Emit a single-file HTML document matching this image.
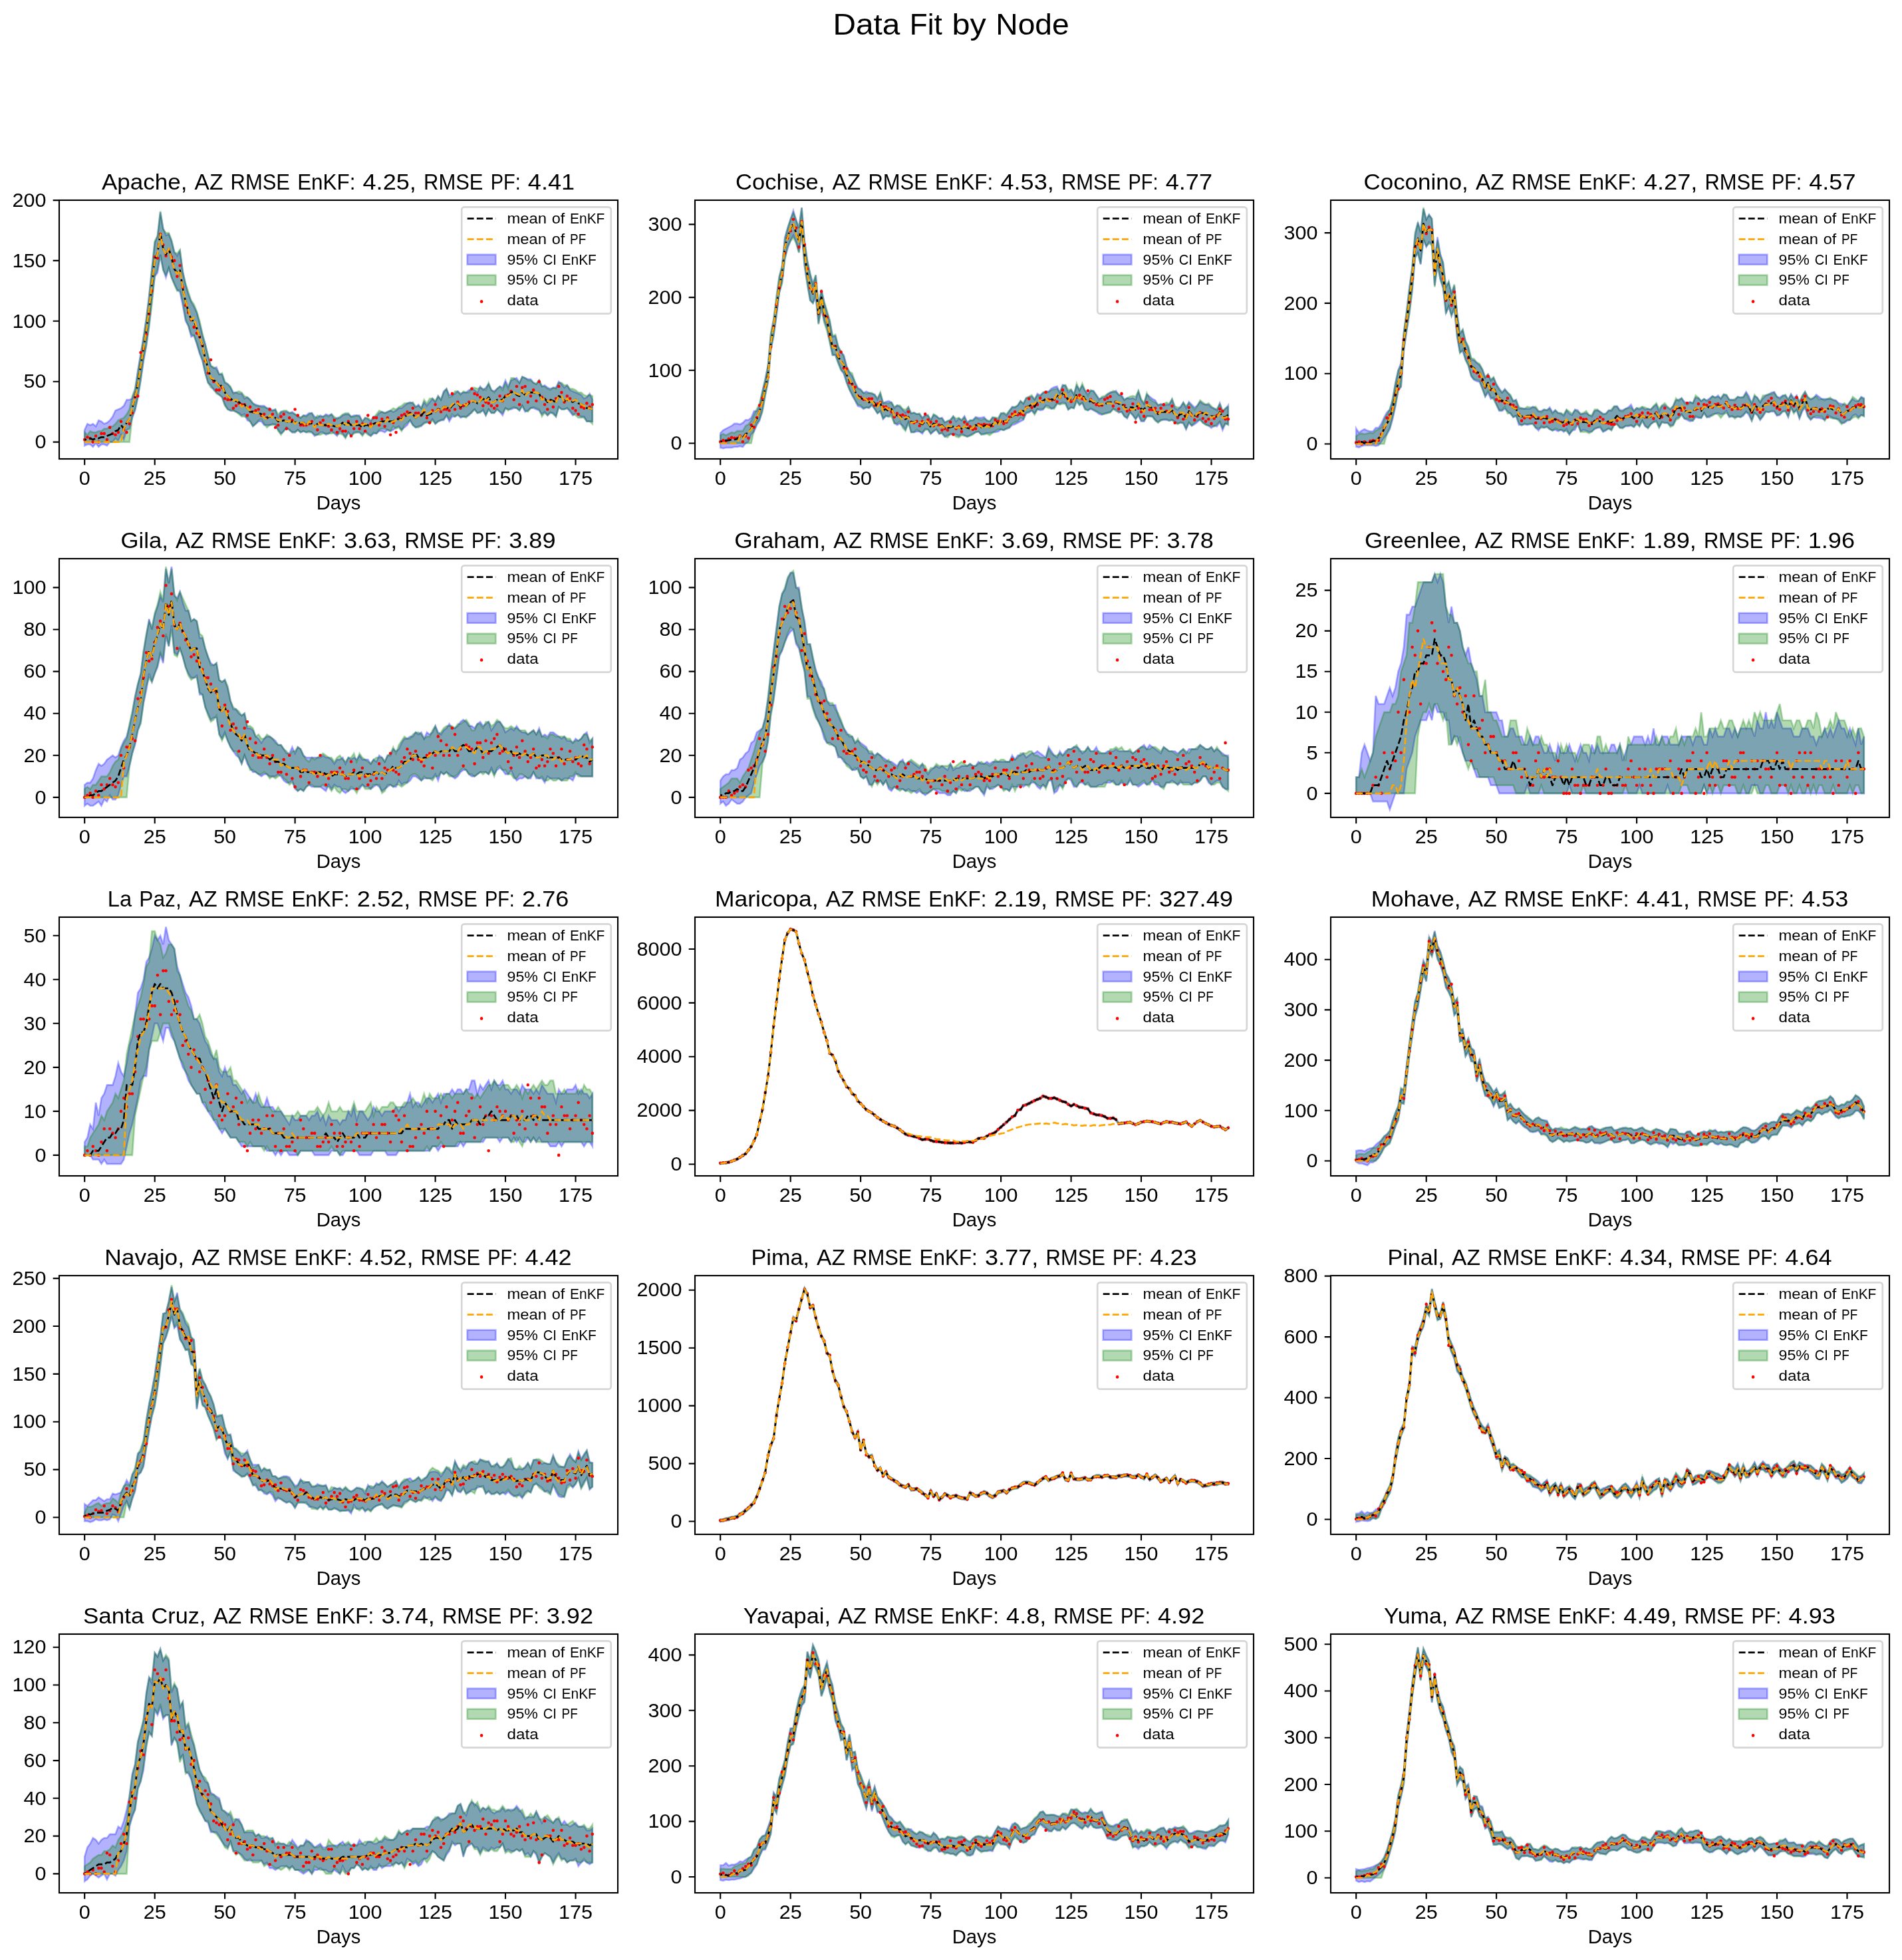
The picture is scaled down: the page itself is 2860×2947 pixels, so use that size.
<!DOCTYPE html>
<html lang="en"><head><meta charset="utf-8"><title>Data Fit by Node</title>
<style>
html,body{margin:0;padding:0;background:#fff}
body{width:2860px;height:2947px;overflow:hidden}
svg{display:block;will-change:transform;font-family:"Liberation Sans",sans-serif;fill:#000}
.b{fill-opacity:.3;stroke-opacity:.3;stroke-width:2.67;stroke-linejoin:miter}
.l{fill:none;stroke-width:2.67;stroke-dasharray:9.87 4.27;stroke-linejoin:round}
.k{stroke-dashoffset:7}
.d{fill:none;stroke:#f00;stroke-width:4.6;stroke-linecap:round}
.s{fill:none;stroke:#000;stroke-width:2.13;stroke-linecap:butt;stroke-linejoin:miter}
.lf{fill:#fff;fill-opacity:.8;stroke:#ccc;stroke-opacity:.8;stroke-width:2.67}
</style></head><body>
<svg width="2860" height="2947" viewBox="0 0 2860 2947">
<rect width="2860" height="2947" fill="#fff"/>
<text y="51.5" font-size="44.8"><tspan x="1252.4" textLength="100.9" lengthAdjust="spacingAndGlyphs">Data</tspan> <tspan x="1367.8" textLength="49" lengthAdjust="spacingAndGlyphs">Fit</tspan> <tspan x="1431.4" textLength="51.3" lengthAdjust="spacingAndGlyphs">by</tspan> <tspan x="1497.3" textLength="110.4" lengthAdjust="spacingAndGlyphs">Node</tspan></text>
<g>
<polygon class="b" fill="#00f" stroke="#00f" points="127.2,646.4 131.4,637.3 135.6,639.2 139.8,637.3 144.1,641 148.3,631.9 152.5,633.7 156.7,637.3 160.9,635.5 165.2,631.9 169.4,626.4 173.6,617.3 177.8,615.5 182,613.7 186.2,610.1 190.5,601 194.7,601 198.9,599.2 203.1,586.4 207.3,557.4 211.6,531.9 215.8,506.5 220,479.2 224.2,444.7 228.4,404.7 232.7,364.7 236.9,355.6 241.1,319.2 245.3,342.9 249.5,353.8 253.8,352 258,362.9 262.2,379.2 266.4,384.7 270.6,377.4 274.8,408.3 279.1,428.3 283.3,442.8 287.5,453.7 291.7,461 295.9,470.1 300.2,486.5 304.4,504.6 308.6,517.4 312.8,535.5 317,550.1 321.3,553.7 325.5,551.9 329.7,562.8 333.9,562.8 338.1,575.5 342.4,577.4 346.6,582.8 350.8,590.1 355,590.1 359.2,591.9 363.4,591.9 367.7,599.2 371.9,597.3 376.1,601 380.3,606.4 384.5,608.3 388.8,610.1 393,610.1 397.2,610.1 401.4,613.7 405.6,613.7 409.9,617.3 414.1,615.5 418.3,628.2 422.5,619.2 426.7,619.2 430.9,619.2 435.2,621 439.4,619.2 443.6,622.8 447.8,626.4 452,628.2 456.3,624.6 460.5,624.6 464.7,621 468.9,621 473.1,626.4 477.4,628.2 481.6,624.6 485.8,626.4 490,622.8 494.2,624.6 498.5,622.8 502.7,630.1 506.9,628.2 511.1,628.2 515.3,624.6 519.5,622.8 523.8,622.8 528,626.4 532.2,624.6 536.4,624.6 540.6,624.6 544.9,633.7 549.1,628.2 553.3,630.1 557.5,633.7 561.7,626.4 566,626.4 570.2,621 574.4,619.2 578.6,621 582.8,619.2 587.1,617.3 591.3,619.2 595.5,617.3 599.7,613.7 603.9,613.7 608.1,610.1 612.4,606.4 616.6,604.6 620.8,606.4 625,611.9 629.2,608.3 633.5,613.7 637.7,604.6 641.9,610.1 646.1,604.6 650.3,599.2 654.6,604.6 658.8,595.5 663,601 667.2,588.3 671.4,584.6 675.6,593.7 679.9,593.7 684.1,591.9 688.3,588.3 692.5,591.9 696.7,590.1 701,590.1 705.2,586.4 709.4,584.6 713.6,586.4 717.8,590.1 722.1,581 726.3,586.4 730.5,582.8 734.7,577.4 738.9,586.4 743.2,588.3 747.4,584.6 751.6,581 755.8,582.8 760,571.9 764.2,581 768.5,571.9 772.7,570.1 776.9,568.3 781.1,575.5 785.3,566.4 789.6,568.3 793.8,570.1 798,570.1 802.2,575.5 806.4,577.4 810.7,571.9 814.9,581 819.1,579.2 823.3,582.8 827.5,584.6 831.8,582.8 836,582.8 840.2,573.7 844.4,577.4 848.6,582.8 852.8,579.2 857.1,586.4 861.3,588.3 865.5,590.1 869.7,591.9 873.9,593.7 878.2,599.2 882.4,597.3 886.6,591.9 890.8,601 890.8,633.7 886.6,633.7 882.4,633.7 878.2,626.4 873.9,626.4 869.7,624.6 865.5,621 861.3,624.6 857.1,619.2 852.8,613.7 848.6,615.5 844.4,615.5 840.2,611.9 836,626.4 831.8,621 827.5,621 823.3,624.6 819.1,619.2 814.9,622.8 810.7,617.3 806.4,615.5 802.2,613.7 798,613.7 793.8,617.3 789.6,619.2 785.3,610.1 781.1,617.3 776.9,613.7 772.7,613.7 768.5,615.5 764.2,615.5 760,613.7 755.8,624.6 751.6,619.2 747.4,615.5 743.2,621 738.9,621 734.7,615.5 730.5,624.6 726.3,617.3 722.1,619.2 717.8,621 713.6,615.5 709.4,619.2 705.2,624.6 701,626.4 696.7,626.4 692.5,628.2 688.3,622.8 684.1,626.4 679.9,626.4 675.6,633.7 671.4,624.6 667.2,631.9 663,631.9 658.8,633.7 654.6,637.3 650.3,630.1 646.1,635.5 641.9,635.5 637.7,635.5 633.5,641 629.2,641 625,642.8 620.8,639.2 616.6,631.9 612.4,639.2 608.1,642.8 603.9,646.4 599.7,641 595.5,642.8 591.3,646.4 587.1,648.2 582.8,646.4 578.6,650.1 574.4,648.2 570.2,648.2 566,651.9 561.7,651.9 557.5,655.5 553.3,651.9 549.1,648.2 544.9,653.7 540.6,650.1 536.4,650.1 532.2,650.1 528,655.5 523.8,650.1 519.5,657.3 515.3,651.9 511.1,648.2 506.9,655.5 502.7,651.9 498.5,648.2 494.2,651.9 490,653.7 485.8,650.1 481.6,650.1 477.4,653.7 473.1,655.5 468.9,650.1 464.7,648.2 460.5,650.1 456.3,648.2 452,650.1 447.8,646.4 443.6,650.1 439.4,650.1 435.2,646.4 430.9,642.8 426.7,648.2 422.5,651.9 418.3,646.4 414.1,639.2 409.9,637.3 405.6,639.2 401.4,639.2 397.2,639.2 393,633.7 388.8,633.7 384.5,637.3 380.3,641 376.1,633.7 371.9,631.9 367.7,622.8 363.4,624.6 359.2,621 355,619.2 350.8,617.3 346.6,617.3 342.4,615.5 338.1,608.3 333.9,597.3 329.7,593.7 325.5,590.1 321.3,586.4 317,579.2 312.8,575.5 308.6,561 304.4,542.8 300.2,531.9 295.9,517.4 291.7,504.6 287.5,506.5 283.3,490.1 279.1,482.8 274.8,459.2 270.6,439.2 266.4,435.6 262.2,426.5 258,417.4 253.8,402.9 249.5,417.4 245.3,404.7 241.1,382.9 236.9,410.1 232.7,415.6 228.4,450.1 224.2,488.3 220,519.2 215.8,542.8 211.6,571.9 207.3,597.3 203.1,617.3 198.9,628.2 194.7,644.6 190.5,646.4 186.2,661 182,653.7 177.8,662.8 173.6,659.1 169.4,664.6 165.2,664.6 160.9,670.1 156.7,668.2 152.5,668.2 148.3,671.9 144.1,666.4 139.8,671.9 135.6,668.2 131.4,668.2 127.2,670.1"/>
<polygon class="b" fill="#008000" stroke="#008000" points="127.2,650.1 131.4,653.7 135.6,648.2 139.8,650.1 144.1,650.1 148.3,648.2 152.5,648.2 156.7,644.6 160.9,644.6 165.2,641 169.4,641 173.6,637.3 177.8,631.9 182,630.1 186.2,628.2 190.5,622.8 194.7,615.5 198.9,595.5 203.1,584.6 207.3,559.2 211.6,533.7 215.8,508.3 220,479.2 224.2,446.5 228.4,404.7 232.7,362.9 236.9,353.8 241.1,317.4 245.3,344.7 249.5,350.1 253.8,350.1 258,361 262.2,379.2 266.4,381 270.6,375.6 274.8,408.3 279.1,426.5 283.3,439.2 287.5,451.9 291.7,457.4 295.9,468.3 300.2,482.8 304.4,501 308.6,517.4 312.8,533.7 317,550.1 321.3,551.9 325.5,555.5 329.7,562.8 333.9,561 338.1,573.7 342.4,577.4 346.6,581 350.8,591.9 355,590.1 359.2,588.3 363.4,590.1 367.7,595.5 371.9,597.3 376.1,601 380.3,606.4 384.5,610.1 388.8,610.1 393,611.9 397.2,611.9 401.4,613.7 405.6,617.3 409.9,617.3 414.1,615.5 418.3,622.8 422.5,619.2 426.7,617.3 430.9,617.3 435.2,621 439.4,621 443.6,622.8 447.8,624.6 452,628.2 456.3,624.6 460.5,626.4 464.7,622.8 468.9,621 473.1,630.1 477.4,624.6 481.6,626.4 485.8,626.4 490,624.6 494.2,626.4 498.5,622.8 502.7,626.4 506.9,630.1 511.1,626.4 515.3,622.8 519.5,621 523.8,621 528,626.4 532.2,626.4 536.4,624.6 540.6,626.4 544.9,633.7 549.1,628.2 553.3,628.2 557.5,631.9 561.7,628.2 566,622.8 570.2,617.3 574.4,619.2 578.6,621 582.8,619.2 587.1,617.3 591.3,613.7 595.5,615.5 599.7,611.9 603.9,610.1 608.1,606.4 612.4,606.4 616.6,606.4 620.8,604.6 625,611.9 629.2,610.1 633.5,613.7 637.7,601 641.9,606.4 646.1,599.2 650.3,599.2 654.6,602.8 658.8,595.5 663,601 667.2,590.1 671.4,584.6 675.6,597.3 679.9,595.5 684.1,588.3 688.3,588.3 692.5,593.7 696.7,588.3 701,590.1 705.2,590.1 709.4,582.8 713.6,582.8 717.8,584.6 722.1,582.8 726.3,584.6 730.5,586.4 734.7,575.5 738.9,586.4 743.2,590.1 747.4,584.6 751.6,581 755.8,586.4 760,575.5 764.2,584.6 768.5,568.3 772.7,568.3 776.9,571.9 781.1,575.5 785.3,566.4 789.6,568.3 793.8,571.9 798,571.9 802.2,575.5 806.4,577.4 810.7,571.9 814.9,581 819.1,581 823.3,584.6 827.5,586.4 831.8,582.8 836,584.6 840.2,575.5 844.4,575.5 848.6,579.2 852.8,579.2 857.1,584.6 861.3,584.6 865.5,586.4 869.7,590.1 873.9,590.1 878.2,593.7 882.4,595.5 886.6,593.7 890.8,595.5 890.8,637.3 886.6,633.7 882.4,633.7 878.2,628.2 873.9,628.2 869.7,628.2 865.5,624.6 861.3,622.8 857.1,617.3 852.8,613.7 848.6,615.5 844.4,615.5 840.2,611.9 836,626.4 831.8,622.8 827.5,619.2 823.3,624.6 819.1,621 814.9,626.4 810.7,615.5 806.4,613.7 802.2,611.9 798,613.7 793.8,619.2 789.6,617.3 785.3,610.1 781.1,617.3 776.9,613.7 772.7,611.9 768.5,613.7 764.2,617.3 760,613.7 755.8,621 751.6,619.2 747.4,615.5 743.2,621 738.9,621 734.7,615.5 730.5,624.6 726.3,615.5 722.1,621 717.8,621 713.6,615.5 709.4,621 705.2,622.8 701,628.2 696.7,626.4 692.5,626.4 688.3,624.6 684.1,626.4 679.9,622.8 675.6,630.1 671.4,624.6 667.2,630.1 663,631.9 658.8,633.7 654.6,637.3 650.3,631.9 646.1,637.3 641.9,633.7 637.7,637.3 633.5,639.2 629.2,642.8 625,642.8 620.8,639.2 616.6,631.9 612.4,635.5 608.1,639.2 603.9,648.2 599.7,642.8 595.5,644.6 591.3,641 587.1,648.2 582.8,646.4 578.6,644.6 574.4,644.6 570.2,646.4 566,651.9 561.7,650.1 557.5,655.5 553.3,653.7 549.1,650.1 544.9,655.5 540.6,650.1 536.4,650.1 532.2,651.9 528,655.5 523.8,650.1 519.5,659.1 515.3,653.7 511.1,651.9 506.9,653.7 502.7,650.1 498.5,651.9 494.2,651.9 490,651.9 485.8,651.9 481.6,653.7 477.4,653.7 473.1,653.7 468.9,650.1 464.7,650.1 460.5,650.1 456.3,648.2 452,650.1 447.8,646.4 443.6,650.1 439.4,650.1 435.2,646.4 430.9,642.8 426.7,648.2 422.5,653.7 418.3,648.2 414.1,637.3 409.9,639.2 405.6,639.2 401.4,642.8 397.2,637.3 393,630.1 388.8,631.9 384.5,637.3 380.3,641 376.1,633.7 371.9,628.2 367.7,626.4 363.4,626.4 359.2,622.8 355,619.2 350.8,617.3 346.6,617.3 342.4,615.5 338.1,610.1 333.9,597.3 329.7,593.7 325.5,591.9 321.3,584.6 317,582.8 312.8,575.5 308.6,561 304.4,541 300.2,530.1 295.9,515.5 291.7,504.6 287.5,502.8 283.3,490.1 279.1,479.2 274.8,453.7 270.6,435.6 266.4,437.4 262.2,428.3 258,417.4 253.8,402.9 249.5,413.8 245.3,406.5 241.1,382.9 236.9,404.7 232.7,415.6 228.4,457.4 224.2,491.9 220,519.2 215.8,541 211.6,570.1 207.3,597.3 203.1,615.5 198.9,626.4 194.7,664.6 190.5,664.6 186.2,664.6 182,664.6 177.8,664.6 173.6,664.6 169.4,664.6 165.2,664.6 160.9,664.6 156.7,664.6 152.5,664.6 148.3,664.6 144.1,664.6 139.8,664.6 135.6,664.6 131.4,664.6 127.2,664.6"/>
<path class="d" d="M127.2 661h0M131.4 657.3h0M135.6 659.1h0M139.8 664.6h0M144.1 655.5h0M148.3 664.6h0M152.5 651.9h0M156.7 651.9h0M160.9 661h0M165.2 642.8h0M169.4 651.9h0M173.6 653.7h0M177.8 650.1h0M182 633.7h0M186.2 646.4h0M190.5 650.1h0M194.7 637.3h0M198.9 621h0M203.1 597.3h0M207.3 595.5h0M211.6 530.1h0M215.8 524.6h0M220 502.8h0M224.2 471.9h0M228.4 437.4h0M232.7 386.5h0M236.9 388.3h0M241.1 352h0M245.3 368.3h0M249.5 384.7h0M253.8 375.6h0M258 386.5h0M262.2 391.9h0M266.4 415.6h0M270.6 399.2h0M274.8 431.9h0M279.1 459.2h0M283.3 470.1h0M287.5 481h0M291.7 491.9h0M295.9 501h0M300.2 506.5h0M304.4 519.2h0M308.6 542.8h0M312.8 561h0M317 541h0M321.3 573.7h0M325.5 586.4h0M329.7 586.4h0M333.9 582.8h0M338.1 599.2h0M342.4 601h0M346.6 601h0M350.8 613.7h0M355 610.1h0M359.2 606.4h0M363.4 608.3h0M367.7 608.3h0M371.9 624.6h0M376.1 611.9h0M380.3 619.2h0M384.5 617.3h0M388.8 615.5h0M393 624.6h0M397.2 622.8h0M401.4 628.2h0M405.6 615.5h0M409.9 622.8h0M414.1 642.8h0M418.3 639.2h0M422.5 626.4h0M426.7 622.8h0M430.9 644.6h0M435.2 628.2h0M439.4 631.9h0M443.6 615.5h0M447.8 624.6h0M452 639.2h0M456.3 639.2h0M460.5 639.2h0M464.7 637.3h0M468.9 633.7h0M473.1 641h0M477.4 646.4h0M481.6 635.5h0M485.8 631.9h0M490 639.2h0M494.2 641h0M498.5 646.4h0M502.7 631.9h0M506.9 650.1h0M511.1 644.6h0M515.3 648.2h0M519.5 648.2h0M523.8 633.7h0M528 655.5h0M532.2 644.6h0M536.4 633.7h0M540.6 644.6h0M544.9 637.3h0M549.1 648.2h0M553.3 624.6h0M557.5 637.3h0M561.7 628.2h0M566 628.2h0M570.2 639.2h0M574.4 630.1h0M578.6 641h0M582.8 628.2h0M587.1 653.7h0M591.3 635.5h0M595.5 650.1h0M599.7 628.2h0M603.9 624.6h0M608.1 622.8h0M612.4 619.2h0M616.6 621h0M620.8 613.7h0M625 621h0M629.2 621h0M633.5 624.6h0M637.7 619.2h0M641.9 628.2h0M646.1 635.5h0M650.3 617.3h0M654.6 608.3h0M658.8 615.5h0M663 619.2h0M667.2 615.5h0M671.4 615.5h0M675.6 617.3h0M679.9 591.9h0M684.1 615.5h0M688.3 604.6h0M692.5 613.7h0M696.7 610.1h0M701 608.3h0M705.2 604.6h0M709.4 584.6h0M713.6 591.9h0M717.8 593.7h0M722.1 597.3h0M726.3 610.1h0M730.5 604.6h0M734.7 606.4h0M738.9 610.1h0M743.2 613.7h0M747.4 610.1h0M751.6 595.5h0M755.8 602.8h0M760 595.5h0M764.2 593.7h0M768.5 588.3h0M772.7 601h0M776.9 581h0M781.1 608.3h0M785.3 582.8h0M789.6 581h0M793.8 604.6h0M798 595.5h0M802.2 586.4h0M806.4 602.8h0M810.7 573.7h0M814.9 597.3h0M819.1 608.3h0M823.3 615.5h0M827.5 602.8h0M831.8 611.9h0M836 599.2h0M840.2 581h0M844.4 590.1h0M848.6 604.6h0M852.8 595.5h0M857.1 599.2h0M861.3 613.7h0M865.5 617.3h0M869.7 622.8h0M873.9 611.9h0M878.2 613.7h0M882.4 606.4h0M886.6 611.9h0M890.8 608.3h0"/>
<polyline class="l k" stroke="#000" points="127.2,661 131.4,661 135.6,659.1 139.8,661 144.1,659.1 148.3,659.1 152.5,657.3 156.7,657.3 160.9,655.5 165.2,653.7 169.4,651.9 173.6,648.2 177.8,646.4 182,639.2 186.2,644.6 190.5,635.5 194.7,630.1 198.9,613.7 203.1,597.3 207.3,577.4 211.6,550.1 215.8,524.6 220,497.4 224.2,466.5 228.4,428.3 232.7,390.1 236.9,381 241.1,350.1 245.3,373.8 249.5,382.9 253.8,373.8 258,388.3 262.2,404.7 266.4,410.1 270.6,406.5 274.8,433.8 279.1,453.7 283.3,468.3 287.5,481 291.7,482.8 295.9,493.7 300.2,506.5 304.4,519.2 308.6,539.2 312.8,553.7 317,568.3 321.3,571.9 325.5,573.7 329.7,581 333.9,579.2 338.1,590.1 342.4,595.5 346.6,599.2 350.8,602.8 355,602.8 359.2,604.6 363.4,608.3 367.7,608.3 371.9,613.7 376.1,619.2 380.3,619.2 384.5,621 388.8,621 393,622.8 397.2,628.2 401.4,628.2 405.6,626.4 409.9,626.4 414.1,628.2 418.3,633.7 422.5,633.7 426.7,631.9 430.9,633.7 435.2,635.5 439.4,633.7 443.6,635.5 447.8,633.7 452,637.3 456.3,635.5 460.5,639.2 464.7,635.5 468.9,637.3 473.1,641 477.4,637.3 481.6,637.3 485.8,639.2 490,639.2 494.2,639.2 498.5,639.2 502.7,641 506.9,641 511.1,639.2 515.3,635.5 519.5,639.2 523.8,635.5 528,639.2 532.2,639.2 536.4,639.2 540.6,639.2 544.9,642.8 549.1,639.2 553.3,639.2 557.5,642.8 561.7,637.3 566,635.5 570.2,635.5 574.4,633.7 578.6,633.7 582.8,633.7 587.1,633.7 591.3,633.7 595.5,630.1 599.7,630.1 603.9,630.1 608.1,626.4 612.4,624.6 616.6,621 620.8,622.8 625,628.2 629.2,624.6 633.5,624.6 637.7,619.2 641.9,624.6 646.1,622.8 650.3,621 654.6,619.2 658.8,615.5 663,615.5 667.2,611.9 671.4,611.9 675.6,615.5 679.9,610.1 684.1,606.4 688.3,606.4 692.5,611.9 696.7,608.3 701,610.1 705.2,606.4 709.4,604.6 713.6,602.8 717.8,606.4 722.1,602.8 726.3,599.2 730.5,602.8 734.7,597.3 738.9,604.6 743.2,604.6 747.4,601 751.6,601 755.8,601 760,595.5 764.2,595.5 768.5,590.1 772.7,588.3 776.9,593.7 781.1,595.5 785.3,590.1 789.6,593.7 793.8,590.1 798,590.1 802.2,590.1 806.4,591.9 810.7,591.9 814.9,601 819.1,599.2 823.3,604.6 827.5,601 831.8,602.8 836,604.6 840.2,595.5 844.4,597.3 848.6,602.8 852.8,601 857.1,602.8 861.3,604.6 865.5,601 869.7,606.4 873.9,608.3 878.2,610.1 882.4,613.7 886.6,613.7 890.8,615.5"/>
<polyline class="l" stroke="#ffa500" points="127.2,664.6 131.4,664.6 135.6,664.6 139.8,664.6 144.1,664.6 148.3,664.6 152.5,664.6 156.7,664.6 160.9,664.6 165.2,664.6 169.4,664.6 173.6,664.6 177.8,664.6 182,664.6 186.2,644.6 190.5,635.5 194.7,630.1 198.9,611.9 203.1,597.3 207.3,579.2 211.6,550.1 215.8,524.6 220,497.4 224.2,464.7 228.4,426.5 232.7,391.9 236.9,381 241.1,352 245.3,373.8 249.5,382.9 253.8,373.8 258,390.1 262.2,404.7 266.4,411.9 270.6,406.5 274.8,433.8 279.1,453.7 283.3,466.5 287.5,481 291.7,477.4 295.9,493.7 300.2,506.5 304.4,519.2 308.6,541 312.8,553.7 317,568.3 321.3,570.1 325.5,575.5 329.7,581 333.9,579.2 338.1,591.9 342.4,595.5 346.6,599.2 350.8,602.8 355,601 359.2,604.6 363.4,611.9 367.7,608.3 371.9,613.7 376.1,617.3 380.3,619.2 384.5,621 388.8,621 393,622.8 397.2,628.2 401.4,630.1 405.6,624.6 409.9,628.2 414.1,628.2 418.3,631.9 422.5,631.9 426.7,631.9 430.9,633.7 435.2,633.7 439.4,631.9 443.6,637.3 447.8,633.7 452,635.5 456.3,635.5 460.5,641 464.7,633.7 468.9,637.3 473.1,642.8 477.4,635.5 481.6,639.2 485.8,639.2 490,639.2 494.2,637.3 498.5,639.2 502.7,639.2 506.9,641 511.1,639.2 515.3,635.5 519.5,637.3 523.8,639.2 528,637.3 532.2,639.2 536.4,637.3 540.6,637.3 544.9,639.2 549.1,637.3 553.3,637.3 557.5,642.8 561.7,637.3 566,637.3 570.2,635.5 574.4,635.5 578.6,635.5 582.8,630.1 587.1,635.5 591.3,633.7 595.5,631.9 599.7,630.1 603.9,631.9 608.1,626.4 612.4,624.6 616.6,622.8 620.8,622.8 625,628.2 629.2,624.6 633.5,621 637.7,615.5 641.9,622.8 646.1,621 650.3,617.3 654.6,619.2 658.8,615.5 663,617.3 667.2,611.9 671.4,611.9 675.6,613.7 679.9,608.3 684.1,604.6 688.3,606.4 692.5,610.1 696.7,606.4 701,610.1 705.2,604.6 709.4,602.8 713.6,602.8 717.8,606.4 722.1,602.8 726.3,597.3 730.5,602.8 734.7,599.2 738.9,604.6 743.2,604.6 747.4,601 751.6,602.8 755.8,602.8 760,595.5 764.2,595.5 768.5,591.9 772.7,590.1 776.9,591.9 781.1,593.7 785.3,586.4 789.6,595.5 793.8,590.1 798,590.1 802.2,590.1 806.4,590.1 810.7,591.9 814.9,601 819.1,599.2 823.3,602.8 827.5,604.6 831.8,602.8 836,604.6 840.2,595.5 844.4,595.5 848.6,604.6 852.8,599.2 857.1,604.6 861.3,602.8 865.5,601 869.7,604.6 873.9,608.3 878.2,610.1 882.4,613.7 886.6,613.7 890.8,615.5"/>
<rect class="s" x="89" y="301" width="840" height="389"/>
<path class="s" d="M127.2 690v9.33M232.7 690v9.33M338.1 690v9.33M443.6 690v9.33M549.1 690v9.33M654.6 690v9.33M760 690v9.33M865.5 690v9.33M89 664.6h-9.33M89 573.7h-9.33M89 482.8h-9.33M89 391.9h-9.33M89 301.1h-9.33"/>
<g font-size="29.9">
<text x="127.2" y="728.9" text-anchor="middle" textLength="17" lengthAdjust="spacingAndGlyphs">0</text>
<text x="232.7" y="728.9" text-anchor="middle" textLength="33.9" lengthAdjust="spacingAndGlyphs">25</text>
<text x="338.1" y="728.9" text-anchor="middle" textLength="33.9" lengthAdjust="spacingAndGlyphs">50</text>
<text x="443.6" y="728.9" text-anchor="middle" textLength="33.9" lengthAdjust="spacingAndGlyphs">75</text>
<text x="549.1" y="728.9" text-anchor="middle" textLength="50.9" lengthAdjust="spacingAndGlyphs">100</text>
<text x="654.6" y="728.9" text-anchor="middle" textLength="50.9" lengthAdjust="spacingAndGlyphs">125</text>
<text x="760" y="728.9" text-anchor="middle" textLength="50.9" lengthAdjust="spacingAndGlyphs">150</text>
<text x="865.5" y="728.9" text-anchor="middle" textLength="50.9" lengthAdjust="spacingAndGlyphs">175</text>
<text x="69.5" y="674.3" text-anchor="end" textLength="17" lengthAdjust="spacingAndGlyphs">0</text>
<text x="69.5" y="583.4" text-anchor="end" textLength="33.9" lengthAdjust="spacingAndGlyphs">50</text>
<text x="69.5" y="492.5" text-anchor="end" textLength="50.9" lengthAdjust="spacingAndGlyphs">100</text>
<text x="69.5" y="401.6" text-anchor="end" textLength="50.9" lengthAdjust="spacingAndGlyphs">150</text>
<text x="69.5" y="310.8" text-anchor="end" textLength="50.9" lengthAdjust="spacingAndGlyphs">200</text>
<text x="509" y="765.6" text-anchor="middle" textLength="66.6" lengthAdjust="spacingAndGlyphs">Days</text>
</g>
<text y="285" font-size="33.6"><tspan x="152.9" textLength="128.5" lengthAdjust="spacingAndGlyphs">Apache,</tspan> <tspan x="292.6" textLength="42.8" lengthAdjust="spacingAndGlyphs">AZ</tspan> <tspan x="346.6" textLength="89.4" lengthAdjust="spacingAndGlyphs">RMSE</tspan> <tspan x="447.2" textLength="87.2" lengthAdjust="spacingAndGlyphs">EnKF:</tspan> <tspan x="545.5" textLength="80.4" lengthAdjust="spacingAndGlyphs">4.25,</tspan> <tspan x="637.1" textLength="89.4" lengthAdjust="spacingAndGlyphs">RMSE</tspan> <tspan x="737.7" textLength="45" lengthAdjust="spacingAndGlyphs">PF:</tspan> <tspan x="793.8" textLength="70.3" lengthAdjust="spacingAndGlyphs">4.41</tspan></text>
<g transform="translate(694.2,311.3)">
<rect class="lf" x="0" y="0" width="224.6" height="160.4" rx="4.3"/>
<path class="l" stroke="#000" d="M8.5 17.3H51.2"/>
<path class="l" stroke="#ffa500" d="M8.5 48.3H51.2"/>
<rect class="b" fill="#00f" stroke="#00f" x="8.5" y="71.5" width="42.67" height="14.93"/>
<rect class="b" fill="#008000" stroke="#008000" x="8.5" y="102.4" width="42.67" height="14.93"/>
<path class="d" d="M29.9 142.1h0"/>
<text y="24.6" font-size="22.4"><tspan x="68.3" textLength="59.5" lengthAdjust="spacingAndGlyphs">mean</tspan> <tspan x="135.6" textLength="19.6" lengthAdjust="spacingAndGlyphs">of</tspan> <tspan x="162.9" textLength="52.3" lengthAdjust="spacingAndGlyphs">EnKF</tspan></text>
<text y="55.6" font-size="22.4"><tspan x="68.3" textLength="59.5" lengthAdjust="spacingAndGlyphs">mean</tspan> <tspan x="135.6" textLength="19.6" lengthAdjust="spacingAndGlyphs">of</tspan> <tspan x="162.9" textLength="24.1" lengthAdjust="spacingAndGlyphs">PF</tspan></text>
<text y="86.3" font-size="22.4"><tspan x="68.3" textLength="46.4" lengthAdjust="spacingAndGlyphs">95%</tspan> <tspan x="122.5" textLength="20.2" lengthAdjust="spacingAndGlyphs">CI</tspan> <tspan x="150.4" textLength="52.3" lengthAdjust="spacingAndGlyphs">EnKF</tspan></text>
<text y="117.1" font-size="22.4"><tspan x="68.3" textLength="46.4" lengthAdjust="spacingAndGlyphs">95%</tspan> <tspan x="122.5" textLength="20.2" lengthAdjust="spacingAndGlyphs">CI</tspan> <tspan x="150.4" textLength="24.1" lengthAdjust="spacingAndGlyphs">PF</tspan></text>
<text y="147.8" font-size="22.4"><tspan x="68.3" textLength="47.1" lengthAdjust="spacingAndGlyphs">data</tspan></text>
</g>
</g>
<g>
<polygon class="b" fill="#00f" stroke="#00f" points="1083.2,651.1 1087.4,646.8 1091.6,644.6 1095.8,642.4 1100.1,640.2 1104.3,636.9 1108.5,636.9 1112.7,638 1116.9,635.8 1121.2,631.4 1125.4,631.4 1129.6,628.1 1133.8,618.2 1138,618.2 1142.2,610.6 1146.5,588.6 1150.7,570 1154.9,550.2 1159.1,503 1163.3,482.2 1167.6,449.3 1171.8,416.4 1176,401 1180.2,357.1 1184.4,342.9 1188.7,329.7 1192.9,316.6 1197.1,330.8 1201.3,342.9 1205.5,312.2 1209.8,362.6 1214,392.2 1218.2,412 1222.4,427.4 1226.6,414.2 1230.8,459.2 1235.1,436.1 1239.3,454.8 1243.5,470.1 1247.7,483.3 1251.9,506.3 1256.2,505.2 1260.4,521.7 1264.6,529.4 1268.8,533.8 1273,550.2 1277.3,560.1 1281.5,565.6 1285.7,574.4 1289.9,583.1 1294.1,585.3 1298.4,590.8 1302.6,588.6 1306.8,590.8 1311,591.9 1315.2,593 1319.4,600.7 1323.7,591.9 1327.9,606.2 1332.1,604 1336.3,602.9 1340.5,605.1 1344.8,613.8 1349,609.5 1353.2,611.6 1357.4,616 1361.6,620.4 1365.9,612.7 1370.1,621.5 1374.3,620.4 1378.5,622.6 1382.7,622.6 1386.9,628.1 1391.2,623.7 1395.4,624.8 1399.6,631.4 1403.8,623.7 1408,625.9 1412.3,629.2 1416.5,628.1 1420.7,634.7 1424.9,633.6 1429.1,631.4 1433.4,625.9 1437.6,633.6 1441.8,629.2 1446,631.4 1450.2,625.9 1454.5,634.7 1458.7,632.5 1462.9,631.4 1467.1,627 1471.3,628.1 1475.5,628.1 1479.8,627 1484,632.5 1488.2,633.6 1492.4,628.1 1496.6,628.1 1500.9,631.4 1505.1,621.5 1509.3,621.5 1513.5,624.8 1517.7,618.2 1522,611.6 1526.2,612.7 1530.4,609.5 1534.6,602.9 1538.8,607.3 1543.1,598.5 1547.3,597.4 1551.5,596.3 1555.7,600.7 1559.9,591.9 1564.1,594.1 1568.4,590.8 1572.6,588.6 1576.8,588.6 1581,584.2 1585.2,582 1589.5,580.9 1593.7,590.8 1597.9,578.7 1602.1,579.8 1606.3,589.7 1610.6,586.4 1614.8,593 1619,579.8 1623.2,586.4 1627.4,579.8 1631.6,587.5 1635.9,591.9 1640.1,587.5 1644.3,587.5 1648.5,594.1 1652.7,599.6 1657,598.5 1661.2,597.4 1665.4,593 1669.6,589.7 1673.8,589.7 1678.1,587.5 1682.3,594.1 1686.5,594.1 1690.7,600.7 1694.9,598.5 1699.2,599.6 1703.4,598.5 1707.6,600.7 1711.8,588.6 1716,601.8 1720.2,607.3 1724.5,593 1728.7,596.3 1732.9,599.6 1737.1,601.8 1741.3,609.5 1745.6,607.3 1749.8,609.5 1754,608.4 1758.2,608.4 1762.4,600.7 1766.7,613.8 1770.9,616 1775.1,611.6 1779.3,605.1 1783.5,613.8 1787.8,604 1792,608.4 1796.2,612.7 1800.4,609.5 1804.6,604 1808.8,607.3 1813.1,608.4 1817.3,608.4 1821.5,612.7 1825.7,613.8 1829.9,617.1 1834.2,606.2 1838.4,618.2 1842.6,614.9 1846.8,609.5 1846.8,638 1842.6,636.9 1838.4,646.8 1834.2,634.7 1829.9,641.3 1825.7,640.2 1821.5,643.5 1817.3,640.2 1813.1,638 1808.8,635.8 1804.6,630.3 1800.4,634.7 1796.2,638 1792,640.2 1787.8,635.8 1783.5,645.7 1779.3,635.8 1775.1,635.8 1770.9,636.9 1766.7,633.6 1762.4,631.4 1758.2,632.5 1754,631.4 1749.8,631.4 1745.6,631.4 1741.3,634.7 1737.1,631.4 1732.9,625.9 1728.7,625.9 1724.5,625.9 1720.2,633.6 1716,633.6 1711.8,624.8 1707.6,630.3 1703.4,624.8 1699.2,619.3 1694.9,629.2 1690.7,625.9 1686.5,619.3 1682.3,620.4 1678.1,616 1673.8,614.9 1669.6,619.3 1665.4,620.4 1661.2,621.5 1657,623.7 1652.7,622.6 1648.5,619.3 1644.3,617.1 1640.1,614.9 1635.9,617.1 1631.6,614.9 1627.4,606.2 1623.2,608.4 1619,601.8 1614.8,613.8 1610.6,612.7 1606.3,616 1602.1,606.2 1597.9,605.1 1593.7,607.3 1589.5,606.2 1585.2,612.7 1581,614.9 1576.8,610.6 1572.6,609.5 1568.4,616 1564.1,617.1 1559.9,614.9 1555.7,621.5 1551.5,617.1 1547.3,620.4 1543.1,621.5 1538.8,631.4 1534.6,633.6 1530.4,635.8 1526.2,638 1522,639.1 1517.7,643.5 1513.5,644.6 1509.3,646.8 1505.1,645.7 1500.9,648.9 1496.6,650 1492.4,650 1488.2,651.1 1484,651.1 1479.8,652.2 1475.5,653.3 1471.3,648.9 1467.1,650 1462.9,652.2 1458.7,654.4 1454.5,656.6 1450.2,654.4 1446,652.2 1441.8,655.5 1437.6,653.3 1433.4,652.2 1429.1,653.3 1424.9,654.4 1420.7,656.6 1416.5,651.1 1412.3,652.2 1408,645.7 1403.8,648.9 1399.6,652.2 1395.4,645.7 1391.2,644.6 1386.9,652.2 1382.7,648.9 1378.5,648.9 1374.3,650 1370.1,650 1365.9,634.7 1361.6,645.7 1357.4,640.2 1353.2,636.9 1349,639.1 1344.8,635.8 1340.5,622.6 1336.3,625.9 1332.1,625.9 1327.9,630.3 1323.7,618.2 1319.4,621.5 1315.2,614.9 1311,609.5 1306.8,613.8 1302.6,612.7 1298.4,614.9 1294.1,611.6 1289.9,610.6 1285.7,601.8 1281.5,595.2 1277.3,585.3 1273,575.4 1268.8,562.3 1264.6,555.7 1260.4,544.7 1256.2,533.8 1251.9,533.8 1247.7,512.9 1243.5,493.2 1239.3,482.2 1235.1,462.5 1230.8,486.6 1226.6,447.1 1222.4,455.9 1218.2,451.5 1214,426.3 1209.8,399.9 1205.5,349.5 1201.3,379.1 1197.1,363.7 1192.9,353.9 1188.7,361.5 1184.4,373.6 1180.2,387.9 1176,424.1 1171.8,439.4 1167.6,474.5 1163.3,504.1 1159.1,526.1 1154.9,573.3 1150.7,593 1146.5,616 1142.2,632.5 1138,639.1 1133.8,648.9 1129.6,653.3 1125.4,664.3 1121.2,666.5 1116.9,672 1112.7,670.9 1108.5,672 1104.3,672 1100.1,673.1 1095.8,673.1 1091.6,673.1 1087.4,674.2 1083.2,673.1"/>
<polygon class="b" fill="#008000" stroke="#008000" points="1083.2,654.4 1087.4,652.2 1091.6,654.4 1095.8,652.2 1100.1,650 1104.3,651.1 1108.5,647.9 1112.7,647.9 1116.9,647.9 1121.2,640.2 1125.4,638 1129.6,632.5 1133.8,623.7 1138,614.9 1142.2,606.2 1146.5,587.5 1150.7,571.1 1154.9,548 1159.1,500.9 1163.3,478.9 1167.6,444.9 1171.8,415.3 1176,399.9 1180.2,359.3 1184.4,342.9 1188.7,329.7 1192.9,319.8 1197.1,330.8 1201.3,342.9 1205.5,312.2 1209.8,362.6 1214,392.2 1218.2,410.9 1222.4,427.4 1226.6,413.1 1230.8,459.2 1235.1,435 1239.3,453.7 1243.5,466.8 1247.7,481.1 1251.9,505.2 1256.2,503 1260.4,520.6 1264.6,528.3 1268.8,536 1273,551.3 1277.3,559 1281.5,561.2 1285.7,575.4 1289.9,584.2 1294.1,586.4 1298.4,590.8 1302.6,591.9 1306.8,590.8 1311,590.8 1315.2,594.1 1319.4,598.5 1323.7,589.7 1327.9,605.1 1332.1,606.2 1336.3,606.2 1340.5,605.1 1344.8,611.6 1349,609.5 1353.2,609.5 1357.4,614.9 1361.6,616 1365.9,611.6 1370.1,621.5 1374.3,620.4 1378.5,622.6 1382.7,621.5 1386.9,629.2 1391.2,624.8 1395.4,623.7 1399.6,632.5 1403.8,622.6 1408,624.8 1412.3,629.2 1416.5,629.2 1420.7,635.8 1424.9,632.5 1429.1,631.4 1433.4,625.9 1437.6,629.2 1441.8,628.1 1446,632.5 1450.2,627 1454.5,636.9 1458.7,631.4 1462.9,632.5 1467.1,628.1 1471.3,630.3 1475.5,631.4 1479.8,629.2 1484,631.4 1488.2,633.6 1492.4,627 1496.6,628.1 1500.9,628.1 1505.1,621.5 1509.3,620.4 1513.5,622.6 1517.7,617.1 1522,612.7 1526.2,611.6 1530.4,609.5 1534.6,602.9 1538.8,606.2 1543.1,598.5 1547.3,596.3 1551.5,594.1 1555.7,600.7 1559.9,594.1 1564.1,596.3 1568.4,589.7 1572.6,588.6 1576.8,589.7 1581,586.4 1585.2,585.3 1589.5,584.2 1593.7,589.7 1597.9,579.8 1602.1,578.7 1606.3,586.4 1610.6,585.3 1614.8,593 1619,576.5 1623.2,587.5 1627.4,576.5 1631.6,587.5 1635.9,595.2 1640.1,586.4 1644.3,588.6 1648.5,594.1 1652.7,601.8 1657,596.3 1661.2,595.2 1665.4,591.9 1669.6,590.8 1673.8,587.5 1678.1,589.7 1682.3,593 1686.5,596.3 1690.7,601.8 1694.9,598.5 1699.2,596.3 1703.4,595.2 1707.6,596.3 1711.8,587.5 1716,599.6 1720.2,606.2 1724.5,590.8 1728.7,599.6 1732.9,602.9 1737.1,605.1 1741.3,608.4 1745.6,608.4 1749.8,607.3 1754,605.1 1758.2,607.3 1762.4,599.6 1766.7,610.6 1770.9,612.7 1775.1,612.7 1779.3,605.1 1783.5,610.6 1787.8,606.2 1792,610.6 1796.2,616 1800.4,610.6 1804.6,601.8 1808.8,605.1 1813.1,608.4 1817.3,606.2 1821.5,610.6 1825.7,614.9 1829.9,614.9 1834.2,607.3 1838.4,618.2 1842.6,613.8 1846.8,611.6 1846.8,639.1 1842.6,636.9 1838.4,643.5 1834.2,633.6 1829.9,638 1825.7,641.3 1821.5,640.2 1817.3,640.2 1813.1,639.1 1808.8,635.8 1804.6,631.4 1800.4,632.5 1796.2,635.8 1792,640.2 1787.8,634.7 1783.5,644.6 1779.3,636.9 1775.1,634.7 1770.9,638 1766.7,635.8 1762.4,631.4 1758.2,632.5 1754,630.3 1749.8,630.3 1745.6,632.5 1741.3,635.8 1737.1,632.5 1732.9,627 1728.7,625.9 1724.5,625.9 1720.2,632.5 1716,632.5 1711.8,622.6 1707.6,630.3 1703.4,623.7 1699.2,620.4 1694.9,628.1 1690.7,625.9 1686.5,619.3 1682.3,619.3 1678.1,618.2 1673.8,614.9 1669.6,620.4 1665.4,621.5 1661.2,622.6 1657,622.6 1652.7,620.4 1648.5,618.2 1644.3,616 1640.1,613.8 1635.9,617.1 1631.6,616 1627.4,605.1 1623.2,609.5 1619,604 1614.8,613.8 1610.6,612.7 1606.3,616 1602.1,607.3 1597.9,607.3 1593.7,608.4 1589.5,607.3 1585.2,614.9 1581,613.8 1576.8,613.8 1572.6,611.6 1568.4,614.9 1564.1,614.9 1559.9,616 1555.7,623.7 1551.5,617.1 1547.3,619.3 1543.1,620.4 1538.8,630.3 1534.6,628.1 1530.4,633.6 1526.2,634.7 1522,636.9 1517.7,642.4 1513.5,644.6 1509.3,646.8 1505.1,645.7 1500.9,645.7 1496.6,647.9 1492.4,651.1 1488.2,654.4 1484,652.2 1479.8,653.3 1475.5,653.3 1471.3,648.9 1467.1,650 1462.9,653.3 1458.7,655.5 1454.5,656.6 1450.2,655.5 1446,654.4 1441.8,657.7 1437.6,656.6 1433.4,653.3 1429.1,652.2 1424.9,657.7 1420.7,656.6 1416.5,651.1 1412.3,652.2 1408,645.7 1403.8,647.9 1399.6,652.2 1395.4,645.7 1391.2,646.8 1386.9,650 1382.7,648.9 1378.5,645.7 1374.3,650 1370.1,650 1365.9,635.8 1361.6,647.9 1357.4,643.5 1353.2,633.6 1349,636.9 1344.8,636.9 1340.5,625.9 1336.3,627 1332.1,624.8 1327.9,629.2 1323.7,618.2 1319.4,621.5 1315.2,614.9 1311,608.4 1306.8,612.7 1302.6,612.7 1298.4,613.8 1294.1,609.5 1289.9,608.4 1285.7,601.8 1281.5,593 1277.3,586.4 1273,574.4 1268.8,560.1 1264.6,556.8 1260.4,546.9 1256.2,533.8 1251.9,533.8 1247.7,515.1 1243.5,497.6 1239.3,485.5 1235.1,462.5 1230.8,487.7 1226.6,441.6 1222.4,455.9 1218.2,451.5 1214,428.5 1209.8,398.8 1205.5,349.5 1201.3,380.2 1197.1,365.9 1192.9,357.1 1188.7,362.6 1184.4,370.3 1180.2,390.1 1176,426.3 1171.8,440.5 1167.6,472.3 1163.3,506.3 1159.1,525 1154.9,574.4 1150.7,595.2 1146.5,619.3 1142.2,630.3 1138,636.9 1133.8,646.8 1129.6,666.5 1125.4,666.5 1121.2,666.5 1116.9,666.5 1112.7,666.5 1108.5,666.5 1104.3,666.5 1100.1,666.5 1095.8,666.5 1091.6,666.5 1087.4,666.5 1083.2,666.5"/>
<path class="d" d="M1083.2 664.3h0M1087.4 662.1h0M1091.6 663.2h0M1095.8 659.9h0M1100.1 657.7h0M1104.3 658.8h0M1108.5 658.8h0M1112.7 655.5h0M1116.9 664.3h0M1121.2 655.5h0M1125.4 658.8h0M1129.6 639.1h0M1133.8 642.4h0M1138 628.1h0M1142.2 609.5h0M1146.5 598.5h0M1150.7 582h0M1154.9 566.7h0M1159.1 521.7h0M1163.3 491h0M1167.6 458.1h0M1171.8 432.8h0M1176 414.2h0M1180.2 380.2h0M1184.4 358.2h0M1188.7 347.3h0M1192.9 329.7h0M1197.1 342.9h0M1201.3 371.4h0M1205.5 333h0M1209.8 368.1h0M1214 404.3h0M1218.2 432.8h0M1222.4 436.1h0M1226.6 426.3h0M1230.8 471.2h0M1235.1 438.3h0M1239.3 473.4h0M1243.5 476.7h0M1247.7 505.2h0M1251.9 520.6h0M1256.2 520.6h0M1260.4 534.9h0M1264.6 529.4h0M1268.8 553.5h0M1273 554.6h0M1277.3 575.4h0M1281.5 577.6h0M1285.7 582h0M1289.9 595.2h0M1294.1 597.4h0M1298.4 600.7h0M1302.6 600.7h0M1306.8 599.6h0M1311 599.6h0M1315.2 609.5h0M1319.4 607.3h0M1323.7 605.1h0M1327.9 611.6h0M1332.1 611.6h0M1336.3 614.9h0M1340.5 619.3h0M1344.8 627h0M1349 621.5h0M1353.2 624.8h0M1357.4 623.7h0M1361.6 625.9h0M1365.9 619.3h0M1370.1 634.7h0M1374.3 635.8h0M1378.5 633.6h0M1382.7 640.2h0M1386.9 633.6h0M1391.2 622.6h0M1395.4 631.4h0M1399.6 634.7h0M1403.8 640.2h0M1408 633.6h0M1412.3 639.1h0M1416.5 646.8h0M1420.7 644.6h0M1424.9 646.8h0M1429.1 634.7h0M1433.4 653.3h0M1437.6 644.6h0M1441.8 641.3h0M1446 648.9h0M1450.2 634.7h0M1454.5 638h0M1458.7 641.3h0M1462.9 645.7h0M1467.1 644.6h0M1471.3 638h0M1475.5 639.1h0M1479.8 638h0M1484 639.1h0M1488.2 639.1h0M1492.4 640.2h0M1496.6 631.4h0M1500.9 633.6h0M1505.1 633.6h0M1509.3 636.9h0M1513.5 634.7h0M1517.7 627h0M1522 622.6h0M1526.2 619.3h0M1530.4 623.7h0M1534.6 622.6h0M1538.8 623.7h0M1543.1 612.7h0M1547.3 599.6h0M1551.5 612.7h0M1555.7 609.5h0M1559.9 608.4h0M1564.1 598.5h0M1568.4 604h0M1572.6 589.7h0M1576.8 600.7h0M1581 601.8h0M1585.2 600.7h0M1589.5 604h0M1593.7 597.4h0M1597.9 586.4h0M1602.1 596.3h0M1606.3 600.7h0M1610.6 604h0M1614.8 601.8h0M1619 597.4h0M1623.2 594.1h0M1627.4 599.6h0M1631.6 601.8h0M1635.9 587.5h0M1640.1 600.7h0M1644.3 605.1h0M1648.5 608.4h0M1652.7 609.5h0M1657 609.5h0M1661.2 600.7h0M1665.4 598.5h0M1669.6 596.3h0M1673.8 610.6h0M1678.1 605.1h0M1682.3 614.9h0M1686.5 591.9h0M1690.7 609.5h0M1694.9 618.2h0M1699.2 616h0M1703.4 607.3h0M1707.6 634.7h0M1711.8 613.8h0M1716 619.3h0M1720.2 625.9h0M1724.5 605.1h0M1728.7 616h0M1732.9 616h0M1737.1 613.8h0M1741.3 620.4h0M1745.6 613.8h0M1749.8 608.4h0M1754 618.2h0M1758.2 619.3h0M1762.4 610.6h0M1766.7 635.8h0M1770.9 628.1h0M1775.1 621.5h0M1779.3 630.3h0M1783.5 624.8h0M1787.8 612.7h0M1792 624.8h0M1796.2 631.4h0M1800.4 625.9h0M1804.6 620.4h0M1808.8 629.2h0M1813.1 633.6h0M1817.3 630.3h0M1821.5 636.9h0M1825.7 629.2h0M1829.9 624.8h0M1834.2 614.9h0M1838.4 618.2h0M1842.6 630.3h0M1846.8 630.3h0"/>
<polyline class="l k" stroke="#000" points="1083.2,664.3 1087.4,663.2 1091.6,662.1 1095.8,662.1 1100.1,661 1104.3,661 1108.5,659.9 1112.7,656.6 1116.9,657.7 1121.2,652.2 1125.4,651.1 1129.6,644.6 1133.8,635.8 1138,629.2 1142.2,618.2 1146.5,602.9 1150.7,583.1 1154.9,563.4 1159.1,516.2 1163.3,492.1 1167.6,460.3 1171.8,431.7 1176,410.9 1180.2,371.4 1184.4,356 1188.7,342.9 1192.9,336.3 1197.1,350.6 1201.3,361.5 1205.5,334.1 1209.8,381.3 1214,412 1218.2,430.6 1222.4,441.6 1226.6,427.4 1230.8,472.3 1235.1,447.1 1239.3,469 1243.5,482.2 1247.7,502 1251.9,522.8 1256.2,520.6 1260.4,537.1 1264.6,542.5 1268.8,549.1 1273,563.4 1277.3,572.2 1281.5,577.6 1285.7,588.6 1289.9,595.2 1294.1,598.5 1298.4,600.7 1302.6,600.7 1306.8,605.1 1311,602.9 1315.2,606.2 1319.4,611.6 1323.7,606.2 1327.9,617.1 1332.1,614.9 1336.3,618.2 1340.5,614.9 1344.8,623.7 1349,624.8 1353.2,625.9 1357.4,629.2 1361.6,630.3 1365.9,627 1370.1,634.7 1374.3,634.7 1378.5,633.6 1382.7,635.8 1386.9,638 1391.2,633.6 1395.4,635.8 1399.6,642.4 1403.8,636.9 1408,638 1412.3,641.3 1416.5,639.1 1420.7,644.6 1424.9,643.5 1429.1,642.4 1433.4,641.3 1437.6,642.4 1441.8,642.4 1446,644.6 1450.2,640.2 1454.5,643.5 1458.7,644.6 1462.9,643.5 1467.1,639.1 1471.3,640.2 1475.5,642.4 1479.8,640.2 1484,639.1 1488.2,642.4 1492.4,638 1496.6,633.6 1500.9,636.9 1505.1,632.5 1509.3,633.6 1513.5,632.5 1517.7,630.3 1522,625.9 1526.2,623.7 1530.4,623.7 1534.6,618.2 1538.8,618.2 1543.1,612.7 1547.3,610.6 1551.5,608.4 1555.7,611.6 1559.9,604 1564.1,604 1568.4,602.9 1572.6,599.6 1576.8,602.9 1581,600.7 1585.2,600.7 1589.5,594.1 1593.7,598.5 1597.9,590.8 1602.1,594.1 1606.3,601.8 1610.6,599.6 1614.8,601.8 1619,593 1623.2,599.6 1627.4,593 1631.6,600.7 1635.9,605.1 1640.1,602.9 1644.3,605.1 1648.5,604 1652.7,608.4 1657,608.4 1661.2,608.4 1665.4,605.1 1669.6,605.1 1673.8,604 1678.1,604 1682.3,607.3 1686.5,606.2 1690.7,612.7 1694.9,613.8 1699.2,612.7 1703.4,612.7 1707.6,616 1711.8,606.2 1716,614.9 1720.2,616 1724.5,608.4 1728.7,611.6 1732.9,613.8 1737.1,618.2 1741.3,622.6 1745.6,619.3 1749.8,619.3 1754,619.3 1758.2,619.3 1762.4,617.1 1766.7,623.7 1770.9,625.9 1775.1,622.6 1779.3,621.5 1783.5,629.2 1787.8,618.2 1792,622.6 1796.2,624.8 1800.4,624.8 1804.6,619.3 1808.8,621.5 1813.1,622.6 1817.3,624.8 1821.5,625.9 1825.7,625.9 1829.9,627 1834.2,619.3 1838.4,627 1842.6,627 1846.8,623.7"/>
<polyline class="l" stroke="#ffa500" points="1083.2,666.5 1087.4,666.5 1091.6,666.5 1095.8,666.5 1100.1,666.5 1104.3,666.5 1108.5,666.5 1112.7,655.5 1116.9,659.9 1121.2,653.3 1125.4,650 1129.6,645.7 1133.8,635.8 1138,628.1 1142.2,618.2 1146.5,604 1150.7,583.1 1154.9,566.7 1159.1,516.2 1163.3,491 1167.6,458.1 1171.8,430.6 1176,410.9 1180.2,371.4 1184.4,357.1 1188.7,341.8 1192.9,335.2 1197.1,351.7 1201.3,363.7 1205.5,333 1209.8,379.1 1214,413.1 1218.2,430.6 1222.4,440.5 1226.6,426.3 1230.8,471.2 1235.1,448.2 1239.3,467.9 1243.5,482.2 1247.7,502 1251.9,521.7 1256.2,522.8 1260.4,536 1264.6,543.6 1268.8,549.1 1273,561.2 1277.3,570 1281.5,578.7 1285.7,589.7 1289.9,597.4 1294.1,599.6 1298.4,598.5 1302.6,600.7 1306.8,606.2 1311,602.9 1315.2,608.4 1319.4,611.6 1323.7,605.1 1327.9,618.2 1332.1,612.7 1336.3,616 1340.5,613.8 1344.8,624.8 1349,623.7 1353.2,627 1357.4,631.4 1361.6,627 1365.9,628.1 1370.1,635.8 1374.3,634.7 1378.5,633.6 1382.7,634.7 1386.9,636.9 1391.2,631.4 1395.4,634.7 1399.6,642.4 1403.8,639.1 1408,638 1412.3,642.4 1416.5,640.2 1420.7,644.6 1424.9,640.2 1429.1,641.3 1433.4,640.2 1437.6,643.5 1441.8,642.4 1446,645.7 1450.2,640.2 1454.5,642.4 1458.7,644.6 1462.9,643.5 1467.1,638 1471.3,639.1 1475.5,641.3 1479.8,644.6 1484,640.2 1488.2,642.4 1492.4,640.2 1496.6,634.7 1500.9,640.2 1505.1,631.4 1509.3,633.6 1513.5,633.6 1517.7,628.1 1522,625.9 1526.2,622.6 1530.4,622.6 1534.6,617.1 1538.8,621.5 1543.1,612.7 1547.3,611.6 1551.5,607.3 1555.7,607.3 1559.9,601.8 1564.1,602.9 1568.4,605.1 1572.6,599.6 1576.8,602.9 1581,602.9 1585.2,599.6 1589.5,591.9 1593.7,598.5 1597.9,589.7 1602.1,591.9 1606.3,602.9 1610.6,597.4 1614.8,602.9 1619,594.1 1623.2,599.6 1627.4,594.1 1631.6,602.9 1635.9,602.9 1640.1,600.7 1644.3,604 1648.5,604 1652.7,608.4 1657,607.3 1661.2,607.3 1665.4,606.2 1669.6,606.2 1673.8,607.3 1678.1,604 1682.3,605.1 1686.5,606.2 1690.7,614.9 1694.9,614.9 1699.2,614.9 1703.4,616 1707.6,613.8 1711.8,606.2 1716,614.9 1720.2,619.3 1724.5,608.4 1728.7,610.6 1732.9,611.6 1737.1,619.3 1741.3,623.7 1745.6,618.2 1749.8,618.2 1754,620.4 1758.2,618.2 1762.4,614.9 1766.7,622.6 1770.9,624.8 1775.1,620.4 1779.3,620.4 1783.5,629.2 1787.8,618.2 1792,624.8 1796.2,627 1800.4,621.5 1804.6,620.4 1808.8,623.7 1813.1,620.4 1817.3,622.6 1821.5,628.1 1825.7,625.9 1829.9,628.1 1834.2,620.4 1838.4,628.1 1842.6,628.1 1846.8,624.8"/>
<rect class="s" x="1045" y="301" width="840" height="389"/>
<path class="s" d="M1083.2 690v9.33M1188.7 690v9.33M1294.1 690v9.33M1399.6 690v9.33M1505.1 690v9.33M1610.6 690v9.33M1716 690v9.33M1821.5 690v9.33M1045 666.5h-9.33M1045 556.8h-9.33M1045 447.1h-9.33M1045 337.4h-9.33"/>
<g font-size="29.9">
<text x="1083.2" y="728.9" text-anchor="middle" textLength="17" lengthAdjust="spacingAndGlyphs">0</text>
<text x="1188.7" y="728.9" text-anchor="middle" textLength="33.9" lengthAdjust="spacingAndGlyphs">25</text>
<text x="1294.1" y="728.9" text-anchor="middle" textLength="33.9" lengthAdjust="spacingAndGlyphs">50</text>
<text x="1399.6" y="728.9" text-anchor="middle" textLength="33.9" lengthAdjust="spacingAndGlyphs">75</text>
<text x="1505.1" y="728.9" text-anchor="middle" textLength="50.9" lengthAdjust="spacingAndGlyphs">100</text>
<text x="1610.6" y="728.9" text-anchor="middle" textLength="50.9" lengthAdjust="spacingAndGlyphs">125</text>
<text x="1716" y="728.9" text-anchor="middle" textLength="50.9" lengthAdjust="spacingAndGlyphs">150</text>
<text x="1821.5" y="728.9" text-anchor="middle" textLength="50.9" lengthAdjust="spacingAndGlyphs">175</text>
<text x="1025.5" y="676.2" text-anchor="end" textLength="17" lengthAdjust="spacingAndGlyphs">0</text>
<text x="1025.5" y="566.5" text-anchor="end" textLength="50.9" lengthAdjust="spacingAndGlyphs">100</text>
<text x="1025.5" y="456.8" text-anchor="end" textLength="50.9" lengthAdjust="spacingAndGlyphs">200</text>
<text x="1025.5" y="347.1" text-anchor="end" textLength="50.9" lengthAdjust="spacingAndGlyphs">300</text>
<text x="1465" y="765.6" text-anchor="middle" textLength="66.6" lengthAdjust="spacingAndGlyphs">Days</text>
</g>
<text y="285" font-size="33.6"><tspan x="1106.1" textLength="134.2" lengthAdjust="spacingAndGlyphs">Cochise,</tspan> <tspan x="1251.5" textLength="42.8" lengthAdjust="spacingAndGlyphs">AZ</tspan> <tspan x="1305.5" textLength="89.4" lengthAdjust="spacingAndGlyphs">RMSE</tspan> <tspan x="1406" textLength="87.2" lengthAdjust="spacingAndGlyphs">EnKF:</tspan> <tspan x="1504.4" textLength="80.4" lengthAdjust="spacingAndGlyphs">4.53,</tspan> <tspan x="1596" textLength="89.4" lengthAdjust="spacingAndGlyphs">RMSE</tspan> <tspan x="1696.5" textLength="45" lengthAdjust="spacingAndGlyphs">PF:</tspan> <tspan x="1752.7" textLength="70.3" lengthAdjust="spacingAndGlyphs">4.77</tspan></text>
<g transform="translate(1650.2,311.3)">
<rect class="lf" x="0" y="0" width="224.6" height="160.4" rx="4.3"/>
<path class="l" stroke="#000" d="M8.5 17.3H51.2"/>
<path class="l" stroke="#ffa500" d="M8.5 48.3H51.2"/>
<rect class="b" fill="#00f" stroke="#00f" x="8.5" y="71.5" width="42.67" height="14.93"/>
<rect class="b" fill="#008000" stroke="#008000" x="8.5" y="102.4" width="42.67" height="14.93"/>
<path class="d" d="M29.9 142.1h0"/>
<text y="24.6" font-size="22.4"><tspan x="68.3" textLength="59.5" lengthAdjust="spacingAndGlyphs">mean</tspan> <tspan x="135.6" textLength="19.6" lengthAdjust="spacingAndGlyphs">of</tspan> <tspan x="162.9" textLength="52.3" lengthAdjust="spacingAndGlyphs">EnKF</tspan></text>
<text y="55.6" font-size="22.4"><tspan x="68.3" textLength="59.5" lengthAdjust="spacingAndGlyphs">mean</tspan> <tspan x="135.6" textLength="19.6" lengthAdjust="spacingAndGlyphs">of</tspan> <tspan x="162.9" textLength="24.1" lengthAdjust="spacingAndGlyphs">PF</tspan></text>
<text y="86.3" font-size="22.4"><tspan x="68.3" textLength="46.4" lengthAdjust="spacingAndGlyphs">95%</tspan> <tspan x="122.5" textLength="20.2" lengthAdjust="spacingAndGlyphs">CI</tspan> <tspan x="150.4" textLength="52.3" lengthAdjust="spacingAndGlyphs">EnKF</tspan></text>
<text y="117.1" font-size="22.4"><tspan x="68.3" textLength="46.4" lengthAdjust="spacingAndGlyphs">95%</tspan> <tspan x="122.5" textLength="20.2" lengthAdjust="spacingAndGlyphs">CI</tspan> <tspan x="150.4" textLength="24.1" lengthAdjust="spacingAndGlyphs">PF</tspan></text>
<text y="147.8" font-size="22.4"><tspan x="68.3" textLength="47.1" lengthAdjust="spacingAndGlyphs">data</tspan></text>
</g>
</g>
<g>
<polygon class="b" fill="#00f" stroke="#00f" points="2039.2,644.2 2043.4,650.6 2047.6,647.4 2051.8,645.3 2056.1,647.4 2060.3,648.5 2064.5,648.5 2068.7,643.2 2072.9,643.2 2077.2,636.8 2081.4,627.3 2085.6,619.9 2089.8,615.7 2094,601.9 2098.2,576.5 2102.5,556.4 2106.7,545.8 2110.9,500.3 2115.1,469.7 2119.3,432.6 2123.6,400.9 2127.8,354.3 2132,334.2 2136.2,348 2140.4,314.1 2144.7,330 2148.9,322.6 2153.1,328.9 2157.3,392.4 2161.5,356.4 2165.8,381.8 2170,394.5 2174.2,431.6 2178.4,424.2 2182.6,441.1 2186.8,429.4 2191.1,472.8 2195.3,501.4 2199.5,496.1 2203.7,513 2207.9,522.6 2212.2,540.5 2216.4,541.6 2220.6,545.8 2224.8,549 2229,555.4 2233.3,568 2237.5,562.8 2241.7,572.3 2245.9,568 2250.1,577.6 2254.4,583.9 2258.6,590.3 2262.8,585 2267,590.3 2271.2,595.6 2275.4,603 2279.7,600.8 2283.9,614.6 2288.1,613.5 2292.3,614.6 2296.5,614.6 2300.8,614.6 2305,611.4 2309.2,613.5 2313.4,618.8 2317.6,617.8 2321.9,615.7 2326.1,616.7 2330.3,612.5 2334.5,619.9 2338.7,616.7 2342.9,620.9 2347.2,622 2351.4,625.2 2355.6,616.7 2359.8,622 2364,624.1 2368.3,615.7 2372.5,616.7 2376.7,623.1 2380.9,622 2385.1,620.9 2389.4,624.1 2393.6,626.2 2397.8,617.8 2402,616.7 2406.2,618.8 2410.5,622 2414.7,622 2418.9,616.7 2423.1,617.8 2427.3,611.4 2431.5,610.4 2435.8,616.7 2440,616.7 2444.2,614.6 2448.4,612.5 2452.6,608.3 2456.9,617.8 2461.1,613.5 2465.3,615.7 2469.5,612.5 2473.7,615.7 2478,614.6 2482.2,615.7 2486.4,611.4 2490.6,608.3 2494.8,618.8 2499.1,610.4 2503.3,609.3 2507.5,612.5 2511.7,615.7 2515.9,610.4 2520.1,601.9 2524.4,600.8 2528.6,598.7 2532.8,604 2537,606.1 2541.2,604 2545.5,606.1 2549.7,597.7 2553.9,598.7 2558.1,603 2562.3,599.8 2566.6,601.9 2570.8,598.7 2575,595.6 2579.2,597.7 2583.4,594.5 2587.6,599.8 2591.9,593.4 2596.1,594.5 2600.3,600.8 2604.5,600.8 2608.7,601.9 2613,596.6 2617.2,597.7 2621.4,596.6 2625.6,589.2 2629.8,595.6 2634.1,607.2 2638.3,595.6 2642.5,597.7 2646.7,605.1 2650.9,598.7 2655.2,594.5 2659.4,593.4 2663.6,590.3 2667.8,589.2 2672,596.6 2676.2,597.7 2680.5,594.5 2684.7,594.5 2688.9,600.8 2693.1,592.4 2697.3,598.7 2701.6,594.5 2705.8,604 2710,596.6 2714.2,589.2 2718.4,597.7 2722.7,600.8 2726.9,598.7 2731.1,593.4 2735.3,596.6 2739.5,599.8 2743.8,599.8 2748,599.8 2752.2,599.8 2756.4,600.8 2760.6,601.9 2764.8,606.1 2769.1,607.2 2773.3,608.3 2777.5,611.4 2781.7,604 2785.9,599.8 2790.2,603 2794.4,603 2798.6,596.6 2802.8,598.7 2802.8,625.2 2798.6,624.1 2794.4,627.3 2790.2,623.1 2785.9,625.2 2781.7,631.5 2777.5,632.6 2773.3,635.8 2769.1,635.8 2764.8,630.5 2760.6,629.4 2756.4,628.4 2752.2,626.2 2748,624.1 2743.8,631.5 2739.5,629.4 2735.3,628.4 2731.1,628.4 2726.9,627.3 2722.7,631.5 2718.4,626.2 2714.2,612.5 2710,618.8 2705.8,629.4 2701.6,616.7 2697.3,619.9 2693.1,612.5 2688.9,627.3 2684.7,617.8 2680.5,618.8 2676.2,624.1 2672,625.2 2667.8,618.8 2663.6,618.8 2659.4,619.9 2655.2,618.8 2650.9,626.2 2646.7,631.5 2642.5,624.1 2638.3,620.9 2634.1,632.6 2629.8,624.1 2625.6,618.8 2621.4,625.2 2617.2,627.3 2613,626.2 2608.7,627.3 2604.5,626.2 2600.3,627.3 2596.1,617.8 2591.9,622 2587.6,623.1 2583.4,620.9 2579.2,622 2575,623.1 2570.8,627.3 2566.6,627.3 2562.3,620.9 2558.1,628.4 2553.9,628.4 2549.7,627.3 2545.5,632.6 2541.2,633.6 2537,631.5 2532.8,629.4 2528.6,623.1 2524.4,627.3 2520.1,629.4 2515.9,638.9 2511.7,640 2507.5,635.8 2503.3,635.8 2499.1,634.7 2494.8,642.1 2490.6,632.6 2486.4,634.7 2482.2,637.9 2478,643.2 2473.7,641 2469.5,632.6 2465.3,641 2461.1,635.8 2456.9,642.1 2452.6,640 2448.4,641 2444.2,641 2440,643.2 2435.8,643.2 2431.5,637.9 2427.3,637.9 2423.1,646.3 2418.9,644.2 2414.7,647.4 2410.5,649.5 2406.2,643.2 2402,643.2 2397.8,645.3 2393.6,648.5 2389.4,649.5 2385.1,647.4 2380.9,646.3 2376.7,648.5 2372.5,637.9 2368.3,646.3 2364,647.4 2359.8,653.7 2355.6,645.3 2351.4,649.5 2347.2,646.3 2342.9,648.5 2338.7,646.3 2334.5,647.4 2330.3,645.3 2326.1,642.1 2321.9,643.2 2317.6,641 2313.4,647.4 2309.2,643.2 2305,636.8 2300.8,637.9 2296.5,638.9 2292.3,637.9 2288.1,638.9 2283.9,638.9 2279.7,625.2 2275.4,627.3 2271.2,622 2267,618.8 2262.8,614.6 2258.6,617.8 2254.4,617.8 2250.1,608.3 2245.9,597.7 2241.7,599.8 2237.5,590.3 2233.3,596.6 2229,583.9 2224.8,574.4 2220.6,573.3 2216.4,571.2 2212.2,565.9 2207.9,549 2203.7,540.5 2199.5,527.8 2195.3,530 2191.1,506.7 2186.8,463.3 2182.6,474.9 2178.4,461.2 2174.2,470.7 2170,433.7 2165.8,419.9 2161.5,397.7 2157.3,429.4 2153.1,367 2148.9,363.9 2144.7,371.3 2140.4,360.7 2136.2,397.7 2132,379.7 2127.8,388.2 2123.6,435.8 2119.3,469.7 2115.1,497.2 2110.9,526.8 2106.7,581.8 2102.5,586 2098.2,611.4 2094,630.5 2089.8,645.3 2085.6,652.7 2081.4,658 2077.2,664.3 2072.9,669.6 2068.7,670.7 2064.5,669.6 2060.3,669.6 2056.1,669.6 2051.8,669.6 2047.6,670.7 2043.4,672.8 2039.2,671.7"/>
<polygon class="b" fill="#008000" stroke="#008000" points="2039.2,655.9 2043.4,652.7 2047.6,651.6 2051.8,652.7 2056.1,651.6 2060.3,650.6 2064.5,651.6 2068.7,647.4 2072.9,645.3 2077.2,642.1 2081.4,630.5 2085.6,623.1 2089.8,615.7 2094,599.8 2098.2,576.5 2102.5,557.5 2106.7,549 2110.9,499.3 2115.1,467.5 2119.3,432.6 2123.6,401.9 2127.8,349 2132,335.3 2136.2,350.1 2140.4,312 2144.7,330 2148.9,323.6 2153.1,328.9 2157.3,392.4 2161.5,360.7 2165.8,384 2170,395.6 2174.2,431.6 2178.4,423.1 2182.6,442.1 2186.8,427.3 2191.1,471.8 2195.3,501.4 2199.5,495 2203.7,513 2207.9,520.4 2212.2,538.4 2216.4,539.5 2220.6,544.8 2224.8,546.9 2229,555.4 2233.3,567 2237.5,562.8 2241.7,570.2 2245.9,567 2250.1,578.6 2254.4,586 2258.6,590.3 2262.8,586 2267,590.3 2271.2,593.4 2275.4,603 2279.7,601.9 2283.9,611.4 2288.1,614.6 2292.3,614.6 2296.5,611.4 2300.8,612.5 2305,612.5 2309.2,611.4 2313.4,617.8 2317.6,619.9 2321.9,615.7 2326.1,616.7 2330.3,614.6 2334.5,622 2338.7,616.7 2342.9,620.9 2347.2,620.9 2351.4,623.1 2355.6,615.7 2359.8,618.8 2364,622 2368.3,616.7 2372.5,618.8 2376.7,622 2380.9,620.9 2385.1,617.8 2389.4,624.1 2393.6,624.1 2397.8,615.7 2402,615.7 2406.2,619.9 2410.5,623.1 2414.7,622 2418.9,617.8 2423.1,615.7 2427.3,610.4 2431.5,611.4 2435.8,617.8 2440,618.8 2444.2,614.6 2448.4,613.5 2452.6,612.5 2456.9,617.8 2461.1,613.5 2465.3,613.5 2469.5,611.4 2473.7,612.5 2478,614.6 2482.2,615.7 2486.4,610.4 2490.6,606.1 2494.8,614.6 2499.1,609.3 2503.3,606.1 2507.5,611.4 2511.7,614.6 2515.9,610.4 2520.1,598.7 2524.4,603 2528.6,598.7 2532.8,606.1 2537,608.3 2541.2,605.1 2545.5,606.1 2549.7,594.5 2553.9,597.7 2558.1,603 2562.3,599.8 2566.6,603 2570.8,600.8 2575,595.6 2579.2,597.7 2583.4,596.6 2587.6,598.7 2591.9,592.4 2596.1,593.4 2600.3,600.8 2604.5,601.9 2608.7,599.8 2613,596.6 2617.2,597.7 2621.4,597.7 2625.6,591.3 2629.8,599.8 2634.1,606.1 2638.3,593.4 2642.5,598.7 2646.7,604 2650.9,594.5 2655.2,594.5 2659.4,592.4 2663.6,592.4 2667.8,590.3 2672,596.6 2676.2,599.8 2680.5,595.6 2684.7,593.4 2688.9,600.8 2693.1,593.4 2697.3,600.8 2701.6,595.6 2705.8,605.1 2710,594.5 2714.2,589.2 2718.4,596.6 2722.7,599.8 2726.9,597.7 2731.1,595.6 2735.3,600.8 2739.5,599.8 2743.8,601.9 2748,599.8 2752.2,597.7 2756.4,601.9 2760.6,603 2764.8,608.3 2769.1,610.4 2773.3,606.1 2777.5,609.3 2781.7,605.1 2785.9,596.6 2790.2,599.8 2794.4,603 2798.6,597.7 2802.8,599.8 2802.8,626.2 2798.6,624.1 2794.4,629.4 2790.2,626.2 2785.9,628.4 2781.7,631.5 2777.5,631.5 2773.3,634.7 2769.1,637.9 2764.8,632.6 2760.6,629.4 2756.4,629.4 2752.2,628.4 2748,626.2 2743.8,632.6 2739.5,626.2 2735.3,626.2 2731.1,625.2 2726.9,627.3 2722.7,630.5 2718.4,625.2 2714.2,611.4 2710,616.7 2705.8,628.4 2701.6,615.7 2697.3,622 2693.1,612.5 2688.9,626.2 2684.7,618.8 2680.5,618.8 2676.2,623.1 2672,624.1 2667.8,617.8 2663.6,617.8 2659.4,619.9 2655.2,618.8 2650.9,625.2 2646.7,630.5 2642.5,624.1 2638.3,620.9 2634.1,632.6 2629.8,620.9 2625.6,619.9 2621.4,623.1 2617.2,627.3 2613,626.2 2608.7,629.4 2604.5,625.2 2600.3,626.2 2596.1,620.9 2591.9,623.1 2587.6,628.4 2583.4,623.1 2579.2,622 2575,625.2 2570.8,625.2 2566.6,627.3 2562.3,620.9 2558.1,628.4 2553.9,627.3 2549.7,625.2 2545.5,632.6 2541.2,631.5 2537,629.4 2532.8,629.4 2528.6,623.1 2524.4,629.4 2520.1,631.5 2515.9,640 2511.7,642.1 2507.5,635.8 2503.3,635.8 2499.1,634.7 2494.8,643.2 2490.6,634.7 2486.4,634.7 2482.2,637.9 2478,644.2 2473.7,640 2469.5,632.6 2465.3,641 2461.1,637.9 2456.9,642.1 2452.6,638.9 2448.4,640 2444.2,640 2440,644.2 2435.8,643.2 2431.5,637.9 2427.3,638.9 2423.1,647.4 2418.9,644.2 2414.7,646.3 2410.5,648.5 2406.2,641 2402,643.2 2397.8,644.2 2393.6,649.5 2389.4,651.6 2385.1,649.5 2380.9,649.5 2376.7,649.5 2372.5,636.8 2368.3,642.1 2364,647.4 2359.8,652.7 2355.6,648.5 2351.4,647.4 2347.2,646.3 2342.9,646.3 2338.7,644.2 2334.5,647.4 2330.3,645.3 2326.1,641 2321.9,643.2 2317.6,643.2 2313.4,644.2 2309.2,643.2 2305,637.9 2300.8,636.8 2296.5,637.9 2292.3,636.8 2288.1,640 2283.9,635.8 2279.7,625.2 2275.4,627.3 2271.2,620.9 2267,622 2262.8,611.4 2258.6,616.7 2254.4,616.7 2250.1,608.3 2245.9,600.8 2241.7,596.6 2237.5,588.1 2233.3,595.6 2229,585 2224.8,572.3 2220.6,571.2 2216.4,570.2 2212.2,564.9 2207.9,550.1 2203.7,541.6 2199.5,525.7 2195.3,531 2191.1,505.6 2186.8,463.3 2182.6,474.9 2178.4,460.1 2174.2,471.8 2170,432.6 2165.8,419.9 2161.5,398.8 2157.3,431.6 2153.1,369.1 2148.9,366 2144.7,370.2 2140.4,358.6 2136.2,396.7 2132,380.8 2127.8,386.1 2123.6,435.8 2119.3,471.8 2115.1,497.2 2110.9,525.7 2106.7,580.7 2102.5,588.1 2098.2,609.3 2094,627.3 2089.8,643.2 2085.6,651.6 2081.4,667.5 2077.2,667.5 2072.9,667.5 2068.7,667.5 2064.5,667.5 2060.3,667.5 2056.1,667.5 2051.8,667.5 2047.6,667.5 2043.4,667.5 2039.2,667.5"/>
<path class="d" d="M2039.2 665.4h0M2043.4 664.3h0M2047.6 667.5h0M2051.8 664.3h0M2056.1 666.4h0M2060.3 663.3h0M2064.5 662.2h0M2068.7 663.3h0M2072.9 662.2h0M2077.2 652.7h0M2081.4 643.2h0M2085.6 628.4h0M2089.8 624.1h0M2094 614.6h0M2098.2 593.4h0M2102.5 585h0M2106.7 561.7h0M2110.9 510.9h0M2115.1 481.3h0M2119.3 453.8h0M2123.6 418.9h0M2127.8 372.3h0M2132 367h0M2136.2 369.1h0M2140.4 344.8h0M2144.7 351.2h0M2148.9 341.6h0M2153.1 345.9h0M2157.3 407.2h0M2161.5 382.9h0M2165.8 400.9h0M2170 418.9h0M2174.2 451.7h0M2178.4 444.3h0M2182.6 459.1h0M2186.8 439h0M2191.1 490.8h0M2195.3 514.1h0M2199.5 509.9h0M2203.7 526.8h0M2207.9 538.4h0M2212.2 551.1h0M2216.4 558.5h0M2220.6 560.6h0M2224.8 565.9h0M2229 572.3h0M2233.3 581.8h0M2237.5 565.9h0M2241.7 586h0M2245.9 577.6h0M2250.1 600.8h0M2254.4 603h0M2258.6 603h0M2262.8 606.1h0M2267 598.7h0M2271.2 608.3h0M2275.4 609.3h0M2279.7 612.5h0M2283.9 623.1h0M2288.1 632.6h0M2292.3 628.4h0M2296.5 626.2h0M2300.8 628.4h0M2305 626.2h0M2309.2 635.8h0M2313.4 628.4h0M2317.6 629.4h0M2321.9 635.8h0M2326.1 626.2h0M2330.3 634.7h0M2334.5 633.6h0M2338.7 630.5h0M2342.9 632.6h0M2347.2 634.7h0M2351.4 640h0M2355.6 637.9h0M2359.8 635.8h0M2364 637.9h0M2368.3 631.5h0M2372.5 636.8h0M2376.7 628.4h0M2380.9 630.5h0M2385.1 630.5h0M2389.4 640h0M2393.6 635.8h0M2397.8 633.6h0M2402 630.5h0M2406.2 627.3h0M2410.5 630.5h0M2414.7 635.8h0M2418.9 636.8h0M2423.1 637.9h0M2427.3 637.9h0M2431.5 632.6h0M2435.8 629.4h0M2440 630.5h0M2444.2 626.2h0M2448.4 625.2h0M2452.6 622h0M2456.9 628.4h0M2461.1 633.6h0M2465.3 624.1h0M2469.5 620.9h0M2473.7 627.3h0M2478 620.9h0M2482.2 623.1h0M2486.4 629.4h0M2490.6 620.9h0M2494.8 626.2h0M2499.1 627.3h0M2503.3 613.5h0M2507.5 624.1h0M2511.7 631.5h0M2515.9 617.8h0M2520.1 614.6h0M2524.4 623.1h0M2528.6 616.7h0M2532.8 613.5h0M2537 606.1h0M2541.2 626.2h0M2545.5 626.2h0M2549.7 615.7h0M2553.9 607.2h0M2558.1 614.6h0M2562.3 608.3h0M2566.6 609.3h0M2570.8 605.1h0M2575 612.5h0M2579.2 608.3h0M2583.4 607.2h0M2587.6 610.4h0M2591.9 613.5h0M2596.1 605.1h0M2600.3 611.4h0M2604.5 615.7h0M2608.7 609.3h0M2613 614.6h0M2617.2 614.6h0M2621.4 609.3h0M2625.6 609.3h0M2629.8 610.4h0M2634.1 619.9h0M2638.3 608.3h0M2642.5 615.7h0M2646.7 619.9h0M2650.9 615.7h0M2655.2 607.2h0M2659.4 603h0M2663.6 598.7h0M2667.8 609.3h0M2672 613.5h0M2676.2 615.7h0M2680.5 606.1h0M2684.7 603h0M2688.9 616.7h0M2693.1 607.2h0M2697.3 610.4h0M2701.6 597.7h0M2705.8 614.6h0M2710 601.9h0M2714.2 595.6h0M2718.4 616.7h0M2722.7 622h0M2726.9 618.8h0M2731.1 614.6h0M2735.3 618.8h0M2739.5 614.6h0M2743.8 618.8h0M2748 627.3h0M2752.2 610.4h0M2756.4 611.4h0M2760.6 620.9h0M2764.8 614.6h0M2769.1 624.1h0M2773.3 627.3h0M2777.5 611.4h0M2781.7 616.7h0M2785.9 613.5h0M2790.2 610.4h0M2794.4 608.3h0M2798.6 608.3h0M2802.8 611.4h0"/>
<polyline class="l k" stroke="#000" points="2039.2,666.4 2043.4,665.4 2047.6,664.3 2051.8,666.4 2056.1,663.3 2060.3,665.4 2064.5,663.3 2068.7,662.2 2072.9,659 2077.2,654.8 2081.4,644.2 2085.6,636.8 2089.8,628.4 2094,614.6 2098.2,593.4 2102.5,574.4 2106.7,562.8 2110.9,513 2115.1,482.4 2119.3,449.6 2123.6,416.8 2127.8,371.3 2132,358.6 2136.2,376.6 2140.4,336.3 2144.7,349 2148.9,343.8 2153.1,345.9 2157.3,409.3 2161.5,376.6 2165.8,401.9 2170,414.6 2174.2,451.7 2178.4,442.1 2182.6,457 2186.8,444.3 2191.1,487.6 2195.3,515.1 2199.5,513 2203.7,527.8 2207.9,535.2 2212.2,551.1 2216.4,553.2 2220.6,559.6 2224.8,560.6 2229,569.1 2233.3,582.9 2237.5,575.5 2241.7,586 2245.9,582.9 2250.1,593.4 2254.4,598.7 2258.6,603 2262.8,600.8 2267,605.1 2271.2,608.3 2275.4,613.5 2279.7,614.6 2283.9,625.2 2288.1,626.2 2292.3,626.2 2296.5,625.2 2300.8,625.2 2305,623.1 2309.2,629.4 2313.4,629.4 2317.6,628.4 2321.9,628.4 2326.1,629.4 2330.3,631.5 2334.5,630.5 2338.7,630.5 2342.9,633.6 2347.2,635.8 2351.4,634.7 2355.6,630.5 2359.8,636.8 2364,634.7 2368.3,631.5 2372.5,631.5 2376.7,634.7 2380.9,634.7 2385.1,634.7 2389.4,635.8 2393.6,637.9 2397.8,632.6 2402,632.6 2406.2,633.6 2410.5,636.8 2414.7,634.7 2418.9,633.6 2423.1,634.7 2427.3,630.5 2431.5,625.2 2435.8,631.5 2440,629.4 2444.2,627.3 2448.4,626.2 2452.6,626.2 2456.9,628.4 2461.1,626.2 2465.3,627.3 2469.5,625.2 2473.7,628.4 2478,627.3 2482.2,626.2 2486.4,623.1 2490.6,620.9 2494.8,630.5 2499.1,623.1 2503.3,620.9 2507.5,624.1 2511.7,628.4 2515.9,623.1 2520.1,613.5 2524.4,613.5 2528.6,613.5 2532.8,617.8 2537,618.8 2541.2,619.9 2545.5,618.8 2549.7,613.5 2553.9,614.6 2558.1,617.8 2562.3,611.4 2566.6,613.5 2570.8,611.4 2575,611.4 2579.2,610.4 2583.4,609.3 2587.6,611.4 2591.9,608.3 2596.1,606.1 2600.3,613.5 2604.5,613.5 2608.7,613.5 2613,611.4 2617.2,613.5 2621.4,611.4 2625.6,608.3 2629.8,611.4 2634.1,622 2638.3,609.3 2642.5,612.5 2646.7,615.7 2650.9,610.4 2655.2,607.2 2659.4,608.3 2663.6,606.1 2667.8,604 2672,611.4 2676.2,610.4 2680.5,606.1 2684.7,605.1 2688.9,612.5 2693.1,601.9 2697.3,609.3 2701.6,604 2705.8,614.6 2710,606.1 2714.2,598.7 2718.4,611.4 2722.7,615.7 2726.9,613.5 2731.1,613.5 2735.3,614.6 2739.5,617.8 2743.8,616.7 2748,614.6 2752.2,613.5 2756.4,615.7 2760.6,616.7 2764.8,615.7 2769.1,622 2773.3,622 2777.5,617.8 2781.7,617.8 2785.9,612.5 2790.2,612.5 2794.4,611.4 2798.6,611.4 2802.8,611.4"/>
<polyline class="l" stroke="#ffa500" points="2039.2,667.5 2043.4,667.5 2047.6,667.5 2051.8,667.5 2056.1,667.5 2060.3,667.5 2064.5,667.5 2068.7,667.5 2072.9,656.9 2077.2,655.9 2081.4,643.2 2085.6,635.8 2089.8,629.4 2094,616.7 2098.2,595.6 2102.5,575.5 2106.7,561.7 2110.9,513 2115.1,482.4 2119.3,450.6 2123.6,416.8 2127.8,371.3 2132,359.6 2136.2,376.6 2140.4,336.3 2144.7,350.1 2148.9,344.8 2153.1,345.9 2157.3,413.6 2161.5,374.4 2165.8,398.8 2170,414.6 2174.2,452.7 2178.4,442.1 2182.6,455.9 2186.8,443.2 2191.1,490.8 2195.3,515.1 2199.5,513 2203.7,525.7 2207.9,536.3 2212.2,551.1 2216.4,554.3 2220.6,560.6 2224.8,560.6 2229,568 2233.3,581.8 2237.5,577.6 2241.7,588.1 2245.9,585 2250.1,592.4 2254.4,599.8 2258.6,600.8 2262.8,604 2267,605.1 2271.2,608.3 2275.4,613.5 2279.7,614.6 2283.9,623.1 2288.1,627.3 2292.3,626.2 2296.5,626.2 2300.8,626.2 2305,622 2309.2,627.3 2313.4,629.4 2317.6,628.4 2321.9,626.2 2326.1,630.5 2330.3,631.5 2334.5,629.4 2338.7,631.5 2342.9,634.7 2347.2,636.8 2351.4,636.8 2355.6,630.5 2359.8,636.8 2364,636.8 2368.3,629.4 2372.5,630.5 2376.7,633.6 2380.9,633.6 2385.1,632.6 2389.4,635.8 2393.6,637.9 2397.8,634.7 2402,631.5 2406.2,633.6 2410.5,636.8 2414.7,634.7 2418.9,633.6 2423.1,632.6 2427.3,631.5 2431.5,627.3 2435.8,631.5 2440,630.5 2444.2,627.3 2448.4,626.2 2452.6,625.2 2456.9,626.2 2461.1,623.1 2465.3,629.4 2469.5,625.2 2473.7,627.3 2478,628.4 2482.2,625.2 2486.4,625.2 2490.6,620.9 2494.8,627.3 2499.1,623.1 2503.3,620.9 2507.5,623.1 2511.7,627.3 2515.9,620.9 2520.1,611.4 2524.4,612.5 2528.6,610.4 2532.8,620.9 2537,618.8 2541.2,617.8 2545.5,618.8 2549.7,613.5 2553.9,613.5 2558.1,616.7 2562.3,611.4 2566.6,612.5 2570.8,612.5 2575,611.4 2579.2,608.3 2583.4,611.4 2587.6,611.4 2591.9,608.3 2596.1,605.1 2600.3,613.5 2604.5,612.5 2608.7,614.6 2613,611.4 2617.2,614.6 2621.4,612.5 2625.6,607.2 2629.8,609.3 2634.1,617.8 2638.3,610.4 2642.5,611.4 2646.7,616.7 2650.9,611.4 2655.2,608.3 2659.4,608.3 2663.6,607.2 2667.8,604 2672,611.4 2676.2,610.4 2680.5,609.3 2684.7,606.1 2688.9,613.5 2693.1,603 2697.3,608.3 2701.6,604 2705.8,615.7 2710,609.3 2714.2,598.7 2718.4,612.5 2722.7,616.7 2726.9,613.5 2731.1,614.6 2735.3,616.7 2739.5,618.8 2743.8,615.7 2748,615.7 2752.2,612.5 2756.4,613.5 2760.6,617.8 2764.8,614.6 2769.1,623.1 2773.3,622 2777.5,617.8 2781.7,617.8 2785.9,613.5 2790.2,612.5 2794.4,612.5 2798.6,612.5 2802.8,609.3"/>
<rect class="s" x="2001" y="301" width="840" height="389"/>
<path class="s" d="M2039.2 690v9.33M2144.7 690v9.33M2250.1 690v9.33M2355.6 690v9.33M2461.1 690v9.33M2566.6 690v9.33M2672 690v9.33M2777.5 690v9.33M2001 667.5h-9.33M2001 561.7h-9.33M2001 455.9h-9.33M2001 350.1h-9.33"/>
<g font-size="29.9">
<text x="2039.2" y="728.9" text-anchor="middle" textLength="17" lengthAdjust="spacingAndGlyphs">0</text>
<text x="2144.7" y="728.9" text-anchor="middle" textLength="33.9" lengthAdjust="spacingAndGlyphs">25</text>
<text x="2250.1" y="728.9" text-anchor="middle" textLength="33.9" lengthAdjust="spacingAndGlyphs">50</text>
<text x="2355.6" y="728.9" text-anchor="middle" textLength="33.9" lengthAdjust="spacingAndGlyphs">75</text>
<text x="2461.1" y="728.9" text-anchor="middle" textLength="50.9" lengthAdjust="spacingAndGlyphs">100</text>
<text x="2566.6" y="728.9" text-anchor="middle" textLength="50.9" lengthAdjust="spacingAndGlyphs">125</text>
<text x="2672" y="728.9" text-anchor="middle" textLength="50.9" lengthAdjust="spacingAndGlyphs">150</text>
<text x="2777.5" y="728.9" text-anchor="middle" textLength="50.9" lengthAdjust="spacingAndGlyphs">175</text>
<text x="1981.5" y="677.2" text-anchor="end" textLength="17" lengthAdjust="spacingAndGlyphs">0</text>
<text x="1981.5" y="571.4" text-anchor="end" textLength="50.9" lengthAdjust="spacingAndGlyphs">100</text>
<text x="1981.5" y="465.6" text-anchor="end" textLength="50.9" lengthAdjust="spacingAndGlyphs">200</text>
<text x="1981.5" y="359.8" text-anchor="end" textLength="50.9" lengthAdjust="spacingAndGlyphs">300</text>
<text x="2421" y="765.6" text-anchor="middle" textLength="66.6" lengthAdjust="spacingAndGlyphs">Days</text>
</g>
<text y="285" font-size="33.6"><tspan x="2050.5" textLength="157.3" lengthAdjust="spacingAndGlyphs">Coconino,</tspan> <tspan x="2219" textLength="42.8" lengthAdjust="spacingAndGlyphs">AZ</tspan> <tspan x="2273" textLength="89.4" lengthAdjust="spacingAndGlyphs">RMSE</tspan> <tspan x="2373.5" textLength="87.2" lengthAdjust="spacingAndGlyphs">EnKF:</tspan> <tspan x="2471.9" textLength="80.4" lengthAdjust="spacingAndGlyphs">4.27,</tspan> <tspan x="2563.5" textLength="89.4" lengthAdjust="spacingAndGlyphs">RMSE</tspan> <tspan x="2664" textLength="45" lengthAdjust="spacingAndGlyphs">PF:</tspan> <tspan x="2720.2" textLength="70.3" lengthAdjust="spacingAndGlyphs">4.57</tspan></text>
<g transform="translate(2606.2,311.3)">
<rect class="lf" x="0" y="0" width="224.6" height="160.4" rx="4.3"/>
<path class="l" stroke="#000" d="M8.5 17.3H51.2"/>
<path class="l" stroke="#ffa500" d="M8.5 48.3H51.2"/>
<rect class="b" fill="#00f" stroke="#00f" x="8.5" y="71.5" width="42.67" height="14.93"/>
<rect class="b" fill="#008000" stroke="#008000" x="8.5" y="102.4" width="42.67" height="14.93"/>
<path class="d" d="M29.9 142.1h0"/>
<text y="24.6" font-size="22.4"><tspan x="68.3" textLength="59.5" lengthAdjust="spacingAndGlyphs">mean</tspan> <tspan x="135.6" textLength="19.6" lengthAdjust="spacingAndGlyphs">of</tspan> <tspan x="162.9" textLength="52.3" lengthAdjust="spacingAndGlyphs">EnKF</tspan></text>
<text y="55.6" font-size="22.4"><tspan x="68.3" textLength="59.5" lengthAdjust="spacingAndGlyphs">mean</tspan> <tspan x="135.6" textLength="19.6" lengthAdjust="spacingAndGlyphs">of</tspan> <tspan x="162.9" textLength="24.1" lengthAdjust="spacingAndGlyphs">PF</tspan></text>
<text y="86.3" font-size="22.4"><tspan x="68.3" textLength="46.4" lengthAdjust="spacingAndGlyphs">95%</tspan> <tspan x="122.5" textLength="20.2" lengthAdjust="spacingAndGlyphs">CI</tspan> <tspan x="150.4" textLength="52.3" lengthAdjust="spacingAndGlyphs">EnKF</tspan></text>
<text y="117.1" font-size="22.4"><tspan x="68.3" textLength="46.4" lengthAdjust="spacingAndGlyphs">95%</tspan> <tspan x="122.5" textLength="20.2" lengthAdjust="spacingAndGlyphs">CI</tspan> <tspan x="150.4" textLength="24.1" lengthAdjust="spacingAndGlyphs">PF</tspan></text>
<text y="147.8" font-size="22.4"><tspan x="68.3" textLength="47.1" lengthAdjust="spacingAndGlyphs">data</tspan></text>
</g>
</g>
<g>
<polygon class="b" fill="#00f" stroke="#00f" points="127.2,1180 131.4,1176.8 135.6,1176.8 139.8,1170.5 144.1,1157.9 148.3,1148.4 152.5,1151.6 156.7,1148.4 160.9,1142.1 165.2,1139 169.4,1135.8 173.6,1139 177.8,1135.8 182,1123.2 186.2,1113.7 190.5,1107.4 194.7,1091.6 198.9,1072.7 203.1,1047.5 207.3,1028.6 211.6,1012.8 215.8,981.2 220,956 224.2,930.8 228.4,946.5 232.7,924.4 236.9,911.8 241.1,896.1 245.3,905.5 249.5,855 253.8,877.1 258,851.9 262.2,896.1 266.4,899.2 270.6,889.7 274.8,905.5 279.1,918.1 283.3,918.1 287.5,933.9 291.7,930.8 295.9,933.9 300.2,959.2 304.4,959.2 308.6,974.9 312.8,987.5 317,997 321.3,1000.2 325.5,997 329.7,1022.2 333.9,1025.4 338.1,1022.2 342.4,1034.9 346.6,1053.8 350.8,1066.4 355,1066.4 359.2,1072.7 363.4,1075.9 367.7,1072.7 371.9,1094.8 376.1,1094.8 380.3,1098 384.5,1107.4 388.8,1110.6 393,1116.9 397.2,1110.6 401.4,1107.4 405.6,1107.4 409.9,1110.6 414.1,1113.7 418.3,1120 422.5,1120 426.7,1126.3 430.9,1132.7 435.2,1132.7 439.4,1123.2 443.6,1132.7 447.8,1123.2 452,1126.3 456.3,1135.8 460.5,1139 464.7,1139 468.9,1139 473.1,1139 477.4,1139 481.6,1139 485.8,1135.8 490,1139 494.2,1139 498.5,1142.1 502.7,1148.4 506.9,1142.1 511.1,1142.1 515.3,1139 519.5,1148.4 523.8,1139 528,1142.1 532.2,1139 536.4,1142.1 540.6,1135.8 544.9,1142.1 549.1,1142.1 553.3,1142.1 557.5,1148.4 561.7,1142.1 566,1145.3 570.2,1135.8 574.4,1139 578.6,1145.3 582.8,1135.8 587.1,1135.8 591.3,1126.3 595.5,1129.5 599.7,1126.3 603.9,1116.9 608.1,1110.6 612.4,1110.6 616.6,1107.4 620.8,1107.4 625,1101.1 629.2,1104.3 633.5,1101.1 637.7,1110.6 641.9,1101.1 646.1,1104.3 650.3,1101.1 654.6,1091.6 658.8,1101.1 663,1104.3 667.2,1098 671.4,1094.8 675.6,1088.5 679.9,1094.8 684.1,1094.8 688.3,1091.6 692.5,1085.3 696.7,1082.2 701,1085.3 705.2,1091.6 709.4,1091.6 713.6,1094.8 717.8,1088.5 722.1,1085.3 726.3,1091.6 730.5,1088.5 734.7,1085.3 738.9,1098 743.2,1091.6 747.4,1085.3 751.6,1085.3 755.8,1091.6 760,1101.1 764.2,1098 768.5,1094.8 772.7,1098 776.9,1091.6 781.1,1098 785.3,1101.1 789.6,1101.1 793.8,1104.3 798,1101.1 802.2,1098 806.4,1104.3 810.7,1094.8 814.9,1107.4 819.1,1104.3 823.3,1107.4 827.5,1101.1 831.8,1101.1 836,1104.3 840.2,1107.4 844.4,1110.6 848.6,1107.4 852.8,1113.7 857.1,1113.7 861.3,1116.9 865.5,1110.6 869.7,1113.7 873.9,1110.6 878.2,1104.3 882.4,1101.1 886.6,1116.9 890.8,1110.6 890.8,1167.4 886.6,1167.4 882.4,1167.4 878.2,1167.4 873.9,1167.4 869.7,1164.2 865.5,1164.2 861.3,1173.7 857.1,1170.5 852.8,1170.5 848.6,1170.5 844.4,1173.7 840.2,1170.5 836,1170.5 831.8,1170.5 827.5,1170.5 823.3,1167.4 819.1,1176.8 814.9,1170.5 810.7,1170.5 806.4,1170.5 802.2,1161 798,1170.5 793.8,1170.5 789.6,1167.4 785.3,1170.5 781.1,1170.5 776.9,1173.7 772.7,1167.4 768.5,1157.9 764.2,1164.2 760,1164.2 755.8,1157.9 751.6,1154.7 747.4,1157.9 743.2,1164.2 738.9,1154.7 734.7,1164.2 730.5,1161 726.3,1161 722.1,1161 717.8,1164.2 713.6,1167.4 709.4,1167.4 705.2,1164.2 701,1157.9 696.7,1157.9 692.5,1161 688.3,1167.4 684.1,1170.5 679.9,1167.4 675.6,1164.2 671.4,1161 667.2,1164.2 663,1161 658.8,1173.7 654.6,1164.2 650.3,1170.5 646.1,1170.5 641.9,1170.5 637.7,1170.5 633.5,1173.7 629.2,1170.5 625,1167.4 620.8,1167.4 616.6,1173.7 612.4,1176.8 608.1,1176.8 603.9,1180 599.7,1173.7 595.5,1183.1 591.3,1183.1 587.1,1180 582.8,1183.1 578.6,1186.3 574.4,1189.4 570.2,1183.1 566,1180 561.7,1183.1 557.5,1186.3 553.3,1183.1 549.1,1183.1 544.9,1180 540.6,1186.3 536.4,1186.3 532.2,1186.3 528,1186.3 523.8,1189.4 519.5,1192.6 515.3,1189.4 511.1,1183.1 506.9,1183.1 502.7,1180 498.5,1186.3 494.2,1180 490,1189.4 485.8,1186.3 481.6,1183.1 477.4,1183.1 473.1,1183.1 468.9,1183.1 464.7,1180 460.5,1183.1 456.3,1189.4 452,1186.3 447.8,1189.4 443.6,1186.3 439.4,1173.7 435.2,1176.8 430.9,1176.8 426.7,1173.7 422.5,1167.4 418.3,1164.2 414.1,1167.4 409.9,1167.4 405.6,1167.4 401.4,1164.2 397.2,1164.2 393,1167.4 388.8,1164.2 384.5,1161 380.3,1161 376.1,1154.7 371.9,1148.4 367.7,1135.8 363.4,1148.4 359.2,1139 355,1135.8 350.8,1129.5 346.6,1123.2 342.4,1113.7 338.1,1101.1 333.9,1110.6 329.7,1104.3 325.5,1079 321.3,1079 317,1082.2 312.8,1072.7 308.6,1063.3 304.4,1044.3 300.2,1044.3 295.9,1015.9 291.7,1019.1 287.5,1019.1 283.3,1012.8 279.1,1003.3 274.8,987.5 270.6,974.9 266.4,984.4 262.2,981.2 258,940.2 253.8,971.8 249.5,956 245.3,997 241.1,984.4 236.9,1003.3 232.7,1012.8 228.4,1025.4 224.2,1012.8 220,1038 215.8,1056.9 211.6,1085.3 207.3,1098 203.1,1120 198.9,1132.7 194.7,1151.6 190.5,1167.4 186.2,1167.4 182,1180 177.8,1195.7 173.6,1202.1 169.4,1202.1 165.2,1195.7 160.9,1205.2 156.7,1202.1 152.5,1211.5 148.3,1205.2 144.1,1208.4 139.8,1211.5 135.6,1211.5 131.4,1208.4 127.2,1211.5"/>
<polygon class="b" fill="#008000" stroke="#008000" points="127.2,1186.3 131.4,1183.1 135.6,1186.3 139.8,1180 144.1,1180 148.3,1173.7 152.5,1167.4 156.7,1167.4 160.9,1167.4 165.2,1161 169.4,1151.6 173.6,1145.3 177.8,1142.1 182,1126.3 186.2,1116.9 190.5,1110.6 194.7,1088.5 198.9,1069.6 203.1,1047.5 207.3,1028.6 211.6,1012.8 215.8,978.1 220,952.8 224.2,933.9 228.4,943.4 232.7,921.3 236.9,908.7 241.1,889.7 245.3,902.4 249.5,851.9 253.8,877.1 258,855 262.2,892.9 266.4,902.4 270.6,889.7 274.8,899.2 279.1,908.7 283.3,918.1 287.5,933.9 291.7,930.8 295.9,933.9 300.2,952.8 304.4,956 308.6,974.9 312.8,987.5 317,1000.2 321.3,1000.2 325.5,997 329.7,1022.2 333.9,1025.4 338.1,1022.2 342.4,1031.7 346.6,1053.8 350.8,1063.3 355,1066.4 359.2,1069.6 363.4,1075.9 367.7,1072.7 371.9,1091.6 376.1,1091.6 380.3,1094.8 384.5,1107.4 388.8,1104.3 393,1110.6 397.2,1110.6 401.4,1104.3 405.6,1107.4 409.9,1110.6 414.1,1116.9 418.3,1120 422.5,1120 426.7,1126.3 430.9,1129.5 435.2,1135.8 439.4,1129.5 443.6,1129.5 447.8,1123.2 452,1126.3 456.3,1135.8 460.5,1142.1 464.7,1145.3 468.9,1139 473.1,1142.1 477.4,1139 481.6,1135.8 485.8,1132.7 490,1135.8 494.2,1139 498.5,1139 502.7,1145.3 506.9,1139 511.1,1135.8 515.3,1142.1 519.5,1145.3 523.8,1139 528,1139 532.2,1132.7 536.4,1145.3 540.6,1132.7 544.9,1139 549.1,1142.1 553.3,1145.3 557.5,1148.4 561.7,1142.1 566,1139 570.2,1139 574.4,1139 578.6,1145.3 582.8,1135.8 587.1,1132.7 591.3,1123.2 595.5,1132.7 599.7,1120 603.9,1113.7 608.1,1107.4 612.4,1110.6 616.6,1110.6 620.8,1104.3 625,1101.1 629.2,1101.1 633.5,1104.3 637.7,1110.6 641.9,1107.4 646.1,1107.4 650.3,1098 654.6,1091.6 658.8,1104.3 663,1101.1 667.2,1094.8 671.4,1091.6 675.6,1091.6 679.9,1091.6 684.1,1094.8 688.3,1088.5 692.5,1088.5 696.7,1085.3 701,1082.2 705.2,1088.5 709.4,1098 713.6,1098 717.8,1088.5 722.1,1088.5 726.3,1094.8 730.5,1085.3 734.7,1085.3 738.9,1091.6 743.2,1088.5 747.4,1082.2 751.6,1085.3 755.8,1091.6 760,1094.8 764.2,1094.8 768.5,1091.6 772.7,1094.8 776.9,1094.8 781.1,1098 785.3,1098 789.6,1098 793.8,1104.3 798,1101.1 802.2,1098 806.4,1104.3 810.7,1098 814.9,1107.4 819.1,1107.4 823.3,1110.6 827.5,1104.3 831.8,1104.3 836,1107.4 840.2,1107.4 844.4,1107.4 848.6,1107.4 852.8,1110.6 857.1,1110.6 861.3,1116.9 865.5,1113.7 869.7,1113.7 873.9,1110.6 878.2,1104.3 882.4,1104.3 886.6,1113.7 890.8,1110.6 890.8,1167.4 886.6,1167.4 882.4,1167.4 878.2,1167.4 873.9,1167.4 869.7,1167.4 865.5,1161 861.3,1167.4 857.1,1167.4 852.8,1173.7 848.6,1173.7 844.4,1173.7 840.2,1170.5 836,1173.7 831.8,1173.7 827.5,1170.5 823.3,1173.7 819.1,1173.7 814.9,1167.4 810.7,1170.5 806.4,1167.4 802.2,1161 798,1167.4 793.8,1170.5 789.6,1167.4 785.3,1164.2 781.1,1164.2 776.9,1170.5 772.7,1170.5 768.5,1164.2 764.2,1164.2 760,1157.9 755.8,1157.9 751.6,1151.6 747.4,1154.7 743.2,1167.4 738.9,1157.9 734.7,1164.2 730.5,1161 726.3,1164.2 722.1,1161 717.8,1164.2 713.6,1167.4 709.4,1164.2 705.2,1164.2 701,1157.9 696.7,1154.7 692.5,1157.9 688.3,1164.2 684.1,1167.4 679.9,1167.4 675.6,1167.4 671.4,1161 667.2,1164.2 663,1161 658.8,1167.4 654.6,1167.4 650.3,1173.7 646.1,1170.5 641.9,1170.5 637.7,1167.4 633.5,1173.7 629.2,1167.4 625,1164.2 620.8,1164.2 616.6,1167.4 612.4,1176.8 608.1,1180 603.9,1183.1 599.7,1180 595.5,1180 591.3,1183.1 587.1,1180 582.8,1180 578.6,1189.4 574.4,1192.6 570.2,1180 566,1180 561.7,1180 557.5,1186.3 553.3,1186.3 549.1,1186.3 544.9,1180 540.6,1183.1 536.4,1192.6 532.2,1186.3 528,1183.1 523.8,1189.4 519.5,1186.3 515.3,1186.3 511.1,1192.6 506.9,1189.4 502.7,1183.1 498.5,1189.4 494.2,1183.1 490,1183.1 485.8,1180 481.6,1183.1 477.4,1183.1 473.1,1183.1 468.9,1180 464.7,1180 460.5,1183.1 456.3,1189.4 452,1186.3 447.8,1189.4 443.6,1183.1 439.4,1176.8 435.2,1180 430.9,1173.7 426.7,1170.5 422.5,1164.2 418.3,1167.4 414.1,1170.5 409.9,1167.4 405.6,1170.5 401.4,1164.2 397.2,1161 393,1164.2 388.8,1164.2 384.5,1161 380.3,1157.9 376.1,1157.9 371.9,1145.3 367.7,1135.8 363.4,1148.4 359.2,1139 355,1129.5 350.8,1129.5 346.6,1123.2 342.4,1113.7 338.1,1104.3 333.9,1113.7 329.7,1104.3 325.5,1075.9 321.3,1082.2 317,1085.3 312.8,1075.9 308.6,1063.3 304.4,1044.3 300.2,1041.2 295.9,1019.1 291.7,1019.1 287.5,1022.2 283.3,1015.9 279.1,1003.3 274.8,987.5 270.6,974.9 266.4,987.5 262.2,984.4 258,946.5 253.8,971.8 249.5,952.8 245.3,990.7 241.1,981.2 236.9,1000.2 232.7,1012.8 228.4,1025.4 224.2,1019.1 220,1031.7 215.8,1056.9 211.6,1088.5 207.3,1098 203.1,1116.9 198.9,1132.7 194.7,1151.6 190.5,1198.9 186.2,1198.9 182,1198.9 177.8,1198.9 173.6,1198.9 169.4,1198.9 165.2,1198.9 160.9,1198.9 156.7,1198.9 152.5,1198.9 148.3,1198.9 144.1,1198.9 139.8,1198.9 135.6,1198.9 131.4,1198.9 127.2,1198.9"/>
<path class="d" d="M127.2 1198.9h0M131.4 1195.7h0M135.6 1192.6h0M139.8 1198.9h0M144.1 1189.4h0M148.3 1195.7h0M152.5 1180h0M156.7 1186.3h0M160.9 1180h0M165.2 1170.5h0M169.4 1180h0M173.6 1183.1h0M177.8 1176.8h0M182 1135.8h0M186.2 1154.7h0M190.5 1123.2h0M194.7 1123.2h0M198.9 1110.6h0M203.1 1113.7h0M207.3 1050.6h0M211.6 1041.2h0M215.8 1019.1h0M220 981.2h0M224.2 993.9h0M228.4 990.7h0M232.7 965.5h0M236.9 943.4h0M241.1 933.9h0M245.3 956h0M249.5 880.3h0M253.8 911.8h0M258 892.9h0M262.2 940.2h0M266.4 974.9h0M270.6 937.1h0M274.8 949.7h0M279.1 962.3h0M283.3 968.6h0M287.5 987.5h0M291.7 984.4h0M295.9 993.9h0M300.2 997h0M304.4 1006.5h0M308.6 1019.1h0M312.8 1019.1h0M317 1028.6h0M321.3 1038h0M325.5 1041.2h0M329.7 1063.3h0M333.9 1091.6h0M338.1 1060.1h0M342.4 1069.6h0M346.6 1098h0M350.8 1088.5h0M355 1094.8h0M359.2 1129.5h0M363.4 1110.6h0M367.7 1094.8h0M371.9 1085.3h0M376.1 1110.6h0M380.3 1135.8h0M384.5 1116.9h0M388.8 1139h0M393 1139h0M397.2 1126.3h0M401.4 1139h0M405.6 1148.4h0M409.9 1135.8h0M414.1 1145.3h0M418.3 1161h0M422.5 1161h0M426.7 1142.1h0M430.9 1164.2h0M435.2 1135.8h0M439.4 1170.5h0M443.6 1183.1h0M447.8 1154.7h0M452 1167.4h0M456.3 1157.9h0M460.5 1157.9h0M464.7 1176.8h0M468.9 1161h0M473.1 1161h0M477.4 1167.4h0M481.6 1135.8h0M485.8 1164.2h0M490 1180h0M494.2 1170.5h0M498.5 1161h0M502.7 1161h0M506.9 1161h0M511.1 1154.7h0M515.3 1161h0M519.5 1170.5h0M523.8 1170.5h0M528 1145.3h0M532.2 1157.9h0M536.4 1186.3h0M540.6 1170.5h0M544.9 1154.7h0M549.1 1167.4h0M553.3 1180h0M557.5 1173.7h0M561.7 1164.2h0M566 1170.5h0M570.2 1148.4h0M574.4 1170.5h0M578.6 1154.7h0M582.8 1157.9h0M587.1 1132.7h0M591.3 1157.9h0M595.5 1161h0M599.7 1164.2h0M603.9 1145.3h0M608.1 1139h0M612.4 1126.3h0M616.6 1132.7h0M620.8 1142.1h0M625 1129.5h0M629.2 1142.1h0M633.5 1145.3h0M637.7 1151.6h0M641.9 1135.8h0M646.1 1132.7h0M650.3 1154.7h0M654.6 1135.8h0M658.8 1107.4h0M663 1113.7h0M667.2 1135.8h0M671.4 1120h0M675.6 1135.8h0M679.9 1094.8h0M684.1 1104.3h0M688.3 1135.8h0M692.5 1126.3h0M696.7 1151.6h0M701 1120h0M705.2 1123.2h0M709.4 1126.3h0M713.6 1148.4h0M717.8 1116.9h0M722.1 1116.9h0M726.3 1139h0M730.5 1113.7h0M734.7 1132.7h0M738.9 1116.9h0M743.2 1110.6h0M747.4 1104.3h0M751.6 1132.7h0M755.8 1129.5h0M760 1126.3h0M764.2 1145.3h0M768.5 1154.7h0M772.7 1135.8h0M776.9 1123.2h0M781.1 1139h0M785.3 1113.7h0M789.6 1129.5h0M793.8 1145.3h0M798 1139h0M802.2 1126.3h0M806.4 1154.7h0M810.7 1151.6h0M814.9 1142.1h0M819.1 1151.6h0M823.3 1145.3h0M827.5 1126.3h0M831.8 1132.7h0M836 1151.6h0M840.2 1139h0M844.4 1126.3h0M848.6 1148.4h0M852.8 1142.1h0M857.1 1129.5h0M861.3 1145.3h0M865.5 1139h0M869.7 1148.4h0M873.9 1151.6h0M878.2 1120h0M882.4 1126.3h0M886.6 1148.4h0M890.8 1123.2h0"/>
<polyline class="l k" stroke="#000" points="127.2,1198.9 131.4,1198.9 135.6,1195.7 139.8,1195.7 144.1,1192.6 148.3,1189.4 152.5,1189.4 156.7,1186.3 160.9,1183.1 165.2,1180 169.4,1176.8 173.6,1173.7 177.8,1167.4 182,1154.7 186.2,1142.1 190.5,1135.8 194.7,1123.2 198.9,1104.3 203.1,1082.2 207.3,1063.3 211.6,1053.8 215.8,1015.9 220,993.9 224.2,978.1 228.4,987.5 232.7,965.5 236.9,956 241.1,937.1 245.3,946.5 249.5,905.5 253.8,924.4 258,902.4 262.2,940.2 266.4,946.5 270.6,937.1 274.8,949.7 279.1,956 283.3,968.6 287.5,978.1 291.7,974.9 295.9,974.9 300.2,1003.3 304.4,1009.6 308.6,1022.2 312.8,1034.9 317,1041.2 321.3,1038 325.5,1038 329.7,1066.4 333.9,1069.6 338.1,1063.3 342.4,1075.9 346.6,1088.5 350.8,1098 355,1104.3 359.2,1107.4 363.4,1113.7 367.7,1104.3 371.9,1120 376.1,1129.5 380.3,1129.5 384.5,1132.7 388.8,1132.7 393,1135.8 397.2,1135.8 401.4,1135.8 405.6,1142.1 409.9,1139 414.1,1145.3 418.3,1145.3 422.5,1148.4 426.7,1148.4 430.9,1151.6 435.2,1154.7 439.4,1154.7 443.6,1154.7 447.8,1154.7 452,1161 456.3,1161 460.5,1161 464.7,1161 468.9,1161 473.1,1164.2 477.4,1161 481.6,1161 485.8,1161 490,1164.2 494.2,1164.2 498.5,1167.4 502.7,1164.2 506.9,1164.2 511.1,1164.2 515.3,1164.2 519.5,1167.4 523.8,1164.2 528,1164.2 532.2,1161 536.4,1164.2 540.6,1161 544.9,1161 549.1,1164.2 553.3,1164.2 557.5,1164.2 561.7,1161 566,1161 570.2,1164.2 574.4,1161 578.6,1164.2 582.8,1161 587.1,1157.9 591.3,1151.6 595.5,1154.7 599.7,1154.7 603.9,1151.6 608.1,1145.3 612.4,1145.3 616.6,1142.1 620.8,1135.8 625,1132.7 629.2,1139 633.5,1142.1 637.7,1139 641.9,1139 646.1,1135.8 650.3,1132.7 654.6,1129.5 658.8,1132.7 663,1129.5 667.2,1129.5 671.4,1129.5 675.6,1129.5 679.9,1123.2 684.1,1129.5 688.3,1129.5 692.5,1123.2 696.7,1120 701,1123.2 705.2,1129.5 709.4,1129.5 713.6,1129.5 717.8,1123.2 722.1,1126.3 726.3,1132.7 730.5,1129.5 734.7,1129.5 738.9,1129.5 743.2,1126.3 747.4,1123.2 751.6,1120 755.8,1123.2 760,1129.5 764.2,1132.7 768.5,1129.5 772.7,1135.8 776.9,1135.8 781.1,1132.7 785.3,1135.8 789.6,1132.7 793.8,1135.8 798,1135.8 802.2,1132.7 806.4,1139 810.7,1139 814.9,1135.8 819.1,1135.8 823.3,1139 827.5,1139 831.8,1139 836,1139 840.2,1139 844.4,1142.1 848.6,1142.1 852.8,1142.1 857.1,1142.1 861.3,1142.1 865.5,1142.1 869.7,1139 873.9,1135.8 878.2,1139 882.4,1139 886.6,1145.3 890.8,1142.1"/>
<polyline class="l" stroke="#ffa500" points="127.2,1198.9 131.4,1198.9 135.6,1198.9 139.8,1198.9 144.1,1198.9 148.3,1198.9 152.5,1198.9 156.7,1198.9 160.9,1198.9 165.2,1198.9 169.4,1198.9 173.6,1198.9 177.8,1198.9 182,1198.9 186.2,1145.3 190.5,1135.8 194.7,1123.2 198.9,1104.3 203.1,1082.2 207.3,1063.3 211.6,1053.8 215.8,1015.9 220,993.9 224.2,978.1 228.4,987.5 232.7,968.6 236.9,952.8 241.1,937.1 245.3,946.5 249.5,908.7 253.8,924.4 258,905.5 262.2,943.4 266.4,946.5 270.6,937.1 274.8,949.7 279.1,956 283.3,968.6 287.5,978.1 291.7,974.9 295.9,974.9 300.2,1000.2 304.4,1009.6 308.6,1022.2 312.8,1031.7 317,1041.2 321.3,1038 325.5,1034.9 329.7,1066.4 333.9,1069.6 338.1,1063.3 342.4,1079 346.6,1091.6 350.8,1098 355,1104.3 359.2,1104.3 363.4,1113.7 367.7,1104.3 371.9,1120 376.1,1126.3 380.3,1129.5 384.5,1132.7 388.8,1135.8 393,1135.8 397.2,1135.8 401.4,1135.8 405.6,1139 409.9,1142.1 414.1,1142.1 418.3,1142.1 422.5,1151.6 426.7,1148.4 430.9,1151.6 435.2,1154.7 439.4,1154.7 443.6,1154.7 447.8,1154.7 452,1161 456.3,1157.9 460.5,1157.9 464.7,1161 468.9,1161 473.1,1164.2 477.4,1161 481.6,1164.2 485.8,1164.2 490,1167.4 494.2,1164.2 498.5,1167.4 502.7,1161 506.9,1164.2 511.1,1164.2 515.3,1164.2 519.5,1167.4 523.8,1164.2 528,1164.2 532.2,1164.2 536.4,1164.2 540.6,1167.4 544.9,1164.2 549.1,1164.2 553.3,1167.4 557.5,1164.2 561.7,1164.2 566,1161 570.2,1164.2 574.4,1161 578.6,1164.2 582.8,1161 587.1,1157.9 591.3,1154.7 595.5,1154.7 599.7,1154.7 603.9,1151.6 608.1,1148.4 612.4,1145.3 616.6,1142.1 620.8,1135.8 625,1135.8 629.2,1139 633.5,1142.1 637.7,1142.1 641.9,1139 646.1,1135.8 650.3,1132.7 654.6,1129.5 658.8,1132.7 663,1129.5 667.2,1129.5 671.4,1129.5 675.6,1129.5 679.9,1123.2 684.1,1126.3 688.3,1129.5 692.5,1123.2 696.7,1123.2 701,1123.2 705.2,1126.3 709.4,1129.5 713.6,1132.7 717.8,1123.2 722.1,1123.2 726.3,1132.7 730.5,1129.5 734.7,1129.5 738.9,1126.3 743.2,1126.3 747.4,1123.2 751.6,1120 755.8,1126.3 760,1129.5 764.2,1132.7 768.5,1129.5 772.7,1132.7 776.9,1132.7 781.1,1132.7 785.3,1135.8 789.6,1132.7 793.8,1135.8 798,1135.8 802.2,1132.7 806.4,1139 810.7,1139 814.9,1135.8 819.1,1135.8 823.3,1135.8 827.5,1142.1 831.8,1142.1 836,1139 840.2,1139 844.4,1145.3 848.6,1142.1 852.8,1142.1 857.1,1142.1 861.3,1139 865.5,1139 869.7,1139 873.9,1135.8 878.2,1139 882.4,1135.8 886.6,1142.1 890.8,1142.1"/>
<rect class="s" x="89" y="840" width="840" height="389"/>
<path class="s" d="M127.2 1229v9.33M232.7 1229v9.33M338.1 1229v9.33M443.6 1229v9.33M549.1 1229v9.33M654.6 1229v9.33M760 1229v9.33M865.5 1229v9.33M89 1198.9h-9.33M89 1135.8h-9.33M89 1072.7h-9.33M89 1009.6h-9.33M89 946.5h-9.33M89 883.4h-9.33"/>
<g font-size="29.9">
<text x="127.2" y="1267.9" text-anchor="middle" textLength="17" lengthAdjust="spacingAndGlyphs">0</text>
<text x="232.7" y="1267.9" text-anchor="middle" textLength="33.9" lengthAdjust="spacingAndGlyphs">25</text>
<text x="338.1" y="1267.9" text-anchor="middle" textLength="33.9" lengthAdjust="spacingAndGlyphs">50</text>
<text x="443.6" y="1267.9" text-anchor="middle" textLength="33.9" lengthAdjust="spacingAndGlyphs">75</text>
<text x="549.1" y="1267.9" text-anchor="middle" textLength="50.9" lengthAdjust="spacingAndGlyphs">100</text>
<text x="654.6" y="1267.9" text-anchor="middle" textLength="50.9" lengthAdjust="spacingAndGlyphs">125</text>
<text x="760" y="1267.9" text-anchor="middle" textLength="50.9" lengthAdjust="spacingAndGlyphs">150</text>
<text x="865.5" y="1267.9" text-anchor="middle" textLength="50.9" lengthAdjust="spacingAndGlyphs">175</text>
<text x="69.5" y="1208.6" text-anchor="end" textLength="17" lengthAdjust="spacingAndGlyphs">0</text>
<text x="69.5" y="1145.5" text-anchor="end" textLength="33.9" lengthAdjust="spacingAndGlyphs">20</text>
<text x="69.5" y="1082.4" text-anchor="end" textLength="33.9" lengthAdjust="spacingAndGlyphs">40</text>
<text x="69.5" y="1019.3" text-anchor="end" textLength="33.9" lengthAdjust="spacingAndGlyphs">60</text>
<text x="69.5" y="956.2" text-anchor="end" textLength="33.9" lengthAdjust="spacingAndGlyphs">80</text>
<text x="69.5" y="893.1" text-anchor="end" textLength="50.9" lengthAdjust="spacingAndGlyphs">100</text>
<text x="509" y="1304.6" text-anchor="middle" textLength="66.6" lengthAdjust="spacingAndGlyphs">Days</text>
</g>
<text y="824" font-size="33.6"><tspan x="181.5" textLength="71.4" lengthAdjust="spacingAndGlyphs">Gila,</tspan> <tspan x="264" textLength="42.8" lengthAdjust="spacingAndGlyphs">AZ</tspan> <tspan x="318" textLength="89.4" lengthAdjust="spacingAndGlyphs">RMSE</tspan> <tspan x="418.6" textLength="87.2" lengthAdjust="spacingAndGlyphs">EnKF:</tspan> <tspan x="516.9" textLength="80.4" lengthAdjust="spacingAndGlyphs">3.63,</tspan> <tspan x="608.5" textLength="89.4" lengthAdjust="spacingAndGlyphs">RMSE</tspan> <tspan x="709.1" textLength="45" lengthAdjust="spacingAndGlyphs">PF:</tspan> <tspan x="765.2" textLength="70.3" lengthAdjust="spacingAndGlyphs">3.89</tspan></text>
<g transform="translate(694.2,850.3)">
<rect class="lf" x="0" y="0" width="224.6" height="160.4" rx="4.3"/>
<path class="l" stroke="#000" d="M8.5 17.3H51.2"/>
<path class="l" stroke="#ffa500" d="M8.5 48.3H51.2"/>
<rect class="b" fill="#00f" stroke="#00f" x="8.5" y="71.5" width="42.67" height="14.93"/>
<rect class="b" fill="#008000" stroke="#008000" x="8.5" y="102.4" width="42.67" height="14.93"/>
<path class="d" d="M29.9 142.1h0"/>
<text y="24.6" font-size="22.4"><tspan x="68.3" textLength="59.5" lengthAdjust="spacingAndGlyphs">mean</tspan> <tspan x="135.6" textLength="19.6" lengthAdjust="spacingAndGlyphs">of</tspan> <tspan x="162.9" textLength="52.3" lengthAdjust="spacingAndGlyphs">EnKF</tspan></text>
<text y="55.6" font-size="22.4"><tspan x="68.3" textLength="59.5" lengthAdjust="spacingAndGlyphs">mean</tspan> <tspan x="135.6" textLength="19.6" lengthAdjust="spacingAndGlyphs">of</tspan> <tspan x="162.9" textLength="24.1" lengthAdjust="spacingAndGlyphs">PF</tspan></text>
<text y="86.3" font-size="22.4"><tspan x="68.3" textLength="46.4" lengthAdjust="spacingAndGlyphs">95%</tspan> <tspan x="122.5" textLength="20.2" lengthAdjust="spacingAndGlyphs">CI</tspan> <tspan x="150.4" textLength="52.3" lengthAdjust="spacingAndGlyphs">EnKF</tspan></text>
<text y="117.1" font-size="22.4"><tspan x="68.3" textLength="46.4" lengthAdjust="spacingAndGlyphs">95%</tspan> <tspan x="122.5" textLength="20.2" lengthAdjust="spacingAndGlyphs">CI</tspan> <tspan x="150.4" textLength="24.1" lengthAdjust="spacingAndGlyphs">PF</tspan></text>
<text y="147.8" font-size="22.4"><tspan x="68.3" textLength="47.1" lengthAdjust="spacingAndGlyphs">data</tspan></text>
</g>
</g>
<g>
<polygon class="b" fill="#00f" stroke="#00f" points="1083.2,1173.7 1087.4,1167.4 1091.6,1164.2 1095.8,1164.2 1100.1,1157.9 1104.3,1157.9 1108.5,1154.7 1112.7,1142.1 1116.9,1139 1121.2,1132.7 1125.4,1129.5 1129.6,1116.9 1133.8,1113.7 1138,1101.1 1142.2,1098 1146.5,1094.8 1150.7,1079 1154.9,1050.6 1159.1,1012.8 1163.3,978.1 1167.6,943.4 1171.8,911.8 1176,892.9 1180.2,886.6 1184.4,870.8 1188.7,861.4 1192.9,861.4 1197.1,883.4 1201.3,883.4 1205.5,915 1209.8,933.9 1214,968.6 1218.2,968.6 1222.4,990.7 1226.6,1006.5 1230.8,1019.1 1235.1,1025.4 1239.3,1038 1243.5,1053.8 1247.7,1060.1 1251.9,1060.1 1256.2,1060.1 1260.4,1075.9 1264.6,1085.3 1268.8,1094.8 1273,1101.1 1277.3,1107.4 1281.5,1107.4 1285.7,1116.9 1289.9,1113.7 1294.1,1116.9 1298.4,1120 1302.6,1123.2 1306.8,1132.7 1311,1132.7 1315.2,1135.8 1319.4,1132.7 1323.7,1135.8 1327.9,1139 1332.1,1142.1 1336.3,1145.3 1340.5,1145.3 1344.8,1148.4 1349,1151.6 1353.2,1145.3 1357.4,1142.1 1361.6,1151.6 1365.9,1145.3 1370.1,1145.3 1374.3,1148.4 1378.5,1151.6 1382.7,1154.7 1386.9,1148.4 1391.2,1157.9 1395.4,1164.2 1399.6,1157.9 1403.8,1154.7 1408,1151.6 1412.3,1154.7 1416.5,1151.6 1420.7,1154.7 1424.9,1157.9 1429.1,1148.4 1433.4,1157.9 1437.6,1154.7 1441.8,1154.7 1446,1151.6 1450.2,1151.6 1454.5,1151.6 1458.7,1148.4 1462.9,1151.6 1467.1,1151.6 1471.3,1145.3 1475.5,1148.4 1479.8,1148.4 1484,1145.3 1488.2,1148.4 1492.4,1145.3 1496.6,1145.3 1500.9,1145.3 1505.1,1145.3 1509.3,1145.3 1513.5,1145.3 1517.7,1145.3 1522,1135.8 1526.2,1142.1 1530.4,1135.8 1534.6,1135.8 1538.8,1132.7 1543.1,1139 1547.3,1135.8 1551.5,1132.7 1555.7,1132.7 1559.9,1129.5 1564.1,1132.7 1568.4,1135.8 1572.6,1139 1576.8,1123.2 1581,1129.5 1585.2,1135.8 1589.5,1139 1593.7,1129.5 1597.9,1135.8 1602.1,1129.5 1606.3,1126.3 1610.6,1126.3 1614.8,1123.2 1619,1123.2 1623.2,1126.3 1627.4,1132.7 1631.6,1129.5 1635.9,1123.2 1640.1,1129.5 1644.3,1129.5 1648.5,1123.2 1652.7,1132.7 1657,1132.7 1661.2,1132.7 1665.4,1129.5 1669.6,1129.5 1673.8,1129.5 1678.1,1126.3 1682.3,1129.5 1686.5,1129.5 1690.7,1129.5 1694.9,1129.5 1699.2,1129.5 1703.4,1132.7 1707.6,1129.5 1711.8,1126.3 1716,1123.2 1720.2,1120 1724.5,1126.3 1728.7,1120 1732.9,1123.2 1737.1,1126.3 1741.3,1129.5 1745.6,1132.7 1749.8,1123.2 1754,1126.3 1758.2,1129.5 1762.4,1129.5 1766.7,1129.5 1770.9,1132.7 1775.1,1129.5 1779.3,1126.3 1783.5,1132.7 1787.8,1126.3 1792,1126.3 1796.2,1126.3 1800.4,1126.3 1804.6,1120 1808.8,1123.2 1813.1,1126.3 1817.3,1126.3 1821.5,1123.2 1825.7,1129.5 1829.9,1126.3 1834.2,1129.5 1838.4,1132.7 1842.6,1135.8 1846.8,1135.8 1846.8,1186.3 1842.6,1186.3 1838.4,1183.1 1834.2,1173.7 1829.9,1173.7 1825.7,1176.8 1821.5,1180 1817.3,1176.8 1813.1,1167.4 1808.8,1167.4 1804.6,1173.7 1800.4,1176.8 1796.2,1176.8 1792,1180 1787.8,1176.8 1783.5,1176.8 1779.3,1176.8 1775.1,1176.8 1770.9,1180 1766.7,1176.8 1762.4,1173.7 1758.2,1176.8 1754,1176.8 1749.8,1183.1 1745.6,1183.1 1741.3,1180 1737.1,1180 1732.9,1173.7 1728.7,1176.8 1724.5,1180 1720.2,1176.8 1716,1180 1711.8,1183.1 1707.6,1180 1703.4,1180 1699.2,1173.7 1694.9,1180 1690.7,1180 1686.5,1176.8 1682.3,1180 1678.1,1180 1673.8,1173.7 1669.6,1176.8 1665.4,1176.8 1661.2,1176.8 1657,1180 1652.7,1180 1648.5,1183.1 1644.3,1183.1 1640.1,1183.1 1635.9,1176.8 1631.6,1180 1627.4,1176.8 1623.2,1176.8 1619,1183.1 1614.8,1183.1 1610.6,1173.7 1606.3,1170.5 1602.1,1173.7 1597.9,1183.1 1593.7,1180 1589.5,1189.4 1585.2,1192.6 1581,1173.7 1576.8,1173.7 1572.6,1183.1 1568.4,1180 1564.1,1186.3 1559.9,1183.1 1555.7,1176.8 1551.5,1176.8 1547.3,1180 1543.1,1180 1538.8,1183.1 1534.6,1180 1530.4,1183.1 1526.2,1183.1 1522,1183.1 1517.7,1189.4 1513.5,1186.3 1509.3,1186.3 1505.1,1183.1 1500.9,1180 1496.6,1183.1 1492.4,1186.3 1488.2,1186.3 1484,1183.1 1479.8,1195.7 1475.5,1189.4 1471.3,1183.1 1467.1,1183.1 1462.9,1186.3 1458.7,1189.4 1454.5,1189.4 1450.2,1189.4 1446,1186.3 1441.8,1183.1 1437.6,1192.6 1433.4,1189.4 1429.1,1195.7 1424.9,1195.7 1420.7,1192.6 1416.5,1192.6 1412.3,1192.6 1408,1189.4 1403.8,1186.3 1399.6,1189.4 1395.4,1192.6 1391.2,1195.7 1386.9,1192.6 1382.7,1189.4 1378.5,1192.6 1374.3,1189.4 1370.1,1189.4 1365.9,1186.3 1361.6,1189.4 1357.4,1186.3 1353.2,1186.3 1349,1186.3 1344.8,1183.1 1340.5,1189.4 1336.3,1186.3 1332.1,1173.7 1327.9,1180 1323.7,1173.7 1319.4,1176.8 1315.2,1173.7 1311,1180 1306.8,1180 1302.6,1167.4 1298.4,1170.5 1294.1,1167.4 1289.9,1154.7 1285.7,1157.9 1281.5,1157.9 1277.3,1151.6 1273,1148.4 1268.8,1145.3 1264.6,1139 1260.4,1139 1256.2,1123.2 1251.9,1120 1247.7,1116.9 1243.5,1116.9 1239.3,1110.6 1235.1,1094.8 1230.8,1085.3 1226.6,1075.9 1222.4,1063.3 1218.2,1047.5 1214,1047.5 1209.8,1009.6 1205.5,990.7 1201.3,974.9 1197.1,968.6 1192.9,946.5 1188.7,949.7 1184.4,956 1180.2,965.5 1176,978.1 1171.8,987.5 1167.6,1019.1 1163.3,1050.6 1159.1,1072.7 1154.9,1113.7 1150.7,1135.8 1146.5,1145.3 1142.2,1151.6 1138,1164.2 1133.8,1176.8 1129.6,1192.6 1125.4,1195.7 1121.2,1198.9 1116.9,1205.2 1112.7,1208.4 1108.5,1208.4 1104.3,1205.2 1100.1,1202.1 1095.8,1208.4 1091.6,1211.5 1087.4,1205.2 1083.2,1208.4"/>
<polygon class="b" fill="#008000" stroke="#008000" points="1083.2,1186.3 1087.4,1183.1 1091.6,1180 1095.8,1176.8 1100.1,1170.5 1104.3,1170.5 1108.5,1170.5 1112.7,1176.8 1116.9,1167.4 1121.2,1161 1125.4,1154.7 1129.6,1142.1 1133.8,1129.5 1138,1113.7 1142.2,1101.1 1146.5,1094.8 1150.7,1079 1154.9,1047.5 1159.1,1009.6 1163.3,978.1 1167.6,946.5 1171.8,911.8 1176,892.9 1180.2,883.4 1184.4,867.7 1188.7,861.4 1192.9,858.2 1197.1,883.4 1201.3,886.6 1205.5,911.8 1209.8,937.1 1214,968.6 1218.2,968.6 1222.4,987.5 1226.6,1009.6 1230.8,1019.1 1235.1,1031.7 1239.3,1034.9 1243.5,1053.8 1247.7,1056.9 1251.9,1056.9 1256.2,1066.4 1260.4,1072.7 1264.6,1082.2 1268.8,1094.8 1273,1104.3 1277.3,1104.3 1281.5,1107.4 1285.7,1116.9 1289.9,1110.6 1294.1,1120 1298.4,1123.2 1302.6,1126.3 1306.8,1129.5 1311,1129.5 1315.2,1139 1319.4,1132.7 1323.7,1135.8 1327.9,1142.1 1332.1,1145.3 1336.3,1142.1 1340.5,1148.4 1344.8,1151.6 1349,1154.7 1353.2,1145.3 1357.4,1145.3 1361.6,1148.4 1365.9,1145.3 1370.1,1142.1 1374.3,1145.3 1378.5,1148.4 1382.7,1151.6 1386.9,1148.4 1391.2,1151.6 1395.4,1161 1399.6,1154.7 1403.8,1154.7 1408,1148.4 1412.3,1151.6 1416.5,1151.6 1420.7,1151.6 1424.9,1151.6 1429.1,1148.4 1433.4,1154.7 1437.6,1151.6 1441.8,1148.4 1446,1145.3 1450.2,1148.4 1454.5,1151.6 1458.7,1148.4 1462.9,1151.6 1467.1,1151.6 1471.3,1148.4 1475.5,1145.3 1479.8,1148.4 1484,1148.4 1488.2,1151.6 1492.4,1148.4 1496.6,1142.1 1500.9,1145.3 1505.1,1142.1 1509.3,1142.1 1513.5,1145.3 1517.7,1145.3 1522,1139 1526.2,1142.1 1530.4,1139 1534.6,1132.7 1538.8,1132.7 1543.1,1132.7 1547.3,1129.5 1551.5,1129.5 1555.7,1135.8 1559.9,1135.8 1564.1,1139 1568.4,1139 1572.6,1139 1576.8,1126.3 1581,1132.7 1585.2,1135.8 1589.5,1135.8 1593.7,1132.7 1597.9,1135.8 1602.1,1132.7 1606.3,1126.3 1610.6,1126.3 1614.8,1123.2 1619,1120 1623.2,1129.5 1627.4,1129.5 1631.6,1129.5 1635.9,1123.2 1640.1,1129.5 1644.3,1129.5 1648.5,1129.5 1652.7,1129.5 1657,1132.7 1661.2,1132.7 1665.4,1132.7 1669.6,1126.3 1673.8,1126.3 1678.1,1123.2 1682.3,1126.3 1686.5,1123.2 1690.7,1129.5 1694.9,1129.5 1699.2,1126.3 1703.4,1132.7 1707.6,1129.5 1711.8,1126.3 1716,1123.2 1720.2,1123.2 1724.5,1126.3 1728.7,1126.3 1732.9,1123.2 1737.1,1123.2 1741.3,1126.3 1745.6,1129.5 1749.8,1123.2 1754,1126.3 1758.2,1129.5 1762.4,1129.5 1766.7,1132.7 1770.9,1135.8 1775.1,1129.5 1779.3,1126.3 1783.5,1129.5 1787.8,1132.7 1792,1126.3 1796.2,1126.3 1800.4,1123.2 1804.6,1120 1808.8,1123.2 1813.1,1126.3 1817.3,1126.3 1821.5,1123.2 1825.7,1129.5 1829.9,1123.2 1834.2,1129.5 1838.4,1135.8 1842.6,1135.8 1846.8,1139 1846.8,1189.4 1842.6,1186.3 1838.4,1183.1 1834.2,1176.8 1829.9,1176.8 1825.7,1180 1821.5,1180 1817.3,1173.7 1813.1,1167.4 1808.8,1167.4 1804.6,1173.7 1800.4,1176.8 1796.2,1176.8 1792,1180 1787.8,1180 1783.5,1180 1779.3,1180 1775.1,1173.7 1770.9,1180 1766.7,1176.8 1762.4,1176.8 1758.2,1176.8 1754,1176.8 1749.8,1186.3 1745.6,1183.1 1741.3,1176.8 1737.1,1176.8 1732.9,1170.5 1728.7,1180 1724.5,1180 1720.2,1173.7 1716,1176.8 1711.8,1180 1707.6,1180 1703.4,1180 1699.2,1170.5 1694.9,1180 1690.7,1180 1686.5,1173.7 1682.3,1180 1678.1,1180 1673.8,1176.8 1669.6,1173.7 1665.4,1173.7 1661.2,1183.1 1657,1183.1 1652.7,1183.1 1648.5,1183.1 1644.3,1183.1 1640.1,1183.1 1635.9,1180 1631.6,1180 1627.4,1173.7 1623.2,1176.8 1619,1183.1 1614.8,1180 1610.6,1170.5 1606.3,1170.5 1602.1,1176.8 1597.9,1186.3 1593.7,1180 1589.5,1183.1 1585.2,1189.4 1581,1170.5 1576.8,1173.7 1572.6,1186.3 1568.4,1180 1564.1,1183.1 1559.9,1180 1555.7,1176.8 1551.5,1173.7 1547.3,1183.1 1543.1,1180 1538.8,1180 1534.6,1180 1530.4,1180 1526.2,1189.4 1522,1180 1517.7,1189.4 1513.5,1186.3 1509.3,1189.4 1505.1,1183.1 1500.9,1180 1496.6,1183.1 1492.4,1183.1 1488.2,1186.3 1484,1180 1479.8,1192.6 1475.5,1189.4 1471.3,1183.1 1467.1,1183.1 1462.9,1186.3 1458.7,1186.3 1454.5,1189.4 1450.2,1186.3 1446,1189.4 1441.8,1186.3 1437.6,1192.6 1433.4,1189.4 1429.1,1192.6 1424.9,1192.6 1420.7,1189.4 1416.5,1189.4 1412.3,1186.3 1408,1186.3 1403.8,1186.3 1399.6,1189.4 1395.4,1192.6 1391.2,1192.6 1386.9,1192.6 1382.7,1186.3 1378.5,1189.4 1374.3,1189.4 1370.1,1192.6 1365.9,1189.4 1361.6,1189.4 1357.4,1186.3 1353.2,1189.4 1349,1186.3 1344.8,1183.1 1340.5,1186.3 1336.3,1183.1 1332.1,1173.7 1327.9,1180 1323.7,1173.7 1319.4,1180 1315.2,1173.7 1311,1183.1 1306.8,1176.8 1302.6,1167.4 1298.4,1170.5 1294.1,1167.4 1289.9,1157.9 1285.7,1154.7 1281.5,1157.9 1277.3,1154.7 1273,1151.6 1268.8,1142.1 1264.6,1139 1260.4,1135.8 1256.2,1123.2 1251.9,1120 1247.7,1120 1243.5,1116.9 1239.3,1104.3 1235.1,1094.8 1230.8,1085.3 1226.6,1079 1222.4,1066.4 1218.2,1050.6 1214,1050.6 1209.8,1009.6 1205.5,993.9 1201.3,971.8 1197.1,965.5 1192.9,946.5 1188.7,943.4 1184.4,952.8 1180.2,965.5 1176,978.1 1171.8,984.4 1167.6,1019.1 1163.3,1053.8 1159.1,1075.9 1154.9,1113.7 1150.7,1135.8 1146.5,1148.4 1142.2,1198.9 1138,1198.9 1133.8,1198.9 1129.6,1198.9 1125.4,1198.9 1121.2,1198.9 1116.9,1198.9 1112.7,1198.9 1108.5,1198.9 1104.3,1198.9 1100.1,1198.9 1095.8,1198.9 1091.6,1198.9 1087.4,1198.9 1083.2,1198.9"/>
<path class="d" d="M1083.2 1198.9h0M1087.4 1198.9h0M1091.6 1198.9h0M1095.8 1189.4h0M1100.1 1195.7h0M1104.3 1192.6h0M1108.5 1189.4h0M1112.7 1183.1h0M1116.9 1180h0M1121.2 1183.1h0M1125.4 1157.9h0M1129.6 1154.7h0M1133.8 1151.6h0M1138 1142.1h0M1142.2 1110.6h0M1146.5 1120h0M1150.7 1129.5h0M1154.9 1104.3h0M1159.1 1060.1h0M1163.3 1003.3h0M1167.6 987.5h0M1171.8 952.8h0M1176 930.8h0M1180.2 911.8h0M1184.4 921.3h0M1188.7 915h0M1192.9 905.5h0M1197.1 921.3h0M1201.3 930.8h0M1205.5 978.1h0M1209.8 952.8h0M1214 993.9h0M1218.2 1015.9h0M1222.4 1022.2h0M1226.6 1044.3h0M1230.8 1053.8h0M1235.1 1056.9h0M1239.3 1053.8h0M1243.5 1072.7h0M1247.7 1082.2h0M1251.9 1110.6h0M1256.2 1098h0M1260.4 1110.6h0M1264.6 1098h0M1268.8 1129.5h0M1273 1132.7h0M1277.3 1132.7h0M1281.5 1129.5h0M1285.7 1126.3h0M1289.9 1142.1h0M1294.1 1151.6h0M1298.4 1157.9h0M1302.6 1161h0M1306.8 1145.3h0M1311 1139h0M1315.2 1167.4h0M1319.4 1173.7h0M1323.7 1154.7h0M1327.9 1157.9h0M1332.1 1151.6h0M1336.3 1167.4h0M1340.5 1157.9h0M1344.8 1154.7h0M1349 1183.1h0M1353.2 1173.7h0M1357.4 1167.4h0M1361.6 1154.7h0M1365.9 1148.4h0M1370.1 1167.4h0M1374.3 1164.2h0M1378.5 1161h0M1382.7 1161h0M1386.9 1167.4h0M1391.2 1157.9h0M1395.4 1176.8h0M1399.6 1183.1h0M1403.8 1173.7h0M1408 1192.6h0M1412.3 1173.7h0M1416.5 1180h0M1420.7 1167.4h0M1424.9 1189.4h0M1429.1 1176.8h0M1433.4 1145.3h0M1437.6 1186.3h0M1441.8 1167.4h0M1446 1180h0M1450.2 1145.3h0M1454.5 1167.4h0M1458.7 1180h0M1462.9 1154.7h0M1467.1 1164.2h0M1471.3 1161h0M1475.5 1164.2h0M1479.8 1173.7h0M1484 1170.5h0M1488.2 1173.7h0M1492.4 1164.2h0M1496.6 1154.7h0M1500.9 1167.4h0M1505.1 1183.1h0M1509.3 1157.9h0M1513.5 1157.9h0M1517.7 1170.5h0M1522 1142.1h0M1526.2 1161h0M1530.4 1154.7h0M1534.6 1183.1h0M1538.8 1170.5h0M1543.1 1151.6h0M1547.3 1157.9h0M1551.5 1148.4h0M1555.7 1170.5h0M1559.9 1157.9h0M1564.1 1170.5h0M1568.4 1167.4h0M1572.6 1154.7h0M1576.8 1142.1h0M1581 1170.5h0M1585.2 1157.9h0M1589.5 1170.5h0M1593.7 1148.4h0M1597.9 1167.4h0M1602.1 1176.8h0M1606.3 1135.8h0M1610.6 1145.3h0M1614.8 1129.5h0M1619 1161h0M1623.2 1142.1h0M1627.4 1173.7h0M1631.6 1161h0M1635.9 1161h0M1640.1 1142.1h0M1644.3 1145.3h0M1648.5 1132.7h0M1652.7 1161h0M1657 1151.6h0M1661.2 1151.6h0M1665.4 1154.7h0M1669.6 1132.7h0M1673.8 1148.4h0M1678.1 1139h0M1682.3 1157.9h0M1686.5 1151.6h0M1690.7 1180h0M1694.9 1145.3h0M1699.2 1154.7h0M1703.4 1139h0M1707.6 1142.1h0M1711.8 1129.5h0M1716 1145.3h0M1720.2 1142.1h0M1724.5 1148.4h0M1728.7 1154.7h0M1732.9 1170.5h0M1737.1 1167.4h0M1741.3 1151.6h0M1745.6 1164.2h0M1749.8 1151.6h0M1754 1145.3h0M1758.2 1161h0M1762.4 1157.9h0M1766.7 1164.2h0M1770.9 1142.1h0M1775.1 1154.7h0M1779.3 1135.8h0M1783.5 1148.4h0M1787.8 1145.3h0M1792 1151.6h0M1796.2 1161h0M1800.4 1173.7h0M1804.6 1139h0M1808.8 1148.4h0M1813.1 1151.6h0M1817.3 1154.7h0M1821.5 1170.5h0M1825.7 1161h0M1829.9 1151.6h0M1834.2 1170.5h0M1838.4 1154.7h0M1842.6 1116.9h0M1846.8 1157.9h0"/>
<polyline class="l k" stroke="#000" points="1083.2,1195.7 1087.4,1195.7 1091.6,1192.6 1095.8,1192.6 1100.1,1189.4 1104.3,1189.4 1108.5,1186.3 1112.7,1189.4 1116.9,1189.4 1121.2,1183.1 1125.4,1173.7 1129.6,1164.2 1133.8,1154.7 1138,1142.1 1142.2,1129.5 1146.5,1116.9 1150.7,1107.4 1154.9,1082.2 1159.1,1041.2 1163.3,1012.8 1167.6,981.2 1171.8,946.5 1176,937.1 1180.2,927.6 1184.4,915 1188.7,905.5 1192.9,902.4 1197.1,927.6 1201.3,930.8 1205.5,952.8 1209.8,978.1 1214,1006.5 1218.2,1003.3 1222.4,1022.2 1226.6,1038 1230.8,1053.8 1235.1,1060.1 1239.3,1072.7 1243.5,1082.2 1247.7,1088.5 1251.9,1091.6 1256.2,1098 1260.4,1107.4 1264.6,1110.6 1268.8,1120 1273,1126.3 1277.3,1129.5 1281.5,1132.7 1285.7,1135.8 1289.9,1139 1294.1,1145.3 1298.4,1145.3 1302.6,1148.4 1306.8,1151.6 1311,1154.7 1315.2,1157.9 1319.4,1157.9 1323.7,1154.7 1327.9,1157.9 1332.1,1161 1336.3,1164.2 1340.5,1164.2 1344.8,1167.4 1349,1167.4 1353.2,1167.4 1357.4,1164.2 1361.6,1167.4 1365.9,1167.4 1370.1,1167.4 1374.3,1167.4 1378.5,1170.5 1382.7,1170.5 1386.9,1170.5 1391.2,1170.5 1395.4,1173.7 1399.6,1173.7 1403.8,1173.7 1408,1173.7 1412.3,1173.7 1416.5,1173.7 1420.7,1173.7 1424.9,1173.7 1429.1,1173.7 1433.4,1173.7 1437.6,1170.5 1441.8,1170.5 1446,1170.5 1450.2,1170.5 1454.5,1170.5 1458.7,1170.5 1462.9,1170.5 1467.1,1167.4 1471.3,1167.4 1475.5,1167.4 1479.8,1170.5 1484,1167.4 1488.2,1167.4 1492.4,1167.4 1496.6,1164.2 1500.9,1164.2 1505.1,1164.2 1509.3,1161 1513.5,1164.2 1517.7,1167.4 1522,1161 1526.2,1161 1530.4,1161 1534.6,1161 1538.8,1161 1543.1,1157.9 1547.3,1161 1551.5,1157.9 1555.7,1157.9 1559.9,1157.9 1564.1,1157.9 1568.4,1157.9 1572.6,1157.9 1576.8,1151.6 1581,1157.9 1585.2,1161 1589.5,1157.9 1593.7,1154.7 1597.9,1154.7 1602.1,1151.6 1606.3,1145.3 1610.6,1151.6 1614.8,1154.7 1619,1151.6 1623.2,1151.6 1627.4,1154.7 1631.6,1151.6 1635.9,1151.6 1640.1,1157.9 1644.3,1157.9 1648.5,1157.9 1652.7,1154.7 1657,1151.6 1661.2,1154.7 1665.4,1154.7 1669.6,1151.6 1673.8,1151.6 1678.1,1154.7 1682.3,1154.7 1686.5,1151.6 1690.7,1154.7 1694.9,1154.7 1699.2,1151.6 1703.4,1151.6 1707.6,1151.6 1711.8,1154.7 1716,1151.6 1720.2,1151.6 1724.5,1154.7 1728.7,1154.7 1732.9,1148.4 1737.1,1154.7 1741.3,1154.7 1745.6,1157.9 1749.8,1154.7 1754,1151.6 1758.2,1154.7 1762.4,1154.7 1766.7,1154.7 1770.9,1157.9 1775.1,1151.6 1779.3,1154.7 1783.5,1154.7 1787.8,1154.7 1792,1154.7 1796.2,1154.7 1800.4,1154.7 1804.6,1148.4 1808.8,1145.3 1813.1,1148.4 1817.3,1154.7 1821.5,1154.7 1825.7,1154.7 1829.9,1154.7 1834.2,1154.7 1838.4,1154.7 1842.6,1157.9 1846.8,1157.9"/>
<polyline class="l" stroke="#ffa500" points="1083.2,1198.9 1087.4,1198.9 1091.6,1198.9 1095.8,1198.9 1100.1,1198.9 1104.3,1198.9 1108.5,1198.9 1112.7,1198.9 1116.9,1198.9 1121.2,1198.9 1125.4,1198.9 1129.6,1198.9 1133.8,1198.9 1138,1142.1 1142.2,1126.3 1146.5,1120 1150.7,1107.4 1154.9,1082.2 1159.1,1044.3 1163.3,1012.8 1167.6,981.2 1171.8,946.5 1176,937.1 1180.2,927.6 1184.4,915 1188.7,905.5 1192.9,905.5 1197.1,924.4 1201.3,930.8 1205.5,952.8 1209.8,974.9 1214,1006.5 1218.2,1003.3 1222.4,1022.2 1226.6,1041.2 1230.8,1053.8 1235.1,1060.1 1239.3,1072.7 1243.5,1082.2 1247.7,1088.5 1251.9,1091.6 1256.2,1098 1260.4,1107.4 1264.6,1110.6 1268.8,1116.9 1273,1126.3 1277.3,1132.7 1281.5,1132.7 1285.7,1135.8 1289.9,1139 1294.1,1148.4 1298.4,1145.3 1302.6,1148.4 1306.8,1151.6 1311,1154.7 1315.2,1157.9 1319.4,1157.9 1323.7,1154.7 1327.9,1157.9 1332.1,1161 1336.3,1164.2 1340.5,1164.2 1344.8,1167.4 1349,1170.5 1353.2,1164.2 1357.4,1167.4 1361.6,1170.5 1365.9,1167.4 1370.1,1167.4 1374.3,1164.2 1378.5,1170.5 1382.7,1167.4 1386.9,1173.7 1391.2,1170.5 1395.4,1173.7 1399.6,1173.7 1403.8,1173.7 1408,1173.7 1412.3,1170.5 1416.5,1170.5 1420.7,1170.5 1424.9,1173.7 1429.1,1173.7 1433.4,1170.5 1437.6,1173.7 1441.8,1170.5 1446,1173.7 1450.2,1170.5 1454.5,1170.5 1458.7,1170.5 1462.9,1170.5 1467.1,1167.4 1471.3,1170.5 1475.5,1170.5 1479.8,1170.5 1484,1167.4 1488.2,1170.5 1492.4,1167.4 1496.6,1164.2 1500.9,1164.2 1505.1,1164.2 1509.3,1161 1513.5,1164.2 1517.7,1167.4 1522,1157.9 1526.2,1164.2 1530.4,1164.2 1534.6,1161 1538.8,1161 1543.1,1161 1547.3,1157.9 1551.5,1157.9 1555.7,1157.9 1559.9,1154.7 1564.1,1157.9 1568.4,1157.9 1572.6,1157.9 1576.8,1151.6 1581,1161 1585.2,1161 1589.5,1157.9 1593.7,1154.7 1597.9,1154.7 1602.1,1151.6 1606.3,1145.3 1610.6,1151.6 1614.8,1154.7 1619,1151.6 1623.2,1151.6 1627.4,1157.9 1631.6,1154.7 1635.9,1151.6 1640.1,1157.9 1644.3,1157.9 1648.5,1154.7 1652.7,1157.9 1657,1154.7 1661.2,1151.6 1665.4,1154.7 1669.6,1151.6 1673.8,1151.6 1678.1,1151.6 1682.3,1154.7 1686.5,1151.6 1690.7,1154.7 1694.9,1154.7 1699.2,1151.6 1703.4,1151.6 1707.6,1151.6 1711.8,1151.6 1716,1151.6 1720.2,1148.4 1724.5,1154.7 1728.7,1151.6 1732.9,1148.4 1737.1,1151.6 1741.3,1154.7 1745.6,1157.9 1749.8,1157.9 1754,1151.6 1758.2,1151.6 1762.4,1157.9 1766.7,1151.6 1770.9,1154.7 1775.1,1154.7 1779.3,1154.7 1783.5,1157.9 1787.8,1154.7 1792,1151.6 1796.2,1154.7 1800.4,1154.7 1804.6,1148.4 1808.8,1145.3 1813.1,1148.4 1817.3,1154.7 1821.5,1151.6 1825.7,1154.7 1829.9,1154.7 1834.2,1154.7 1838.4,1154.7 1842.6,1157.9 1846.8,1157.9"/>
<rect class="s" x="1045" y="840" width="840" height="389"/>
<path class="s" d="M1083.2 1229v9.33M1188.7 1229v9.33M1294.1 1229v9.33M1399.6 1229v9.33M1505.1 1229v9.33M1610.6 1229v9.33M1716 1229v9.33M1821.5 1229v9.33M1045 1198.9h-9.33M1045 1135.8h-9.33M1045 1072.7h-9.33M1045 1009.6h-9.33M1045 946.5h-9.33M1045 883.4h-9.33"/>
<g font-size="29.9">
<text x="1083.2" y="1267.9" text-anchor="middle" textLength="17" lengthAdjust="spacingAndGlyphs">0</text>
<text x="1188.7" y="1267.9" text-anchor="middle" textLength="33.9" lengthAdjust="spacingAndGlyphs">25</text>
<text x="1294.1" y="1267.9" text-anchor="middle" textLength="33.9" lengthAdjust="spacingAndGlyphs">50</text>
<text x="1399.6" y="1267.9" text-anchor="middle" textLength="33.9" lengthAdjust="spacingAndGlyphs">75</text>
<text x="1505.1" y="1267.9" text-anchor="middle" textLength="50.9" lengthAdjust="spacingAndGlyphs">100</text>
<text x="1610.6" y="1267.9" text-anchor="middle" textLength="50.9" lengthAdjust="spacingAndGlyphs">125</text>
<text x="1716" y="1267.9" text-anchor="middle" textLength="50.9" lengthAdjust="spacingAndGlyphs">150</text>
<text x="1821.5" y="1267.9" text-anchor="middle" textLength="50.9" lengthAdjust="spacingAndGlyphs">175</text>
<text x="1025.5" y="1208.6" text-anchor="end" textLength="17" lengthAdjust="spacingAndGlyphs">0</text>
<text x="1025.5" y="1145.5" text-anchor="end" textLength="33.9" lengthAdjust="spacingAndGlyphs">20</text>
<text x="1025.5" y="1082.4" text-anchor="end" textLength="33.9" lengthAdjust="spacingAndGlyphs">40</text>
<text x="1025.5" y="1019.3" text-anchor="end" textLength="33.9" lengthAdjust="spacingAndGlyphs">60</text>
<text x="1025.5" y="956.2" text-anchor="end" textLength="33.9" lengthAdjust="spacingAndGlyphs">80</text>
<text x="1025.5" y="893.1" text-anchor="end" textLength="50.9" lengthAdjust="spacingAndGlyphs">100</text>
<text x="1465" y="1304.6" text-anchor="middle" textLength="66.6" lengthAdjust="spacingAndGlyphs">Days</text>
</g>
<text y="824" font-size="33.6"><tspan x="1104.3" textLength="137.8" lengthAdjust="spacingAndGlyphs">Graham,</tspan> <tspan x="1253.3" textLength="42.8" lengthAdjust="spacingAndGlyphs">AZ</tspan> <tspan x="1307.2" textLength="89.4" lengthAdjust="spacingAndGlyphs">RMSE</tspan> <tspan x="1407.8" textLength="87.2" lengthAdjust="spacingAndGlyphs">EnKF:</tspan> <tspan x="1506.1" textLength="80.4" lengthAdjust="spacingAndGlyphs">3.69,</tspan> <tspan x="1597.7" textLength="89.4" lengthAdjust="spacingAndGlyphs">RMSE</tspan> <tspan x="1698.3" textLength="45" lengthAdjust="spacingAndGlyphs">PF:</tspan> <tspan x="1754.5" textLength="70.3" lengthAdjust="spacingAndGlyphs">3.78</tspan></text>
<g transform="translate(1650.2,850.3)">
<rect class="lf" x="0" y="0" width="224.6" height="160.4" rx="4.3"/>
<path class="l" stroke="#000" d="M8.5 17.3H51.2"/>
<path class="l" stroke="#ffa500" d="M8.5 48.3H51.2"/>
<rect class="b" fill="#00f" stroke="#00f" x="8.5" y="71.5" width="42.67" height="14.93"/>
<rect class="b" fill="#008000" stroke="#008000" x="8.5" y="102.4" width="42.67" height="14.93"/>
<path class="d" d="M29.9 142.1h0"/>
<text y="24.6" font-size="22.4"><tspan x="68.3" textLength="59.5" lengthAdjust="spacingAndGlyphs">mean</tspan> <tspan x="135.6" textLength="19.6" lengthAdjust="spacingAndGlyphs">of</tspan> <tspan x="162.9" textLength="52.3" lengthAdjust="spacingAndGlyphs">EnKF</tspan></text>
<text y="55.6" font-size="22.4"><tspan x="68.3" textLength="59.5" lengthAdjust="spacingAndGlyphs">mean</tspan> <tspan x="135.6" textLength="19.6" lengthAdjust="spacingAndGlyphs">of</tspan> <tspan x="162.9" textLength="24.1" lengthAdjust="spacingAndGlyphs">PF</tspan></text>
<text y="86.3" font-size="22.4"><tspan x="68.3" textLength="46.4" lengthAdjust="spacingAndGlyphs">95%</tspan> <tspan x="122.5" textLength="20.2" lengthAdjust="spacingAndGlyphs">CI</tspan> <tspan x="150.4" textLength="52.3" lengthAdjust="spacingAndGlyphs">EnKF</tspan></text>
<text y="117.1" font-size="22.4"><tspan x="68.3" textLength="46.4" lengthAdjust="spacingAndGlyphs">95%</tspan> <tspan x="122.5" textLength="20.2" lengthAdjust="spacingAndGlyphs">CI</tspan> <tspan x="150.4" textLength="24.1" lengthAdjust="spacingAndGlyphs">PF</tspan></text>
<text y="147.8" font-size="22.4"><tspan x="68.3" textLength="47.1" lengthAdjust="spacingAndGlyphs">data</tspan></text>
</g>
</g>
<g>
<polygon class="b" fill="#00f" stroke="#00f" points="2039.2,1168.5 2043.4,1168.5 2047.6,1131.8 2051.8,1119.6 2056.1,1131.8 2060.3,1144 2064.5,1131.8 2068.7,1046.3 2072.9,1058.5 2077.2,1058.5 2081.4,1058.5 2085.6,1046.3 2089.8,1034.1 2094,1046.3 2098.2,1034.1 2102.5,1009.7 2106.7,997.5 2110.9,973 2115.1,924.2 2119.3,924.2 2123.6,912 2127.8,912 2132,899.8 2136.2,887.6 2140.4,875.3 2144.7,875.3 2148.9,875.3 2153.1,875.3 2157.3,863.1 2161.5,875.3 2165.8,863.1 2170,875.3 2174.2,912 2178.4,936.4 2182.6,912 2186.8,936.4 2191.1,936.4 2195.3,948.6 2199.5,973 2203.7,985.3 2207.9,973 2212.2,997.5 2216.4,1009.7 2220.6,1021.9 2224.8,1046.3 2229,1046.3 2233.3,1070.8 2237.5,1070.8 2241.7,1070.8 2245.9,1070.8 2250.1,1070.8 2254.4,1083 2258.6,1083 2262.8,1107.4 2267,1107.4 2271.2,1095.2 2275.4,1095.2 2279.7,1107.4 2283.9,1107.4 2288.1,1107.4 2292.3,1119.6 2296.5,1119.6 2300.8,1107.4 2305,1119.6 2309.2,1107.4 2313.4,1107.4 2317.6,1119.6 2321.9,1131.8 2326.1,1131.8 2330.3,1119.6 2334.5,1131.8 2338.7,1144 2342.9,1119.6 2347.2,1131.8 2351.4,1131.8 2355.6,1131.8 2359.8,1119.6 2364,1131.8 2368.3,1144 2372.5,1131.8 2376.7,1119.6 2380.9,1131.8 2385.1,1131.8 2389.4,1144 2393.6,1119.6 2397.8,1131.8 2402,1119.6 2406.2,1131.8 2410.5,1131.8 2414.7,1131.8 2418.9,1131.8 2423.1,1119.6 2427.3,1119.6 2431.5,1131.8 2435.8,1119.6 2440,1144 2444.2,1131.8 2448.4,1119.6 2452.6,1119.6 2456.9,1107.4 2461.1,1107.4 2465.3,1107.4 2469.5,1107.4 2473.7,1119.6 2478,1107.4 2482.2,1119.6 2486.4,1095.2 2490.6,1119.6 2494.8,1119.6 2499.1,1107.4 2503.3,1107.4 2507.5,1107.4 2511.7,1119.6 2515.9,1119.6 2520.1,1119.6 2524.4,1119.6 2528.6,1107.4 2532.8,1107.4 2537,1107.4 2541.2,1107.4 2545.5,1119.6 2549.7,1107.4 2553.9,1107.4 2558.1,1107.4 2562.3,1119.6 2566.6,1119.6 2570.8,1095.2 2575,1107.4 2579.2,1095.2 2583.4,1107.4 2587.6,1107.4 2591.9,1107.4 2596.1,1095.2 2600.3,1095.2 2604.5,1107.4 2608.7,1095.2 2613,1107.4 2617.2,1095.2 2621.4,1095.2 2625.6,1095.2 2629.8,1095.2 2634.1,1095.2 2638.3,1107.4 2642.5,1083 2646.7,1095.2 2650.9,1095.2 2655.2,1070.8 2659.4,1095.2 2663.6,1083 2667.8,1095.2 2672,1070.8 2676.2,1083 2680.5,1095.2 2684.7,1095.2 2688.9,1095.2 2693.1,1095.2 2697.3,1107.4 2701.6,1107.4 2705.8,1107.4 2710,1095.2 2714.2,1095.2 2718.4,1095.2 2722.7,1107.4 2726.9,1107.4 2731.1,1119.6 2735.3,1107.4 2739.5,1107.4 2743.8,1095.2 2748,1107.4 2752.2,1095.2 2756.4,1107.4 2760.6,1095.2 2764.8,1083 2769.1,1095.2 2773.3,1095.2 2777.5,1107.4 2781.7,1095.2 2785.9,1107.4 2790.2,1119.6 2794.4,1095.2 2798.6,1119.6 2802.8,1107.4 2802.8,1192.9 2798.6,1192.9 2794.4,1192.9 2790.2,1192.9 2785.9,1192.9 2781.7,1192.9 2777.5,1192.9 2773.3,1192.9 2769.1,1192.9 2764.8,1192.9 2760.6,1192.9 2756.4,1192.9 2752.2,1192.9 2748,1192.9 2743.8,1192.9 2739.5,1192.9 2735.3,1192.9 2731.1,1192.9 2726.9,1192.9 2722.7,1192.9 2718.4,1192.9 2714.2,1192.9 2710,1192.9 2705.8,1192.9 2701.6,1192.9 2697.3,1192.9 2693.1,1192.9 2688.9,1192.9 2684.7,1192.9 2680.5,1192.9 2676.2,1192.9 2672,1192.9 2667.8,1192.9 2663.6,1192.9 2659.4,1192.9 2655.2,1192.9 2650.9,1192.9 2646.7,1192.9 2642.5,1180.7 2638.3,1180.7 2634.1,1180.7 2629.8,1192.9 2625.6,1192.9 2621.4,1192.9 2617.2,1192.9 2613,1192.9 2608.7,1192.9 2604.5,1192.9 2600.3,1192.9 2596.1,1192.9 2591.9,1192.9 2587.6,1192.9 2583.4,1192.9 2579.2,1192.9 2575,1192.9 2570.8,1192.9 2566.6,1192.9 2562.3,1180.7 2558.1,1192.9 2553.9,1192.9 2549.7,1192.9 2545.5,1192.9 2541.2,1192.9 2537,1192.9 2532.8,1192.9 2528.6,1192.9 2524.4,1192.9 2520.1,1192.9 2515.9,1192.9 2511.7,1192.9 2507.5,1180.7 2503.3,1192.9 2499.1,1192.9 2494.8,1192.9 2490.6,1192.9 2486.4,1192.9 2482.2,1192.9 2478,1192.9 2473.7,1192.9 2469.5,1192.9 2465.3,1180.7 2461.1,1192.9 2456.9,1192.9 2452.6,1192.9 2448.4,1192.9 2444.2,1192.9 2440,1192.9 2435.8,1192.9 2431.5,1192.9 2427.3,1192.9 2423.1,1192.9 2418.9,1192.9 2414.7,1192.9 2410.5,1192.9 2406.2,1192.9 2402,1192.9 2397.8,1192.9 2393.6,1192.9 2389.4,1192.9 2385.1,1192.9 2380.9,1192.9 2376.7,1192.9 2372.5,1192.9 2368.3,1192.9 2364,1192.9 2359.8,1180.7 2355.6,1192.9 2351.4,1192.9 2347.2,1192.9 2342.9,1192.9 2338.7,1192.9 2334.5,1192.9 2330.3,1192.9 2326.1,1192.9 2321.9,1192.9 2317.6,1192.9 2313.4,1192.9 2309.2,1192.9 2305,1192.9 2300.8,1192.9 2296.5,1180.7 2292.3,1192.9 2288.1,1192.9 2283.9,1192.9 2279.7,1192.9 2275.4,1192.9 2271.2,1192.9 2267,1192.9 2262.8,1192.9 2258.6,1192.9 2254.4,1192.9 2250.1,1180.7 2245.9,1180.7 2241.7,1180.7 2237.5,1168.5 2233.3,1168.5 2229,1168.5 2224.8,1168.5 2220.6,1168.5 2216.4,1156.3 2212.2,1144 2207.9,1144 2203.7,1144 2199.5,1131.8 2195.3,1119.6 2191.1,1107.4 2186.8,1107.4 2182.6,1119.6 2178.4,1083 2174.2,1083 2170,1070.8 2165.8,1070.8 2161.5,1070.8 2157.3,1058.5 2153.1,1083 2148.9,1070.8 2144.7,1083 2140.4,1083 2136.2,1083 2132,1095.2 2127.8,1107.4 2123.6,1131.8 2119.3,1144 2115.1,1156.3 2110.9,1192.9 2106.7,1192.9 2102.5,1192.9 2098.2,1192.9 2094,1205.1 2089.8,1217.3 2085.6,1205.1 2081.4,1205.1 2077.2,1205.1 2072.9,1205.1 2068.7,1205.1 2064.5,1205.1 2060.3,1192.9 2056.1,1192.9 2051.8,1192.9 2047.6,1192.9 2043.4,1192.9 2039.2,1192.9"/>
<polygon class="b" fill="#008000" stroke="#008000" points="2039.2,1168.5 2043.4,1168.5 2047.6,1156.3 2051.8,1168.5 2056.1,1156.3 2060.3,1144 2064.5,1131.8 2068.7,1107.4 2072.9,1095.2 2077.2,1083 2081.4,1070.8 2085.6,1070.8 2089.8,1070.8 2094,1058.5 2098.2,1058.5 2102.5,1046.3 2106.7,1009.7 2110.9,997.5 2115.1,985.3 2119.3,936.4 2123.6,936.4 2127.8,912 2132,875.3 2136.2,875.3 2140.4,875.3 2144.7,875.3 2148.9,875.3 2153.1,875.3 2157.3,863.1 2161.5,863.1 2165.8,863.1 2170,863.1 2174.2,912 2178.4,924.2 2182.6,924.2 2186.8,936.4 2191.1,936.4 2195.3,948.6 2199.5,973 2203.7,985.3 2207.9,997.5 2212.2,997.5 2216.4,1009.7 2220.6,1009.7 2224.8,1046.3 2229,1046.3 2233.3,1021.9 2237.5,1070.8 2241.7,1070.8 2245.9,1083 2250.1,1083 2254.4,1095.2 2258.6,1107.4 2262.8,1107.4 2267,1107.4 2271.2,1083 2275.4,1083 2279.7,1083 2283.9,1107.4 2288.1,1119.6 2292.3,1119.6 2296.5,1095.2 2300.8,1107.4 2305,1119.6 2309.2,1119.6 2313.4,1119.6 2317.6,1107.4 2321.9,1119.6 2326.1,1119.6 2330.3,1131.8 2334.5,1131.8 2338.7,1131.8 2342.9,1144 2347.2,1119.6 2351.4,1131.8 2355.6,1119.6 2359.8,1131.8 2364,1131.8 2368.3,1131.8 2372.5,1144 2376.7,1131.8 2380.9,1119.6 2385.1,1119.6 2389.4,1119.6 2393.6,1131.8 2397.8,1131.8 2402,1107.4 2406.2,1107.4 2410.5,1131.8 2414.7,1119.6 2418.9,1131.8 2423.1,1131.8 2427.3,1131.8 2431.5,1131.8 2435.8,1119.6 2440,1131.8 2444.2,1144 2448.4,1107.4 2452.6,1119.6 2456.9,1119.6 2461.1,1119.6 2465.3,1119.6 2469.5,1119.6 2473.7,1119.6 2478,1119.6 2482.2,1119.6 2486.4,1119.6 2490.6,1107.4 2494.8,1119.6 2499.1,1107.4 2503.3,1119.6 2507.5,1119.6 2511.7,1107.4 2515.9,1107.4 2520.1,1095.2 2524.4,1119.6 2528.6,1107.4 2532.8,1119.6 2537,1107.4 2541.2,1107.4 2545.5,1107.4 2549.7,1095.2 2553.9,1107.4 2558.1,1070.8 2562.3,1107.4 2566.6,1107.4 2570.8,1095.2 2575,1095.2 2579.2,1095.2 2583.4,1095.2 2587.6,1083 2591.9,1095.2 2596.1,1095.2 2600.3,1083 2604.5,1083 2608.7,1095.2 2613,1107.4 2617.2,1095.2 2621.4,1083 2625.6,1095.2 2629.8,1083 2634.1,1095.2 2638.3,1070.8 2642.5,1083 2646.7,1070.8 2650.9,1083 2655.2,1083 2659.4,1083 2663.6,1083 2667.8,1083 2672,1070.8 2676.2,1058.5 2680.5,1083 2684.7,1083 2688.9,1083 2693.1,1083 2697.3,1095.2 2701.6,1083 2705.8,1083 2710,1095.2 2714.2,1095.2 2718.4,1083 2722.7,1083 2726.9,1095.2 2731.1,1070.8 2735.3,1083 2739.5,1107.4 2743.8,1095.2 2748,1095.2 2752.2,1083 2756.4,1095.2 2760.6,1070.8 2764.8,1083 2769.1,1083 2773.3,1083 2777.5,1095.2 2781.7,1107.4 2785.9,1095.2 2790.2,1107.4 2794.4,1095.2 2798.6,1095.2 2802.8,1107.4 2802.8,1192.9 2798.6,1192.9 2794.4,1180.7 2790.2,1180.7 2785.9,1192.9 2781.7,1180.7 2777.5,1192.9 2773.3,1192.9 2769.1,1192.9 2764.8,1192.9 2760.6,1192.9 2756.4,1180.7 2752.2,1192.9 2748,1192.9 2743.8,1192.9 2739.5,1180.7 2735.3,1180.7 2731.1,1192.9 2726.9,1180.7 2722.7,1192.9 2718.4,1180.7 2714.2,1192.9 2710,1192.9 2705.8,1180.7 2701.6,1192.9 2697.3,1192.9 2693.1,1180.7 2688.9,1192.9 2684.7,1180.7 2680.5,1180.7 2676.2,1180.7 2672,1192.9 2667.8,1192.9 2663.6,1192.9 2659.4,1180.7 2655.2,1180.7 2650.9,1192.9 2646.7,1192.9 2642.5,1192.9 2638.3,1180.7 2634.1,1192.9 2629.8,1192.9 2625.6,1192.9 2621.4,1180.7 2617.2,1192.9 2613,1192.9 2608.7,1180.7 2604.5,1180.7 2600.3,1180.7 2596.1,1180.7 2591.9,1180.7 2587.6,1192.9 2583.4,1180.7 2579.2,1180.7 2575,1192.9 2570.8,1180.7 2566.6,1192.9 2562.3,1180.7 2558.1,1192.9 2553.9,1192.9 2549.7,1192.9 2545.5,1192.9 2541.2,1192.9 2537,1180.7 2532.8,1180.7 2528.6,1180.7 2524.4,1192.9 2520.1,1192.9 2515.9,1192.9 2511.7,1192.9 2507.5,1192.9 2503.3,1192.9 2499.1,1192.9 2494.8,1192.9 2490.6,1192.9 2486.4,1192.9 2482.2,1192.9 2478,1192.9 2473.7,1192.9 2469.5,1192.9 2465.3,1192.9 2461.1,1192.9 2456.9,1192.9 2452.6,1192.9 2448.4,1192.9 2444.2,1180.7 2440,1192.9 2435.8,1192.9 2431.5,1192.9 2427.3,1192.9 2423.1,1192.9 2418.9,1192.9 2414.7,1192.9 2410.5,1192.9 2406.2,1192.9 2402,1192.9 2397.8,1192.9 2393.6,1192.9 2389.4,1192.9 2385.1,1192.9 2380.9,1180.7 2376.7,1192.9 2372.5,1192.9 2368.3,1192.9 2364,1192.9 2359.8,1192.9 2355.6,1192.9 2351.4,1192.9 2347.2,1192.9 2342.9,1192.9 2338.7,1192.9 2334.5,1192.9 2330.3,1192.9 2326.1,1192.9 2321.9,1192.9 2317.6,1180.7 2313.4,1192.9 2309.2,1192.9 2305,1192.9 2300.8,1192.9 2296.5,1192.9 2292.3,1192.9 2288.1,1192.9 2283.9,1192.9 2279.7,1192.9 2275.4,1180.7 2271.2,1180.7 2267,1180.7 2262.8,1180.7 2258.6,1180.7 2254.4,1180.7 2250.1,1180.7 2245.9,1168.5 2241.7,1168.5 2237.5,1168.5 2233.3,1168.5 2229,1168.5 2224.8,1168.5 2220.6,1156.3 2216.4,1156.3 2212.2,1144 2207.9,1156.3 2203.7,1144 2199.5,1131.8 2195.3,1107.4 2191.1,1119.6 2186.8,1107.4 2182.6,1119.6 2178.4,1119.6 2174.2,1070.8 2170,1083 2165.8,1070.8 2161.5,1058.5 2157.3,1058.5 2153.1,1070.8 2148.9,1058.5 2144.7,1070.8 2140.4,1070.8 2136.2,1083 2132,1107.4 2127.8,1192.9 2123.6,1192.9 2119.3,1192.9 2115.1,1192.9 2110.9,1192.9 2106.7,1192.9 2102.5,1192.9 2098.2,1192.9 2094,1192.9 2089.8,1192.9 2085.6,1192.9 2081.4,1192.9 2077.2,1192.9 2072.9,1192.9 2068.7,1192.9 2064.5,1192.9 2060.3,1192.9 2056.1,1192.9 2051.8,1192.9 2047.6,1192.9 2043.4,1192.9 2039.2,1192.9"/>
<path class="d" d="M2039.2 1192.9h0M2043.4 1192.9h0M2047.6 1192.9h0M2051.8 1192.9h0M2056.1 1192.9h0M2060.3 1192.9h0M2064.5 1180.7h0M2068.7 1168.5h0M2072.9 1180.7h0M2077.2 1192.9h0M2081.4 1131.8h0M2085.6 1168.5h0M2089.8 1156.3h0M2094 1131.8h0M2098.2 1144h0M2102.5 1070.8h0M2106.7 1131.8h0M2110.9 1021.9h0M2115.1 1070.8h0M2119.3 1070.8h0M2123.6 973h0M2127.8 985.3h0M2132 948.6h0M2136.2 1058.5h0M2140.4 997.5h0M2144.7 997.5h0M2148.9 973h0M2153.1 936.4h0M2157.3 948.6h0M2161.5 997.5h0M2165.8 985.3h0M2170 1009.7h0M2174.2 1021.9h0M2178.4 973h0M2182.6 985.3h0M2186.8 1046.3h0M2191.1 1058.5h0M2195.3 1034.1h0M2199.5 1070.8h0M2203.7 1046.3h0M2207.9 1119.6h0M2212.2 1144h0M2216.4 1046.3h0M2220.6 1095.2h0M2224.8 1095.2h0M2229 1083h0M2233.3 1131.8h0M2237.5 1119.6h0M2241.7 1107.4h0M2245.9 1107.4h0M2250.1 1131.8h0M2254.4 1156.3h0M2258.6 1144h0M2262.8 1144h0M2267 1156.3h0M2271.2 1156.3h0M2275.4 1131.8h0M2279.7 1131.8h0M2283.9 1144h0M2288.1 1168.5h0M2292.3 1156.3h0M2296.5 1168.5h0M2300.8 1180.7h0M2305 1180.7h0M2309.2 1144h0M2313.4 1131.8h0M2317.6 1168.5h0M2321.9 1168.5h0M2326.1 1156.3h0M2330.3 1156.3h0M2334.5 1168.5h0M2338.7 1168.5h0M2342.9 1144h0M2347.2 1168.5h0M2351.4 1192.9h0M2355.6 1192.9h0M2359.8 1192.9h0M2364 1156.3h0M2368.3 1180.7h0M2372.5 1180.7h0M2376.7 1192.9h0M2380.9 1180.7h0M2385.1 1180.7h0M2389.4 1180.7h0M2393.6 1168.5h0M2397.8 1168.5h0M2402 1180.7h0M2406.2 1192.9h0M2410.5 1180.7h0M2414.7 1156.3h0M2418.9 1192.9h0M2423.1 1192.9h0M2427.3 1180.7h0M2431.5 1180.7h0M2435.8 1168.5h0M2440 1180.7h0M2444.2 1180.7h0M2448.4 1156.3h0M2452.6 1144h0M2456.9 1168.5h0M2461.1 1180.7h0M2465.3 1156.3h0M2469.5 1180.7h0M2473.7 1156.3h0M2478 1192.9h0M2482.2 1180.7h0M2486.4 1192.9h0M2490.6 1156.3h0M2494.8 1156.3h0M2499.1 1156.3h0M2503.3 1156.3h0M2507.5 1168.5h0M2511.7 1144h0M2515.9 1192.9h0M2520.1 1168.5h0M2524.4 1156.3h0M2528.6 1192.9h0M2532.8 1168.5h0M2537 1144h0M2541.2 1144h0M2545.5 1131.8h0M2549.7 1192.9h0M2553.9 1168.5h0M2558.1 1144h0M2562.3 1192.9h0M2566.6 1131.8h0M2570.8 1180.7h0M2575 1168.5h0M2579.2 1180.7h0M2583.4 1156.3h0M2587.6 1168.5h0M2591.9 1144h0M2596.1 1144h0M2600.3 1180.7h0M2604.5 1168.5h0M2608.7 1168.5h0M2613 1144h0M2617.2 1131.8h0M2621.4 1131.8h0M2625.6 1156.3h0M2629.8 1168.5h0M2634.1 1144h0M2638.3 1156.3h0M2642.5 1144h0M2646.7 1168.5h0M2650.9 1144h0M2655.2 1156.3h0M2659.4 1156.3h0M2663.6 1168.5h0M2667.8 1144h0M2672 1131.8h0M2676.2 1180.7h0M2680.5 1144h0M2684.7 1180.7h0M2688.9 1156.3h0M2693.1 1192.9h0M2697.3 1168.5h0M2701.6 1144h0M2705.8 1131.8h0M2710 1168.5h0M2714.2 1131.8h0M2718.4 1180.7h0M2722.7 1131.8h0M2726.9 1168.5h0M2731.1 1156.3h0M2735.3 1156.3h0M2739.5 1156.3h0M2743.8 1168.5h0M2748 1156.3h0M2752.2 1168.5h0M2756.4 1192.9h0M2760.6 1144h0M2764.8 1180.7h0M2769.1 1144h0M2773.3 1156.3h0M2777.5 1168.5h0M2781.7 1144h0M2785.9 1156.3h0M2790.2 1192.9h0M2794.4 1131.8h0M2798.6 1156.3h0M2802.8 1156.3h0"/>
<polyline class="l k" stroke="#000" points="2039.2,1192.9 2043.4,1192.9 2047.6,1192.9 2051.8,1192.9 2056.1,1192.9 2060.3,1192.9 2064.5,1180.7 2068.7,1180.7 2072.9,1180.7 2077.2,1168.5 2081.4,1156.3 2085.6,1144 2089.8,1156.3 2094,1144 2098.2,1131.8 2102.5,1119.6 2106.7,1107.4 2110.9,1083 2115.1,1070.8 2119.3,1046.3 2123.6,1034.1 2127.8,1009.7 2132,1009.7 2136.2,997.5 2140.4,997.5 2144.7,985.3 2148.9,985.3 2153.1,985.3 2157.3,960.8 2161.5,973 2165.8,985.3 2170,985.3 2174.2,997.5 2178.4,1021.9 2182.6,1021.9 2186.8,1046.3 2191.1,1034.1 2195.3,1046.3 2199.5,1058.5 2203.7,1083 2207.9,1058.5 2212.2,1095.2 2216.4,1083 2220.6,1095.2 2224.8,1107.4 2229,1107.4 2233.3,1119.6 2237.5,1119.6 2241.7,1131.8 2245.9,1131.8 2250.1,1131.8 2254.4,1144 2258.6,1144 2262.8,1156.3 2267,1156.3 2271.2,1156.3 2275.4,1144 2279.7,1156.3 2283.9,1156.3 2288.1,1156.3 2292.3,1156.3 2296.5,1168.5 2300.8,1180.7 2305,1168.5 2309.2,1168.5 2313.4,1156.3 2317.6,1168.5 2321.9,1156.3 2326.1,1168.5 2330.3,1168.5 2334.5,1180.7 2338.7,1168.5 2342.9,1168.5 2347.2,1168.5 2351.4,1180.7 2355.6,1168.5 2359.8,1180.7 2364,1168.5 2368.3,1168.5 2372.5,1168.5 2376.7,1168.5 2380.9,1168.5 2385.1,1180.7 2389.4,1180.7 2393.6,1168.5 2397.8,1168.5 2402,1168.5 2406.2,1180.7 2410.5,1180.7 2414.7,1168.5 2418.9,1168.5 2423.1,1180.7 2427.3,1180.7 2431.5,1180.7 2435.8,1168.5 2440,1168.5 2444.2,1168.5 2448.4,1168.5 2452.6,1168.5 2456.9,1168.5 2461.1,1168.5 2465.3,1168.5 2469.5,1168.5 2473.7,1168.5 2478,1168.5 2482.2,1168.5 2486.4,1168.5 2490.6,1168.5 2494.8,1168.5 2499.1,1168.5 2503.3,1168.5 2507.5,1168.5 2511.7,1168.5 2515.9,1168.5 2520.1,1168.5 2524.4,1168.5 2528.6,1156.3 2532.8,1168.5 2537,1156.3 2541.2,1156.3 2545.5,1156.3 2549.7,1156.3 2553.9,1156.3 2558.1,1168.5 2562.3,1168.5 2566.6,1156.3 2570.8,1168.5 2575,1156.3 2579.2,1156.3 2583.4,1156.3 2587.6,1168.5 2591.9,1168.5 2596.1,1156.3 2600.3,1156.3 2604.5,1156.3 2608.7,1156.3 2613,1156.3 2617.2,1156.3 2621.4,1156.3 2625.6,1156.3 2629.8,1156.3 2634.1,1156.3 2638.3,1156.3 2642.5,1156.3 2646.7,1156.3 2650.9,1144 2655.2,1144 2659.4,1144 2663.6,1156.3 2667.8,1156.3 2672,1144 2676.2,1156.3 2680.5,1144 2684.7,1156.3 2688.9,1156.3 2693.1,1156.3 2697.3,1156.3 2701.6,1156.3 2705.8,1156.3 2710,1156.3 2714.2,1156.3 2718.4,1156.3 2722.7,1156.3 2726.9,1156.3 2731.1,1156.3 2735.3,1156.3 2739.5,1156.3 2743.8,1156.3 2748,1156.3 2752.2,1156.3 2756.4,1156.3 2760.6,1156.3 2764.8,1156.3 2769.1,1156.3 2773.3,1156.3 2777.5,1156.3 2781.7,1156.3 2785.9,1156.3 2790.2,1156.3 2794.4,1144 2798.6,1156.3 2802.8,1156.3"/>
<polyline class="l" stroke="#ffa500" points="2039.2,1192.9 2043.4,1192.9 2047.6,1192.9 2051.8,1192.9 2056.1,1192.9 2060.3,1192.9 2064.5,1192.9 2068.7,1192.9 2072.9,1192.9 2077.2,1192.9 2081.4,1192.9 2085.6,1192.9 2089.8,1192.9 2094,1180.7 2098.2,1180.7 2102.5,1192.9 2106.7,1180.7 2110.9,1144 2115.1,1083 2119.3,1046.3 2123.6,1021.9 2127.8,1034.1 2132,1009.7 2136.2,985.3 2140.4,960.8 2144.7,973 2148.9,973 2153.1,973 2157.3,973 2161.5,973 2165.8,997.5 2170,997.5 2174.2,997.5 2178.4,1021.9 2182.6,1021.9 2186.8,1046.3 2191.1,1034.1 2195.3,1046.3 2199.5,1058.5 2203.7,1083 2207.9,1083 2212.2,1095.2 2216.4,1095.2 2220.6,1095.2 2224.8,1107.4 2229,1107.4 2233.3,1119.6 2237.5,1119.6 2241.7,1131.8 2245.9,1131.8 2250.1,1131.8 2254.4,1144 2258.6,1144 2262.8,1144 2267,1156.3 2271.2,1156.3 2275.4,1156.3 2279.7,1156.3 2283.9,1156.3 2288.1,1156.3 2292.3,1156.3 2296.5,1168.5 2300.8,1168.5 2305,1168.5 2309.2,1168.5 2313.4,1156.3 2317.6,1168.5 2321.9,1156.3 2326.1,1168.5 2330.3,1156.3 2334.5,1168.5 2338.7,1168.5 2342.9,1168.5 2347.2,1168.5 2351.4,1168.5 2355.6,1168.5 2359.8,1168.5 2364,1168.5 2368.3,1168.5 2372.5,1168.5 2376.7,1168.5 2380.9,1168.5 2385.1,1168.5 2389.4,1168.5 2393.6,1168.5 2397.8,1168.5 2402,1156.3 2406.2,1168.5 2410.5,1168.5 2414.7,1168.5 2418.9,1168.5 2423.1,1168.5 2427.3,1168.5 2431.5,1168.5 2435.8,1168.5 2440,1168.5 2444.2,1168.5 2448.4,1168.5 2452.6,1168.5 2456.9,1168.5 2461.1,1168.5 2465.3,1168.5 2469.5,1168.5 2473.7,1168.5 2478,1168.5 2482.2,1156.3 2486.4,1168.5 2490.6,1168.5 2494.8,1156.3 2499.1,1156.3 2503.3,1156.3 2507.5,1156.3 2511.7,1156.3 2515.9,1168.5 2520.1,1168.5 2524.4,1168.5 2528.6,1180.7 2532.8,1168.5 2537,1156.3 2541.2,1156.3 2545.5,1156.3 2549.7,1156.3 2553.9,1156.3 2558.1,1156.3 2562.3,1156.3 2566.6,1156.3 2570.8,1144 2575,1156.3 2579.2,1144 2583.4,1156.3 2587.6,1156.3 2591.9,1156.3 2596.1,1156.3 2600.3,1144 2604.5,1156.3 2608.7,1144 2613,1144 2617.2,1144 2621.4,1144 2625.6,1144 2629.8,1144 2634.1,1144 2638.3,1144 2642.5,1144 2646.7,1144 2650.9,1144 2655.2,1144 2659.4,1144 2663.6,1144 2667.8,1144 2672,1144 2676.2,1144 2680.5,1144 2684.7,1144 2688.9,1144 2693.1,1156.3 2697.3,1144 2701.6,1144 2705.8,1144 2710,1144 2714.2,1144 2718.4,1144 2722.7,1144 2726.9,1144 2731.1,1144 2735.3,1144 2739.5,1156.3 2743.8,1144 2748,1144 2752.2,1156.3 2756.4,1156.3 2760.6,1156.3 2764.8,1156.3 2769.1,1156.3 2773.3,1156.3 2777.5,1144 2781.7,1156.3 2785.9,1156.3 2790.2,1156.3 2794.4,1156.3 2798.6,1156.3 2802.8,1156.3"/>
<rect class="s" x="2001" y="840" width="840" height="389"/>
<path class="s" d="M2039.2 1229v9.33M2144.7 1229v9.33M2250.1 1229v9.33M2355.6 1229v9.33M2461.1 1229v9.33M2566.6 1229v9.33M2672 1229v9.33M2777.5 1229v9.33M2001 1192.9h-9.33M2001 1131.8h-9.33M2001 1070.8h-9.33M2001 1009.7h-9.33M2001 948.6h-9.33M2001 887.6h-9.33"/>
<g font-size="29.9">
<text x="2039.2" y="1267.9" text-anchor="middle" textLength="17" lengthAdjust="spacingAndGlyphs">0</text>
<text x="2144.7" y="1267.9" text-anchor="middle" textLength="33.9" lengthAdjust="spacingAndGlyphs">25</text>
<text x="2250.1" y="1267.9" text-anchor="middle" textLength="33.9" lengthAdjust="spacingAndGlyphs">50</text>
<text x="2355.6" y="1267.9" text-anchor="middle" textLength="33.9" lengthAdjust="spacingAndGlyphs">75</text>
<text x="2461.1" y="1267.9" text-anchor="middle" textLength="50.9" lengthAdjust="spacingAndGlyphs">100</text>
<text x="2566.6" y="1267.9" text-anchor="middle" textLength="50.9" lengthAdjust="spacingAndGlyphs">125</text>
<text x="2672" y="1267.9" text-anchor="middle" textLength="50.9" lengthAdjust="spacingAndGlyphs">150</text>
<text x="2777.5" y="1267.9" text-anchor="middle" textLength="50.9" lengthAdjust="spacingAndGlyphs">175</text>
<text x="1981.5" y="1202.6" text-anchor="end" textLength="17" lengthAdjust="spacingAndGlyphs">0</text>
<text x="1981.5" y="1141.5" text-anchor="end" textLength="17" lengthAdjust="spacingAndGlyphs">5</text>
<text x="1981.5" y="1080.5" text-anchor="end" textLength="33.9" lengthAdjust="spacingAndGlyphs">10</text>
<text x="1981.5" y="1019.4" text-anchor="end" textLength="33.9" lengthAdjust="spacingAndGlyphs">15</text>
<text x="1981.5" y="958.3" text-anchor="end" textLength="33.9" lengthAdjust="spacingAndGlyphs">20</text>
<text x="1981.5" y="897.3" text-anchor="end" textLength="33.9" lengthAdjust="spacingAndGlyphs">25</text>
<text x="2421" y="1304.6" text-anchor="middle" textLength="66.6" lengthAdjust="spacingAndGlyphs">Days</text>
</g>
<text y="824" font-size="33.6"><tspan x="2052" textLength="154.3" lengthAdjust="spacingAndGlyphs">Greenlee,</tspan> <tspan x="2217.5" textLength="42.8" lengthAdjust="spacingAndGlyphs">AZ</tspan> <tspan x="2271.5" textLength="89.4" lengthAdjust="spacingAndGlyphs">RMSE</tspan> <tspan x="2372.1" textLength="87.2" lengthAdjust="spacingAndGlyphs">EnKF:</tspan> <tspan x="2470.4" textLength="80.4" lengthAdjust="spacingAndGlyphs">1.89,</tspan> <tspan x="2562" textLength="89.4" lengthAdjust="spacingAndGlyphs">RMSE</tspan> <tspan x="2662.6" textLength="45" lengthAdjust="spacingAndGlyphs">PF:</tspan> <tspan x="2718.7" textLength="70.3" lengthAdjust="spacingAndGlyphs">1.96</tspan></text>
<g transform="translate(2606.2,850.3)">
<rect class="lf" x="0" y="0" width="224.6" height="160.4" rx="4.3"/>
<path class="l" stroke="#000" d="M8.5 17.3H51.2"/>
<path class="l" stroke="#ffa500" d="M8.5 48.3H51.2"/>
<rect class="b" fill="#00f" stroke="#00f" x="8.5" y="71.5" width="42.67" height="14.93"/>
<rect class="b" fill="#008000" stroke="#008000" x="8.5" y="102.4" width="42.67" height="14.93"/>
<path class="d" d="M29.9 142.1h0"/>
<text y="24.6" font-size="22.4"><tspan x="68.3" textLength="59.5" lengthAdjust="spacingAndGlyphs">mean</tspan> <tspan x="135.6" textLength="19.6" lengthAdjust="spacingAndGlyphs">of</tspan> <tspan x="162.9" textLength="52.3" lengthAdjust="spacingAndGlyphs">EnKF</tspan></text>
<text y="55.6" font-size="22.4"><tspan x="68.3" textLength="59.5" lengthAdjust="spacingAndGlyphs">mean</tspan> <tspan x="135.6" textLength="19.6" lengthAdjust="spacingAndGlyphs">of</tspan> <tspan x="162.9" textLength="24.1" lengthAdjust="spacingAndGlyphs">PF</tspan></text>
<text y="86.3" font-size="22.4"><tspan x="68.3" textLength="46.4" lengthAdjust="spacingAndGlyphs">95%</tspan> <tspan x="122.5" textLength="20.2" lengthAdjust="spacingAndGlyphs">CI</tspan> <tspan x="150.4" textLength="52.3" lengthAdjust="spacingAndGlyphs">EnKF</tspan></text>
<text y="117.1" font-size="22.4"><tspan x="68.3" textLength="46.4" lengthAdjust="spacingAndGlyphs">95%</tspan> <tspan x="122.5" textLength="20.2" lengthAdjust="spacingAndGlyphs">CI</tspan> <tspan x="150.4" textLength="24.1" lengthAdjust="spacingAndGlyphs">PF</tspan></text>
<text y="147.8" font-size="22.4"><tspan x="68.3" textLength="47.1" lengthAdjust="spacingAndGlyphs">data</tspan></text>
</g>
</g>
<g>
<polygon class="b" fill="#00f" stroke="#00f" points="127.2,1717.1 131.4,1710.5 135.6,1690.7 139.8,1697.3 144.1,1657.7 148.3,1677.5 152.5,1651.1 156.7,1644.5 160.9,1631.3 165.2,1631.3 169.4,1631.3 173.6,1618.1 177.8,1598.3 182,1611.5 186.2,1618.1 190.5,1598.3 194.7,1571.9 198.9,1558.6 203.1,1525.6 207.3,1492.6 211.6,1486 215.8,1472.8 220,1446.4 224.2,1439.8 228.4,1426.6 232.7,1406.8 236.9,1413.4 241.1,1406.8 245.3,1420 249.5,1393.6 253.8,1413.4 258,1420 262.2,1426.6 266.4,1453 270.6,1466.2 274.8,1479.4 279.1,1492.6 283.3,1499.2 287.5,1512.4 291.7,1532.2 295.9,1532.2 300.2,1538.8 304.4,1552 308.6,1565.2 312.8,1571.9 317,1585.1 321.3,1591.7 325.5,1591.7 329.7,1611.5 333.9,1618.1 338.1,1604.9 342.4,1618.1 346.6,1618.1 350.8,1631.3 355,1631.3 359.2,1637.9 363.4,1644.5 367.7,1637.9 371.9,1644.5 376.1,1651.1 380.3,1657.7 384.5,1644.5 388.8,1657.7 393,1664.3 397.2,1664.3 401.4,1651.1 405.6,1664.3 409.9,1664.3 414.1,1670.9 418.3,1670.9 422.5,1670.9 426.7,1677.5 430.9,1684.1 435.2,1690.7 439.4,1677.5 443.6,1684.1 447.8,1684.1 452,1677.5 456.3,1677.5 460.5,1677.5 464.7,1684.1 468.9,1677.5 473.1,1677.5 477.4,1670.9 481.6,1684.1 485.8,1677.5 490,1690.7 494.2,1677.5 498.5,1684.1 502.7,1684.1 506.9,1684.1 511.1,1690.7 515.3,1684.1 519.5,1684.1 523.8,1670.9 528,1677.5 532.2,1664.3 536.4,1684.1 540.6,1670.9 544.9,1670.9 549.1,1677.5 553.3,1684.1 557.5,1677.5 561.7,1664.3 566,1670.9 570.2,1670.9 574.4,1677.5 578.6,1670.9 582.8,1670.9 587.1,1670.9 591.3,1670.9 595.5,1664.3 599.7,1670.9 603.9,1664.3 608.1,1664.3 612.4,1657.7 616.6,1644.5 620.8,1664.3 625,1657.7 629.2,1657.7 633.5,1664.3 637.7,1657.7 641.9,1651.1 646.1,1651.1 650.3,1657.7 654.6,1651.1 658.8,1644.5 663,1657.7 667.2,1644.5 671.4,1644.5 675.6,1644.5 679.9,1637.9 684.1,1644.5 688.3,1637.9 692.5,1637.9 696.7,1644.5 701,1637.9 705.2,1637.9 709.4,1624.7 713.6,1624.7 717.8,1644.5 722.1,1631.3 726.3,1637.9 730.5,1631.3 734.7,1624.7 738.9,1637.9 743.2,1624.7 747.4,1631.3 751.6,1631.3 755.8,1624.7 760,1637.9 764.2,1637.9 768.5,1644.5 772.7,1637.9 776.9,1637.9 781.1,1644.5 785.3,1631.3 789.6,1637.9 793.8,1637.9 798,1637.9 802.2,1644.5 806.4,1637.9 810.7,1644.5 814.9,1631.3 819.1,1637.9 823.3,1644.5 827.5,1644.5 831.8,1644.5 836,1657.7 840.2,1637.9 844.4,1644.5 848.6,1644.5 852.8,1637.9 857.1,1637.9 861.3,1637.9 865.5,1631.3 869.7,1644.5 873.9,1637.9 878.2,1644.5 882.4,1644.5 886.6,1651.1 890.8,1644.5 890.8,1723.7 886.6,1717.1 882.4,1717.1 878.2,1723.7 873.9,1717.1 869.7,1717.1 865.5,1717.1 861.3,1717.1 857.1,1717.1 852.8,1717.1 848.6,1717.1 844.4,1723.7 840.2,1717.1 836,1723.7 831.8,1723.7 827.5,1723.7 823.3,1717.1 819.1,1717.1 814.9,1717.1 810.7,1710.5 806.4,1717.1 802.2,1710.5 798,1717.1 793.8,1710.5 789.6,1717.1 785.3,1717.1 781.1,1710.5 776.9,1717.1 772.7,1710.5 768.5,1717.1 764.2,1710.5 760,1710.5 755.8,1710.5 751.6,1717.1 747.4,1710.5 743.2,1710.5 738.9,1710.5 734.7,1710.5 730.5,1710.5 726.3,1717.1 722.1,1717.1 717.8,1717.1 713.6,1717.1 709.4,1717.1 705.2,1717.1 701,1717.1 696.7,1723.7 692.5,1717.1 688.3,1723.7 684.1,1723.7 679.9,1723.7 675.6,1723.7 671.4,1723.7 667.2,1723.7 663,1723.7 658.8,1730.3 654.6,1723.7 650.3,1723.7 646.1,1730.3 641.9,1730.3 637.7,1730.3 633.5,1730.3 629.2,1730.3 625,1730.3 620.8,1730.3 616.6,1730.3 612.4,1730.3 608.1,1730.3 603.9,1730.3 599.7,1730.3 595.5,1736.9 591.3,1736.9 587.1,1736.9 582.8,1736.9 578.6,1730.3 574.4,1730.3 570.2,1730.3 566,1730.3 561.7,1730.3 557.5,1736.9 553.3,1736.9 549.1,1736.9 544.9,1736.9 540.6,1736.9 536.4,1730.3 532.2,1730.3 528,1730.3 523.8,1730.3 519.5,1730.3 515.3,1736.9 511.1,1736.9 506.9,1730.3 502.7,1730.3 498.5,1730.3 494.2,1736.9 490,1736.9 485.8,1736.9 481.6,1736.9 477.4,1736.9 473.1,1736.9 468.9,1730.3 464.7,1730.3 460.5,1730.3 456.3,1730.3 452,1730.3 447.8,1736.9 443.6,1736.9 439.4,1736.9 435.2,1736.9 430.9,1730.3 426.7,1730.3 422.5,1736.9 418.3,1730.3 414.1,1736.9 409.9,1730.3 405.6,1730.3 401.4,1730.3 397.2,1723.7 393,1723.7 388.8,1723.7 384.5,1723.7 380.3,1723.7 376.1,1723.7 371.9,1723.7 367.7,1723.7 363.4,1723.7 359.2,1717.1 355,1710.5 350.8,1710.5 346.6,1710.5 342.4,1703.9 338.1,1697.3 333.9,1703.9 329.7,1697.3 325.5,1690.7 321.3,1684.1 317,1677.5 312.8,1670.9 308.6,1664.3 304.4,1657.7 300.2,1644.5 295.9,1644.5 291.7,1637.9 287.5,1631.3 283.3,1624.7 279.1,1611.5 274.8,1604.9 270.6,1591.7 266.4,1578.5 262.2,1565.2 258,1558.6 253.8,1545.4 249.5,1545.4 245.3,1565.2 241.1,1552 236.9,1538.8 232.7,1538.8 228.4,1558.6 224.2,1578.5 220,1618.1 215.8,1618.1 211.6,1624.7 207.3,1651.1 203.1,1670.9 198.9,1690.7 194.7,1703.9 190.5,1723.7 186.2,1743.5 182,1750.1 177.8,1750.1 173.6,1750.1 169.4,1750.1 165.2,1750.1 160.9,1750.1 156.7,1743.5 152.5,1750.1 148.3,1743.5 144.1,1743.5 139.8,1743.5 135.6,1736.9 131.4,1736.9 127.2,1736.9"/>
<polygon class="b" fill="#008000" stroke="#008000" points="127.2,1723.7 131.4,1723.7 135.6,1710.5 139.8,1703.9 144.1,1697.3 148.3,1690.7 152.5,1677.5 156.7,1684.1 160.9,1670.9 165.2,1664.3 169.4,1657.7 173.6,1644.5 177.8,1651.1 182,1637.9 186.2,1624.7 190.5,1585.1 194.7,1565.2 198.9,1545.4 203.1,1525.6 207.3,1512.4 211.6,1499.2 215.8,1479.4 220,1453 224.2,1446.4 228.4,1400.2 232.7,1400.2 236.9,1413.4 241.1,1420 245.3,1439.8 249.5,1433.2 253.8,1420 258,1420 262.2,1426.6 266.4,1459.6 270.6,1466.2 274.8,1486 279.1,1499.2 283.3,1512.4 287.5,1519 291.7,1532.2 295.9,1532.2 300.2,1525.6 304.4,1538.8 308.6,1558.6 312.8,1565.2 317,1578.5 321.3,1591.7 325.5,1578.5 329.7,1604.9 333.9,1611.5 338.1,1611.5 342.4,1611.5 346.6,1604.9 350.8,1624.7 355,1624.7 359.2,1631.3 363.4,1637.9 367.7,1644.5 371.9,1657.7 376.1,1651.1 380.3,1657.7 384.5,1657.7 388.8,1644.5 393,1657.7 397.2,1664.3 401.4,1664.3 405.6,1664.3 409.9,1670.9 414.1,1670.9 418.3,1664.3 422.5,1670.9 426.7,1677.5 430.9,1677.5 435.2,1677.5 439.4,1677.5 443.6,1677.5 447.8,1670.9 452,1677.5 456.3,1677.5 460.5,1677.5 464.7,1670.9 468.9,1670.9 473.1,1670.9 477.4,1664.3 481.6,1670.9 485.8,1677.5 490,1670.9 494.2,1657.7 498.5,1670.9 502.7,1670.9 506.9,1670.9 511.1,1664.3 515.3,1670.9 519.5,1670.9 523.8,1670.9 528,1670.9 532.2,1657.7 536.4,1670.9 540.6,1670.9 544.9,1670.9 549.1,1670.9 553.3,1664.3 557.5,1657.7 561.7,1677.5 566,1664.3 570.2,1670.9 574.4,1664.3 578.6,1664.3 582.8,1664.3 587.1,1657.7 591.3,1657.7 595.5,1664.3 599.7,1664.3 603.9,1664.3 608.1,1657.7 612.4,1657.7 616.6,1657.7 620.8,1651.1 625,1657.7 629.2,1664.3 633.5,1657.7 637.7,1644.5 641.9,1657.7 646.1,1644.5 650.3,1651.1 654.6,1651.1 658.8,1651.1 663,1644.5 667.2,1651.1 671.4,1644.5 675.6,1644.5 679.9,1651.1 684.1,1644.5 688.3,1644.5 692.5,1644.5 696.7,1644.5 701,1637.9 705.2,1644.5 709.4,1644.5 713.6,1651.1 717.8,1644.5 722.1,1651.1 726.3,1644.5 730.5,1637.9 734.7,1631.3 738.9,1631.3 743.2,1624.7 747.4,1631.3 751.6,1637.9 755.8,1631.3 760,1631.3 764.2,1631.3 768.5,1637.9 772.7,1637.9 776.9,1631.3 781.1,1637.9 785.3,1651.1 789.6,1637.9 793.8,1644.5 798,1637.9 802.2,1631.3 806.4,1637.9 810.7,1631.3 814.9,1624.7 819.1,1631.3 823.3,1631.3 827.5,1624.7 831.8,1624.7 836,1644.5 840.2,1644.5 844.4,1644.5 848.6,1637.9 852.8,1644.5 857.1,1644.5 861.3,1644.5 865.5,1644.5 869.7,1637.9 873.9,1644.5 878.2,1631.3 882.4,1637.9 886.6,1637.9 890.8,1644.5 890.8,1717.1 886.6,1717.1 882.4,1717.1 878.2,1717.1 873.9,1717.1 869.7,1717.1 865.5,1717.1 861.3,1717.1 857.1,1717.1 852.8,1717.1 848.6,1717.1 844.4,1717.1 840.2,1717.1 836,1717.1 831.8,1717.1 827.5,1717.1 823.3,1717.1 819.1,1717.1 814.9,1717.1 810.7,1717.1 806.4,1717.1 802.2,1710.5 798,1717.1 793.8,1710.5 789.6,1710.5 785.3,1723.7 781.1,1717.1 776.9,1710.5 772.7,1717.1 768.5,1717.1 764.2,1710.5 760,1710.5 755.8,1710.5 751.6,1710.5 747.4,1710.5 743.2,1710.5 738.9,1710.5 734.7,1710.5 730.5,1710.5 726.3,1710.5 722.1,1717.1 717.8,1717.1 713.6,1717.1 709.4,1717.1 705.2,1717.1 701,1717.1 696.7,1717.1 692.5,1717.1 688.3,1717.1 684.1,1723.7 679.9,1723.7 675.6,1723.7 671.4,1723.7 667.2,1723.7 663,1717.1 658.8,1723.7 654.6,1723.7 650.3,1723.7 646.1,1730.3 641.9,1723.7 637.7,1730.3 633.5,1730.3 629.2,1730.3 625,1730.3 620.8,1730.3 616.6,1730.3 612.4,1730.3 608.1,1730.3 603.9,1730.3 599.7,1730.3 595.5,1730.3 591.3,1730.3 587.1,1730.3 582.8,1730.3 578.6,1730.3 574.4,1730.3 570.2,1730.3 566,1730.3 561.7,1730.3 557.5,1730.3 553.3,1730.3 549.1,1730.3 544.9,1730.3 540.6,1730.3 536.4,1730.3 532.2,1730.3 528,1730.3 523.8,1730.3 519.5,1730.3 515.3,1730.3 511.1,1736.9 506.9,1730.3 502.7,1730.3 498.5,1723.7 494.2,1730.3 490,1730.3 485.8,1730.3 481.6,1730.3 477.4,1730.3 473.1,1730.3 468.9,1730.3 464.7,1730.3 460.5,1730.3 456.3,1730.3 452,1730.3 447.8,1736.9 443.6,1730.3 439.4,1730.3 435.2,1730.3 430.9,1730.3 426.7,1730.3 422.5,1730.3 418.3,1730.3 414.1,1730.3 409.9,1730.3 405.6,1730.3 401.4,1723.7 397.2,1730.3 393,1723.7 388.8,1723.7 384.5,1723.7 380.3,1723.7 376.1,1717.1 371.9,1723.7 367.7,1717.1 363.4,1717.1 359.2,1717.1 355,1710.5 350.8,1710.5 346.6,1710.5 342.4,1703.9 338.1,1697.3 333.9,1697.3 329.7,1697.3 325.5,1684.1 321.3,1684.1 317,1670.9 312.8,1670.9 308.6,1657.7 304.4,1657.7 300.2,1644.5 295.9,1644.5 291.7,1637.9 287.5,1631.3 283.3,1618.1 279.1,1611.5 274.8,1598.3 270.6,1591.7 266.4,1578.5 262.2,1565.2 258,1552 253.8,1538.8 249.5,1538.8 245.3,1538.8 241.1,1552 236.9,1565.2 232.7,1565.2 228.4,1565.2 224.2,1578.5 220,1604.9 215.8,1618.1 211.6,1637.9 207.3,1657.7 203.1,1677.5 198.9,1736.9 194.7,1736.9 190.5,1736.9 186.2,1736.9 182,1736.9 177.8,1736.9 173.6,1736.9 169.4,1736.9 165.2,1736.9 160.9,1736.9 156.7,1736.9 152.5,1736.9 148.3,1736.9 144.1,1736.9 139.8,1736.9 135.6,1736.9 131.4,1736.9 127.2,1736.9"/>
<path class="d" d="M127.2 1736.9h0M131.4 1730.3h0M135.6 1736.9h0M139.8 1723.7h0M144.1 1730.3h0M148.3 1736.9h0M152.5 1717.1h0M156.7 1697.3h0M160.9 1730.3h0M165.2 1697.3h0M169.4 1703.9h0M173.6 1710.5h0M177.8 1697.3h0M182 1670.9h0M186.2 1651.1h0M190.5 1664.3h0M194.7 1644.5h0M198.9 1644.5h0M203.1 1611.5h0M207.3 1558.6h0M211.6 1532.2h0M215.8 1532.2h0M220 1538.8h0M224.2 1532.2h0M228.4 1512.4h0M232.7 1512.4h0M236.9 1466.2h0M241.1 1525.6h0M245.3 1459.6h0M249.5 1459.6h0M253.8 1505.8h0M258 1525.6h0M262.2 1519h0M266.4 1505.8h0M270.6 1525.6h0M274.8 1571.9h0M279.1 1565.2h0M283.3 1585.1h0M287.5 1604.9h0M291.7 1578.5h0M295.9 1591.7h0M300.2 1611.5h0M304.4 1604.9h0M308.6 1637.9h0M312.8 1624.7h0M317 1657.7h0M321.3 1651.1h0M325.5 1631.3h0M329.7 1677.5h0M333.9 1684.1h0M338.1 1677.5h0M342.4 1644.5h0M346.6 1670.9h0M350.8 1664.3h0M355 1651.1h0M359.2 1690.7h0M363.4 1657.7h0M367.7 1723.7h0M371.9 1730.3h0M376.1 1703.9h0M380.3 1684.1h0M384.5 1697.3h0M388.8 1684.1h0M393 1703.9h0M397.2 1697.3h0M401.4 1677.5h0M405.6 1697.3h0M409.9 1677.5h0M414.1 1723.7h0M418.3 1703.9h0M422.5 1730.3h0M426.7 1697.3h0M430.9 1723.7h0M435.2 1723.7h0M439.4 1717.1h0M443.6 1730.3h0M447.8 1710.5h0M452 1684.1h0M456.3 1697.3h0M460.5 1710.5h0M464.7 1710.5h0M468.9 1703.9h0M473.1 1703.9h0M477.4 1723.7h0M481.6 1723.7h0M485.8 1717.1h0M490 1710.5h0M494.2 1717.1h0M498.5 1690.7h0M502.7 1703.9h0M506.9 1723.7h0M511.1 1703.9h0M515.3 1723.7h0M519.5 1717.1h0M523.8 1710.5h0M528 1717.1h0M532.2 1730.3h0M536.4 1690.7h0M540.6 1723.7h0M544.9 1703.9h0M549.1 1703.9h0M553.3 1703.9h0M557.5 1703.9h0M561.7 1690.7h0M566 1710.5h0M570.2 1703.9h0M574.4 1690.7h0M578.6 1690.7h0M582.8 1703.9h0M587.1 1717.1h0M591.3 1670.9h0M595.5 1677.5h0M599.7 1684.1h0M603.9 1717.1h0M608.1 1677.5h0M612.4 1730.3h0M616.6 1723.7h0M620.8 1723.7h0M625 1710.5h0M629.2 1697.3h0M633.5 1690.7h0M637.7 1703.9h0M641.9 1670.9h0M646.1 1697.3h0M650.3 1697.3h0M654.6 1670.9h0M658.8 1710.5h0M663 1677.5h0M667.2 1723.7h0M671.4 1664.3h0M675.6 1690.7h0M679.9 1684.1h0M684.1 1670.9h0M688.3 1657.7h0M692.5 1703.9h0M696.7 1703.9h0M701 1677.5h0M705.2 1670.9h0M709.4 1651.1h0M713.6 1710.5h0M717.8 1690.7h0M722.1 1664.3h0M726.3 1690.7h0M730.5 1677.5h0M734.7 1730.3h0M738.9 1677.5h0M743.2 1684.1h0M747.4 1664.3h0M751.6 1670.9h0M755.8 1677.5h0M760 1670.9h0M764.2 1684.1h0M768.5 1677.5h0M772.7 1703.9h0M776.9 1684.1h0M781.1 1690.7h0M785.3 1670.9h0M789.6 1697.3h0M793.8 1631.3h0M798 1651.1h0M802.2 1677.5h0M806.4 1690.7h0M810.7 1651.1h0M814.9 1664.3h0M819.1 1664.3h0M823.3 1703.9h0M827.5 1690.7h0M831.8 1677.5h0M836 1690.7h0M840.2 1736.9h0M844.4 1664.3h0M848.6 1677.5h0M852.8 1677.5h0M857.1 1697.3h0M861.3 1684.1h0M865.5 1677.5h0M869.7 1657.7h0M873.9 1684.1h0M878.2 1690.7h0M882.4 1697.3h0M886.6 1677.5h0M890.8 1703.9h0"/>
<polyline class="l k" stroke="#000" points="127.2,1736.9 131.4,1736.9 135.6,1736.9 139.8,1730.3 144.1,1730.3 148.3,1730.3 152.5,1723.7 156.7,1717.1 160.9,1710.5 165.2,1710.5 169.4,1703.9 173.6,1703.9 177.8,1697.3 182,1697.3 186.2,1684.1 190.5,1631.3 194.7,1631.3 198.9,1631.3 203.1,1604.9 207.3,1565.2 211.6,1552 215.8,1552 220,1538.8 224.2,1512.4 228.4,1492.6 232.7,1479.4 236.9,1486 241.1,1479.4 245.3,1486 249.5,1486 253.8,1486 258,1492.6 262.2,1505.8 266.4,1525.6 270.6,1538.8 274.8,1552 279.1,1558.6 283.3,1571.9 287.5,1578.5 291.7,1585.1 295.9,1591.7 300.2,1591.7 304.4,1604.9 308.6,1611.5 312.8,1624.7 317,1637.9 321.3,1651.1 325.5,1637.9 329.7,1657.7 333.9,1670.9 338.1,1657.7 342.4,1664.3 346.6,1670.9 350.8,1670.9 355,1670.9 359.2,1684.1 363.4,1684.1 367.7,1690.7 371.9,1690.7 376.1,1690.7 380.3,1690.7 384.5,1690.7 388.8,1697.3 393,1697.3 397.2,1697.3 401.4,1697.3 405.6,1697.3 409.9,1703.9 414.1,1703.9 418.3,1703.9 422.5,1703.9 426.7,1710.5 430.9,1710.5 435.2,1710.5 439.4,1710.5 443.6,1710.5 447.8,1710.5 452,1710.5 456.3,1710.5 460.5,1710.5 464.7,1710.5 468.9,1710.5 473.1,1710.5 477.4,1710.5 481.6,1710.5 485.8,1710.5 490,1703.9 494.2,1710.5 498.5,1710.5 502.7,1710.5 506.9,1717.1 511.1,1710.5 515.3,1703.9 519.5,1710.5 523.8,1710.5 528,1710.5 532.2,1710.5 536.4,1703.9 540.6,1710.5 544.9,1710.5 549.1,1710.5 553.3,1703.9 557.5,1703.9 561.7,1703.9 566,1703.9 570.2,1703.9 574.4,1703.9 578.6,1703.9 582.8,1703.9 587.1,1703.9 591.3,1703.9 595.5,1703.9 599.7,1703.9 603.9,1703.9 608.1,1697.3 612.4,1697.3 616.6,1697.3 620.8,1697.3 625,1697.3 629.2,1697.3 633.5,1697.3 637.7,1697.3 641.9,1697.3 646.1,1697.3 650.3,1697.3 654.6,1697.3 658.8,1697.3 663,1690.7 667.2,1690.7 671.4,1684.1 675.6,1684.1 679.9,1697.3 684.1,1684.1 688.3,1690.7 692.5,1690.7 696.7,1690.7 701,1690.7 705.2,1690.7 709.4,1684.1 713.6,1684.1 717.8,1684.1 722.1,1690.7 726.3,1684.1 730.5,1677.5 734.7,1677.5 738.9,1670.9 743.2,1677.5 747.4,1684.1 751.6,1684.1 755.8,1684.1 760,1684.1 764.2,1684.1 768.5,1677.5 772.7,1677.5 776.9,1677.5 781.1,1684.1 785.3,1684.1 789.6,1684.1 793.8,1677.5 798,1677.5 802.2,1684.1 806.4,1677.5 810.7,1684.1 814.9,1684.1 819.1,1684.1 823.3,1684.1 827.5,1684.1 831.8,1684.1 836,1684.1 840.2,1684.1 844.4,1684.1 848.6,1684.1 852.8,1684.1 857.1,1684.1 861.3,1684.1 865.5,1684.1 869.7,1684.1 873.9,1684.1 878.2,1684.1 882.4,1684.1 886.6,1684.1 890.8,1684.1"/>
<polyline class="l" stroke="#ffa500" points="127.2,1736.9 131.4,1736.9 135.6,1736.9 139.8,1736.9 144.1,1736.9 148.3,1736.9 152.5,1736.9 156.7,1736.9 160.9,1736.9 165.2,1736.9 169.4,1736.9 173.6,1736.9 177.8,1736.9 182,1736.9 186.2,1736.9 190.5,1651.1 194.7,1637.9 198.9,1624.7 203.1,1598.3 207.3,1578.5 211.6,1558.6 215.8,1552 220,1545.4 224.2,1519 228.4,1486 232.7,1486 236.9,1486 241.1,1486 245.3,1486 249.5,1486 253.8,1492.6 258,1499.2 262.2,1512.4 266.4,1525.6 270.6,1538.8 274.8,1552 279.1,1558.6 283.3,1571.9 287.5,1578.5 291.7,1585.1 295.9,1591.7 300.2,1598.3 304.4,1604.9 308.6,1611.5 312.8,1618.1 317,1631.3 321.3,1637.9 325.5,1631.3 329.7,1651.1 333.9,1657.7 338.1,1657.7 342.4,1664.3 346.6,1670.9 350.8,1670.9 355,1670.9 359.2,1677.5 363.4,1684.1 367.7,1684.1 371.9,1684.1 376.1,1690.7 380.3,1690.7 384.5,1690.7 388.8,1690.7 393,1697.3 397.2,1697.3 401.4,1697.3 405.6,1697.3 409.9,1703.9 414.1,1703.9 418.3,1703.9 422.5,1703.9 426.7,1703.9 430.9,1710.5 435.2,1710.5 439.4,1703.9 443.6,1710.5 447.8,1710.5 452,1710.5 456.3,1710.5 460.5,1710.5 464.7,1710.5 468.9,1710.5 473.1,1710.5 477.4,1710.5 481.6,1710.5 485.8,1710.5 490,1710.5 494.2,1710.5 498.5,1710.5 502.7,1710.5 506.9,1710.5 511.1,1710.5 515.3,1710.5 519.5,1710.5 523.8,1710.5 528,1710.5 532.2,1710.5 536.4,1703.9 540.6,1703.9 544.9,1703.9 549.1,1703.9 553.3,1703.9 557.5,1703.9 561.7,1703.9 566,1703.9 570.2,1703.9 574.4,1703.9 578.6,1703.9 582.8,1703.9 587.1,1703.9 591.3,1703.9 595.5,1703.9 599.7,1703.9 603.9,1697.3 608.1,1697.3 612.4,1690.7 616.6,1697.3 620.8,1697.3 625,1697.3 629.2,1697.3 633.5,1697.3 637.7,1697.3 641.9,1697.3 646.1,1697.3 650.3,1697.3 654.6,1697.3 658.8,1690.7 663,1690.7 667.2,1690.7 671.4,1690.7 675.6,1690.7 679.9,1697.3 684.1,1690.7 688.3,1690.7 692.5,1690.7 696.7,1697.3 701,1690.7 705.2,1690.7 709.4,1684.1 713.6,1684.1 717.8,1684.1 722.1,1684.1 726.3,1684.1 730.5,1684.1 734.7,1684.1 738.9,1684.1 743.2,1684.1 747.4,1684.1 751.6,1684.1 755.8,1677.5 760,1677.5 764.2,1684.1 768.5,1677.5 772.7,1677.5 776.9,1684.1 781.1,1684.1 785.3,1677.5 789.6,1684.1 793.8,1684.1 798,1684.1 802.2,1677.5 806.4,1677.5 810.7,1684.1 814.9,1670.9 819.1,1677.5 823.3,1677.5 827.5,1684.1 831.8,1684.1 836,1684.1 840.2,1684.1 844.4,1684.1 848.6,1684.1 852.8,1684.1 857.1,1684.1 861.3,1684.1 865.5,1684.1 869.7,1684.1 873.9,1684.1 878.2,1684.1 882.4,1684.1 886.6,1684.1 890.8,1684.1"/>
<rect class="s" x="89" y="1379" width="840" height="389"/>
<path class="s" d="M127.2 1768v9.33M232.7 1768v9.33M338.1 1768v9.33M443.6 1768v9.33M549.1 1768v9.33M654.6 1768v9.33M760 1768v9.33M865.5 1768v9.33M89 1736.9h-9.33M89 1670.9h-9.33M89 1604.9h-9.33M89 1538.8h-9.33M89 1472.8h-9.33M89 1406.8h-9.33"/>
<g font-size="29.9">
<text x="127.2" y="1806.9" text-anchor="middle" textLength="17" lengthAdjust="spacingAndGlyphs">0</text>
<text x="232.7" y="1806.9" text-anchor="middle" textLength="33.9" lengthAdjust="spacingAndGlyphs">25</text>
<text x="338.1" y="1806.9" text-anchor="middle" textLength="33.9" lengthAdjust="spacingAndGlyphs">50</text>
<text x="443.6" y="1806.9" text-anchor="middle" textLength="33.9" lengthAdjust="spacingAndGlyphs">75</text>
<text x="549.1" y="1806.9" text-anchor="middle" textLength="50.9" lengthAdjust="spacingAndGlyphs">100</text>
<text x="654.6" y="1806.9" text-anchor="middle" textLength="50.9" lengthAdjust="spacingAndGlyphs">125</text>
<text x="760" y="1806.9" text-anchor="middle" textLength="50.9" lengthAdjust="spacingAndGlyphs">150</text>
<text x="865.5" y="1806.9" text-anchor="middle" textLength="50.9" lengthAdjust="spacingAndGlyphs">175</text>
<text x="69.5" y="1746.6" text-anchor="end" textLength="17" lengthAdjust="spacingAndGlyphs">0</text>
<text x="69.5" y="1680.6" text-anchor="end" textLength="33.9" lengthAdjust="spacingAndGlyphs">10</text>
<text x="69.5" y="1614.6" text-anchor="end" textLength="33.9" lengthAdjust="spacingAndGlyphs">20</text>
<text x="69.5" y="1548.5" text-anchor="end" textLength="33.9" lengthAdjust="spacingAndGlyphs">30</text>
<text x="69.5" y="1482.5" text-anchor="end" textLength="33.9" lengthAdjust="spacingAndGlyphs">40</text>
<text x="69.5" y="1416.5" text-anchor="end" textLength="33.9" lengthAdjust="spacingAndGlyphs">50</text>
<text x="509" y="1843.6" text-anchor="middle" textLength="66.6" lengthAdjust="spacingAndGlyphs">Days</text>
</g>
<text y="1363" font-size="33.6"><tspan x="161.7" textLength="36.4" lengthAdjust="spacingAndGlyphs">La</tspan> <tspan x="209.3" textLength="63.4" lengthAdjust="spacingAndGlyphs">Paz,</tspan> <tspan x="283.9" textLength="42.8" lengthAdjust="spacingAndGlyphs">AZ</tspan> <tspan x="337.9" textLength="89.4" lengthAdjust="spacingAndGlyphs">RMSE</tspan> <tspan x="438.4" textLength="87.2" lengthAdjust="spacingAndGlyphs">EnKF:</tspan> <tspan x="536.8" textLength="80.4" lengthAdjust="spacingAndGlyphs">2.52,</tspan> <tspan x="628.4" textLength="89.4" lengthAdjust="spacingAndGlyphs">RMSE</tspan> <tspan x="728.9" textLength="45" lengthAdjust="spacingAndGlyphs">PF:</tspan> <tspan x="785.1" textLength="70.3" lengthAdjust="spacingAndGlyphs">2.76</tspan></text>
<g transform="translate(694.2,1389.3)">
<rect class="lf" x="0" y="0" width="224.6" height="160.4" rx="4.3"/>
<path class="l" stroke="#000" d="M8.5 17.3H51.2"/>
<path class="l" stroke="#ffa500" d="M8.5 48.3H51.2"/>
<rect class="b" fill="#00f" stroke="#00f" x="8.5" y="71.5" width="42.67" height="14.93"/>
<rect class="b" fill="#008000" stroke="#008000" x="8.5" y="102.4" width="42.67" height="14.93"/>
<path class="d" d="M29.9 142.1h0"/>
<text y="24.6" font-size="22.4"><tspan x="68.3" textLength="59.5" lengthAdjust="spacingAndGlyphs">mean</tspan> <tspan x="135.6" textLength="19.6" lengthAdjust="spacingAndGlyphs">of</tspan> <tspan x="162.9" textLength="52.3" lengthAdjust="spacingAndGlyphs">EnKF</tspan></text>
<text y="55.6" font-size="22.4"><tspan x="68.3" textLength="59.5" lengthAdjust="spacingAndGlyphs">mean</tspan> <tspan x="135.6" textLength="19.6" lengthAdjust="spacingAndGlyphs">of</tspan> <tspan x="162.9" textLength="24.1" lengthAdjust="spacingAndGlyphs">PF</tspan></text>
<text y="86.3" font-size="22.4"><tspan x="68.3" textLength="46.4" lengthAdjust="spacingAndGlyphs">95%</tspan> <tspan x="122.5" textLength="20.2" lengthAdjust="spacingAndGlyphs">CI</tspan> <tspan x="150.4" textLength="52.3" lengthAdjust="spacingAndGlyphs">EnKF</tspan></text>
<text y="117.1" font-size="22.4"><tspan x="68.3" textLength="46.4" lengthAdjust="spacingAndGlyphs">95%</tspan> <tspan x="122.5" textLength="20.2" lengthAdjust="spacingAndGlyphs">CI</tspan> <tspan x="150.4" textLength="24.1" lengthAdjust="spacingAndGlyphs">PF</tspan></text>
<text y="147.8" font-size="22.4"><tspan x="68.3" textLength="47.1" lengthAdjust="spacingAndGlyphs">data</tspan></text>
</g>
</g>
<g>
<polygon class="b" fill="#00f" stroke="#00f" points="1083.2,1748.2 1087.4,1747.6 1091.6,1747.3 1095.8,1746.5 1100.1,1744.8 1104.3,1743.5 1108.5,1741.9 1112.7,1739 1116.9,1736 1121.2,1733.7 1125.4,1728.3 1129.6,1722.7 1133.8,1714.3 1138,1705.1 1142.2,1686.3 1146.5,1667.6 1150.7,1642.2 1154.9,1616.9 1159.1,1581.4 1163.3,1541.5 1167.6,1505.8 1171.8,1470.5 1176,1440.3 1180.2,1412.2 1184.4,1402 1188.7,1396 1192.9,1397.2 1197.1,1399.7 1201.3,1417.4 1205.5,1432.7 1209.8,1442.7 1214,1460.5 1218.2,1475.2 1222.4,1495.7 1226.6,1509.7 1230.8,1523.6 1235.1,1536.2 1239.3,1551.5 1243.5,1563.8 1247.7,1583.1 1251.9,1585.4 1256.2,1594.4 1260.4,1609 1264.6,1617 1268.8,1624.3 1273,1632.9 1277.3,1635.9 1281.5,1643.6 1285.7,1645.9 1289.9,1654.7 1294.1,1657.9 1298.4,1662.9 1302.6,1667.3 1306.8,1670.1 1311,1672.3 1315.2,1675.7 1319.4,1679.3 1323.7,1682.3 1327.9,1684.7 1332.1,1686.9 1336.3,1689.4 1340.5,1691 1344.8,1692.5 1349,1694.8 1353.2,1697.5 1357.4,1700.8 1361.6,1703.8 1365.9,1706 1370.1,1706.6 1374.3,1707.8 1378.5,1708.5 1382.7,1710.9 1386.9,1713 1391.2,1712.1 1395.4,1711.6 1399.6,1713.5 1403.8,1714.8 1408,1715.4 1412.3,1715.8 1416.5,1716.8 1420.7,1717.4 1424.9,1717.3 1429.1,1717.4 1433.4,1717.4 1437.6,1717.2 1441.8,1716.6 1446,1717.7 1450.2,1716.8 1454.5,1715.9 1458.7,1716.3 1462.9,1716.8 1467.1,1713.9 1471.3,1710.9 1475.5,1710.2 1479.8,1710 1484,1707.3 1488.2,1705 1492.4,1703.7 1496.6,1701.4 1500.9,1697.3 1505.1,1693.4 1509.3,1689.7 1513.5,1686.4 1517.7,1682.2 1522,1678.3 1526.2,1676.5 1530.4,1668.4 1534.6,1667.5 1538.8,1661.5 1543.1,1660 1547.3,1658.1 1551.5,1656 1555.7,1653.9 1559.9,1652 1564.1,1650.4 1568.4,1646.9 1572.6,1648.2 1576.8,1650.4 1581,1650.5 1585.2,1649.7 1589.5,1651.4 1593.7,1653.1 1597.9,1655.5 1602.1,1656 1606.3,1659.5 1610.6,1662.2 1614.8,1659.8 1619,1661.5 1623.2,1663.4 1627.4,1664 1631.6,1665.1 1635.9,1666 1640.1,1672.6 1644.3,1673.8 1648.5,1675.1 1652.7,1675.4 1657,1676 1661.2,1678.2 1665.4,1680.8 1669.6,1680.9 1673.8,1680 1678.1,1682.4 1682.3,1688.6 1686.5,1687.9 1690.7,1687.5 1694.9,1687 1699.2,1686.6 1703.4,1688.6 1707.6,1690.1 1711.8,1688.3 1716,1686.5 1720.2,1685.5 1724.5,1684.8 1728.7,1685.2 1732.9,1685.7 1737.1,1686.8 1741.3,1687.8 1745.6,1688.7 1749.8,1686.8 1754,1685.4 1758.2,1686.4 1762.4,1686.2 1766.7,1687.5 1770.9,1687.9 1775.1,1688.6 1779.3,1687.4 1783.5,1686.1 1787.8,1689.7 1792,1692.7 1796.2,1688.9 1800.4,1686 1804.6,1683.7 1808.8,1686 1813.1,1688.6 1817.3,1689.9 1821.5,1692.8 1825.7,1693.3 1829.9,1692.8 1834.2,1692.6 1838.4,1695 1842.6,1697.6 1846.8,1694.9 1846.8,1697 1842.6,1699.6 1838.4,1696.9 1834.2,1694.4 1829.9,1695 1825.7,1695.2 1821.5,1694.6 1817.3,1691.9 1813.1,1690.4 1808.8,1687.5 1804.6,1685.4 1800.4,1687.6 1796.2,1690.9 1792,1694.3 1787.8,1691.6 1783.5,1687.8 1779.3,1689.4 1775.1,1690.8 1770.9,1690.4 1766.7,1689.6 1762.4,1688.4 1758.2,1688.3 1754,1687.5 1749.8,1688.8 1745.6,1690.9 1741.3,1689.6 1737.1,1688.6 1732.9,1687.6 1728.7,1687.2 1724.5,1686.8 1720.2,1687.5 1716,1688.5 1711.8,1690.2 1707.6,1691.7 1703.4,1690.3 1699.2,1688.5 1694.9,1688.8 1690.7,1689.4 1686.5,1690.2 1682.3,1690.7 1678.1,1684.3 1673.8,1681.8 1669.6,1682.6 1665.4,1682.2 1661.2,1680 1657,1678.3 1652.7,1677.5 1648.5,1677.1 1644.3,1675.7 1640.1,1674.3 1635.9,1668.3 1631.6,1667.3 1627.4,1666 1623.2,1665.6 1619,1663.3 1614.8,1661.4 1610.6,1664 1606.3,1661.4 1602.1,1657.9 1597.9,1657 1593.7,1655.5 1589.5,1653.6 1585.2,1651.6 1581,1652.6 1576.8,1652.5 1572.6,1650.3 1568.4,1649.1 1564.1,1652.4 1559.9,1654.1 1555.7,1655.8 1551.5,1658.1 1547.3,1660.5 1543.1,1662.3 1538.8,1663.3 1534.6,1669.4 1530.4,1670.3 1526.2,1678.5 1522,1680.4 1517.7,1684.3 1513.5,1688.6 1509.3,1692 1505.1,1695.5 1500.9,1699.3 1496.6,1703.5 1492.4,1705.7 1488.2,1707 1484,1708.9 1479.8,1712.2 1475.5,1712.3 1471.3,1712.7 1467.1,1715.9 1462.9,1718.4 1458.7,1717.9 1454.5,1717.6 1450.2,1718.8 1446,1719.8 1441.8,1719.2 1437.6,1719.4 1433.4,1719.9 1429.1,1719.7 1424.9,1719.5 1420.7,1718.9 1416.5,1718.6 1412.3,1717.8 1408,1717.3 1403.8,1717 1399.6,1715.5 1395.4,1713.5 1391.2,1714 1386.9,1714.5 1382.7,1712.8 1378.5,1710.6 1374.3,1709.9 1370.1,1708.7 1365.9,1708 1361.6,1706.3 1357.4,1703.2 1353.2,1699.7 1349,1696.9 1344.8,1694.5 1340.5,1693.3 1336.3,1691.5 1332.1,1689.3 1327.9,1686.8 1323.7,1684 1319.4,1681.4 1315.2,1677.7 1311,1674.2 1306.8,1671.9 1302.6,1669.4 1298.4,1664.9 1294.1,1659.9 1289.9,1656.5 1285.7,1647.9 1281.5,1645.9 1277.3,1637.6 1273,1634.9 1268.8,1626.2 1264.6,1619 1260.4,1611.4 1256.2,1596.3 1251.9,1587.3 1247.7,1584.8 1243.5,1565.9 1239.3,1553.6 1235.1,1537.9 1230.8,1525.3 1226.6,1511.4 1222.4,1497.6 1218.2,1477.3 1214,1462.6 1209.8,1444.8 1205.5,1434.3 1201.3,1419.5 1197.1,1401.8 1192.9,1399.1 1188.7,1398 1184.4,1404.1 1180.2,1414.5 1176,1442 1171.8,1472.6 1167.6,1507.6 1163.3,1543.3 1159.1,1583.4 1154.9,1618.8 1150.7,1644.2 1146.5,1669.6 1142.2,1688.1 1138,1707.1 1133.8,1716.3 1129.6,1725 1125.4,1730.6 1121.2,1735.6 1116.9,1738.5 1112.7,1741.4 1108.5,1743.9 1104.3,1745.3 1100.1,1747 1095.8,1748.5 1091.6,1749.3 1087.4,1749.4 1083.2,1750.2"/>
<polygon class="b" fill="#008000" stroke="#008000" points="1083.2,1748 1087.4,1747.7 1091.6,1747.1 1095.8,1746.4 1100.1,1744.9 1104.3,1743.4 1108.5,1741.9 1112.7,1739.4 1116.9,1736.3 1121.2,1733.6 1125.4,1728.3 1129.6,1722.7 1133.8,1714.2 1138,1705.1 1142.2,1686.3 1146.5,1667.7 1150.7,1642.2 1154.9,1616.7 1159.1,1581.4 1163.3,1541.4 1167.6,1505.7 1171.8,1470.2 1176,1440 1180.2,1412.2 1184.4,1402.1 1188.7,1396 1192.9,1397.3 1197.1,1399.9 1201.3,1417.4 1205.5,1432.7 1209.8,1442.6 1214,1460.6 1218.2,1475.2 1222.4,1495.6 1226.6,1509.6 1230.8,1523.5 1235.1,1536.1 1239.3,1551.5 1243.5,1564 1247.7,1583.1 1251.9,1585.3 1256.2,1594.3 1260.4,1609.2 1264.6,1616.9 1268.8,1624.3 1273,1633 1277.3,1636.1 1281.5,1643.6 1285.7,1646 1289.9,1654.6 1294.1,1657.9 1298.4,1662.8 1302.6,1667.3 1306.8,1670.1 1311,1672.2 1315.2,1675.8 1319.4,1679.2 1323.7,1682.2 1327.9,1684.7 1332.1,1687 1336.3,1689.6 1340.5,1690.9 1344.8,1692.3 1349,1694.8 1353.2,1697.5 1357.4,1700.9 1361.6,1703.9 1365.9,1705.9 1370.1,1706.5 1374.3,1707.6 1378.5,1708.4 1382.7,1710.9 1386.9,1712.8 1391.2,1712.1 1395.4,1711.6 1399.6,1713.6 1403.8,1715 1408,1715.4 1412.3,1715.6 1416.5,1716.6 1420.7,1717.3 1424.9,1717.3 1429.1,1717.4 1433.4,1717.6 1437.6,1717.1 1441.8,1716.5 1446,1717.8 1450.2,1716.8 1454.5,1715.8 1458.7,1716.2 1462.9,1716.6 1467.1,1713.9 1471.3,1710.8 1475.5,1710.2 1479.8,1710 1484,1707.3 1488.2,1705 1492.4,1703.6 1496.6,1701.3 1500.9,1697.3 1505.1,1693.4 1509.3,1689.7 1513.5,1686.4 1517.7,1682.3 1522,1678.4 1526.2,1676.4 1530.4,1668.4 1534.6,1667.3 1538.8,1661.3 1543.1,1659.8 1547.3,1657.9 1551.5,1656 1555.7,1653.6 1559.9,1651.7 1564.1,1650.2 1568.4,1647 1572.6,1648.3 1576.8,1650.4 1581,1650.5 1585.2,1649.7 1589.5,1651.4 1593.7,1653 1597.9,1655.3 1602.1,1655.9 1606.3,1659.4 1610.6,1661.9 1614.8,1659.8 1619,1661.6 1623.2,1663.4 1627.4,1664.1 1631.6,1665.3 1635.9,1666.2 1640.1,1672.4 1644.3,1673.8 1648.5,1675.2 1652.7,1675.5 1657,1676 1661.2,1678.2 1665.4,1680.5 1669.6,1680.9 1673.8,1680.2 1678.1,1682.5 1682.3,1688.6 1686.5,1687.8 1690.7,1687.6 1694.9,1686.7 1699.2,1686.4 1703.4,1688.4 1707.6,1690.2 1711.8,1688.4 1716,1686.6 1720.2,1685.6 1724.5,1685 1728.7,1685.2 1732.9,1685.6 1737.1,1686.7 1741.3,1687.7 1745.6,1688.7 1749.8,1686.8 1754,1685.5 1758.2,1686.2 1762.4,1686.1 1766.7,1687.2 1770.9,1688 1775.1,1688.6 1779.3,1687.3 1783.5,1686.2 1787.8,1689.7 1792,1692.8 1796.2,1688.9 1800.4,1686 1804.6,1683.6 1808.8,1685.7 1813.1,1688.4 1817.3,1690 1821.5,1692.6 1825.7,1693.3 1829.9,1692.8 1834.2,1692.7 1838.4,1695.1 1842.6,1697.5 1846.8,1695 1846.8,1696.9 1842.6,1699.7 1838.4,1697 1834.2,1694.6 1829.9,1695.1 1825.7,1695.1 1821.5,1694.4 1817.3,1692 1813.1,1690.2 1808.8,1687.4 1804.6,1685.3 1800.4,1687.6 1796.2,1690.8 1792,1694.3 1787.8,1691.7 1783.5,1688 1779.3,1689.4 1775.1,1690.8 1770.9,1690.2 1766.7,1689.5 1762.4,1688.6 1758.2,1688.5 1754,1687.5 1749.8,1689.1 1745.6,1691 1741.3,1689.7 1737.1,1688.7 1732.9,1687.8 1728.7,1687.1 1724.5,1686.5 1720.2,1687.4 1716,1688.3 1711.8,1690.2 1707.6,1691.8 1703.4,1690.4 1699.2,1688.4 1694.9,1688.8 1690.7,1689.3 1686.5,1690.1 1682.3,1690.7 1678.1,1684.3 1673.8,1681.9 1669.6,1682.7 1665.4,1682.1 1661.2,1680 1657,1678.4 1652.7,1677.4 1648.5,1677 1644.3,1675.6 1640.1,1674.4 1635.9,1668.5 1631.6,1667.4 1627.4,1666 1623.2,1665.7 1619,1663.3 1614.8,1661.5 1610.6,1663.9 1606.3,1661.5 1602.1,1657.9 1597.9,1657.3 1593.7,1655.4 1589.5,1653.5 1585.2,1651.3 1581,1652.6 1576.8,1652.5 1572.6,1650.3 1568.4,1649.2 1564.1,1652.3 1559.9,1654 1555.7,1655.7 1551.5,1658.2 1547.3,1660.6 1543.1,1662.2 1538.8,1663.3 1534.6,1669.4 1530.4,1670.2 1526.2,1678.4 1522,1680.4 1517.7,1684.3 1513.5,1688.5 1509.3,1691.8 1505.1,1695.5 1500.9,1699.3 1496.6,1703.4 1492.4,1705.6 1488.2,1707 1484,1709 1479.8,1712.2 1475.5,1712.4 1471.3,1712.7 1467.1,1715.7 1462.9,1718.5 1458.7,1718.1 1454.5,1717.8 1450.2,1718.8 1446,1719.8 1441.8,1719 1437.6,1719.3 1433.4,1719.6 1429.1,1719.6 1424.9,1719.5 1420.7,1719 1416.5,1718.4 1412.3,1717.8 1408,1717.3 1403.8,1717 1399.6,1715.6 1395.4,1713.6 1391.2,1714.2 1386.9,1714.6 1382.7,1712.8 1378.5,1710.6 1374.3,1710 1370.1,1708.7 1365.9,1708 1361.6,1706.5 1357.4,1703.1 1353.2,1699.6 1349,1696.8 1344.8,1694.5 1340.5,1692.9 1336.3,1691.5 1332.1,1689.2 1327.9,1686.5 1323.7,1684 1319.4,1681.4 1315.2,1677.8 1311,1674.1 1306.8,1671.9 1302.6,1669.4 1298.4,1664.9 1294.1,1660.2 1289.9,1656.5 1285.7,1648.2 1281.5,1645.8 1277.3,1637.9 1273,1634.9 1268.8,1626.3 1264.6,1618.9 1260.4,1611.2 1256.2,1596.2 1251.9,1587.2 1247.7,1584.6 1243.5,1565.8 1239.3,1553.6 1235.1,1537.8 1230.8,1525.1 1226.6,1511.6 1222.4,1497.5 1218.2,1477.2 1214,1462.6 1209.8,1444.8 1205.5,1434.4 1201.3,1419.5 1197.1,1401.9 1192.9,1399.3 1188.7,1398 1184.4,1404.2 1180.2,1414.3 1176,1442 1171.8,1472.3 1167.6,1507.5 1163.3,1543.2 1159.1,1583.4 1154.9,1618.9 1150.7,1644.3 1146.5,1669.4 1142.2,1688.2 1138,1707.2 1133.8,1716.3 1129.6,1725 1125.4,1730.4 1121.2,1735.8 1116.9,1738.8 1112.7,1741.4 1108.5,1743.9 1104.3,1745.4 1100.1,1747.2 1095.8,1748.4 1091.6,1749.3 1087.4,1749.4 1083.2,1750"/>
<path class="d" d="M1083.2 1748.8h0M1087.4 1748.3h0M1091.6 1748.1h0M1095.8 1747.6h0M1100.1 1746h0M1104.3 1744.4h0M1108.5 1742.7h0M1112.7 1740.1h0M1116.9 1737.4h0M1121.2 1734.8h0M1125.4 1729.3h0M1129.6 1723.9h0M1133.8 1715.2h0M1138 1705.9h0M1142.2 1687.3h0M1146.5 1668.2h0M1150.7 1643.1h0M1154.9 1617.8h0M1159.1 1582.4h0M1163.3 1542.5h0M1167.6 1506.7h0M1171.8 1471.5h0M1176 1441.2h0M1180.2 1413.2h0M1184.4 1403h0M1188.7 1397.1h0M1192.9 1398.4h0M1197.1 1400.7h0M1201.3 1418.6h0M1205.5 1433.5h0M1209.8 1443.4h0M1214 1461.2h0M1218.2 1476.4h0M1222.4 1496.6h0M1226.6 1510.7h0M1230.8 1524.4h0M1235.1 1536.9h0M1239.3 1552.4h0M1243.5 1564.8h0M1247.7 1583.8h0M1251.9 1586.5h0M1256.2 1595.3h0M1260.4 1610.3h0M1264.6 1618h0M1268.8 1625.3h0M1273 1634.1h0M1277.3 1637h0M1281.5 1644.5h0M1285.7 1647h0M1289.9 1655.5h0M1294.1 1659.1h0M1298.4 1663.9h0M1302.6 1668.5h0M1306.8 1671h0M1311 1673.3h0M1315.2 1676.5h0M1319.4 1680.4h0M1323.7 1683.1h0M1327.9 1685.7h0M1332.1 1688.1h0M1336.3 1690.4h0M1340.5 1692.2h0M1344.8 1693.4h0M1349 1695.9h0M1353.2 1698.6h0M1357.4 1701.9h0M1361.6 1705.1h0M1365.9 1706.7h0M1370.1 1707.3h0M1374.3 1708.8h0M1378.5 1709.6h0M1382.7 1711.8h0M1386.9 1713.5h0M1391.2 1712.9h0M1395.4 1712.8h0M1399.6 1714.7h0M1403.8 1716.2h0M1408 1716.4h0M1412.3 1716.7h0M1416.5 1717.6h0M1420.7 1718.3h0M1424.9 1718.2h0M1429.1 1718.6h0M1433.4 1718.4h0M1437.6 1718.1h0M1441.8 1718.3h0M1446 1718.7h0M1450.2 1717.9h0M1454.5 1716.5h0M1458.7 1717.1h0M1462.9 1717.7h0M1467.1 1714.8h0M1471.3 1711.8h0M1475.5 1711.3h0M1479.8 1711.4h0M1484 1708.3h0M1488.2 1705.9h0M1492.4 1704.6h0M1496.6 1702.3h0M1500.9 1698.1h0M1505.1 1694.7h0M1509.3 1690.8h0M1513.5 1687.3h0M1517.7 1683.2h0M1522 1679.2h0M1526.2 1677.3h0M1530.4 1669.2h0M1534.6 1668.3h0M1538.8 1662.3h0M1543.1 1661.2h0M1547.3 1659h0M1551.5 1656.9h0M1555.7 1654.9h0M1559.9 1653h0M1564.1 1651.4h0M1568.4 1648.1h0M1572.6 1649.5h0M1576.8 1651.4h0M1581 1651.5h0M1585.2 1650.6h0M1589.5 1652.4h0M1593.7 1654.4h0M1597.9 1656.2h0M1602.1 1657.2h0M1606.3 1660.5h0M1610.6 1662.9h0M1614.8 1660.5h0M1619 1662.5h0M1623.2 1664.9h0M1627.4 1665.3h0M1631.6 1666.4h0M1635.9 1667.3h0M1640.1 1673.2h0M1644.3 1674.6h0M1648.5 1676.3h0M1652.7 1676.4h0M1657 1677.5h0M1661.2 1678.8h0M1665.4 1681.6h0M1669.6 1681.5h0M1673.8 1680.9h0M1678.1 1683.3h0M1682.3 1689.6h0M1686.5 1688.8h0M1690.7 1688.6h0M1694.9 1687.9h0M1699.2 1687.4h0M1703.4 1689.2h0M1707.6 1691.1h0M1711.8 1689.4h0M1716 1687.3h0M1720.2 1686.6h0M1724.5 1685.8h0M1728.7 1686.3h0M1732.9 1686.6h0M1737.1 1687.5h0M1741.3 1688.8h0M1745.6 1689.8h0M1749.8 1687.7h0M1754 1686.4h0M1758.2 1687.4h0M1762.4 1687.3h0M1766.7 1688.5h0M1770.9 1689.2h0M1775.1 1690h0M1779.3 1688.4h0M1783.5 1686.8h0M1787.8 1690.5h0M1792 1693.4h0M1796.2 1689.7h0M1800.4 1686.6h0M1804.6 1684.7h0M1808.8 1687.2h0M1813.1 1689.5h0M1817.3 1691.3h0M1821.5 1693.4h0M1825.7 1694.5h0M1829.9 1693.8h0M1834.2 1693.4h0M1838.4 1696.2h0M1842.6 1698.6h0M1846.8 1695.8h0"/>
<polyline class="l k" stroke="#000" points="1083.2,1749 1087.4,1748.6 1091.6,1748.1 1095.8,1747.5 1100.1,1746 1104.3,1744.4 1108.5,1742.8 1112.7,1740.1 1116.9,1737.4 1121.2,1734.7 1125.4,1729.4 1129.6,1723.8 1133.8,1715.2 1138,1706 1142.2,1687.1 1146.5,1668.4 1150.7,1643.1 1154.9,1617.9 1159.1,1582.3 1163.3,1542.2 1167.6,1506.6 1171.8,1471.5 1176,1441.1 1180.2,1413.2 1184.4,1403.1 1188.7,1397.1 1192.9,1398.3 1197.1,1400.7 1201.3,1418.5 1205.5,1433.5 1209.8,1443.6 1214,1461.4 1218.2,1476.3 1222.4,1496.5 1226.6,1510.7 1230.8,1524.4 1235.1,1537 1239.3,1552.3 1243.5,1564.9 1247.7,1583.9 1251.9,1586.3 1256.2,1595.2 1260.4,1610.2 1264.6,1617.9 1268.8,1625.3 1273,1634 1277.3,1636.9 1281.5,1644.5 1285.7,1647 1289.9,1655.5 1294.1,1659.1 1298.4,1664 1302.6,1668.4 1306.8,1671 1311,1673.3 1315.2,1676.7 1319.4,1680.3 1323.7,1683.1 1327.9,1685.8 1332.1,1688.1 1336.3,1690.4 1340.5,1692.1 1344.8,1693.5 1349,1696 1353.2,1698.5 1357.4,1702 1361.6,1705.2 1365.9,1706.9 1370.1,1707.6 1374.3,1708.9 1378.5,1709.7 1382.7,1711.9 1386.9,1713.7 1391.2,1712.9 1395.4,1712.7 1399.6,1714.6 1403.8,1716.1 1408,1716.5 1412.3,1716.7 1416.5,1717.5 1420.7,1718.1 1424.9,1718.4 1429.1,1718.7 1433.4,1718.5 1437.6,1718.1 1441.8,1718 1446,1718.7 1450.2,1717.9 1454.5,1716.7 1458.7,1717.1 1462.9,1717.7 1467.1,1714.7 1471.3,1711.7 1475.5,1711.2 1479.8,1711.1 1484,1708.2 1488.2,1706 1492.4,1704.5 1496.6,1702.6 1500.9,1698.2 1505.1,1694.5 1509.3,1690.9 1513.5,1687.4 1517.7,1683.3 1522,1679.3 1526.2,1677.3 1530.4,1669.2 1534.6,1668.4 1538.8,1662.3 1543.1,1661 1547.3,1659.1 1551.5,1656.9 1555.7,1654.7 1559.9,1653.1 1564.1,1651.4 1568.4,1648.2 1572.6,1649.3 1576.8,1651.4 1581,1651.6 1585.2,1650.6 1589.5,1652.4 1593.7,1654.3 1597.9,1656.4 1602.1,1657.1 1606.3,1660.5 1610.6,1663.1 1614.8,1660.7 1619,1662.5 1623.2,1664.8 1627.4,1665.1 1631.6,1666.4 1635.9,1667.2 1640.1,1673.3 1644.3,1674.8 1648.5,1676.3 1652.7,1676.5 1657,1677.3 1661.2,1679 1665.4,1681.3 1669.6,1681.6 1673.8,1680.9 1678.1,1683.4 1682.3,1689.4 1686.5,1688.9 1690.7,1688.4 1694.9,1688 1699.2,1687.4 1703.4,1689.3 1707.6,1691.1 1711.8,1689.2 1716,1687.4 1720.2,1686.7 1724.5,1685.8 1728.7,1686.2 1732.9,1686.7 1737.1,1687.4 1741.3,1688.8 1745.6,1689.8 1749.8,1688 1754,1686.4 1758.2,1687.3 1762.4,1687.3 1766.7,1688.4 1770.9,1689.2 1775.1,1689.8 1779.3,1688.4 1783.5,1687 1787.8,1690.7 1792,1693.5 1796.2,1689.8 1800.4,1686.7 1804.6,1684.4 1808.8,1686.8 1813.1,1689.4 1817.3,1691 1821.5,1693.5 1825.7,1694.3 1829.9,1693.9 1834.2,1693.5 1838.4,1696 1842.6,1698.5 1846.8,1695.9"/>
<polyline class="l" stroke="#ffa500" points="1083.2,1749 1087.4,1748.6 1091.6,1748.1 1095.8,1747.4 1100.1,1745.9 1104.3,1744.6 1108.5,1742.8 1112.7,1740 1116.9,1737.3 1121.2,1734.6 1125.4,1729.3 1129.6,1723.8 1133.8,1714.9 1138,1706 1142.2,1687.2 1146.5,1668.3 1150.7,1643 1154.9,1617.8 1159.1,1582.4 1163.3,1542.4 1167.6,1506.6 1171.8,1471.5 1176,1441.3 1180.2,1413.3 1184.4,1403.1 1188.7,1397.1 1192.9,1398.2 1197.1,1400.7 1201.3,1418.5 1205.5,1433.4 1209.8,1443.6 1214,1461.5 1218.2,1476.6 1222.4,1496.4 1226.6,1510.8 1230.8,1524.6 1235.1,1536.9 1239.3,1552.3 1243.5,1565 1247.7,1583.9 1251.9,1586.5 1256.2,1594.9 1260.4,1610 1264.6,1617.7 1268.8,1625.2 1273,1634.1 1277.3,1636.7 1281.5,1644.6 1285.7,1646.9 1289.9,1655.6 1294.1,1659.2 1298.4,1664 1302.6,1668.4 1306.8,1671.3 1311,1673.2 1315.2,1676.8 1319.4,1680.3 1323.7,1683.1 1327.9,1685.8 1332.1,1687.9 1336.3,1690.4 1340.5,1692.1 1344.8,1693.4 1349,1695.9 1353.2,1698.4 1357.4,1702.1 1361.6,1704.2 1365.9,1704.4 1370.1,1706.1 1374.3,1706.4 1378.5,1708.1 1382.7,1708.4 1386.9,1708.9 1391.2,1709.5 1395.4,1709.8 1399.6,1709.9 1403.8,1711.6 1408,1712.8 1412.3,1712.9 1416.5,1713.6 1420.7,1714.4 1424.9,1714.7 1429.1,1714.8 1433.4,1714.6 1437.6,1716.5 1441.8,1716.8 1446,1715.9 1450.2,1716.2 1454.5,1715.7 1458.7,1715.3 1462.9,1715.3 1467.1,1714.6 1471.3,1712.9 1475.5,1712.5 1479.8,1711 1484,1709.6 1488.2,1708 1492.4,1706.9 1496.6,1706 1500.9,1705.5 1505.1,1704.4 1509.3,1703.8 1513.5,1700.9 1517.7,1699.9 1522,1698 1526.2,1696.6 1530.4,1695 1534.6,1694 1538.8,1692.7 1543.1,1691.6 1547.3,1690.8 1551.5,1690.5 1555.7,1690.1 1559.9,1689.6 1564.1,1689.1 1568.4,1690 1572.6,1689.1 1576.8,1689.9 1581,1689.7 1585.2,1687.9 1589.5,1689.1 1593.7,1689.1 1597.9,1690.7 1602.1,1689.9 1606.3,1690.7 1610.6,1691 1614.8,1692.1 1619,1691.6 1623.2,1692.2 1627.4,1692.6 1631.6,1691.9 1635.9,1692.5 1640.1,1692.8 1644.3,1691.7 1648.5,1691.9 1652.7,1692.6 1657,1691.8 1661.2,1691.3 1665.4,1691 1669.6,1691.1 1673.8,1689.8 1678.1,1690.2 1682.3,1689.2 1686.5,1688.8 1690.7,1688.4 1694.9,1688.1 1699.2,1687.4 1703.4,1689.3 1707.6,1691.2 1711.8,1689.1 1716,1687.4 1720.2,1686.7 1724.5,1685.7 1728.7,1686.1 1732.9,1686.8 1737.1,1687.4 1741.3,1689 1745.6,1689.8 1749.8,1688.1 1754,1686.4 1758.2,1687.3 1762.4,1687.5 1766.7,1688.5 1770.9,1689.1 1775.1,1689.6 1779.3,1688.5 1783.5,1686.9 1787.8,1690.5 1792,1693.5 1796.2,1689.8 1800.4,1687 1804.6,1684.3 1808.8,1686.9 1813.1,1689.4 1817.3,1691 1821.5,1693.5 1825.7,1694.1 1829.9,1693.8 1834.2,1693.6 1838.4,1696 1842.6,1698.7 1846.8,1695.6"/>
<rect class="s" x="1045" y="1379" width="840" height="389"/>
<path class="s" d="M1083.2 1768v9.33M1188.7 1768v9.33M1294.1 1768v9.33M1399.6 1768v9.33M1505.1 1768v9.33M1610.6 1768v9.33M1716 1768v9.33M1821.5 1768v9.33M1045 1750.5h-9.33M1045 1669.6h-9.33M1045 1588.7h-9.33M1045 1507.9h-9.33M1045 1427h-9.33"/>
<g font-size="29.9">
<text x="1083.2" y="1806.9" text-anchor="middle" textLength="17" lengthAdjust="spacingAndGlyphs">0</text>
<text x="1188.7" y="1806.9" text-anchor="middle" textLength="33.9" lengthAdjust="spacingAndGlyphs">25</text>
<text x="1294.1" y="1806.9" text-anchor="middle" textLength="33.9" lengthAdjust="spacingAndGlyphs">50</text>
<text x="1399.6" y="1806.9" text-anchor="middle" textLength="33.9" lengthAdjust="spacingAndGlyphs">75</text>
<text x="1505.1" y="1806.9" text-anchor="middle" textLength="50.9" lengthAdjust="spacingAndGlyphs">100</text>
<text x="1610.6" y="1806.9" text-anchor="middle" textLength="50.9" lengthAdjust="spacingAndGlyphs">125</text>
<text x="1716" y="1806.9" text-anchor="middle" textLength="50.9" lengthAdjust="spacingAndGlyphs">150</text>
<text x="1821.5" y="1806.9" text-anchor="middle" textLength="50.9" lengthAdjust="spacingAndGlyphs">175</text>
<text x="1025.5" y="1760.2" text-anchor="end" textLength="17" lengthAdjust="spacingAndGlyphs">0</text>
<text x="1025.5" y="1679.3" text-anchor="end" textLength="67.9" lengthAdjust="spacingAndGlyphs">2000</text>
<text x="1025.5" y="1598.4" text-anchor="end" textLength="67.9" lengthAdjust="spacingAndGlyphs">4000</text>
<text x="1025.5" y="1517.6" text-anchor="end" textLength="67.9" lengthAdjust="spacingAndGlyphs">6000</text>
<text x="1025.5" y="1436.7" text-anchor="end" textLength="67.9" lengthAdjust="spacingAndGlyphs">8000</text>
<text x="1465" y="1843.6" text-anchor="middle" textLength="66.6" lengthAdjust="spacingAndGlyphs">Days</text>
</g>
<text y="1363" font-size="33.6"><tspan x="1075.1" textLength="155.5" lengthAdjust="spacingAndGlyphs">Maricopa,</tspan> <tspan x="1241.8" textLength="42.8" lengthAdjust="spacingAndGlyphs">AZ</tspan> <tspan x="1295.7" textLength="89.4" lengthAdjust="spacingAndGlyphs">RMSE</tspan> <tspan x="1396.3" textLength="87.2" lengthAdjust="spacingAndGlyphs">EnKF:</tspan> <tspan x="1494.7" textLength="80.4" lengthAdjust="spacingAndGlyphs">2.19,</tspan> <tspan x="1586.3" textLength="89.4" lengthAdjust="spacingAndGlyphs">RMSE</tspan> <tspan x="1686.8" textLength="45" lengthAdjust="spacingAndGlyphs">PF:</tspan> <tspan x="1743" textLength="111" lengthAdjust="spacingAndGlyphs">327.49</tspan></text>
<g transform="translate(1650.2,1389.3)">
<rect class="lf" x="0" y="0" width="224.6" height="160.4" rx="4.3"/>
<path class="l" stroke="#000" d="M8.5 17.3H51.2"/>
<path class="l" stroke="#ffa500" d="M8.5 48.3H51.2"/>
<rect class="b" fill="#00f" stroke="#00f" x="8.5" y="71.5" width="42.67" height="14.93"/>
<rect class="b" fill="#008000" stroke="#008000" x="8.5" y="102.4" width="42.67" height="14.93"/>
<path class="d" d="M29.9 142.1h0"/>
<text y="24.6" font-size="22.4"><tspan x="68.3" textLength="59.5" lengthAdjust="spacingAndGlyphs">mean</tspan> <tspan x="135.6" textLength="19.6" lengthAdjust="spacingAndGlyphs">of</tspan> <tspan x="162.9" textLength="52.3" lengthAdjust="spacingAndGlyphs">EnKF</tspan></text>
<text y="55.6" font-size="22.4"><tspan x="68.3" textLength="59.5" lengthAdjust="spacingAndGlyphs">mean</tspan> <tspan x="135.6" textLength="19.6" lengthAdjust="spacingAndGlyphs">of</tspan> <tspan x="162.9" textLength="24.1" lengthAdjust="spacingAndGlyphs">PF</tspan></text>
<text y="86.3" font-size="22.4"><tspan x="68.3" textLength="46.4" lengthAdjust="spacingAndGlyphs">95%</tspan> <tspan x="122.5" textLength="20.2" lengthAdjust="spacingAndGlyphs">CI</tspan> <tspan x="150.4" textLength="52.3" lengthAdjust="spacingAndGlyphs">EnKF</tspan></text>
<text y="117.1" font-size="22.4"><tspan x="68.3" textLength="46.4" lengthAdjust="spacingAndGlyphs">95%</tspan> <tspan x="122.5" textLength="20.2" lengthAdjust="spacingAndGlyphs">CI</tspan> <tspan x="150.4" textLength="24.1" lengthAdjust="spacingAndGlyphs">PF</tspan></text>
<text y="147.8" font-size="22.4"><tspan x="68.3" textLength="47.1" lengthAdjust="spacingAndGlyphs">data</tspan></text>
</g>
</g>
<g>
<polygon class="b" fill="#00f" stroke="#00f" points="2039.2,1730.4 2043.4,1729.6 2047.6,1729.6 2051.8,1731.1 2056.1,1728.1 2060.3,1726.6 2064.5,1725.8 2068.7,1721.3 2072.9,1717.5 2077.2,1714.5 2081.4,1708.4 2085.6,1705.4 2089.8,1700.1 2094,1684.9 2098.2,1673.6 2102.5,1663 2106.7,1637.2 2110.9,1638.7 2115.1,1602.4 2119.3,1569.1 2123.6,1536.5 2127.8,1505.5 2132,1493.4 2136.2,1465.4 2140.4,1444.2 2144.7,1454 2148.9,1408.6 2153.1,1417.7 2157.3,1399.5 2161.5,1421.5 2165.8,1430.5 2170,1445.7 2174.2,1463.1 2178.4,1471.4 2182.6,1481.3 2186.8,1507 2191.1,1501.7 2195.3,1549.4 2199.5,1547.1 2203.7,1569.9 2207.9,1561.5 2212.2,1575.2 2216.4,1578.9 2220.6,1607 2224.8,1591.8 2229,1613 2233.3,1627.4 2237.5,1629.7 2241.7,1635 2245.9,1642.5 2250.1,1636.5 2254.4,1646.3 2258.6,1646.3 2262.8,1641.8 2267,1663 2271.2,1659.9 2275.4,1666 2279.7,1669 2283.9,1666.8 2288.1,1671.3 2292.3,1675.8 2296.5,1680.4 2300.8,1682.7 2305,1686.4 2309.2,1681.9 2313.4,1680.4 2317.6,1683.4 2321.9,1684.2 2326.1,1684.9 2330.3,1694.8 2334.5,1699.3 2338.7,1696.3 2342.9,1697 2347.2,1697.8 2351.4,1698.6 2355.6,1698.6 2359.8,1698.6 2364,1697 2368.3,1694.8 2372.5,1697 2376.7,1698.6 2380.9,1697 2385.1,1697.8 2389.4,1694 2393.6,1693.3 2397.8,1696.3 2402,1697.8 2406.2,1699.3 2410.5,1697.8 2414.7,1695.5 2418.9,1694.8 2423.1,1694.8 2427.3,1699.3 2431.5,1698.6 2435.8,1697.8 2440,1695.5 2444.2,1696.3 2448.4,1697 2452.6,1696.3 2456.9,1699.3 2461.1,1698.6 2465.3,1696.3 2469.5,1695.5 2473.7,1699.3 2478,1700.8 2482.2,1702.3 2486.4,1700.1 2490.6,1697.8 2494.8,1698.6 2499.1,1700.1 2503.3,1703.1 2507.5,1705.4 2511.7,1697.8 2515.9,1697.8 2520.1,1698.6 2524.4,1704.6 2528.6,1704.6 2532.8,1704.6 2537,1701.6 2541.2,1700.8 2545.5,1706.1 2549.7,1707.6 2553.9,1704.6 2558.1,1703.1 2562.3,1700.8 2566.6,1702.3 2570.8,1700.1 2575,1700.8 2579.2,1698.6 2583.4,1703.1 2587.6,1701.6 2591.9,1703.1 2596.1,1701.6 2600.3,1701.6 2604.5,1701.6 2608.7,1704.6 2613,1700.8 2617.2,1697.8 2621.4,1694.8 2625.6,1695.5 2629.8,1696.3 2634.1,1699.3 2638.3,1700.1 2642.5,1697 2646.7,1692.5 2650.9,1690.2 2655.2,1688.7 2659.4,1690.2 2663.6,1687.2 2667.8,1686.4 2672,1688 2676.2,1679.6 2680.5,1675.1 2684.7,1675.1 2688.9,1674.3 2693.1,1676.6 2697.3,1673.6 2701.6,1669.8 2705.8,1671.3 2710,1672.8 2714.2,1666 2718.4,1665.2 2722.7,1667.5 2726.9,1663.7 2731.1,1658.4 2735.3,1655.4 2739.5,1655.4 2743.8,1655.4 2748,1653.1 2752.2,1648.6 2756.4,1651.6 2760.6,1661.5 2764.8,1663.7 2769.1,1660.7 2773.3,1661.5 2777.5,1656.9 2781.7,1656.9 2785.9,1653.1 2790.2,1647.1 2794.4,1649.3 2798.6,1653.9 2802.8,1663.7 2802.8,1681.9 2798.6,1674.3 2794.4,1669.8 2790.2,1670.5 2785.9,1675.1 2781.7,1676.6 2777.5,1678.1 2773.3,1678.9 2769.1,1679.6 2764.8,1681.1 2760.6,1679.6 2756.4,1673.6 2752.2,1668.3 2748,1671.3 2743.8,1672.8 2739.5,1675.8 2735.3,1672.8 2731.1,1674.3 2726.9,1681.9 2722.7,1685.7 2718.4,1683.4 2714.2,1686.4 2710,1692.5 2705.8,1688 2701.6,1689.5 2697.3,1691 2693.1,1695.5 2688.9,1693.3 2684.7,1692.5 2680.5,1692.5 2676.2,1698.6 2672,1706.1 2667.8,1706.1 2663.6,1706.9 2659.4,1712.9 2655.2,1708.4 2650.9,1706.9 2646.7,1711.4 2642.5,1716 2638.3,1718.2 2634.1,1718.2 2629.8,1714.5 2625.6,1713.7 2621.4,1716.7 2617.2,1718.2 2613,1724.3 2608.7,1724.3 2604.5,1721.3 2600.3,1720.5 2596.1,1722 2591.9,1721.3 2587.6,1719 2583.4,1721.3 2579.2,1719.8 2575,1716 2570.8,1717.5 2566.6,1720.5 2562.3,1719.8 2558.1,1722 2553.9,1722 2549.7,1722.8 2545.5,1722 2541.2,1720.5 2537,1719.8 2532.8,1722 2528.6,1721.3 2524.4,1722 2520.1,1717.5 2515.9,1720.5 2511.7,1717.5 2507.5,1725.1 2503.3,1721.3 2499.1,1719 2494.8,1720.5 2490.6,1717.5 2486.4,1718.2 2482.2,1721.3 2478,1719 2473.7,1715.2 2469.5,1713.7 2465.3,1714.5 2461.1,1716.7 2456.9,1719 2452.6,1719 2448.4,1712.2 2444.2,1714.5 2440,1714.5 2435.8,1716.7 2431.5,1717.5 2427.3,1718.2 2423.1,1712.9 2418.9,1713.7 2414.7,1716 2410.5,1717.5 2406.2,1719.8 2402,1719 2397.8,1719 2393.6,1713.7 2389.4,1717.5 2385.1,1718.2 2380.9,1716 2376.7,1715.2 2372.5,1715.2 2368.3,1714.5 2364,1716 2359.8,1716 2355.6,1715.2 2351.4,1716.7 2347.2,1713.7 2342.9,1710.7 2338.7,1715.2 2334.5,1716.7 2330.3,1714.5 2326.1,1706.9 2321.9,1704.6 2317.6,1705.4 2313.4,1700.1 2309.2,1701.6 2305,1702.3 2300.8,1701.6 2296.5,1697 2292.3,1694.8 2288.1,1691 2283.9,1685.7 2279.7,1689.5 2275.4,1685.7 2271.2,1681.1 2267,1684.2 2262.8,1662.2 2258.6,1663.7 2254.4,1666 2250.1,1653.9 2245.9,1663.7 2241.7,1653.1 2237.5,1648.6 2233.3,1647.8 2229,1631.9 2224.8,1610.7 2220.6,1626.6 2216.4,1595.6 2212.2,1595.6 2207.9,1580.5 2203.7,1588 2199.5,1563.8 2195.3,1566.1 2191.1,1520.6 2186.8,1525.9 2182.6,1501 2178.4,1491.1 2174.2,1485.1 2170,1464.6 2165.8,1450.2 2161.5,1441.1 2157.3,1423 2153.1,1437.4 2148.9,1429.8 2144.7,1476 2140.4,1463.9 2136.2,1488.8 2132,1514.6 2127.8,1529 2123.6,1558.5 2119.3,1587.3 2115.1,1622.8 2110.9,1659.9 2106.7,1658.4 2102.5,1683.4 2098.2,1694 2094,1706.9 2089.8,1717.5 2085.6,1722 2081.4,1725.1 2077.2,1733.4 2072.9,1741 2068.7,1744.7 2064.5,1747.8 2060.3,1747.8 2056.1,1752.3 2051.8,1750.8 2047.6,1749.3 2043.4,1749.3 2039.2,1747"/>
<polygon class="b" fill="#008000" stroke="#008000" points="2039.2,1737.2 2043.4,1734.9 2047.6,1734.9 2051.8,1735.7 2056.1,1732.6 2060.3,1730.4 2064.5,1725.8 2068.7,1725.8 2072.9,1722 2077.2,1713.7 2081.4,1708.4 2085.6,1705.4 2089.8,1700.1 2094,1684.9 2098.2,1672.8 2102.5,1663 2106.7,1635.7 2110.9,1638.7 2115.1,1601.7 2119.3,1567.6 2123.6,1536.5 2127.8,1505.5 2132,1491.1 2136.2,1465.4 2140.4,1445.7 2144.7,1454 2148.9,1408.6 2153.1,1418.4 2157.3,1401 2161.5,1422.2 2165.8,1431.3 2170,1444.9 2174.2,1463.1 2178.4,1469.9 2182.6,1481.3 2186.8,1506.3 2191.1,1501 2195.3,1547.1 2199.5,1547.9 2203.7,1569.9 2207.9,1560.8 2212.2,1576.7 2216.4,1579.7 2220.6,1605.4 2224.8,1593.3 2229,1613.8 2233.3,1627.4 2237.5,1628.1 2241.7,1635 2245.9,1642.5 2250.1,1637.2 2254.4,1646.3 2258.6,1644.8 2262.8,1641 2267,1663 2271.2,1659.2 2275.4,1666 2279.7,1669 2283.9,1666 2288.1,1671.3 2292.3,1675.8 2296.5,1678.1 2300.8,1682.7 2305,1685.7 2309.2,1681.9 2313.4,1679.6 2317.6,1683.4 2321.9,1684.9 2326.1,1686.4 2330.3,1694 2334.5,1698.6 2338.7,1697 2342.9,1697 2347.2,1694.8 2351.4,1697 2355.6,1697 2359.8,1699.3 2364,1696.3 2368.3,1694 2372.5,1695.5 2376.7,1697 2380.9,1697.8 2385.1,1697.8 2389.4,1694.8 2393.6,1693.3 2397.8,1697.8 2402,1697.8 2406.2,1698.6 2410.5,1696.3 2414.7,1695.5 2418.9,1695.5 2423.1,1694 2427.3,1700.1 2431.5,1699.3 2435.8,1696.3 2440,1697 2444.2,1694.8 2448.4,1696.3 2452.6,1696.3 2456.9,1698.6 2461.1,1698.6 2465.3,1697 2469.5,1694.8 2473.7,1698.6 2478,1700.1 2482.2,1701.6 2486.4,1698.6 2490.6,1697 2494.8,1699.3 2499.1,1700.8 2503.3,1703.1 2507.5,1704.6 2511.7,1697 2515.9,1697.8 2520.1,1698.6 2524.4,1703.9 2528.6,1704.6 2532.8,1706.1 2537,1701.6 2541.2,1701.6 2545.5,1706.1 2549.7,1708.4 2553.9,1704.6 2558.1,1702.3 2562.3,1701.6 2566.6,1703.1 2570.8,1698.6 2575,1700.1 2579.2,1700.1 2583.4,1703.1 2587.6,1701.6 2591.9,1702.3 2596.1,1701.6 2600.3,1700.8 2604.5,1700.8 2608.7,1703.1 2613,1701.6 2617.2,1697 2621.4,1694.8 2625.6,1694.8 2629.8,1697.8 2634.1,1700.1 2638.3,1700.1 2642.5,1697.8 2646.7,1694 2650.9,1689.5 2655.2,1688 2659.4,1690.2 2663.6,1687.2 2667.8,1687.2 2672,1687.2 2676.2,1679.6 2680.5,1674.3 2684.7,1675.8 2688.9,1675.1 2693.1,1675.8 2697.3,1672.8 2701.6,1668.3 2705.8,1670.5 2710,1672.8 2714.2,1667.5 2718.4,1663.7 2722.7,1666 2726.9,1663 2731.1,1656.9 2735.3,1655.4 2739.5,1654.6 2743.8,1653.1 2748,1652.4 2752.2,1647.8 2756.4,1652.4 2760.6,1662.2 2764.8,1663 2769.1,1660.7 2773.3,1659.9 2777.5,1656.2 2781.7,1656.2 2785.9,1653.1 2790.2,1646.3 2794.4,1649.3 2798.6,1653.9 2802.8,1663.7 2802.8,1683.4 2798.6,1674.3 2794.4,1670.5 2790.2,1669.8 2785.9,1675.1 2781.7,1678.1 2777.5,1677.4 2773.3,1679.6 2769.1,1678.1 2764.8,1681.9 2760.6,1678.1 2756.4,1672.8 2752.2,1668.3 2748,1672.8 2743.8,1672.8 2739.5,1675.8 2735.3,1672.8 2731.1,1674.3 2726.9,1681.9 2722.7,1686.4 2718.4,1684.2 2714.2,1686.4 2710,1691.7 2705.8,1688.7 2701.6,1691 2697.3,1691 2693.1,1694.8 2688.9,1691.7 2684.7,1692.5 2680.5,1692.5 2676.2,1700.1 2672,1706.1 2667.8,1706.1 2663.6,1707.6 2659.4,1712.9 2655.2,1708.4 2650.9,1709.2 2646.7,1709.9 2642.5,1714.5 2638.3,1716.7 2634.1,1718.2 2629.8,1715.2 2625.6,1713.7 2621.4,1717.5 2617.2,1719 2613,1725.1 2608.7,1723.5 2604.5,1722 2600.3,1721.3 2596.1,1722 2591.9,1721.3 2587.6,1718.2 2583.4,1719.8 2579.2,1719 2575,1716 2570.8,1717.5 2566.6,1722 2562.3,1721.3 2558.1,1721.3 2553.9,1723.5 2549.7,1722.8 2545.5,1722.8 2541.2,1718.2 2537,1719 2532.8,1721.3 2528.6,1722 2524.4,1722 2520.1,1718.2 2515.9,1718.2 2511.7,1716.7 2507.5,1724.3 2503.3,1721.3 2499.1,1719.8 2494.8,1718.2 2490.6,1718.2 2486.4,1719.8 2482.2,1720.5 2478,1719 2473.7,1715.2 2469.5,1713.7 2465.3,1715.2 2461.1,1716 2456.9,1719 2452.6,1719 2448.4,1712.9 2444.2,1713.7 2440,1714.5 2435.8,1716.7 2431.5,1717.5 2427.3,1717.5 2423.1,1714.5 2418.9,1714.5 2414.7,1716 2410.5,1718.2 2406.2,1718.2 2402,1718.2 2397.8,1718.2 2393.6,1714.5 2389.4,1716.7 2385.1,1718.2 2380.9,1716 2376.7,1716 2372.5,1712.9 2368.3,1714.5 2364,1715.2 2359.8,1717.5 2355.6,1714.5 2351.4,1717.5 2347.2,1713.7 2342.9,1712.2 2338.7,1714.5 2334.5,1717.5 2330.3,1714.5 2326.1,1708.4 2321.9,1706.1 2317.6,1706.1 2313.4,1698.6 2309.2,1700.8 2305,1701.6 2300.8,1700.8 2296.5,1696.3 2292.3,1694 2288.1,1689.5 2283.9,1684.9 2279.7,1689.5 2275.4,1686.4 2271.2,1679.6 2267,1684.2 2262.8,1663 2258.6,1664.5 2254.4,1666 2250.1,1653.1 2245.9,1662.2 2241.7,1653.9 2237.5,1649.3 2233.3,1647.1 2229,1631.9 2224.8,1611.5 2220.6,1625.9 2216.4,1597.9 2212.2,1595.6 2207.9,1580.5 2203.7,1588 2199.5,1564.6 2195.3,1566.1 2191.1,1520.6 2186.8,1526.7 2182.6,1501.7 2178.4,1492.6 2174.2,1484.3 2170,1463.1 2165.8,1451 2161.5,1442.7 2157.3,1422.2 2153.1,1438.1 2148.9,1429.8 2144.7,1475.2 2140.4,1463.9 2136.2,1488.8 2132,1513.1 2127.8,1527.5 2123.6,1557.7 2119.3,1586.5 2115.1,1622.8 2110.9,1659.2 2106.7,1658.4 2102.5,1684.2 2098.2,1693.3 2094,1706.9 2089.8,1719.8 2085.6,1722 2081.4,1725.8 2077.2,1734.1 2072.9,1740.2 2068.7,1745.5 2064.5,1745.5 2060.3,1745.5 2056.1,1745.5 2051.8,1745.5 2047.6,1745.5 2043.4,1745.5 2039.2,1745.5"/>
<path class="d" d="M2039.2 1744h0M2043.4 1743.2h0M2047.6 1741.7h0M2051.8 1743.2h0M2056.1 1745.5h0M2060.3 1739.4h0M2064.5 1738.7h0M2068.7 1737.2h0M2072.9 1728.1h0M2077.2 1721.3h0M2081.4 1720.5h0M2085.6 1710.7h0M2089.8 1709.9h0M2094 1695.5h0M2098.2 1685.7h0M2102.5 1674.3h0M2106.7 1649.3h0M2110.9 1651.6h0M2115.1 1611.5h0M2119.3 1580.5h0M2123.6 1547.9h0M2127.8 1517.6h0M2132 1499.4h0M2136.2 1476h0M2140.4 1451.7h0M2144.7 1463.1h0M2148.9 1415.4h0M2153.1 1430.5h0M2157.3 1413.1h0M2161.5 1429h0M2165.8 1448.7h0M2170 1455.5h0M2174.2 1471.4h0M2178.4 1485.1h0M2182.6 1479.8h0M2186.8 1513.1h0M2191.1 1507.8h0M2195.3 1556.2h0M2199.5 1560h0M2203.7 1575.2h0M2207.9 1566.8h0M2212.2 1585.8h0M2216.4 1588.8h0M2220.6 1617.6h0M2224.8 1601.7h0M2229 1623.6h0M2233.3 1633.4h0M2237.5 1647.1h0M2241.7 1645.6h0M2245.9 1650.1h0M2250.1 1649.3h0M2254.4 1652.4h0M2258.6 1653.1h0M2262.8 1647.8h0M2267 1670.5h0M2271.2 1668.3h0M2275.4 1677.4h0M2279.7 1675.8h0M2283.9 1674.3h0M2288.1 1681.1h0M2292.3 1685.7h0M2296.5 1690.2h0M2300.8 1693.3h0M2305 1690.2h0M2309.2 1691.7h0M2313.4 1692.5h0M2317.6 1696.3h0M2321.9 1700.1h0M2326.1 1691.7h0M2330.3 1700.1h0M2334.5 1706.1h0M2338.7 1700.8h0M2342.9 1705.4h0M2347.2 1703.1h0M2351.4 1707.6h0M2355.6 1707.6h0M2359.8 1705.4h0M2364 1704.6h0M2368.3 1707.6h0M2372.5 1713.7h0M2376.7 1709.9h0M2380.9 1706.1h0M2385.1 1708.4h0M2389.4 1697.8h0M2393.6 1705.4h0M2397.8 1699.3h0M2402 1706.9h0M2406.2 1703.1h0M2410.5 1704.6h0M2414.7 1703.1h0M2418.9 1706.9h0M2423.1 1712.2h0M2427.3 1709.9h0M2431.5 1703.1h0M2435.8 1712.2h0M2440 1703.9h0M2444.2 1704.6h0M2448.4 1705.4h0M2452.6 1706.9h0M2456.9 1711.4h0M2461.1 1704.6h0M2465.3 1711.4h0M2469.5 1704.6h0M2473.7 1706.1h0M2478 1713.7h0M2482.2 1710.7h0M2486.4 1703.1h0M2490.6 1712.9h0M2494.8 1705.4h0M2499.1 1709.2h0M2503.3 1707.6h0M2507.5 1714.5h0M2511.7 1708.4h0M2515.9 1712.2h0M2520.1 1714.5h0M2524.4 1711.4h0M2528.6 1712.2h0M2532.8 1715.2h0M2537 1707.6h0M2541.2 1714.5h0M2545.5 1711.4h0M2549.7 1713.7h0M2553.9 1705.4h0M2558.1 1720.5h0M2562.3 1705.4h0M2566.6 1708.4h0M2570.8 1704.6h0M2575 1709.9h0M2579.2 1709.9h0M2583.4 1709.2h0M2587.6 1711.4h0M2591.9 1710.7h0M2596.1 1712.2h0M2600.3 1704.6h0M2604.5 1709.9h0M2608.7 1710.7h0M2613 1710.7h0M2617.2 1707.6h0M2621.4 1704.6h0M2625.6 1707.6h0M2629.8 1710.7h0M2634.1 1705.4h0M2638.3 1709.2h0M2642.5 1708.4h0M2646.7 1701.6h0M2650.9 1697h0M2655.2 1693.3h0M2659.4 1701.6h0M2663.6 1697.8h0M2667.8 1696.3h0M2672 1691.7h0M2676.2 1689.5h0M2680.5 1678.9h0M2684.7 1681.1h0M2688.9 1685.7h0M2693.1 1690.2h0M2697.3 1687.2h0M2701.6 1681.1h0M2705.8 1679.6h0M2710 1681.9h0M2714.2 1673.6h0M2718.4 1677.4h0M2722.7 1678.9h0M2726.9 1668.3h0M2731.1 1661.5h0M2735.3 1664.5h0M2739.5 1665.2h0M2743.8 1659.2h0M2748 1662.2h0M2752.2 1657.7h0M2756.4 1661.5h0M2760.6 1672.8h0M2764.8 1674.3h0M2769.1 1672.1h0M2773.3 1670.5h0M2777.5 1667.5h0M2781.7 1664.5h0M2785.9 1662.2h0M2790.2 1658.4h0M2794.4 1656.2h0M2798.6 1668.3h0M2802.8 1671.3h0"/>
<polyline class="l k" stroke="#000" points="2039.2,1744 2043.4,1744 2047.6,1743.2 2051.8,1743.2 2056.1,1741 2060.3,1738.7 2064.5,1736.4 2068.7,1734.9 2072.9,1731.1 2077.2,1724.3 2081.4,1719 2085.6,1712.9 2089.8,1708.4 2094,1696.3 2098.2,1683.4 2102.5,1673.6 2106.7,1647.8 2110.9,1647.8 2115.1,1613 2119.3,1577.4 2123.6,1547.1 2127.8,1516.9 2132,1501.7 2136.2,1476.7 2140.4,1454 2144.7,1463.9 2148.9,1418.4 2153.1,1428.3 2157.3,1410.9 2161.5,1431.3 2165.8,1441.1 2170,1454 2174.2,1473.7 2178.4,1481.3 2182.6,1488.8 2186.8,1514.6 2191.1,1509.3 2195.3,1557 2199.5,1554.7 2203.7,1577.4 2207.9,1569.9 2212.2,1585 2216.4,1587.3 2220.6,1615.3 2224.8,1602.4 2229,1622.8 2233.3,1638 2237.5,1640.3 2241.7,1645.6 2245.9,1653.1 2250.1,1643.3 2254.4,1655.4 2258.6,1655.4 2262.8,1651.6 2267,1672.1 2271.2,1669.8 2275.4,1676.6 2279.7,1678.9 2283.9,1675.1 2288.1,1679.6 2292.3,1684.9 2296.5,1688 2300.8,1691.7 2305,1693.3 2309.2,1691.7 2313.4,1691.7 2317.6,1694.8 2321.9,1695.5 2326.1,1697 2330.3,1704.6 2334.5,1707.6 2338.7,1704.6 2342.9,1704.6 2347.2,1705.4 2351.4,1706.9 2355.6,1706.1 2359.8,1705.4 2364,1706.1 2368.3,1704.6 2372.5,1704.6 2376.7,1707.6 2380.9,1706.9 2385.1,1706.1 2389.4,1705.4 2393.6,1703.1 2397.8,1707.6 2402,1709.2 2406.2,1707.6 2410.5,1706.9 2414.7,1704.6 2418.9,1705.4 2423.1,1705.4 2427.3,1709.9 2431.5,1706.9 2435.8,1706.1 2440,1704.6 2444.2,1704.6 2448.4,1704.6 2452.6,1708.4 2456.9,1708.4 2461.1,1707.6 2465.3,1705.4 2469.5,1705.4 2473.7,1706.9 2478,1707.6 2482.2,1710.7 2486.4,1709.2 2490.6,1707.6 2494.8,1708.4 2499.1,1710.7 2503.3,1711.4 2507.5,1713.7 2511.7,1708.4 2515.9,1707.6 2520.1,1708.4 2524.4,1712.2 2528.6,1712.9 2532.8,1713.7 2537,1711.4 2541.2,1709.9 2545.5,1713.7 2549.7,1713.7 2553.9,1712.9 2558.1,1712.2 2562.3,1709.9 2566.6,1710.7 2570.8,1709.2 2575,1708.4 2579.2,1709.9 2583.4,1712.2 2587.6,1712.2 2591.9,1712.2 2596.1,1711.4 2600.3,1709.9 2604.5,1710.7 2608.7,1713.7 2613,1712.2 2617.2,1709.2 2621.4,1706.1 2625.6,1705.4 2629.8,1706.1 2634.1,1709.2 2638.3,1709.2 2642.5,1706.9 2646.7,1703.1 2650.9,1698.6 2655.2,1697.8 2659.4,1701.6 2663.6,1697 2667.8,1696.3 2672,1696.3 2676.2,1688.7 2680.5,1684.2 2684.7,1684.9 2688.9,1684.9 2693.1,1685.7 2697.3,1682.7 2701.6,1678.9 2705.8,1678.9 2710,1681.1 2714.2,1675.8 2718.4,1674.3 2722.7,1674.3 2726.9,1670.5 2731.1,1665.2 2735.3,1664.5 2739.5,1665.2 2743.8,1663 2748,1663 2752.2,1659.2 2756.4,1663 2760.6,1669.8 2764.8,1672.1 2769.1,1669 2773.3,1669 2777.5,1666.8 2781.7,1666 2785.9,1662.2 2790.2,1657.7 2794.4,1659.9 2798.6,1664.5 2802.8,1673.6"/>
<polyline class="l" stroke="#ffa500" points="2039.2,1745.5 2043.4,1745.5 2047.6,1745.5 2051.8,1745.5 2056.1,1745.5 2060.3,1738.7 2064.5,1736.4 2068.7,1737.2 2072.9,1731.9 2077.2,1724.3 2081.4,1719 2085.6,1712.9 2089.8,1709.2 2094,1695.5 2098.2,1684.2 2102.5,1675.1 2106.7,1647.1 2110.9,1647.8 2115.1,1613 2119.3,1577.4 2123.6,1547.1 2127.8,1516.9 2132,1500.2 2136.2,1476 2140.4,1454.8 2144.7,1464.6 2148.9,1418.4 2153.1,1426.8 2157.3,1410.1 2161.5,1431.3 2165.8,1439.6 2170,1453.3 2174.2,1474.5 2178.4,1480.5 2182.6,1488.8 2186.8,1514.6 2191.1,1509.3 2195.3,1557 2199.5,1555.5 2203.7,1577.4 2207.9,1569.9 2212.2,1584.2 2216.4,1586.5 2220.6,1615.3 2224.8,1602.4 2229,1623.6 2233.3,1638 2237.5,1640.3 2241.7,1646.3 2245.9,1653.9 2250.1,1642.5 2254.4,1654.6 2258.6,1654.6 2262.8,1650.9 2267,1672.1 2271.2,1668.3 2275.4,1676.6 2279.7,1678.1 2283.9,1676.6 2288.1,1680.4 2292.3,1684.9 2296.5,1688.7 2300.8,1691.7 2305,1693.3 2309.2,1691.7 2313.4,1691 2317.6,1694 2321.9,1695.5 2326.1,1697 2330.3,1706.1 2334.5,1706.9 2338.7,1704.6 2342.9,1705.4 2347.2,1705.4 2351.4,1704.6 2355.6,1705.4 2359.8,1704.6 2364,1705.4 2368.3,1704.6 2372.5,1703.9 2376.7,1707.6 2380.9,1707.6 2385.1,1706.9 2389.4,1704.6 2393.6,1702.3 2397.8,1709.2 2402,1709.2 2406.2,1707.6 2410.5,1705.4 2414.7,1703.9 2418.9,1704.6 2423.1,1706.1 2427.3,1709.2 2431.5,1707.6 2435.8,1706.1 2440,1704.6 2444.2,1704.6 2448.4,1706.1 2452.6,1709.9 2456.9,1709.9 2461.1,1709.2 2465.3,1704.6 2469.5,1706.1 2473.7,1706.1 2478,1707.6 2482.2,1709.9 2486.4,1709.2 2490.6,1708.4 2494.8,1708.4 2499.1,1711.4 2503.3,1711.4 2507.5,1714.5 2511.7,1708.4 2515.9,1709.2 2520.1,1708.4 2524.4,1709.9 2528.6,1712.2 2532.8,1712.9 2537,1712.2 2541.2,1710.7 2545.5,1714.5 2549.7,1712.9 2553.9,1712.2 2558.1,1712.2 2562.3,1709.2 2566.6,1709.9 2570.8,1709.9 2575,1708.4 2579.2,1709.9 2583.4,1710.7 2587.6,1711.4 2591.9,1712.2 2596.1,1711.4 2600.3,1709.9 2604.5,1710.7 2608.7,1715.2 2613,1711.4 2617.2,1709.2 2621.4,1705.4 2625.6,1704.6 2629.8,1706.1 2634.1,1708.4 2638.3,1709.2 2642.5,1708.4 2646.7,1703.1 2650.9,1698.6 2655.2,1698.6 2659.4,1702.3 2663.6,1697.8 2667.8,1697 2672,1695.5 2676.2,1688 2680.5,1683.4 2684.7,1682.7 2688.9,1683.4 2693.1,1686.4 2697.3,1681.9 2701.6,1677.4 2705.8,1678.1 2710,1680.4 2714.2,1678.1 2718.4,1674.3 2722.7,1674.3 2726.9,1670.5 2731.1,1664.5 2735.3,1663.7 2739.5,1664.5 2743.8,1663 2748,1663 2752.2,1659.9 2756.4,1662.2 2760.6,1670.5 2764.8,1672.1 2769.1,1668.3 2773.3,1669 2777.5,1666.8 2781.7,1666.8 2785.9,1663 2790.2,1657.7 2794.4,1661.5 2798.6,1664.5 2802.8,1673.6"/>
<rect class="s" x="2001" y="1379" width="840" height="389"/>
<path class="s" d="M2039.2 1768v9.33M2144.7 1768v9.33M2250.1 1768v9.33M2355.6 1768v9.33M2461.1 1768v9.33M2566.6 1768v9.33M2672 1768v9.33M2777.5 1768v9.33M2001 1745.5h-9.33M2001 1669.8h-9.33M2001 1594.1h-9.33M2001 1518.4h-9.33M2001 1442.7h-9.33"/>
<g font-size="29.9">
<text x="2039.2" y="1806.9" text-anchor="middle" textLength="17" lengthAdjust="spacingAndGlyphs">0</text>
<text x="2144.7" y="1806.9" text-anchor="middle" textLength="33.9" lengthAdjust="spacingAndGlyphs">25</text>
<text x="2250.1" y="1806.9" text-anchor="middle" textLength="33.9" lengthAdjust="spacingAndGlyphs">50</text>
<text x="2355.6" y="1806.9" text-anchor="middle" textLength="33.9" lengthAdjust="spacingAndGlyphs">75</text>
<text x="2461.1" y="1806.9" text-anchor="middle" textLength="50.9" lengthAdjust="spacingAndGlyphs">100</text>
<text x="2566.6" y="1806.9" text-anchor="middle" textLength="50.9" lengthAdjust="spacingAndGlyphs">125</text>
<text x="2672" y="1806.9" text-anchor="middle" textLength="50.9" lengthAdjust="spacingAndGlyphs">150</text>
<text x="2777.5" y="1806.9" text-anchor="middle" textLength="50.9" lengthAdjust="spacingAndGlyphs">175</text>
<text x="1981.5" y="1755.2" text-anchor="end" textLength="17" lengthAdjust="spacingAndGlyphs">0</text>
<text x="1981.5" y="1679.5" text-anchor="end" textLength="50.9" lengthAdjust="spacingAndGlyphs">100</text>
<text x="1981.5" y="1603.8" text-anchor="end" textLength="50.9" lengthAdjust="spacingAndGlyphs">200</text>
<text x="1981.5" y="1528.1" text-anchor="end" textLength="50.9" lengthAdjust="spacingAndGlyphs">300</text>
<text x="1981.5" y="1452.4" text-anchor="end" textLength="50.9" lengthAdjust="spacingAndGlyphs">400</text>
<text x="2421" y="1843.6" text-anchor="middle" textLength="66.6" lengthAdjust="spacingAndGlyphs">Days</text>
</g>
<text y="1363" font-size="33.6"><tspan x="2061.7" textLength="134.9" lengthAdjust="spacingAndGlyphs">Mohave,</tspan> <tspan x="2207.8" textLength="42.8" lengthAdjust="spacingAndGlyphs">AZ</tspan> <tspan x="2261.8" textLength="89.4" lengthAdjust="spacingAndGlyphs">RMSE</tspan> <tspan x="2362.3" textLength="87.2" lengthAdjust="spacingAndGlyphs">EnKF:</tspan> <tspan x="2460.7" textLength="80.4" lengthAdjust="spacingAndGlyphs">4.41,</tspan> <tspan x="2552.3" textLength="89.4" lengthAdjust="spacingAndGlyphs">RMSE</tspan> <tspan x="2652.8" textLength="45" lengthAdjust="spacingAndGlyphs">PF:</tspan> <tspan x="2709" textLength="70.3" lengthAdjust="spacingAndGlyphs">4.53</tspan></text>
<g transform="translate(2606.2,1389.3)">
<rect class="lf" x="0" y="0" width="224.6" height="160.4" rx="4.3"/>
<path class="l" stroke="#000" d="M8.5 17.3H51.2"/>
<path class="l" stroke="#ffa500" d="M8.5 48.3H51.2"/>
<rect class="b" fill="#00f" stroke="#00f" x="8.5" y="71.5" width="42.67" height="14.93"/>
<rect class="b" fill="#008000" stroke="#008000" x="8.5" y="102.4" width="42.67" height="14.93"/>
<path class="d" d="M29.9 142.1h0"/>
<text y="24.6" font-size="22.4"><tspan x="68.3" textLength="59.5" lengthAdjust="spacingAndGlyphs">mean</tspan> <tspan x="135.6" textLength="19.6" lengthAdjust="spacingAndGlyphs">of</tspan> <tspan x="162.9" textLength="52.3" lengthAdjust="spacingAndGlyphs">EnKF</tspan></text>
<text y="55.6" font-size="22.4"><tspan x="68.3" textLength="59.5" lengthAdjust="spacingAndGlyphs">mean</tspan> <tspan x="135.6" textLength="19.6" lengthAdjust="spacingAndGlyphs">of</tspan> <tspan x="162.9" textLength="24.1" lengthAdjust="spacingAndGlyphs">PF</tspan></text>
<text y="86.3" font-size="22.4"><tspan x="68.3" textLength="46.4" lengthAdjust="spacingAndGlyphs">95%</tspan> <tspan x="122.5" textLength="20.2" lengthAdjust="spacingAndGlyphs">CI</tspan> <tspan x="150.4" textLength="52.3" lengthAdjust="spacingAndGlyphs">EnKF</tspan></text>
<text y="117.1" font-size="22.4"><tspan x="68.3" textLength="46.4" lengthAdjust="spacingAndGlyphs">95%</tspan> <tspan x="122.5" textLength="20.2" lengthAdjust="spacingAndGlyphs">CI</tspan> <tspan x="150.4" textLength="24.1" lengthAdjust="spacingAndGlyphs">PF</tspan></text>
<text y="147.8" font-size="22.4"><tspan x="68.3" textLength="47.1" lengthAdjust="spacingAndGlyphs">data</tspan></text>
</g>
</g>
<g>
<polygon class="b" fill="#00f" stroke="#00f" points="127.2,2261.4 131.4,2264.2 135.6,2259.9 139.8,2255.6 144.1,2255.6 148.3,2251.3 152.5,2254.2 156.7,2257.1 160.9,2254.2 165.2,2254.2 169.4,2245.6 173.6,2247 177.8,2245.6 182,2244.1 186.2,2235.5 190.5,2225.4 194.7,2232.6 198.9,2216.8 203.1,2211.1 207.3,2185.2 211.6,2182.3 215.8,2167.9 220,2136.3 224.2,2110.4 228.4,2091.8 232.7,2067.3 236.9,2038.6 241.1,2009.8 245.3,1975.3 249.5,1973.9 253.8,1956.6 258,1935.1 262.2,1956.6 266.4,1943.7 270.6,1969.6 274.8,1976.8 279.1,1989.7 283.3,1995.4 287.5,2011.2 291.7,2014.1 295.9,2077.4 300.2,2058.7 304.4,2075.9 308.6,2081.7 312.8,2091.8 317,2100.4 321.3,2111.9 325.5,2130.6 329.7,2129.1 333.9,2127.7 338.1,2146.4 342.4,2157.9 346.6,2156.4 350.8,2176.6 355,2179.4 359.2,2183.8 363.4,2189.5 367.7,2186.6 371.9,2180.9 376.1,2195.2 380.3,2202.4 384.5,2202.4 388.8,2202.4 393,2211.1 397.2,2208.2 401.4,2211.1 405.6,2209.6 409.9,2219.7 414.1,2219.7 418.3,2224 422.5,2221.1 426.7,2219.7 430.9,2219.7 435.2,2221.1 439.4,2228.3 443.6,2234.1 447.8,2232.6 452,2224 456.3,2229.8 460.5,2228.3 464.7,2228.3 468.9,2235.5 473.1,2235.5 477.4,2231.2 481.6,2234.1 485.8,2234.1 490,2232.6 494.2,2242.7 498.5,2241.2 502.7,2236.9 506.9,2238.4 511.1,2236.9 515.3,2241.2 519.5,2236.9 523.8,2241.2 528,2242.7 532.2,2239.8 536.4,2236.9 540.6,2236.9 544.9,2239.8 549.1,2245.6 553.3,2232.6 557.5,2236.9 561.7,2236.9 566,2229.8 570.2,2232.6 574.4,2226.9 578.6,2231.2 582.8,2235.5 587.1,2232.6 591.3,2231.2 595.5,2226.9 599.7,2235.5 603.9,2229.8 608.1,2226.9 612.4,2224 616.6,2222.6 620.8,2226.9 625,2225.4 629.2,2221.1 633.5,2226.9 637.7,2224 641.9,2219.7 646.1,2213.9 650.3,2212.5 654.6,2212.5 658.8,2213.9 663,2219.7 667.2,2213.9 671.4,2206.8 675.6,2209.6 679.9,2215.4 684.1,2196.7 688.3,2205.3 692.5,2212.5 696.7,2205.3 701,2208.2 705.2,2199.6 709.4,2198.1 713.6,2201 717.8,2201 722.1,2193.8 726.3,2196.7 730.5,2198.1 734.7,2196.7 738.9,2203.9 743.2,2205.3 747.4,2199.6 751.6,2206.8 755.8,2205.3 760,2202.4 764.2,2193.8 768.5,2198.1 772.7,2208.2 776.9,2209.6 781.1,2208.2 785.3,2209.6 789.6,2205.3 793.8,2199.6 798,2206.8 802.2,2195.2 806.4,2195.2 810.7,2196.7 814.9,2201 819.1,2199.6 823.3,2201 827.5,2201 831.8,2188.1 836,2199.6 840.2,2205.3 844.4,2205.3 848.6,2205.3 852.8,2195.2 857.1,2186.6 861.3,2193.8 865.5,2198.1 869.7,2182.3 873.9,2193.8 878.2,2186.6 882.4,2180.9 886.6,2198.1 890.8,2199.6 890.8,2235.5 886.6,2239.8 882.4,2222.6 878.2,2228.3 873.9,2236.9 869.7,2222.6 865.5,2231.2 861.3,2236.9 857.1,2231.2 852.8,2234.1 848.6,2249.9 844.4,2251.3 840.2,2249.9 836,2242.7 831.8,2232.6 827.5,2245.6 823.3,2241.2 819.1,2242.7 814.9,2236.9 810.7,2234.1 806.4,2231.2 802.2,2232.6 798,2244.1 793.8,2241.2 789.6,2244.1 785.3,2252.8 781.1,2248.4 776.9,2248.4 772.7,2249.9 768.5,2247 764.2,2242.7 760,2247 755.8,2244.1 751.6,2247 747.4,2244.1 743.2,2245.6 738.9,2247 734.7,2242.7 730.5,2245.6 726.3,2234.1 722.1,2235.5 717.8,2236.9 713.6,2239.8 709.4,2239.8 705.2,2244.1 701,2245.6 696.7,2236.9 692.5,2244.1 688.3,2242.7 684.1,2234.1 679.9,2248.4 675.6,2241.2 671.4,2241.2 667.2,2249.9 663,2257.1 658.8,2255.6 654.6,2251.3 650.3,2257.1 646.1,2251.3 641.9,2252.8 637.7,2249.9 633.5,2255.6 629.2,2255.6 625,2258.5 620.8,2255.6 616.6,2254.2 612.4,2257.1 608.1,2258.5 603.9,2265.7 599.7,2264.2 595.5,2264.2 591.3,2262.8 587.1,2265.7 582.8,2268.6 578.6,2265.7 574.4,2261.4 570.2,2262.8 566,2264.2 561.7,2267.1 557.5,2271.4 553.3,2268.6 549.1,2272.9 544.9,2267.1 540.6,2268.6 536.4,2268.6 532.2,2262.8 528,2275.8 523.8,2271.4 519.5,2271.4 515.3,2271.4 511.1,2271.4 506.9,2270 502.7,2267.1 498.5,2270 494.2,2270 490,2264.2 485.8,2268.6 481.6,2265.7 477.4,2268.6 473.1,2267.1 468.9,2265.7 464.7,2265.7 460.5,2258.5 456.3,2259.9 452,2258.5 447.8,2259.9 443.6,2267.1 439.4,2261.4 435.2,2257.1 430.9,2259.9 426.7,2257.1 422.5,2254.2 418.3,2252.8 414.1,2257.1 409.9,2248.4 405.6,2244.1 401.4,2247 397.2,2245.6 393,2239.8 388.8,2241.2 384.5,2234.1 380.3,2232.6 376.1,2224 371.9,2215.4 367.7,2219.7 363.4,2219.7 359.2,2216.8 355,2213.9 350.8,2211.1 346.6,2182.3 342.4,2193.8 338.1,2185.2 333.9,2163.6 329.7,2160.8 325.5,2163.6 321.3,2147.8 317,2137.8 312.8,2127.7 308.6,2116.2 304.4,2111.9 300.2,2091.8 295.9,2119.1 291.7,2054.4 287.5,2050.1 283.3,2028.5 279.1,2029.9 274.8,2019.9 270.6,2014.1 266.4,1992.6 262.2,1996.9 258,1979.6 253.8,1995.4 249.5,2011.2 245.3,2019.9 241.1,2052.9 236.9,2087.4 232.7,2111.9 228.4,2129.1 224.2,2152.1 220,2176.6 215.8,2205.3 211.6,2213.9 207.3,2218.2 203.1,2242.7 198.9,2254.2 194.7,2268.6 190.5,2257.1 186.2,2264.2 182,2275.8 177.8,2287.2 173.6,2278.6 169.4,2277.2 165.2,2284.4 160.9,2285.8 156.7,2284.4 152.5,2285.8 148.3,2285.8 144.1,2284.4 139.8,2287.2 135.6,2288.7 131.4,2287.2 127.2,2287.2"/>
<polygon class="b" fill="#008000" stroke="#008000" points="127.2,2274.3 131.4,2265.7 135.6,2265.7 139.8,2264.2 144.1,2261.4 148.3,2259.9 152.5,2264.2 156.7,2261.4 160.9,2259.9 165.2,2259.9 169.4,2252.8 173.6,2255.6 177.8,2259.9 182,2244.1 186.2,2234.1 190.5,2231.2 194.7,2234.1 198.9,2216.8 203.1,2206.8 207.3,2186.6 211.6,2178 215.8,2165.1 220,2134.9 224.2,2111.9 228.4,2090.3 232.7,2068.8 236.9,2038.6 241.1,2009.8 245.3,1975.3 249.5,1973.9 253.8,1956.6 258,1932.2 262.2,1956.6 266.4,1948 270.6,1968.1 274.8,1973.9 279.1,1985.4 283.3,1991.1 287.5,2009.8 291.7,2015.6 295.9,2077.4 300.2,2057.2 304.4,2073.1 308.6,2081.7 312.8,2091.8 317,2098.9 321.3,2111.9 325.5,2129.1 329.7,2127.7 333.9,2127.7 338.1,2144.9 342.4,2156.4 346.6,2157.9 350.8,2176.6 355,2178 359.2,2182.3 363.4,2185.2 367.7,2185.2 371.9,2183.8 376.1,2193.8 380.3,2206.8 384.5,2205.3 388.8,2202.4 393,2212.5 397.2,2206.8 401.4,2209.6 405.6,2209.6 409.9,2219.7 414.1,2219.7 418.3,2222.6 422.5,2222.6 426.7,2221.1 430.9,2221.1 435.2,2224 439.4,2228.3 443.6,2236.9 447.8,2234.1 452,2225.4 456.3,2226.9 460.5,2228.3 464.7,2228.3 468.9,2234.1 473.1,2234.1 477.4,2234.1 481.6,2232.6 485.8,2234.1 490,2234.1 494.2,2242.7 498.5,2235.5 502.7,2236.9 506.9,2238.4 511.1,2238.4 515.3,2239.8 519.5,2235.5 523.8,2239.8 528,2242.7 532.2,2241.2 536.4,2236.9 540.6,2238.4 544.9,2238.4 549.1,2241.2 553.3,2235.5 557.5,2234.1 561.7,2235.5 566,2232.6 570.2,2231.2 574.4,2228.3 578.6,2231.2 582.8,2235.5 587.1,2232.6 591.3,2229.8 595.5,2226.9 599.7,2236.9 603.9,2228.3 608.1,2224 612.4,2224 616.6,2228.3 620.8,2226.9 625,2224 629.2,2221.1 633.5,2225.4 637.7,2222.6 641.9,2221.1 646.1,2211.1 650.3,2206.8 654.6,2209.6 658.8,2211.1 663,2215.4 667.2,2212.5 671.4,2205.3 675.6,2206.8 679.9,2213.9 684.1,2198.1 688.3,2206.8 692.5,2209.6 696.7,2202.4 701,2205.3 705.2,2201 709.4,2198.1 713.6,2196.7 717.8,2201 722.1,2195.2 726.3,2195.2 730.5,2196.7 734.7,2198.1 738.9,2205.3 743.2,2202.4 747.4,2201 751.6,2205.3 755.8,2206.8 760,2199.6 764.2,2193.8 768.5,2192.4 772.7,2206.8 776.9,2209.6 781.1,2203.9 785.3,2208.2 789.6,2206.8 793.8,2199.6 798,2208.2 802.2,2195.2 806.4,2193.8 810.7,2193.8 814.9,2196.7 819.1,2199.6 823.3,2201 827.5,2201 831.8,2189.5 836,2198.1 840.2,2202.4 844.4,2205.3 848.6,2206.8 852.8,2193.8 857.1,2189.5 861.3,2195.2 865.5,2198.1 869.7,2183.8 873.9,2195.2 878.2,2188.1 882.4,2180.9 886.6,2199.6 890.8,2199.6 890.8,2235.5 886.6,2238.4 882.4,2221.1 878.2,2231.2 873.9,2238.4 869.7,2222.6 865.5,2231.2 861.3,2235.5 857.1,2234.1 852.8,2238.4 848.6,2251.3 844.4,2248.4 840.2,2247 836,2238.4 831.8,2232.6 827.5,2247 823.3,2244.1 819.1,2242.7 814.9,2239.8 810.7,2236.9 806.4,2229.8 802.2,2234.1 798,2244.1 793.8,2242.7 789.6,2247 785.3,2251.3 781.1,2245.6 776.9,2251.3 772.7,2248.4 768.5,2245.6 764.2,2239.8 760,2244.1 755.8,2244.1 751.6,2247 747.4,2242.7 743.2,2247 738.9,2245.6 734.7,2241.2 730.5,2245.6 726.3,2236.9 722.1,2235.5 717.8,2234.1 713.6,2245.6 709.4,2242.7 705.2,2242.7 701,2247 696.7,2238.4 692.5,2242.7 688.3,2241.2 684.1,2235.5 679.9,2248.4 675.6,2241.2 671.4,2238.4 667.2,2251.3 663,2255.6 658.8,2254.2 654.6,2249.9 650.3,2254.2 646.1,2255.6 641.9,2252.8 637.7,2252.8 633.5,2257.1 629.2,2255.6 625,2258.5 620.8,2257.1 616.6,2254.2 612.4,2258.5 608.1,2261.4 603.9,2267.1 599.7,2265.7 595.5,2264.2 591.3,2264.2 587.1,2265.7 582.8,2268.6 578.6,2267.1 574.4,2261.4 570.2,2262.8 566,2264.2 561.7,2267.1 557.5,2272.9 553.3,2270 549.1,2271.4 544.9,2267.1 540.6,2271.4 536.4,2268.6 532.2,2267.1 528,2272.9 523.8,2270 519.5,2271.4 515.3,2271.4 511.1,2272.9 506.9,2268.6 502.7,2268.6 498.5,2270 494.2,2270 490,2265.7 485.8,2270 481.6,2264.2 477.4,2270 473.1,2268.6 468.9,2268.6 464.7,2262.8 460.5,2261.4 456.3,2258.5 452,2259.9 447.8,2258.5 443.6,2267.1 439.4,2259.9 435.2,2258.5 430.9,2258.5 426.7,2257.1 422.5,2254.2 418.3,2251.3 414.1,2254.2 409.9,2244.1 405.6,2242.7 401.4,2245.6 397.2,2242.7 393,2241.2 388.8,2239.8 384.5,2231.2 380.3,2234.1 376.1,2221.1 371.9,2216.8 367.7,2219.7 363.4,2221.1 359.2,2216.8 355,2213.9 350.8,2208.2 346.6,2183.8 342.4,2192.4 338.1,2180.9 333.9,2163.6 329.7,2159.3 325.5,2165.1 321.3,2149.2 317,2137.8 312.8,2129.1 308.6,2116.2 304.4,2113.3 300.2,2090.3 295.9,2117.6 291.7,2054.4 287.5,2051.5 283.3,2029.9 279.1,2029.9 274.8,2021.3 270.6,2012.7 266.4,1988.2 262.2,1995.4 258,1976.8 253.8,1998.3 249.5,2009.8 245.3,2019.9 241.1,2054.4 236.9,2087.4 232.7,2114.8 228.4,2129.1 224.2,2150.7 220,2176.6 215.8,2202.4 211.6,2213.9 207.3,2216.8 203.1,2239.8 198.9,2252.8 194.7,2268.6 190.5,2258.5 186.2,2281.5 182,2281.5 177.8,2281.5 173.6,2281.5 169.4,2281.5 165.2,2281.5 160.9,2281.5 156.7,2281.5 152.5,2281.5 148.3,2281.5 144.1,2281.5 139.8,2281.5 135.6,2281.5 131.4,2281.5 127.2,2281.5"/>
<path class="d" d="M127.2 2280.1h0M131.4 2278.6h0M135.6 2281.5h0M139.8 2275.8h0M144.1 2270h0M148.3 2272.9h0M152.5 2271.4h0M156.7 2264.2h0M160.9 2275.8h0M165.2 2271.4h0M169.4 2264.2h0M173.6 2267.1h0M177.8 2272.9h0M182 2261.4h0M186.2 2251.3h0M190.5 2238.4h0M194.7 2247h0M198.9 2241.2h0M203.1 2228.3h0M207.3 2203.9h0M211.6 2196.7h0M215.8 2189.5h0M220 2170.8h0M224.2 2137.8h0M228.4 2113.3h0M232.7 2094.6h0M236.9 2057.2h0M241.1 2024.2h0M245.3 1996.9h0M249.5 1995.4h0M253.8 1969.6h0M258 1953.8h0M262.2 1968.1h0M266.4 1968.1h0M270.6 1996.9h0M274.8 2001.2h0M279.1 2012.7h0M283.3 2011.2h0M287.5 2015.6h0M291.7 2032.8h0M295.9 2091.8h0M300.2 2071.6h0M304.4 2086h0M308.6 2106.1h0M312.8 2117.6h0M317 2121.9h0M321.3 2129.1h0M325.5 2150.7h0M329.7 2160.8h0M333.9 2149.2h0M338.1 2159.3h0M342.4 2178h0M346.6 2178h0M350.8 2201h0M355 2193.8h0M359.2 2195.2h0M363.4 2203.9h0M367.7 2195.2h0M371.9 2203.9h0M376.1 2218.2h0M380.3 2211.1h0M384.5 2212.5h0M388.8 2221.1h0M393 2234.1h0M397.2 2232.6h0M401.4 2225.4h0M405.6 2231.2h0M409.9 2234.1h0M414.1 2232.6h0M418.3 2241.2h0M422.5 2229.8h0M426.7 2239.8h0M430.9 2241.2h0M435.2 2239.8h0M439.4 2245.6h0M443.6 2251.3h0M447.8 2255.6h0M452 2239.8h0M456.3 2241.2h0M460.5 2244.1h0M464.7 2251.3h0M468.9 2252.8h0M473.1 2254.2h0M477.4 2254.2h0M481.6 2251.3h0M485.8 2244.1h0M490 2259.9h0M494.2 2255.6h0M498.5 2249.9h0M502.7 2244.1h0M506.9 2249.9h0M511.1 2245.6h0M515.3 2258.5h0M519.5 2265.7h0M523.8 2258.5h0M528 2257.1h0M532.2 2251.3h0M536.4 2248.4h0M540.6 2255.6h0M544.9 2255.6h0M549.1 2257.1h0M553.3 2247h0M557.5 2252.8h0M561.7 2252.8h0M566 2249.9h0M570.2 2255.6h0M574.4 2242.7h0M578.6 2245.6h0M582.8 2252.8h0M587.1 2242.7h0M591.3 2235.5h0M595.5 2234.1h0M599.7 2255.6h0M603.9 2247h0M608.1 2236.9h0M612.4 2235.5h0M616.6 2249.9h0M620.8 2244.1h0M625 2252.8h0M629.2 2244.1h0M633.5 2234.1h0M637.7 2238.4h0M641.9 2235.5h0M646.1 2235.5h0M650.3 2224h0M654.6 2239.8h0M658.8 2224h0M663 2239.8h0M667.2 2235.5h0M671.4 2226.9h0M675.6 2225.4h0M679.9 2231.2h0M684.1 2213.9h0M688.3 2225.4h0M692.5 2232.6h0M696.7 2231.2h0M701 2222.6h0M705.2 2222.6h0M709.4 2209.6h0M713.6 2218.2h0M717.8 2215.4h0M722.1 2219.7h0M726.3 2212.5h0M730.5 2219.7h0M734.7 2216.8h0M738.9 2222.6h0M743.2 2218.2h0M747.4 2228.3h0M751.6 2221.1h0M755.8 2216.8h0M760 2221.1h0M764.2 2222.6h0M768.5 2219.7h0M772.7 2224h0M776.9 2235.5h0M781.1 2231.2h0M785.3 2234.1h0M789.6 2224h0M793.8 2224h0M798 2225.4h0M802.2 2216.8h0M806.4 2219.7h0M810.7 2199.6h0M814.9 2222.6h0M819.1 2216.8h0M823.3 2226.9h0M827.5 2225.4h0M831.8 2216.8h0M836 2216.8h0M840.2 2222.6h0M844.4 2229.8h0M848.6 2228.3h0M852.8 2211.1h0M857.1 2225.4h0M861.3 2208.2h0M865.5 2222.6h0M869.7 2192.4h0M873.9 2211.1h0M878.2 2212.5h0M882.4 2195.2h0M886.6 2218.2h0M890.8 2219.7h0"/>
<polyline class="l k" stroke="#000" points="127.2,2280.1 131.4,2275.8 135.6,2277.2 139.8,2275.8 144.1,2274.3 148.3,2274.3 152.5,2274.3 156.7,2274.3 160.9,2271.4 165.2,2270 169.4,2267.1 173.6,2268.6 177.8,2271.4 182,2258.5 186.2,2249.9 190.5,2244.1 194.7,2248.4 198.9,2234.1 203.1,2228.3 207.3,2203.9 211.6,2198.1 215.8,2183.8 220,2157.9 224.2,2132 228.4,2111.9 232.7,2091.8 236.9,2061.6 241.1,2031.4 245.3,1996.9 249.5,1994 253.8,1978.2 258,1958.1 262.2,1976.8 266.4,1968.1 270.6,1994 274.8,2001.2 279.1,2011.2 283.3,2011.2 287.5,2031.4 291.7,2034.2 295.9,2097.5 300.2,2074.5 304.4,2094.6 308.6,2101.8 312.8,2114.8 317,2120.5 321.3,2132 325.5,2147.8 329.7,2144.9 333.9,2147.8 338.1,2163.6 342.4,2172.2 346.6,2170.8 350.8,2193.8 355,2195.2 359.2,2201 363.4,2202.4 367.7,2203.9 371.9,2198.1 376.1,2206.8 380.3,2218.2 384.5,2218.2 388.8,2221.1 393,2225.4 397.2,2228.3 401.4,2226.9 405.6,2225.4 409.9,2231.2 414.1,2238.4 418.3,2236.9 422.5,2238.4 426.7,2238.4 430.9,2241.2 435.2,2241.2 439.4,2244.1 443.6,2251.3 447.8,2248.4 452,2247 456.3,2247 460.5,2244.1 464.7,2248.4 468.9,2251.3 473.1,2254.2 477.4,2252.8 481.6,2251.3 485.8,2252.8 490,2251.3 494.2,2255.6 498.5,2254.2 502.7,2254.2 506.9,2254.2 511.1,2255.6 515.3,2257.1 519.5,2254.2 523.8,2255.6 528,2255.6 532.2,2255.6 536.4,2252.8 540.6,2252.8 544.9,2254.2 549.1,2255.6 553.3,2252.8 557.5,2254.2 561.7,2252.8 566,2248.4 570.2,2249.9 574.4,2248.4 578.6,2248.4 582.8,2252.8 587.1,2248.4 591.3,2247 595.5,2247 599.7,2249.9 603.9,2248.4 608.1,2245.6 612.4,2241.2 616.6,2241.2 620.8,2242.7 625,2242.7 629.2,2241.2 633.5,2241.2 637.7,2238.4 641.9,2238.4 646.1,2235.5 650.3,2232.6 654.6,2231.2 658.8,2234.1 663,2238.4 667.2,2232.6 671.4,2224 675.6,2225.4 679.9,2231.2 684.1,2215.4 688.3,2225.4 692.5,2224 696.7,2221.1 701,2225.4 705.2,2219.7 709.4,2221.1 713.6,2221.1 717.8,2216.8 722.1,2215.4 726.3,2216.8 730.5,2221.1 734.7,2218.2 738.9,2225.4 743.2,2225.4 747.4,2224 751.6,2225.4 755.8,2224 760,2224 764.2,2221.1 768.5,2222.6 772.7,2226.9 776.9,2226.9 781.1,2225.4 785.3,2228.3 789.6,2224 793.8,2225.4 798,2225.4 802.2,2216.8 806.4,2213.9 810.7,2213.9 814.9,2216.8 819.1,2219.7 823.3,2224 827.5,2224 831.8,2211.1 836,2221.1 840.2,2225.4 844.4,2225.4 848.6,2225.4 852.8,2216.8 857.1,2211.1 861.3,2213.9 865.5,2215.4 869.7,2205.3 873.9,2218.2 878.2,2209.6 882.4,2203.9 886.6,2218.2 890.8,2215.4"/>
<polyline class="l" stroke="#ffa500" points="127.2,2281.5 131.4,2281.5 135.6,2281.5 139.8,2281.5 144.1,2281.5 148.3,2281.5 152.5,2281.5 156.7,2281.5 160.9,2281.5 165.2,2281.5 169.4,2281.5 173.6,2281.5 177.8,2281.5 182,2257.1 186.2,2249.9 190.5,2245.6 194.7,2249.9 198.9,2235.5 203.1,2228.3 207.3,2199.6 211.6,2201 215.8,2185.2 220,2157.9 224.2,2132 228.4,2113.3 232.7,2093.2 236.9,2060.1 241.1,2029.9 245.3,1995.4 249.5,1995.4 253.8,1978.2 258,1956.6 262.2,1975.3 266.4,1968.1 270.6,1994 274.8,2004.1 279.1,2011.2 283.3,2009.8 287.5,2031.4 291.7,2035.7 295.9,2098.9 300.2,2077.4 304.4,2094.6 308.6,2101.8 312.8,2116.2 317,2121.9 321.3,2133.4 325.5,2149.2 329.7,2144.9 333.9,2147.8 338.1,2163.6 342.4,2173.7 346.6,2170.8 350.8,2193.8 355,2195.2 359.2,2202.4 363.4,2202.4 367.7,2203.9 371.9,2196.7 376.1,2209.6 380.3,2218.2 384.5,2218.2 388.8,2221.1 393,2225.4 397.2,2226.9 401.4,2226.9 405.6,2225.4 409.9,2231.2 414.1,2239.8 418.3,2236.9 422.5,2236.9 426.7,2238.4 430.9,2239.8 435.2,2241.2 439.4,2244.1 443.6,2249.9 447.8,2248.4 452,2247 456.3,2245.6 460.5,2245.6 464.7,2248.4 468.9,2251.3 473.1,2254.2 477.4,2249.9 481.6,2251.3 485.8,2252.8 490,2251.3 494.2,2254.2 498.5,2252.8 502.7,2252.8 506.9,2255.6 511.1,2258.5 515.3,2257.1 519.5,2254.2 523.8,2255.6 528,2255.6 532.2,2254.2 536.4,2252.8 540.6,2252.8 544.9,2254.2 549.1,2257.1 553.3,2254.2 557.5,2254.2 561.7,2252.8 566,2247 570.2,2252.8 574.4,2248.4 578.6,2248.4 582.8,2254.2 587.1,2251.3 591.3,2249.9 595.5,2248.4 599.7,2251.3 603.9,2249.9 608.1,2244.1 612.4,2242.7 616.6,2242.7 620.8,2242.7 625,2244.1 629.2,2242.7 633.5,2241.2 637.7,2238.4 641.9,2238.4 646.1,2235.5 650.3,2231.2 654.6,2228.3 658.8,2231.2 663,2239.8 667.2,2231.2 671.4,2225.4 675.6,2225.4 679.9,2232.6 684.1,2216.8 688.3,2226.9 692.5,2222.6 696.7,2219.7 701,2224 705.2,2218.2 709.4,2219.7 713.6,2219.7 717.8,2216.8 722.1,2213.9 726.3,2216.8 730.5,2221.1 734.7,2219.7 738.9,2225.4 743.2,2226.9 747.4,2225.4 751.6,2225.4 755.8,2225.4 760,2224 764.2,2221.1 768.5,2221.1 772.7,2226.9 776.9,2225.4 781.1,2225.4 785.3,2226.9 789.6,2224 793.8,2224 798,2226.9 802.2,2218.2 806.4,2212.5 810.7,2213.9 814.9,2215.4 819.1,2218.2 823.3,2224 827.5,2222.6 831.8,2211.1 836,2222.6 840.2,2228.3 844.4,2226.9 848.6,2226.9 852.8,2215.4 857.1,2211.1 861.3,2213.9 865.5,2213.9 869.7,2203.9 873.9,2216.8 878.2,2208.2 882.4,2205.3 886.6,2218.2 890.8,2215.4"/>
<rect class="s" x="89" y="1918" width="840" height="389"/>
<path class="s" d="M127.2 2307v9.33M232.7 2307v9.33M338.1 2307v9.33M443.6 2307v9.33M549.1 2307v9.33M654.6 2307v9.33M760 2307v9.33M865.5 2307v9.33M89 2281.5h-9.33M89 2209.6h-9.33M89 2137.8h-9.33M89 2065.9h-9.33M89 1994h-9.33M89 1922.1h-9.33"/>
<g font-size="29.9">
<text x="127.2" y="2345.9" text-anchor="middle" textLength="17" lengthAdjust="spacingAndGlyphs">0</text>
<text x="232.7" y="2345.9" text-anchor="middle" textLength="33.9" lengthAdjust="spacingAndGlyphs">25</text>
<text x="338.1" y="2345.9" text-anchor="middle" textLength="33.9" lengthAdjust="spacingAndGlyphs">50</text>
<text x="443.6" y="2345.9" text-anchor="middle" textLength="33.9" lengthAdjust="spacingAndGlyphs">75</text>
<text x="549.1" y="2345.9" text-anchor="middle" textLength="50.9" lengthAdjust="spacingAndGlyphs">100</text>
<text x="654.6" y="2345.9" text-anchor="middle" textLength="50.9" lengthAdjust="spacingAndGlyphs">125</text>
<text x="760" y="2345.9" text-anchor="middle" textLength="50.9" lengthAdjust="spacingAndGlyphs">150</text>
<text x="865.5" y="2345.9" text-anchor="middle" textLength="50.9" lengthAdjust="spacingAndGlyphs">175</text>
<text x="69.5" y="2291.2" text-anchor="end" textLength="17" lengthAdjust="spacingAndGlyphs">0</text>
<text x="69.5" y="2219.3" text-anchor="end" textLength="33.9" lengthAdjust="spacingAndGlyphs">50</text>
<text x="69.5" y="2147.4" text-anchor="end" textLength="50.9" lengthAdjust="spacingAndGlyphs">100</text>
<text x="69.5" y="2075.6" text-anchor="end" textLength="50.9" lengthAdjust="spacingAndGlyphs">150</text>
<text x="69.5" y="2003.7" text-anchor="end" textLength="50.9" lengthAdjust="spacingAndGlyphs">200</text>
<text x="69.5" y="1931.8" text-anchor="end" textLength="50.9" lengthAdjust="spacingAndGlyphs">250</text>
<text x="509" y="2382.6" text-anchor="middle" textLength="66.6" lengthAdjust="spacingAndGlyphs">Days</text>
</g>
<text y="1902" font-size="33.6"><tspan x="157.3" textLength="119.7" lengthAdjust="spacingAndGlyphs">Navajo,</tspan> <tspan x="288.2" textLength="42.8" lengthAdjust="spacingAndGlyphs">AZ</tspan> <tspan x="342.2" textLength="89.4" lengthAdjust="spacingAndGlyphs">RMSE</tspan> <tspan x="442.8" textLength="87.2" lengthAdjust="spacingAndGlyphs">EnKF:</tspan> <tspan x="541.1" textLength="80.4" lengthAdjust="spacingAndGlyphs">4.52,</tspan> <tspan x="632.7" textLength="89.4" lengthAdjust="spacingAndGlyphs">RMSE</tspan> <tspan x="733.3" textLength="45" lengthAdjust="spacingAndGlyphs">PF:</tspan> <tspan x="789.4" textLength="70.3" lengthAdjust="spacingAndGlyphs">4.42</tspan></text>
<g transform="translate(694.2,1928.3)">
<rect class="lf" x="0" y="0" width="224.6" height="160.4" rx="4.3"/>
<path class="l" stroke="#000" d="M8.5 17.3H51.2"/>
<path class="l" stroke="#ffa500" d="M8.5 48.3H51.2"/>
<rect class="b" fill="#00f" stroke="#00f" x="8.5" y="71.5" width="42.67" height="14.93"/>
<rect class="b" fill="#008000" stroke="#008000" x="8.5" y="102.4" width="42.67" height="14.93"/>
<path class="d" d="M29.9 142.1h0"/>
<text y="24.6" font-size="22.4"><tspan x="68.3" textLength="59.5" lengthAdjust="spacingAndGlyphs">mean</tspan> <tspan x="135.6" textLength="19.6" lengthAdjust="spacingAndGlyphs">of</tspan> <tspan x="162.9" textLength="52.3" lengthAdjust="spacingAndGlyphs">EnKF</tspan></text>
<text y="55.6" font-size="22.4"><tspan x="68.3" textLength="59.5" lengthAdjust="spacingAndGlyphs">mean</tspan> <tspan x="135.6" textLength="19.6" lengthAdjust="spacingAndGlyphs">of</tspan> <tspan x="162.9" textLength="24.1" lengthAdjust="spacingAndGlyphs">PF</tspan></text>
<text y="86.3" font-size="22.4"><tspan x="68.3" textLength="46.4" lengthAdjust="spacingAndGlyphs">95%</tspan> <tspan x="122.5" textLength="20.2" lengthAdjust="spacingAndGlyphs">CI</tspan> <tspan x="150.4" textLength="52.3" lengthAdjust="spacingAndGlyphs">EnKF</tspan></text>
<text y="117.1" font-size="22.4"><tspan x="68.3" textLength="46.4" lengthAdjust="spacingAndGlyphs">95%</tspan> <tspan x="122.5" textLength="20.2" lengthAdjust="spacingAndGlyphs">CI</tspan> <tspan x="150.4" textLength="24.1" lengthAdjust="spacingAndGlyphs">PF</tspan></text>
<text y="147.8" font-size="22.4"><tspan x="68.3" textLength="47.1" lengthAdjust="spacingAndGlyphs">data</tspan></text>
</g>
</g>
<g>
<polygon class="b" fill="#00f" stroke="#00f" points="1083.2,2284.7 1087.4,2284.3 1091.6,2282.7 1095.8,2282.1 1100.1,2280.5 1104.3,2280 1108.5,2278.9 1112.7,2275.8 1116.9,2272.7 1121.2,2269.3 1125.4,2265.5 1129.6,2262.1 1133.8,2257.2 1138,2248.5 1142.2,2236.9 1146.5,2224.8 1150.7,2211.7 1154.9,2186.5 1159.1,2171.4 1163.3,2161.1 1167.6,2125.9 1171.8,2100.6 1176,2077.5 1180.2,2047.6 1184.4,2025.1 1188.7,2002.1 1192.9,1979.8 1197.1,1983.4 1201.3,1966.5 1205.5,1951.8 1209.8,1936.5 1214,1943.8 1218.2,1964.2 1222.4,1961.7 1226.6,1979.7 1230.8,1994.8 1235.1,2007.1 1239.3,2014.8 1243.5,2032.5 1247.7,2037.3 1251.9,2059.9 1256.2,2074.1 1260.4,2080.4 1264.6,2098.2 1268.8,2113.5 1273,2121 1277.3,2135.7 1281.5,2150.8 1285.7,2160 1289.9,2152 1294.1,2178.6 1298.4,2164 1302.6,2183.9 1306.8,2188.5 1311,2187.1 1315.2,2201.3 1319.4,2208.9 1323.7,2205.9 1327.9,2217.1 1332.1,2211.5 1336.3,2219.4 1340.5,2222 1344.8,2224.4 1349,2227.1 1353.2,2230.8 1357.4,2232.8 1361.6,2234.2 1365.9,2231 1370.1,2237.5 1374.3,2237.4 1378.5,2237.1 1382.7,2239.7 1386.9,2242.7 1391.2,2246.8 1395.4,2249.8 1399.6,2240.2 1403.8,2247.8 1408,2244.1 1412.3,2252.4 1416.5,2249.7 1420.7,2244.6 1424.9,2246.6 1429.1,2249.6 1433.4,2248.4 1437.6,2246.9 1441.8,2249.5 1446,2250.6 1450.2,2251.2 1454.5,2251.7 1458.7,2242.9 1462.9,2245.5 1467.1,2247.9 1471.3,2247.3 1475.5,2244.1 1479.8,2241.8 1484,2243.4 1488.2,2247.6 1492.4,2249.2 1496.6,2246.7 1500.9,2241.6 1505.1,2240.6 1509.3,2239.8 1513.5,2242.7 1517.7,2238.8 1522,2236.2 1526.2,2235.2 1530.4,2234.5 1534.6,2230.9 1538.8,2227.7 1543.1,2227.5 1547.3,2227.8 1551.5,2229.6 1555.7,2230.8 1559.9,2228 1564.1,2224.6 1568.4,2221.3 1572.6,2219 1576.8,2224.4 1581,2221.9 1585.2,2220.7 1589.5,2218.4 1593.7,2217.4 1597.9,2213.7 1602.1,2222.5 1606.3,2224.1 1610.6,2214 1614.8,2221.5 1619,2222.7 1623.2,2222.9 1627.4,2221.6 1631.6,2220.5 1635.9,2223.4 1640.1,2222.5 1644.3,2219.7 1648.5,2217.7 1652.7,2217.5 1657,2219.3 1661.2,2217.7 1665.4,2216.9 1669.6,2219.5 1673.8,2219.3 1678.1,2219.2 1682.3,2217.1 1686.5,2217.6 1690.7,2216.6 1694.9,2216.4 1699.2,2217.7 1703.4,2219.2 1707.6,2218.4 1711.8,2216.4 1716,2218.8 1720.2,2220.6 1724.5,2215.8 1728.7,2222.6 1732.9,2219.6 1737.1,2216.7 1741.3,2220.3 1745.6,2225.7 1749.8,2224 1754,2221.1 1758.2,2227.1 1762.4,2221.9 1766.7,2217.7 1770.9,2229.6 1775.1,2223.4 1779.3,2225.1 1783.5,2227.7 1787.8,2225.7 1792,2224.2 1796.2,2225.2 1800.4,2225.9 1804.6,2228.4 1808.8,2232.5 1813.1,2231.9 1817.3,2231.2 1821.5,2229.5 1825.7,2228.9 1829.9,2229.2 1834.2,2227.3 1838.4,2227.4 1842.6,2229.2 1846.8,2229.6 1846.8,2232.4 1842.6,2232.6 1838.4,2231 1834.2,2231 1829.9,2233 1825.7,2232.9 1821.5,2232.9 1817.3,2234.8 1813.1,2235.1 1808.8,2236.3 1804.6,2232.3 1800.4,2229.8 1796.2,2228.6 1792,2228 1787.8,2228.6 1783.5,2231.2 1779.3,2227.8 1775.1,2226.1 1770.9,2233 1766.7,2221.3 1762.4,2225 1758.2,2230.2 1754,2224.3 1749.8,2227.6 1745.6,2229.4 1741.3,2224.4 1737.1,2219.9 1732.9,2223.2 1728.7,2226.2 1724.5,2218.9 1720.2,2224.4 1716,2222 1711.8,2219.6 1707.6,2222 1703.4,2222.9 1699.2,2221 1694.9,2220.1 1690.7,2220.2 1686.5,2221.3 1682.3,2220.9 1678.1,2223.4 1673.8,2222.8 1669.6,2223.1 1665.4,2219.9 1661.2,2220.8 1657,2222.4 1652.7,2221 1648.5,2220.6 1644.3,2221.8 1640.1,2225.9 1635.9,2226.6 1631.6,2223.8 1627.4,2225.1 1623.2,2226.1 1619,2226 1614.8,2225.1 1610.6,2217.6 1606.3,2227.6 1602.1,2226.3 1597.9,2217.4 1593.7,2221.3 1589.5,2222 1585.2,2224.3 1581,2225.1 1576.8,2227.4 1572.6,2222.8 1568.4,2224.9 1564.1,2227.7 1559.9,2231.1 1555.7,2234.3 1551.5,2233.1 1547.3,2231.4 1543.1,2230.7 1538.8,2231.4 1534.6,2234.5 1530.4,2237.7 1526.2,2238.1 1522,2239.3 1517.7,2242 1513.5,2246.2 1509.3,2243 1505.1,2244.4 1500.9,2245.7 1496.6,2250.4 1492.4,2252.9 1488.2,2250.8 1484,2247.1 1479.8,2245.8 1475.5,2247.4 1471.3,2250 1467.1,2251.4 1462.9,2248.7 1458.7,2246.8 1454.5,2255.4 1450.2,2254.6 1446,2254.2 1441.8,2252.9 1437.6,2250.4 1433.4,2251.7 1429.1,2252.9 1424.9,2250 1420.7,2248.5 1416.5,2252.9 1412.3,2256.3 1408,2247.9 1403.8,2251.5 1399.6,2243.7 1395.4,2253 1391.2,2249.8 1386.9,2246.1 1382.7,2242.8 1378.5,2240.4 1374.3,2241 1370.1,2241.4 1365.9,2234.3 1361.6,2237.7 1357.4,2236.3 1353.2,2234.2 1349,2230.6 1344.8,2227.9 1340.5,2225.3 1336.3,2223.2 1332.1,2215.4 1327.9,2220.3 1323.7,2209 1319.4,2212.5 1315.2,2204.6 1311,2190.7 1306.8,2192.3 1302.6,2187.2 1298.4,2167.2 1294.1,2182.4 1289.9,2155.6 1285.7,2163.1 1281.5,2154.2 1277.3,2139.1 1273,2124.3 1268.8,2116.6 1264.6,2101.4 1260.4,2083.9 1256.2,2077.8 1251.9,2063.6 1247.7,2040.7 1243.5,2035.6 1239.3,2018 1235.1,2010.3 1230.8,1997.9 1226.6,1983.3 1222.4,1965.2 1218.2,1967.8 1214,1947.7 1209.8,1939.2 1205.5,1955 1201.3,1970.1 1197.1,1986.9 1192.9,1984 1188.7,2005.7 1184.4,2028.5 1180.2,2051.2 1176,2081.6 1171.8,2103.8 1167.6,2129.2 1163.3,2164.4 1159.1,2174.8 1154.9,2189.8 1150.7,2215.1 1146.5,2227.8 1142.2,2240.2 1138,2251.9 1133.8,2260.5 1129.6,2265.6 1125.4,2269.5 1121.2,2273 1116.9,2276.6 1112.7,2279 1108.5,2282.2 1104.3,2283.4 1100.1,2283.8 1095.8,2285.7 1091.6,2286.1 1087.4,2287.6 1083.2,2288"/>
<polygon class="b" fill="#008000" stroke="#008000" points="1083.2,2284.6 1087.4,2284.3 1091.6,2282.4 1095.8,2281.9 1100.1,2280.7 1104.3,2279.8 1108.5,2278.8 1112.7,2275.7 1116.9,2272.8 1121.2,2269.4 1125.4,2265.8 1129.6,2262 1133.8,2256.8 1138,2248.3 1142.2,2237.1 1146.5,2224.6 1150.7,2211.5 1154.9,2186.3 1159.1,2171.2 1163.3,2161.2 1167.6,2125.7 1171.8,2100.5 1176,2077.4 1180.2,2047.7 1184.4,2024.9 1188.7,2002.3 1192.9,1979.9 1197.1,1983.5 1201.3,1966.5 1205.5,1951.5 1209.8,1936.5 1214,1944.1 1218.2,1964.1 1222.4,1961.5 1226.6,1979.5 1230.8,1994.8 1235.1,2007.2 1239.3,2014.7 1243.5,2032.5 1247.7,2037.3 1251.9,2059.6 1256.2,2074.3 1260.4,2080.1 1264.6,2098.1 1268.8,2113.4 1273,2121.1 1277.3,2135.7 1281.5,2151.1 1285.7,2160 1289.9,2151.8 1294.1,2178.5 1298.4,2164.1 1302.6,2184.2 1306.8,2188.7 1311,2187 1315.2,2201.3 1319.4,2209 1323.7,2205.7 1327.9,2216.8 1332.1,2211.4 1336.3,2219.2 1340.5,2222 1344.8,2224.4 1349,2227.2 1353.2,2230.4 1357.4,2233.1 1361.6,2234.3 1365.9,2230.8 1370.1,2237.5 1374.3,2237.5 1378.5,2236.9 1382.7,2239.8 1386.9,2242.8 1391.2,2246.4 1395.4,2249.7 1399.6,2240.3 1403.8,2247.9 1408,2244.3 1412.3,2252.5 1416.5,2249.6 1420.7,2244.6 1424.9,2246.7 1429.1,2249.5 1433.4,2248.4 1437.6,2246.9 1441.8,2249.3 1446,2250.8 1450.2,2251 1454.5,2251.6 1458.7,2242.5 1462.9,2245.3 1467.1,2248 1471.3,2246.9 1475.5,2243.9 1479.8,2241.7 1484,2243.5 1488.2,2247.2 1492.4,2249.2 1496.6,2246.6 1500.9,2241.6 1505.1,2240.7 1509.3,2239.7 1513.5,2242.6 1517.7,2238.6 1522,2236.1 1526.2,2235 1530.4,2234.5 1534.6,2231 1538.8,2227.8 1543.1,2227.2 1547.3,2227.6 1551.5,2229.5 1555.7,2231 1559.9,2228 1564.1,2224.6 1568.4,2221.3 1572.6,2218.9 1576.8,2224.5 1581,2221.8 1585.2,2220.5 1589.5,2218.4 1593.7,2217.5 1597.9,2214 1602.1,2222.6 1606.3,2224 1610.6,2213.6 1614.8,2221.4 1619,2222.6 1623.2,2222.6 1627.4,2221.4 1631.6,2220.5 1635.9,2223.4 1640.1,2222.5 1644.3,2219.4 1648.5,2217.6 1652.7,2217.5 1657,2219.2 1661.2,2217.9 1665.4,2216.9 1669.6,2219.6 1673.8,2219.3 1678.1,2219.3 1682.3,2217.3 1686.5,2217.7 1690.7,2216.6 1694.9,2216.4 1699.2,2217.5 1703.4,2219.1 1707.6,2218.5 1711.8,2216.3 1716,2218.5 1720.2,2220.6 1724.5,2215.8 1728.7,2222.5 1732.9,2219.6 1737.1,2216.5 1741.3,2220.1 1745.6,2225.8 1749.8,2224 1754,2221 1758.2,2226.9 1762.4,2222.2 1766.7,2217.5 1770.9,2229.4 1775.1,2223.3 1779.3,2224.6 1783.5,2227.6 1787.8,2225.5 1792,2224.4 1796.2,2225.3 1800.4,2226.1 1804.6,2228.2 1808.8,2232.6 1813.1,2231.9 1817.3,2231.1 1821.5,2229.3 1825.7,2228.9 1829.9,2229 1834.2,2227.1 1838.4,2227.5 1842.6,2229.1 1846.8,2229.8 1846.8,2232.2 1842.6,2232.6 1838.4,2231.1 1834.2,2231.1 1829.9,2233.1 1825.7,2232.9 1821.5,2232.9 1817.3,2234.7 1813.1,2235.1 1808.8,2236.2 1804.6,2232.3 1800.4,2229.8 1796.2,2228.4 1792,2227.8 1787.8,2228.9 1783.5,2231 1779.3,2228 1775.1,2226 1770.9,2232.9 1766.7,2221.2 1762.4,2224.9 1758.2,2230 1754,2224.3 1749.8,2227.5 1745.6,2229.5 1741.3,2224.3 1737.1,2219.8 1732.9,2223.1 1728.7,2225.9 1724.5,2218.6 1720.2,2224.9 1716,2221.8 1711.8,2219.7 1707.6,2222.2 1703.4,2222.9 1699.2,2221 1694.9,2220 1690.7,2220.1 1686.5,2221.4 1682.3,2221.1 1678.1,2223.1 1673.8,2222.7 1669.6,2223 1665.4,2220 1661.2,2220.5 1657,2222.3 1652.7,2220.8 1648.5,2220.6 1644.3,2222 1640.1,2225.9 1635.9,2227 1631.6,2224 1627.4,2225.1 1623.2,2226 1619,2225.9 1614.8,2224.9 1610.6,2217.4 1606.3,2227.5 1602.1,2226.2 1597.9,2217.6 1593.7,2221.1 1589.5,2221.6 1585.2,2224 1581,2225.2 1576.8,2227.6 1572.6,2222.7 1568.4,2224.8 1564.1,2227.5 1559.9,2231.4 1555.7,2234.3 1551.5,2233 1547.3,2231.2 1543.1,2230.3 1538.8,2231.3 1534.6,2234.4 1530.4,2237.9 1526.2,2238.6 1522,2239.4 1517.7,2242.1 1513.5,2246.5 1509.3,2243 1505.1,2244.4 1500.9,2245.6 1496.6,2250.4 1492.4,2252.8 1488.2,2250.8 1484,2247.2 1479.8,2245.5 1475.5,2247.4 1471.3,2249.9 1467.1,2251.1 1462.9,2248.8 1458.7,2246.5 1454.5,2255.7 1450.2,2254.5 1446,2254.3 1441.8,2252.9 1437.6,2250.5 1433.4,2251.8 1429.1,2252.9 1424.9,2250 1420.7,2248 1416.5,2252.9 1412.3,2256.4 1408,2247.6 1403.8,2251.2 1399.6,2243.5 1395.4,2253 1391.2,2249.8 1386.9,2246 1382.7,2242.8 1378.5,2240.2 1374.3,2241.2 1370.1,2241.4 1365.9,2234.5 1361.6,2237.8 1357.4,2236.2 1353.2,2234.1 1349,2230.7 1344.8,2227.7 1340.5,2225.2 1336.3,2223.1 1332.1,2215.5 1327.9,2220.2 1323.7,2209 1319.4,2212.3 1315.2,2204.9 1311,2190.7 1306.8,2192.5 1302.6,2187.2 1298.4,2167.2 1294.1,2182.2 1289.9,2155.6 1285.7,2163.2 1281.5,2154.3 1277.3,2138.7 1273,2124.2 1268.8,2116.7 1264.6,2101.7 1260.4,2084.2 1256.2,2078.3 1251.9,2063.7 1247.7,2040.9 1243.5,2035.6 1239.3,2018.1 1235.1,2010.3 1230.8,1997.7 1226.6,1983.2 1222.4,1965.3 1218.2,1967.9 1214,1947.7 1209.8,1939.7 1205.5,1955.2 1201.3,1970.2 1197.1,1986.9 1192.9,1984 1188.7,2005.8 1184.4,2028.5 1180.2,2051 1176,2081.7 1171.8,2104 1167.6,2129.2 1163.3,2164.4 1159.1,2174.6 1154.9,2189.9 1150.7,2215.2 1146.5,2227.9 1142.2,2240.3 1138,2251.9 1133.8,2260.2 1129.6,2265.7 1125.4,2269.6 1121.2,2273.2 1116.9,2276.5 1112.7,2279.2 1108.5,2281.8 1104.3,2283.2 1100.1,2283.9 1095.8,2285.7 1091.6,2286.2 1087.4,2287.5 1083.2,2287.9"/>
<path class="d" d="M1083.2 2286.1h0M1087.4 2285.6h0M1091.6 2284.9h0M1095.8 2284h0M1100.1 2282.5h0M1104.3 2282.6h0M1108.5 2281.2h0M1112.7 2276.5h0M1116.9 2275.7h0M1121.2 2270.8h0M1125.4 2267.2h0M1129.6 2262.8h0M1133.8 2259.7h0M1138 2250.3h0M1142.2 2239h0M1146.5 2226.1h0M1150.7 2214.3h0M1154.9 2188.4h0M1159.1 2172.6h0M1163.3 2162.8h0M1167.6 2128.9h0M1171.8 2103.7h0M1176 2079.7h0M1180.2 2050.3h0M1184.4 2025.8h0M1188.7 2004.4h0M1192.9 1982.5h0M1197.1 1986.3h0M1201.3 1968.3h0M1205.5 1952.8h0M1209.8 1938.5h0M1214 1945.1h0M1218.2 1966h0M1222.4 1962.9h0M1226.6 1980.9h0M1230.8 1996.1h0M1235.1 2009.3h0M1239.3 2016.4h0M1243.5 2034.5h0M1247.7 2037.6h0M1251.9 2061.5h0M1256.2 2076.4h0M1260.4 2082.7h0M1264.6 2099.5h0M1268.8 2115.2h0M1273 2122h0M1277.3 2137.6h0M1281.5 2153.3h0M1285.7 2161.6h0M1289.9 2152.9h0M1294.1 2180h0M1298.4 2165.3h0M1302.6 2187.7h0M1306.8 2190.6h0M1311 2190.3h0M1315.2 2203.9h0M1319.4 2210.6h0M1323.7 2208.4h0M1327.9 2219.5h0M1332.1 2213.1h0M1336.3 2221.1h0M1340.5 2224h0M1344.8 2226.8h0M1349 2228.2h0M1353.2 2232.9h0M1357.4 2234.3h0M1361.6 2236.2h0M1365.9 2232.4h0M1370.1 2238.6h0M1374.3 2239.5h0M1378.5 2238.1h0M1382.7 2241.9h0M1386.9 2245.4h0M1391.2 2247.3h0M1395.4 2252.4h0M1399.6 2241.9h0M1403.8 2250.1h0M1408 2246.3h0M1412.3 2255.2h0M1416.5 2251.3h0M1420.7 2246.3h0M1424.9 2249.1h0M1429.1 2252.4h0M1433.4 2249.6h0M1437.6 2248.7h0M1441.8 2251h0M1446 2252h0M1450.2 2252.4h0M1454.5 2254.3h0M1458.7 2245.1h0M1462.9 2246.6h0M1467.1 2249.4h0M1471.3 2249.4h0M1475.5 2245.1h0M1479.8 2243.7h0M1484 2245.2h0M1488.2 2248.6h0M1492.4 2250.8h0M1496.6 2249.1h0M1500.9 2243.2h0M1505.1 2242.5h0M1509.3 2241.2h0M1513.5 2244.4h0M1517.7 2239.5h0M1522 2237.4h0M1526.2 2235.7h0M1530.4 2235.5h0M1534.6 2233.4h0M1538.8 2230.5h0M1543.1 2229.8h0M1547.3 2230.1h0M1551.5 2232h0M1555.7 2233.1h0M1559.9 2229.1h0M1564.1 2225.9h0M1568.4 2222.5h0M1572.6 2220.2h0M1576.8 2224.9h0M1581 2223.9h0M1585.2 2223h0M1589.5 2220.4h0M1593.7 2219.2h0M1597.9 2214.5h0M1602.1 2223.5h0M1606.3 2226.1h0M1610.6 2215h0M1614.8 2223.7h0M1619 2223.9h0M1623.2 2224.2h0M1627.4 2223.3h0M1631.6 2221.8h0M1635.9 2224.9h0M1640.1 2225.3h0M1644.3 2221.1h0M1648.5 2220.7h0M1652.7 2220.4h0M1657 2221.3h0M1661.2 2218.6h0M1665.4 2218.3h0M1669.6 2220.6h0M1673.8 2220.9h0M1678.1 2221.8h0M1682.3 2219h0M1686.5 2219.5h0M1690.7 2218.3h0M1694.9 2217.6h0M1699.2 2218.6h0M1703.4 2220.9h0M1707.6 2221.6h0M1711.8 2217.9h0M1716 2221.3h0M1720.2 2221.6h0M1724.5 2216.2h0M1728.7 2223.5h0M1732.9 2221.4h0M1737.1 2219h0M1741.3 2221.9h0M1745.6 2227.9h0M1749.8 2225.6h0M1754 2223.3h0M1758.2 2228.9h0M1762.4 2224.7h0M1766.7 2220.4h0M1770.9 2230.5h0M1775.1 2224.2h0M1779.3 2227.5h0M1783.5 2230.3h0M1787.8 2227.2h0M1792 2226.1h0M1796.2 2225.9h0M1800.4 2227.9h0M1804.6 2229.9h0M1808.8 2233.9h0M1813.1 2233.4h0M1817.3 2231.2h0M1821.5 2230.6h0M1825.7 2231.9h0M1829.9 2229.4h0M1834.2 2229.4h0M1838.4 2229.3h0M1842.6 2231.2h0M1846.8 2230.6h0"/>
<polyline class="l k" stroke="#000" points="1083.2,2286.5 1087.4,2285.9 1091.6,2284.4 1095.8,2284 1100.1,2282.5 1104.3,2281.4 1108.5,2280.5 1112.7,2277.6 1116.9,2274.8 1121.2,2271.3 1125.4,2267.9 1129.6,2263.7 1133.8,2258.8 1138,2250.3 1142.2,2238.8 1146.5,2226.3 1150.7,2213.3 1154.9,2188 1159.1,2172.9 1163.3,2162.8 1167.6,2127.5 1171.8,2102.3 1176,2079.5 1180.2,2049.3 1184.4,2026.7 1188.7,2003.9 1192.9,1982.2 1197.1,1985.1 1201.3,1968.4 1205.5,1953.3 1209.8,1938.2 1214,1945.8 1218.2,1966 1222.4,1963.4 1226.6,1981.1 1230.8,1996.3 1235.1,2008.9 1239.3,2016.4 1243.5,2034.2 1247.7,2039.2 1251.9,2061.8 1256.2,2076.1 1260.4,2082.1 1264.6,2099.7 1268.8,2114.8 1273,2122.5 1277.3,2137.6 1281.5,2152.7 1285.7,2161.8 1289.9,2153.8 1294.1,2180.6 1298.4,2165.4 1302.6,2185.6 1306.8,2190.6 1311,2189.1 1315.2,2203.2 1319.4,2210.8 1323.7,2207.3 1327.9,2218.3 1332.1,2213.3 1336.3,2220.9 1340.5,2223.6 1344.8,2225.9 1349,2228.7 1353.2,2232.6 1357.4,2234.6 1361.6,2236 1365.9,2232.6 1370.1,2239.5 1374.3,2239.2 1378.5,2238.5 1382.7,2241.2 1386.9,2244.6 1391.2,2248 1395.4,2251.2 1399.6,2242.1 1403.8,2249.6 1408,2246.1 1412.3,2254.6 1416.5,2251.2 1420.7,2246.1 1424.9,2248.2 1429.1,2251.2 1433.4,2250.1 1437.6,2248.7 1441.8,2251.3 1446,2252.7 1450.2,2252.6 1454.5,2253.8 1458.7,2244.6 1462.9,2246.9 1467.1,2249.6 1471.3,2248.7 1475.5,2245.7 1479.8,2243.7 1484,2245.1 1488.2,2248.7 1492.4,2251.2 1496.6,2248.2 1500.9,2243.7 1505.1,2242.5 1509.3,2241.1 1513.5,2244.6 1517.7,2240.5 1522,2237.6 1526.2,2236.7 1530.4,2236 1534.6,2232.7 1538.8,2229.4 1543.1,2229 1547.3,2229.4 1551.5,2231.3 1555.7,2232.6 1559.9,2229.6 1564.1,2225.9 1568.4,2223.3 1572.6,2220.9 1576.8,2225.9 1581,2223.5 1585.2,2222.5 1589.5,2220.2 1593.7,2219.3 1597.9,2215.9 1602.1,2224.4 1606.3,2225.9 1610.6,2215.9 1614.8,2223.3 1619,2224.4 1623.2,2224.4 1627.4,2223.5 1631.6,2222.5 1635.9,2225.1 1640.1,2224.4 1644.3,2220.5 1648.5,2219.3 1652.7,2219.4 1657,2220.9 1661.2,2219.1 1665.4,2218.3 1669.6,2221.1 1673.8,2220.9 1678.1,2221 1682.3,2219 1686.5,2219.3 1690.7,2218.5 1694.9,2218.3 1699.2,2219.3 1703.4,2220.9 1707.6,2220.3 1711.8,2218.3 1716,2220.5 1720.2,2222.5 1724.5,2217.4 1728.7,2224.4 1732.9,2221.6 1737.1,2218.3 1741.3,2222.1 1745.6,2227.5 1749.8,2225.8 1754,2222.5 1758.2,2228.4 1762.4,2223.7 1766.7,2219.3 1770.9,2231 1775.1,2224.4 1779.3,2226.5 1783.5,2229.4 1787.8,2227 1792,2225.9 1796.2,2226.7 1800.4,2227.5 1804.6,2230.5 1808.8,2234.5 1813.1,2233.4 1817.3,2232.6 1821.5,2231.1 1825.7,2231 1829.9,2230.8 1834.2,2229.4 1838.4,2229.3 1842.6,2231 1846.8,2231"/>
<polyline class="l" stroke="#ffa500" points="1083.2,2286.2 1087.4,2286.2 1091.6,2284.5 1095.8,2284.1 1100.1,2282.4 1104.3,2281.6 1108.5,2280.6 1112.7,2277.6 1116.9,2274.5 1121.2,2271.2 1125.4,2267.9 1129.6,2263.5 1133.8,2258.7 1138,2250.5 1142.2,2239.3 1146.5,2226.1 1150.7,2213.3 1154.9,2187.5 1159.1,2172.5 1163.3,2163 1167.6,2127.7 1171.8,2101.8 1176,2079.6 1180.2,2049.4 1184.4,2027.2 1188.7,2004.1 1192.9,1981.7 1197.1,1984.5 1201.3,1968.1 1205.5,1953.4 1209.8,1938 1214,1946 1218.2,1965.3 1222.4,1963 1226.6,1981.2 1230.8,1996.1 1235.1,2008.9 1239.3,2016.3 1243.5,2034.1 1247.7,2039.6 1251.9,2061.4 1256.2,2076.6 1260.4,2082.3 1264.6,2099.7 1268.8,2114.4 1273,2122.3 1277.3,2137.9 1281.5,2153 1285.7,2161.6 1289.9,2153.5 1294.1,2180.6 1298.4,2165.8 1302.6,2185.3 1306.8,2190.4 1311,2189.7 1315.2,2202.8 1319.4,2210.9 1323.7,2206.6 1327.9,2218.8 1332.1,2213.4 1336.3,2220.7 1340.5,2223.1 1344.8,2226 1349,2228.5 1353.2,2232.5 1357.4,2234.9 1361.6,2235.8 1365.9,2232.1 1370.1,2239.2 1374.3,2239.1 1378.5,2238.4 1382.7,2241 1386.9,2244.8 1391.2,2247.6 1395.4,2251.1 1399.6,2242.2 1403.8,2249.4 1408,2246.2 1412.3,2254.6 1416.5,2250.9 1420.7,2246.4 1424.9,2247.9 1429.1,2250.8 1433.4,2250.1 1437.6,2249.3 1441.8,2250.9 1446,2252.8 1450.2,2252.5 1454.5,2253.5 1458.7,2244.7 1462.9,2246.6 1467.1,2249.9 1471.3,2248.7 1475.5,2245.9 1479.8,2243.9 1484,2245.4 1488.2,2248.3 1492.4,2251.2 1496.6,2248.5 1500.9,2243.2 1505.1,2243.1 1509.3,2241 1513.5,2244.2 1517.7,2240.5 1522,2237.7 1526.2,2236.7 1530.4,2235.9 1534.6,2232.7 1538.8,2229.4 1543.1,2229.2 1547.3,2229.6 1551.5,2230.9 1555.7,2232.2 1559.9,2229.9 1564.1,2225.3 1568.4,2224.1 1572.6,2220.9 1576.8,2226.1 1581,2223.4 1585.2,2221.8 1589.5,2220.3 1593.7,2220.3 1597.9,2215.9 1602.1,2224.5 1606.3,2225.6 1610.6,2215.9 1614.8,2223.1 1619,2224.1 1623.2,2224.6 1627.4,2223.6 1631.6,2222.6 1635.9,2224.7 1640.1,2225.2 1644.3,2220.8 1648.5,2219.9 1652.7,2219.5 1657,2220.7 1661.2,2219.3 1665.4,2218.3 1669.6,2220.7 1673.8,2220.3 1678.1,2221.5 1682.3,2219.2 1686.5,2219.7 1690.7,2218 1694.9,2217.8 1699.2,2219.2 1703.4,2220.9 1707.6,2220.6 1711.8,2218 1716,2220.7 1720.2,2223 1724.5,2217 1728.7,2224.2 1732.9,2221.8 1737.1,2218.2 1741.3,2221.8 1745.6,2227.4 1749.8,2225.7 1754,2222.7 1758.2,2228.7 1762.4,2223.5 1766.7,2219.4 1770.9,2230.9 1775.1,2224.5 1779.3,2226.2 1783.5,2229.5 1787.8,2227.1 1792,2226.3 1796.2,2227.1 1800.4,2227.4 1804.6,2230.7 1808.8,2233.7 1813.1,2232.1 1817.3,2232.4 1821.5,2230.9 1825.7,2231.3 1829.9,2230.2 1834.2,2230.3 1838.4,2228.9 1842.6,2231.1 1846.8,2231.6"/>
<rect class="s" x="1045" y="1918" width="840" height="389"/>
<path class="s" d="M1083.2 2307v9.33M1188.7 2307v9.33M1294.1 2307v9.33M1399.6 2307v9.33M1505.1 2307v9.33M1610.6 2307v9.33M1716 2307v9.33M1821.5 2307v9.33M1045 2287.5h-9.33M1045 2200.6h-9.33M1045 2113.6h-9.33M1045 2026.7h-9.33M1045 1939.7h-9.33"/>
<g font-size="29.9">
<text x="1083.2" y="2345.9" text-anchor="middle" textLength="17" lengthAdjust="spacingAndGlyphs">0</text>
<text x="1188.7" y="2345.9" text-anchor="middle" textLength="33.9" lengthAdjust="spacingAndGlyphs">25</text>
<text x="1294.1" y="2345.9" text-anchor="middle" textLength="33.9" lengthAdjust="spacingAndGlyphs">50</text>
<text x="1399.6" y="2345.9" text-anchor="middle" textLength="33.9" lengthAdjust="spacingAndGlyphs">75</text>
<text x="1505.1" y="2345.9" text-anchor="middle" textLength="50.9" lengthAdjust="spacingAndGlyphs">100</text>
<text x="1610.6" y="2345.9" text-anchor="middle" textLength="50.9" lengthAdjust="spacingAndGlyphs">125</text>
<text x="1716" y="2345.9" text-anchor="middle" textLength="50.9" lengthAdjust="spacingAndGlyphs">150</text>
<text x="1821.5" y="2345.9" text-anchor="middle" textLength="50.9" lengthAdjust="spacingAndGlyphs">175</text>
<text x="1025.5" y="2297.2" text-anchor="end" textLength="17" lengthAdjust="spacingAndGlyphs">0</text>
<text x="1025.5" y="2210.3" text-anchor="end" textLength="50.9" lengthAdjust="spacingAndGlyphs">500</text>
<text x="1025.5" y="2123.3" text-anchor="end" textLength="67.9" lengthAdjust="spacingAndGlyphs">1000</text>
<text x="1025.5" y="2036.4" text-anchor="end" textLength="67.9" lengthAdjust="spacingAndGlyphs">1500</text>
<text x="1025.5" y="1949.4" text-anchor="end" textLength="67.9" lengthAdjust="spacingAndGlyphs">2000</text>
<text x="1465" y="2382.6" text-anchor="middle" textLength="66.6" lengthAdjust="spacingAndGlyphs">Days</text>
</g>
<text y="1902" font-size="33.6"><tspan x="1129.5" textLength="87.4" lengthAdjust="spacingAndGlyphs">Pima,</tspan> <tspan x="1228.1" textLength="42.8" lengthAdjust="spacingAndGlyphs">AZ</tspan> <tspan x="1282.1" textLength="89.4" lengthAdjust="spacingAndGlyphs">RMSE</tspan> <tspan x="1382.6" textLength="87.2" lengthAdjust="spacingAndGlyphs">EnKF:</tspan> <tspan x="1481" textLength="80.4" lengthAdjust="spacingAndGlyphs">3.77,</tspan> <tspan x="1572.6" textLength="89.4" lengthAdjust="spacingAndGlyphs">RMSE</tspan> <tspan x="1673.1" textLength="45" lengthAdjust="spacingAndGlyphs">PF:</tspan> <tspan x="1729.3" textLength="70.3" lengthAdjust="spacingAndGlyphs">4.23</tspan></text>
<g transform="translate(1650.2,1928.3)">
<rect class="lf" x="0" y="0" width="224.6" height="160.4" rx="4.3"/>
<path class="l" stroke="#000" d="M8.5 17.3H51.2"/>
<path class="l" stroke="#ffa500" d="M8.5 48.3H51.2"/>
<rect class="b" fill="#00f" stroke="#00f" x="8.5" y="71.5" width="42.67" height="14.93"/>
<rect class="b" fill="#008000" stroke="#008000" x="8.5" y="102.4" width="42.67" height="14.93"/>
<path class="d" d="M29.9 142.1h0"/>
<text y="24.6" font-size="22.4"><tspan x="68.3" textLength="59.5" lengthAdjust="spacingAndGlyphs">mean</tspan> <tspan x="135.6" textLength="19.6" lengthAdjust="spacingAndGlyphs">of</tspan> <tspan x="162.9" textLength="52.3" lengthAdjust="spacingAndGlyphs">EnKF</tspan></text>
<text y="55.6" font-size="22.4"><tspan x="68.3" textLength="59.5" lengthAdjust="spacingAndGlyphs">mean</tspan> <tspan x="135.6" textLength="19.6" lengthAdjust="spacingAndGlyphs">of</tspan> <tspan x="162.9" textLength="24.1" lengthAdjust="spacingAndGlyphs">PF</tspan></text>
<text y="86.3" font-size="22.4"><tspan x="68.3" textLength="46.4" lengthAdjust="spacingAndGlyphs">95%</tspan> <tspan x="122.5" textLength="20.2" lengthAdjust="spacingAndGlyphs">CI</tspan> <tspan x="150.4" textLength="52.3" lengthAdjust="spacingAndGlyphs">EnKF</tspan></text>
<text y="117.1" font-size="22.4"><tspan x="68.3" textLength="46.4" lengthAdjust="spacingAndGlyphs">95%</tspan> <tspan x="122.5" textLength="20.2" lengthAdjust="spacingAndGlyphs">CI</tspan> <tspan x="150.4" textLength="24.1" lengthAdjust="spacingAndGlyphs">PF</tspan></text>
<text y="147.8" font-size="22.4"><tspan x="68.3" textLength="47.1" lengthAdjust="spacingAndGlyphs">data</tspan></text>
</g>
</g>
<g>
<polygon class="b" fill="#00f" stroke="#00f" points="2039.2,2275.8 2043.4,2275.4 2047.6,2272.2 2051.8,2276.3 2056.1,2273.5 2060.3,2274.9 2064.5,2274 2068.7,2269.4 2072.9,2268 2077.2,2258.9 2081.4,2252 2085.6,2242.4 2089.8,2234.2 2094,2219.1 2098.2,2186.6 2102.5,2162.8 2106.7,2148.2 2110.9,2140 2115.1,2100.2 2119.3,2080 2123.6,2024.2 2127.8,2026.1 2132,2004.6 2136.2,1994.1 2140.4,1981.2 2144.7,1961.6 2148.9,1968.4 2153.1,1937.8 2157.3,1956.5 2161.5,1974.4 2165.8,1976.2 2170,1957.5 2174.2,1978.5 2178.4,2010.5 2182.6,2019.7 2186.8,2029.7 2191.1,2050.3 2195.3,2054 2199.5,2069.5 2203.7,2079.1 2207.9,2091 2212.2,2105.2 2216.4,2116.2 2220.6,2126.2 2224.8,2136.8 2229,2143.6 2233.3,2149.1 2237.5,2141.3 2241.7,2155.5 2245.9,2166.9 2250.1,2183 2254.4,2179.8 2258.6,2199.4 2262.8,2189.8 2267,2192.6 2271.2,2202.6 2275.4,2201.7 2279.7,2204.5 2283.9,2207.7 2288.1,2210.4 2292.3,2215.4 2296.5,2218.2 2300.8,2219.5 2305,2221.8 2309.2,2224.6 2313.4,2227.3 2317.6,2233.3 2321.9,2228.7 2326.1,2225 2330.3,2237.4 2334.5,2233.3 2338.7,2229.6 2342.9,2238.8 2347.2,2230.1 2351.4,2240.1 2355.6,2236 2359.8,2235.6 2364,2238.3 2368.3,2246.5 2372.5,2230.5 2376.7,2231 2380.9,2239.7 2385.1,2236.9 2389.4,2235.6 2393.6,2230.1 2397.8,2227.8 2402,2235.1 2406.2,2241 2410.5,2237.4 2414.7,2236.5 2418.9,2234.2 2423.1,2233.7 2427.3,2237.4 2431.5,2243.3 2435.8,2238.3 2440,2232.8 2444.2,2230.5 2448.4,2234.2 2452.6,2240.6 2456.9,2236.9 2461.1,2227.8 2465.3,2242 2469.5,2220.5 2473.7,2233.7 2478,2236.9 2482.2,2231.9 2486.4,2228.2 2490.6,2224.6 2494.8,2222.8 2499.1,2238.8 2503.3,2223.2 2507.5,2224.1 2511.7,2231.9 2515.9,2224.6 2520.1,2215.9 2524.4,2222.3 2528.6,2225 2532.8,2220.5 2537,2208.6 2541.2,2212.2 2545.5,2223.7 2549.7,2218.6 2553.9,2218.6 2558.1,2217.7 2562.3,2219.5 2566.6,2211.8 2570.8,2210.9 2575,2213.1 2579.2,2215 2583.4,2215.4 2587.6,2219.5 2591.9,2218.6 2596.1,2209 2600.3,2201.3 2604.5,2204.9 2608.7,2207.7 2613,2199.9 2617.2,2214.5 2621.4,2202.6 2625.6,2212.7 2629.8,2210.4 2634.1,2206.7 2638.3,2198.5 2642.5,2207.7 2646.7,2202.6 2650.9,2197.1 2655.2,2201.7 2659.4,2202.2 2663.6,2209.9 2667.8,2202.6 2672,2200.3 2676.2,2206.7 2680.5,2209.9 2684.7,2208.6 2688.9,2204.5 2693.1,2200.3 2697.3,2196.7 2701.6,2205.8 2705.8,2198.5 2710,2200.3 2714.2,2203.1 2718.4,2202.2 2722.7,2204 2726.9,2206.7 2731.1,2212.2 2735.3,2213.1 2739.5,2201.7 2743.8,2206.3 2748,2214.5 2752.2,2204 2756.4,2206.3 2760.6,2213.1 2764.8,2212.7 2769.1,2218.6 2773.3,2215.9 2777.5,2211.8 2781.7,2205.4 2785.9,2212.7 2790.2,2216.8 2794.4,2220.5 2798.6,2219.5 2802.8,2215.9 2802.8,2224.6 2798.6,2230.5 2794.4,2230.1 2790.2,2224.1 2785.9,2221.4 2781.7,2215.4 2777.5,2223.2 2773.3,2227.3 2769.1,2229.6 2764.8,2223.7 2760.6,2223.2 2756.4,2216.8 2752.2,2212.2 2748,2226 2743.8,2216.3 2739.5,2211.8 2735.3,2224.1 2731.1,2223.2 2726.9,2218.6 2722.7,2215.4 2718.4,2210.9 2714.2,2213.1 2710,2209 2705.8,2208.6 2701.6,2216.3 2697.3,2209 2693.1,2211.8 2688.9,2213.6 2684.7,2220.5 2680.5,2220.5 2676.2,2216.8 2672,2210.9 2667.8,2215.4 2663.6,2221.8 2659.4,2214.1 2655.2,2212.7 2650.9,2209.5 2646.7,2210.4 2642.5,2219.1 2638.3,2209.9 2634.1,2215 2629.8,2221.4 2625.6,2221.4 2621.4,2214.1 2617.2,2226.4 2613,2215.4 2608.7,2220.5 2604.5,2214.1 2600.3,2210.9 2596.1,2218.2 2591.9,2226.4 2587.6,2229.2 2583.4,2228.7 2579.2,2226.9 2575,2223.7 2570.8,2221.8 2566.6,2221.8 2562.3,2228.2 2558.1,2228.2 2553.9,2227.8 2549.7,2231 2545.5,2232.8 2541.2,2220.5 2537,2218.2 2532.8,2230.5 2528.6,2236 2524.4,2235.1 2520.1,2228.2 2515.9,2236.5 2511.7,2242.4 2507.5,2237.8 2503.3,2233.7 2499.1,2250.2 2494.8,2231.9 2490.6,2238.8 2486.4,2240.6 2482.2,2244.7 2478,2247.5 2473.7,2242.4 2469.5,2231.9 2465.3,2251.6 2461.1,2238.8 2456.9,2245.2 2452.6,2251.6 2448.4,2245.6 2444.2,2238.8 2440,2242.4 2435.8,2248.8 2431.5,2252.9 2427.3,2249.7 2423.1,2241.5 2418.9,2243.3 2414.7,2246.5 2410.5,2249.7 2406.2,2252.9 2402,2245.2 2397.8,2236.9 2393.6,2237.8 2389.4,2243.8 2385.1,2247 2380.9,2249.3 2376.7,2241 2372.5,2244.2 2368.3,2254.3 2364,2250.2 2359.8,2242.4 2355.6,2247.9 2351.4,2251.1 2347.2,2239.7 2342.9,2248.4 2338.7,2238.3 2334.5,2242.9 2330.3,2247.9 2326.1,2236 2321.9,2238.8 2317.6,2243.3 2313.4,2237.8 2309.2,2236.9 2305,2235.6 2300.8,2228.2 2296.5,2228.7 2292.3,2220.9 2288.1,2221.4 2283.9,2216.8 2279.7,2210.4 2275.4,2209.9 2271.2,2211.8 2267,2203.5 2262.8,2199.9 2258.6,2210.4 2254.4,2193.5 2250.1,2193.9 2245.9,2178.8 2241.7,2167.4 2237.5,2150.9 2233.3,2155.5 2229,2153.7 2224.8,2145.5 2220.6,2134.5 2216.4,2127.2 2212.2,2116.6 2207.9,2101.1 2203.7,2086 2199.5,2077.3 2195.3,2067.2 2191.1,2062.2 2186.8,2043.5 2182.6,2032.9 2178.4,2021 2174.2,1989.5 2170,1968.4 2165.8,1983.1 2161.5,1984.4 2157.3,1966.6 2153.1,1946.9 2148.9,1978 2144.7,1972.1 2140.4,1995.4 2136.2,2003.7 2132,2016.5 2127.8,2038.9 2123.6,2035.2 2119.3,2088.3 2115.1,2106.6 2110.9,2148.7 2106.7,2158.7 2102.5,2176.6 2098.2,2198.5 2094,2228.7 2089.8,2244.7 2085.6,2252 2081.4,2261.2 2077.2,2268.9 2072.9,2279.9 2068.7,2283.6 2064.5,2282.2 2060.3,2286.3 2056.1,2287.2 2051.8,2286.8 2047.6,2285.9 2043.4,2287.7 2039.2,2288.2"/>
<polygon class="b" fill="#008000" stroke="#008000" points="2039.2,2277.6 2043.4,2277.6 2047.6,2275.8 2051.8,2278.6 2056.1,2278.1 2060.3,2275.4 2064.5,2274.9 2068.7,2273.1 2072.9,2271.2 2077.2,2258.9 2081.4,2251.6 2085.6,2241 2089.8,2233.3 2094,2217.3 2098.2,2187.5 2102.5,2161.5 2106.7,2148.7 2110.9,2139.5 2115.1,2098.3 2119.3,2077.8 2123.6,2025.2 2127.8,2025.6 2132,2004.6 2136.2,1994.1 2140.4,1982.2 2144.7,1960.2 2148.9,1967.5 2153.1,1938.2 2157.3,1956.5 2161.5,1973.9 2165.8,1973.5 2170,1957.5 2174.2,1977.1 2178.4,2009.1 2182.6,2020.6 2186.8,2030.2 2191.1,2048.9 2195.3,2054.4 2199.5,2070 2203.7,2077.3 2207.9,2091 2212.2,2105.7 2216.4,2117.1 2220.6,2125.8 2224.8,2137.2 2229,2144.1 2233.3,2147.7 2237.5,2142.2 2241.7,2156 2245.9,2166.5 2250.1,2183.4 2254.4,2179.8 2258.6,2199.4 2262.8,2189.8 2267,2192.6 2271.2,2202.2 2275.4,2200.3 2279.7,2204.9 2283.9,2208.1 2288.1,2209.9 2292.3,2214.1 2296.5,2216.3 2300.8,2217.7 2305,2221.4 2309.2,2224.6 2313.4,2229.2 2317.6,2233.7 2321.9,2229.2 2326.1,2226.4 2330.3,2237.4 2334.5,2232.8 2338.7,2229.6 2342.9,2237.8 2347.2,2230.1 2351.4,2240.6 2355.6,2237.8 2359.8,2233.3 2364,2240.1 2368.3,2245.2 2372.5,2231.4 2376.7,2231 2380.9,2240.1 2385.1,2236.5 2389.4,2234.6 2393.6,2229.6 2397.8,2226.9 2402,2235.1 2406.2,2240.1 2410.5,2239.2 2414.7,2236.9 2418.9,2234.2 2423.1,2233.3 2427.3,2238.3 2431.5,2242.9 2435.8,2237.4 2440,2233.7 2444.2,2230.1 2448.4,2235.6 2452.6,2241 2456.9,2236.5 2461.1,2229.6 2465.3,2242 2469.5,2220 2473.7,2231.9 2478,2236.5 2482.2,2231.9 2486.4,2228.2 2490.6,2225 2494.8,2222.3 2499.1,2240.1 2503.3,2222.3 2507.5,2224.6 2511.7,2231.9 2515.9,2222.8 2520.1,2214.5 2524.4,2219.5 2528.6,2224.6 2532.8,2219.5 2537,2208.1 2541.2,2211.8 2545.5,2223.7 2549.7,2219.5 2553.9,2216.8 2558.1,2217.3 2562.3,2219.1 2566.6,2211.8 2570.8,2211.8 2575,2212.2 2579.2,2214.5 2583.4,2216.3 2587.6,2218.6 2591.9,2219.1 2596.1,2209.9 2600.3,2200.8 2604.5,2204.9 2608.7,2209 2613,2201.7 2617.2,2213.1 2621.4,2201.3 2625.6,2212.2 2629.8,2211.3 2634.1,2205.4 2638.3,2199.4 2642.5,2209 2646.7,2201.7 2650.9,2199 2655.2,2202.6 2659.4,2203.1 2663.6,2211.3 2667.8,2203.5 2672,2200.3 2676.2,2206.3 2680.5,2210.4 2684.7,2207.2 2688.9,2203.5 2693.1,2198.1 2697.3,2196.7 2701.6,2204.9 2705.8,2198.5 2710,2202.2 2714.2,2203.1 2718.4,2203.1 2722.7,2203.1 2726.9,2208.1 2731.1,2210.9 2735.3,2212.7 2739.5,2200.3 2743.8,2205.4 2748,2214.1 2752.2,2203.1 2756.4,2206.3 2760.6,2212.7 2764.8,2212.2 2769.1,2216.3 2773.3,2215.9 2777.5,2210.4 2781.7,2205.8 2785.9,2211.3 2790.2,2214.5 2794.4,2219.1 2798.6,2219.1 2802.8,2214.5 2802.8,2224.1 2798.6,2229.6 2794.4,2229.6 2790.2,2225 2785.9,2221.8 2781.7,2217.7 2777.5,2223.7 2773.3,2226.4 2769.1,2229.6 2764.8,2221.8 2760.6,2221.8 2756.4,2215.4 2752.2,2213.1 2748,2226.9 2743.8,2217.7 2739.5,2211.3 2735.3,2222.8 2731.1,2223.7 2726.9,2218.2 2722.7,2213.6 2718.4,2210.9 2714.2,2212.2 2710,2209.9 2705.8,2207.2 2701.6,2216.8 2697.3,2208.6 2693.1,2210.4 2688.9,2212.7 2684.7,2221.4 2680.5,2221.8 2676.2,2215.9 2672,2211.8 2667.8,2215.4 2663.6,2220.9 2659.4,2212.2 2655.2,2214.1 2650.9,2209.9 2646.7,2209.5 2642.5,2219.1 2638.3,2211.3 2634.1,2215.4 2629.8,2220.5 2625.6,2222.3 2621.4,2214.1 2617.2,2227.3 2613,2215.4 2608.7,2220.5 2604.5,2214.1 2600.3,2210.9 2596.1,2220 2591.9,2226.4 2587.6,2230.1 2583.4,2230.5 2579.2,2226.9 2575,2223.2 2570.8,2220.9 2566.6,2221.8 2562.3,2229.2 2558.1,2228.7 2553.9,2226.9 2549.7,2231 2545.5,2232.4 2541.2,2220 2537,2219.1 2532.8,2231 2528.6,2237.4 2524.4,2234.6 2520.1,2225.5 2515.9,2235.1 2511.7,2242 2507.5,2237.4 2503.3,2234.6 2499.1,2252 2494.8,2232.4 2490.6,2239.2 2486.4,2241.5 2482.2,2246.1 2478,2248.8 2473.7,2243.3 2469.5,2232.4 2465.3,2252.5 2461.1,2240.1 2456.9,2245.6 2452.6,2252 2448.4,2247 2444.2,2240.6 2440,2242.4 2435.8,2249.3 2431.5,2252.5 2427.3,2249.7 2423.1,2242.9 2418.9,2243.3 2414.7,2246.1 2410.5,2250.2 2406.2,2253.4 2402,2245.6 2397.8,2237.4 2393.6,2237.8 2389.4,2243.8 2385.1,2247.5 2380.9,2250.7 2376.7,2243.3 2372.5,2245.2 2368.3,2253.9 2364,2249.3 2359.8,2243.8 2355.6,2247.9 2351.4,2252 2347.2,2240.6 2342.9,2249.7 2338.7,2238.8 2334.5,2241.5 2330.3,2248.8 2326.1,2236.9 2321.9,2239.2 2317.6,2241.5 2313.4,2237.8 2309.2,2235.6 2305,2234.6 2300.8,2228.7 2296.5,2227.8 2292.3,2222.3 2288.1,2221.4 2283.9,2215.9 2279.7,2211.3 2275.4,2209.9 2271.2,2210.4 2267,2204 2262.8,2199.4 2258.6,2211.3 2254.4,2192.6 2250.1,2193.5 2245.9,2179.3 2241.7,2166.9 2237.5,2152.3 2233.3,2156 2229,2155.1 2224.8,2145.9 2220.6,2134.9 2216.4,2127.6 2212.2,2116.6 2207.9,2102 2203.7,2088.7 2199.5,2077.8 2195.3,2067.2 2191.1,2060.8 2186.8,2041.6 2182.6,2033.4 2178.4,2021 2174.2,1989 2170,1968.9 2165.8,1983.1 2161.5,1985.4 2157.3,1968 2153.1,1947.4 2148.9,1979 2144.7,1971.2 2140.4,1994.1 2136.2,2003.2 2132,2015.1 2127.8,2038 2123.6,2034.3 2119.3,2089.2 2115.1,2105.7 2110.9,2148.2 2106.7,2158.7 2102.5,2177 2098.2,2199 2094,2228.7 2089.8,2244.7 2085.6,2252.5 2081.4,2261.6 2077.2,2268.9 2072.9,2281.8 2068.7,2284 2064.5,2282.7 2060.3,2284.5 2056.1,2284.5 2051.8,2284.5 2047.6,2284.5 2043.4,2284.5 2039.2,2284.5"/>
<path class="d" d="M2039.2 2284h0M2043.4 2282.7h0M2047.6 2282.2h0M2051.8 2282.7h0M2056.1 2282.2h0M2060.3 2279.9h0M2064.5 2278.1h0M2068.7 2279.5h0M2072.9 2268.9h0M2077.2 2265.3h0M2081.4 2259.3h0M2085.6 2245.2h0M2089.8 2239.2h0M2094 2221.8h0M2098.2 2192.6h0M2102.5 2170.2h0M2106.7 2152.3h0M2110.9 2145.9h0M2115.1 2102.5h0M2119.3 2082.3h0M2123.6 2027.9h0M2127.8 2034.3h0M2132 2007.8h0M2136.2 1998.2h0M2140.4 1987.6h0M2144.7 1961.1h0M2148.9 1971.2h0M2153.1 1946.5h0M2157.3 1962.9h0M2161.5 1978h0M2165.8 1977.6h0M2170 1962h0M2174.2 1983.1h0M2178.4 2022.9h0M2182.6 2024.7h0M2186.8 2034.8h0M2191.1 2051.7h0M2195.3 2059h0M2199.5 2075.5h0M2203.7 2082.8h0M2207.9 2095.6h0M2212.2 2109.3h0M2216.4 2121.7h0M2220.6 2133.1h0M2224.8 2146.8h0M2229 2152.8h0M2233.3 2153.7h0M2237.5 2146.8h0M2241.7 2161.9h0M2245.9 2173.4h0M2250.1 2190.3h0M2254.4 2188.9h0M2258.6 2205.4h0M2262.8 2193.9h0M2267 2200.3h0M2271.2 2209h0M2275.4 2210.4h0M2279.7 2206.7h0M2283.9 2211.3h0M2288.1 2211.3h0M2292.3 2214.1h0M2296.5 2226h0M2300.8 2225.5h0M2305 2226h0M2309.2 2231.4h0M2313.4 2233.7h0M2317.6 2234.6h0M2321.9 2235.1h0M2326.1 2229.6h0M2330.3 2244.2h0M2334.5 2238.8h0M2338.7 2235.6h0M2342.9 2247.5h0M2347.2 2235.1h0M2351.4 2248.4h0M2355.6 2244.2h0M2359.8 2238.8h0M2364 2242.4h0M2368.3 2247h0M2372.5 2236h0M2376.7 2233.7h0M2380.9 2246.5h0M2385.1 2243.3h0M2389.4 2238.3h0M2393.6 2233.7h0M2397.8 2231h0M2402 2240.1h0M2406.2 2247h0M2410.5 2247h0M2414.7 2241h0M2418.9 2240.1h0M2423.1 2235.6h0M2427.3 2243.8h0M2431.5 2243.8h0M2435.8 2244.7h0M2440 2237.8h0M2444.2 2237.4h0M2448.4 2243.3h0M2452.6 2244.2h0M2456.9 2239.2h0M2461.1 2234.2h0M2465.3 2247.9h0M2469.5 2230.5h0M2473.7 2236.5h0M2478 2246.5h0M2482.2 2236.5h0M2486.4 2233.3h0M2490.6 2227.8h0M2494.8 2230.1h0M2499.1 2245.2h0M2503.3 2226.4h0M2507.5 2233.3h0M2511.7 2238.3h0M2515.9 2228.7h0M2520.1 2220.5h0M2524.4 2227.3h0M2528.6 2230.5h0M2532.8 2228.7h0M2537 2211.3h0M2541.2 2216.8h0M2545.5 2227.8h0M2549.7 2224.6h0M2553.9 2220h0M2558.1 2229.6h0M2562.3 2228.2h0M2566.6 2221.4h0M2570.8 2215h0M2575 2218.6h0M2579.2 2223.2h0M2583.4 2222.8h0M2587.6 2224.1h0M2591.9 2219.1h0M2596.1 2214.1h0M2600.3 2202.6h0M2604.5 2212.7h0M2608.7 2216.8h0M2613 2209h0M2617.2 2222.3h0M2621.4 2208.1h0M2625.6 2216.3h0M2629.8 2217.3h0M2634.1 2211.3h0M2638.3 2207.7h0M2642.5 2215.9h0M2646.7 2207.7h0M2650.9 2202.2h0M2655.2 2208.1h0M2659.4 2210.9h0M2663.6 2218.6h0M2667.8 2207.7h0M2672 2204h0M2676.2 2210.9h0M2680.5 2217.7h0M2684.7 2209.5h0M2688.9 2212.7h0M2693.1 2205.4h0M2697.3 2203.1h0M2701.6 2215.4h0M2705.8 2205.8h0M2710 2208.1h0M2714.2 2204.5h0M2718.4 2205.8h0M2722.7 2210.4h0M2726.9 2212.7h0M2731.1 2211.8h0M2735.3 2217.3h0M2739.5 2206.7h0M2743.8 2210.9h0M2748 2221.4h0M2752.2 2203.5h0M2756.4 2210.4h0M2760.6 2219.5h0M2764.8 2218.6h0M2769.1 2221.8h0M2773.3 2221.4h0M2777.5 2214.1h0M2781.7 2208.1h0M2785.9 2217.7h0M2790.2 2221.4h0M2794.4 2226h0M2798.6 2222.8h0M2802.8 2220.5h0"/>
<polyline class="l k" stroke="#000" points="2039.2,2283.1 2043.4,2281.8 2047.6,2280.4 2051.8,2283.1 2056.1,2281.8 2060.3,2279.9 2064.5,2278.1 2068.7,2275.8 2072.9,2273.1 2077.2,2263.9 2081.4,2256.1 2085.6,2246.1 2089.8,2239.7 2094,2223.2 2098.2,2193 2102.5,2170.6 2106.7,2152.8 2110.9,2145 2115.1,2102.5 2119.3,2082.3 2123.6,2029.3 2127.8,2031.6 2132,2011.4 2136.2,1998.6 2140.4,1988.6 2144.7,1966.1 2148.9,1973.5 2153.1,1943.3 2157.3,1961.1 2161.5,1978.5 2165.8,1980.3 2170,1963.4 2174.2,1983.5 2178.4,2016.5 2182.6,2026.5 2186.8,2034.3 2191.1,2054.4 2195.3,2061.7 2199.5,2074.6 2203.7,2082.3 2207.9,2097.4 2212.2,2112.5 2216.4,2122.6 2220.6,2129.9 2224.8,2142.7 2229,2150 2233.3,2152.8 2237.5,2147.7 2241.7,2160.5 2245.9,2172.9 2250.1,2188 2254.4,2187.1 2258.6,2205.8 2262.8,2193 2267,2198.1 2271.2,2208.1 2275.4,2205.8 2279.7,2206.7 2283.9,2210.9 2288.1,2215.4 2292.3,2218.2 2296.5,2223.7 2300.8,2223.2 2305,2227.8 2309.2,2231 2313.4,2232.8 2317.6,2236 2321.9,2233.7 2326.1,2231 2330.3,2243.8 2334.5,2237.8 2338.7,2233.7 2342.9,2244.7 2347.2,2236 2351.4,2246.1 2355.6,2242.9 2359.8,2238.8 2364,2243.8 2368.3,2249.7 2372.5,2236 2376.7,2237.4 2380.9,2246.1 2385.1,2242.4 2389.4,2239.7 2393.6,2234.6 2397.8,2232.4 2402,2239.7 2406.2,2247.5 2410.5,2245.2 2414.7,2242.4 2418.9,2240.6 2423.1,2237.4 2427.3,2245.6 2431.5,2248.8 2435.8,2244.7 2440,2237.8 2444.2,2236 2448.4,2241 2452.6,2246.1 2456.9,2240.6 2461.1,2233.7 2465.3,2246.1 2469.5,2227.3 2473.7,2237.4 2478,2244.7 2482.2,2238.8 2486.4,2233.7 2490.6,2231.4 2494.8,2227.3 2499.1,2243.8 2503.3,2227.3 2507.5,2231 2511.7,2237.4 2515.9,2230.5 2520.1,2222.3 2524.4,2226.9 2528.6,2231 2532.8,2226 2537,2213.1 2541.2,2215.9 2545.5,2227.3 2549.7,2224.6 2553.9,2223.2 2558.1,2223.7 2562.3,2224.6 2566.6,2215.9 2570.8,2216.8 2575,2218.2 2579.2,2221.4 2583.4,2224.6 2587.6,2225.5 2591.9,2223.2 2596.1,2213.6 2600.3,2205.8 2604.5,2211.3 2608.7,2215.9 2613,2208.1 2617.2,2220.9 2621.4,2208.1 2625.6,2218.2 2629.8,2216.8 2634.1,2210.9 2638.3,2205.8 2642.5,2213.1 2646.7,2206.7 2650.9,2203.1 2655.2,2207.7 2659.4,2208.1 2663.6,2215.9 2667.8,2209.5 2672,2207.2 2676.2,2211.8 2680.5,2215.9 2684.7,2212.2 2688.9,2208.1 2693.1,2205.4 2697.3,2203.1 2701.6,2211.3 2705.8,2204.5 2710,2205.8 2714.2,2208.1 2718.4,2206.3 2722.7,2209.5 2726.9,2213.1 2731.1,2216.3 2735.3,2218.2 2739.5,2205.8 2743.8,2211.8 2748,2219.5 2752.2,2207.2 2756.4,2211.3 2760.6,2218.2 2764.8,2219.1 2769.1,2223.2 2773.3,2220.5 2777.5,2215.9 2781.7,2210.9 2785.9,2215.9 2790.2,2220.5 2794.4,2226 2798.6,2223.7 2802.8,2220.9"/>
<polyline class="l" stroke="#ffa500" points="2039.2,2284.5 2043.4,2284.5 2047.6,2284.5 2051.8,2283.1 2056.1,2281.8 2060.3,2279.9 2064.5,2277.6 2068.7,2274.4 2072.9,2273.5 2077.2,2263.9 2081.4,2256.1 2085.6,2246.1 2089.8,2238.3 2094,2222.8 2098.2,2193.5 2102.5,2170.2 2106.7,2153.7 2110.9,2144.5 2115.1,2104.3 2119.3,2083.2 2123.6,2030.6 2127.8,2030.6 2132,2011 2136.2,1999.5 2140.4,1988.1 2144.7,1967.1 2148.9,1973.9 2153.1,1942.8 2157.3,1962 2161.5,1979 2165.8,1980.8 2170,1962.5 2174.2,1983.1 2178.4,2016.5 2182.6,2026.1 2186.8,2035.2 2191.1,2053.5 2195.3,2062.2 2199.5,2075.5 2203.7,2082.3 2207.9,2097.9 2212.2,2112.1 2216.4,2122.6 2220.6,2129.9 2224.8,2143.6 2229,2150.5 2233.3,2152.3 2237.5,2148.2 2241.7,2159.6 2245.9,2172.9 2250.1,2188 2254.4,2187.5 2258.6,2206.7 2262.8,2193 2267,2199 2271.2,2209 2275.4,2205.4 2279.7,2205.4 2283.9,2210.9 2288.1,2215.4 2292.3,2218.2 2296.5,2223.7 2300.8,2223.7 2305,2228.2 2309.2,2230.5 2313.4,2232.8 2317.6,2237.4 2321.9,2233.7 2326.1,2232.4 2330.3,2244.2 2334.5,2236.5 2338.7,2234.2 2342.9,2243.3 2347.2,2235.6 2351.4,2246.1 2355.6,2243.3 2359.8,2238.8 2364,2242.4 2368.3,2250.2 2372.5,2236.5 2376.7,2237.4 2380.9,2246.5 2385.1,2243.3 2389.4,2240.6 2393.6,2235.1 2397.8,2232.4 2402,2240.1 2406.2,2247.5 2410.5,2245.2 2414.7,2242 2418.9,2240.6 2423.1,2236.9 2427.3,2244.7 2431.5,2248.8 2435.8,2245.2 2440,2237.8 2444.2,2236.5 2448.4,2240.1 2452.6,2245.6 2456.9,2239.7 2461.1,2233.3 2465.3,2245.6 2469.5,2227.3 2473.7,2237.4 2478,2245.2 2482.2,2238.8 2486.4,2234.6 2490.6,2230.5 2494.8,2226.4 2499.1,2243.8 2503.3,2226.9 2507.5,2231 2511.7,2237.8 2515.9,2230.5 2520.1,2222.8 2524.4,2226.9 2528.6,2229.6 2532.8,2226.4 2537,2214.1 2541.2,2215.9 2545.5,2226.4 2549.7,2224.6 2553.9,2223.2 2558.1,2225 2562.3,2224.1 2566.6,2215.9 2570.8,2216.3 2575,2217.7 2579.2,2222.8 2583.4,2224.6 2587.6,2225.5 2591.9,2224.1 2596.1,2212.7 2600.3,2206.3 2604.5,2210.9 2608.7,2215.9 2613,2208.1 2617.2,2220.9 2621.4,2207.2 2625.6,2218.6 2629.8,2216.8 2634.1,2210.9 2638.3,2206.7 2642.5,2214.1 2646.7,2207.2 2650.9,2203.5 2655.2,2206.7 2659.4,2209.9 2663.6,2216.8 2667.8,2209.9 2672,2207.7 2676.2,2212.2 2680.5,2216.3 2684.7,2212.2 2688.9,2207.7 2693.1,2206.3 2697.3,2204.5 2701.6,2209.5 2705.8,2203.1 2710,2205.8 2714.2,2207.2 2718.4,2206.7 2722.7,2209.5 2726.9,2212.2 2731.1,2217.7 2735.3,2218.6 2739.5,2205.8 2743.8,2212.7 2748,2220.9 2752.2,2206.3 2756.4,2210.4 2760.6,2217.7 2764.8,2219.5 2769.1,2224.1 2773.3,2220.5 2777.5,2216.8 2781.7,2211.3 2785.9,2216.3 2790.2,2220.9 2794.4,2226 2798.6,2223.7 2802.8,2221.8"/>
<rect class="s" x="2001" y="1918" width="840" height="389"/>
<path class="s" d="M2039.2 2307v9.33M2144.7 2307v9.33M2250.1 2307v9.33M2355.6 2307v9.33M2461.1 2307v9.33M2566.6 2307v9.33M2672 2307v9.33M2777.5 2307v9.33M2001 2284.5h-9.33M2001 2193h-9.33M2001 2101.5h-9.33M2001 2010.1h-9.33M2001 1918.6h-9.33"/>
<g font-size="29.9">
<text x="2039.2" y="2345.9" text-anchor="middle" textLength="17" lengthAdjust="spacingAndGlyphs">0</text>
<text x="2144.7" y="2345.9" text-anchor="middle" textLength="33.9" lengthAdjust="spacingAndGlyphs">25</text>
<text x="2250.1" y="2345.9" text-anchor="middle" textLength="33.9" lengthAdjust="spacingAndGlyphs">50</text>
<text x="2355.6" y="2345.9" text-anchor="middle" textLength="33.9" lengthAdjust="spacingAndGlyphs">75</text>
<text x="2461.1" y="2345.9" text-anchor="middle" textLength="50.9" lengthAdjust="spacingAndGlyphs">100</text>
<text x="2566.6" y="2345.9" text-anchor="middle" textLength="50.9" lengthAdjust="spacingAndGlyphs">125</text>
<text x="2672" y="2345.9" text-anchor="middle" textLength="50.9" lengthAdjust="spacingAndGlyphs">150</text>
<text x="2777.5" y="2345.9" text-anchor="middle" textLength="50.9" lengthAdjust="spacingAndGlyphs">175</text>
<text x="1981.5" y="2294.2" text-anchor="end" textLength="17" lengthAdjust="spacingAndGlyphs">0</text>
<text x="1981.5" y="2202.7" text-anchor="end" textLength="50.9" lengthAdjust="spacingAndGlyphs">200</text>
<text x="1981.5" y="2111.2" text-anchor="end" textLength="50.9" lengthAdjust="spacingAndGlyphs">400</text>
<text x="1981.5" y="2019.8" text-anchor="end" textLength="50.9" lengthAdjust="spacingAndGlyphs">600</text>
<text x="1981.5" y="1928.3" text-anchor="end" textLength="50.9" lengthAdjust="spacingAndGlyphs">800</text>
<text x="2421" y="2382.6" text-anchor="middle" textLength="66.6" lengthAdjust="spacingAndGlyphs">Days</text>
</g>
<text y="1902" font-size="33.6"><tspan x="2086.5" textLength="85.4" lengthAdjust="spacingAndGlyphs">Pinal,</tspan> <tspan x="2183.1" textLength="42.8" lengthAdjust="spacingAndGlyphs">AZ</tspan> <tspan x="2237.1" textLength="89.4" lengthAdjust="spacingAndGlyphs">RMSE</tspan> <tspan x="2337.6" textLength="87.2" lengthAdjust="spacingAndGlyphs">EnKF:</tspan> <tspan x="2436" textLength="80.4" lengthAdjust="spacingAndGlyphs">4.34,</tspan> <tspan x="2527.6" textLength="89.4" lengthAdjust="spacingAndGlyphs">RMSE</tspan> <tspan x="2628.1" textLength="45" lengthAdjust="spacingAndGlyphs">PF:</tspan> <tspan x="2684.3" textLength="70.3" lengthAdjust="spacingAndGlyphs">4.64</tspan></text>
<g transform="translate(2606.2,1928.3)">
<rect class="lf" x="0" y="0" width="224.6" height="160.4" rx="4.3"/>
<path class="l" stroke="#000" d="M8.5 17.3H51.2"/>
<path class="l" stroke="#ffa500" d="M8.5 48.3H51.2"/>
<rect class="b" fill="#00f" stroke="#00f" x="8.5" y="71.5" width="42.67" height="14.93"/>
<rect class="b" fill="#008000" stroke="#008000" x="8.5" y="102.4" width="42.67" height="14.93"/>
<path class="d" d="M29.9 142.1h0"/>
<text y="24.6" font-size="22.4"><tspan x="68.3" textLength="59.5" lengthAdjust="spacingAndGlyphs">mean</tspan> <tspan x="135.6" textLength="19.6" lengthAdjust="spacingAndGlyphs">of</tspan> <tspan x="162.9" textLength="52.3" lengthAdjust="spacingAndGlyphs">EnKF</tspan></text>
<text y="55.6" font-size="22.4"><tspan x="68.3" textLength="59.5" lengthAdjust="spacingAndGlyphs">mean</tspan> <tspan x="135.6" textLength="19.6" lengthAdjust="spacingAndGlyphs">of</tspan> <tspan x="162.9" textLength="24.1" lengthAdjust="spacingAndGlyphs">PF</tspan></text>
<text y="86.3" font-size="22.4"><tspan x="68.3" textLength="46.4" lengthAdjust="spacingAndGlyphs">95%</tspan> <tspan x="122.5" textLength="20.2" lengthAdjust="spacingAndGlyphs">CI</tspan> <tspan x="150.4" textLength="52.3" lengthAdjust="spacingAndGlyphs">EnKF</tspan></text>
<text y="117.1" font-size="22.4"><tspan x="68.3" textLength="46.4" lengthAdjust="spacingAndGlyphs">95%</tspan> <tspan x="122.5" textLength="20.2" lengthAdjust="spacingAndGlyphs">CI</tspan> <tspan x="150.4" textLength="24.1" lengthAdjust="spacingAndGlyphs">PF</tspan></text>
<text y="147.8" font-size="22.4"><tspan x="68.3" textLength="47.1" lengthAdjust="spacingAndGlyphs">data</tspan></text>
</g>
</g>
<g>
<polygon class="b" fill="#00f" stroke="#00f" points="127.2,2791.8 131.4,2777.7 135.6,2772 139.8,2763.5 144.1,2766.3 148.3,2772 152.5,2766.3 156.7,2763.5 160.9,2763.5 165.2,2757.8 169.4,2757.8 173.6,2757.8 177.8,2746.4 182,2749.3 186.2,2737.9 190.5,2720.9 194.7,2701 198.9,2666.9 203.1,2652.7 207.3,2618.7 211.6,2604.5 215.8,2587.4 220,2544.9 224.2,2522.1 228.4,2530.7 232.7,2485.2 236.9,2490.9 241.1,2479.6 245.3,2496.6 249.5,2490.9 253.8,2496.6 258,2544.9 262.2,2533.5 266.4,2539.2 270.6,2567.6 274.8,2559.1 279.1,2598.8 283.3,2593.1 287.5,2613 291.7,2624.3 295.9,2644.2 300.2,2661.3 304.4,2669.8 308.6,2678.3 312.8,2681.1 317,2695.3 321.3,2698.2 325.5,2701 329.7,2703.8 333.9,2720.9 338.1,2723.7 342.4,2726.6 346.6,2729.4 350.8,2740.7 355,2735.1 359.2,2735.1 363.4,2743.6 367.7,2754.9 371.9,2754.9 376.1,2754.9 380.3,2754.9 384.5,2760.6 388.8,2757.8 393,2763.5 397.2,2763.5 401.4,2760.6 405.6,2766.3 409.9,2763.5 414.1,2772 418.3,2772 422.5,2772 426.7,2772 430.9,2774.8 435.2,2774.8 439.4,2766.3 443.6,2772 447.8,2777.7 452,2774.8 456.3,2774.8 460.5,2766.3 464.7,2769.1 468.9,2772 473.1,2777.7 477.4,2774.8 481.6,2772 485.8,2777.7 490,2777.7 494.2,2774.8 498.5,2774.8 502.7,2774.8 506.9,2774.8 511.1,2772 515.3,2769.1 519.5,2774.8 523.8,2772 528,2774.8 532.2,2772 536.4,2774.8 540.6,2766.3 544.9,2772 549.1,2774.8 553.3,2769.1 557.5,2769.1 561.7,2772 566,2772 570.2,2769.1 574.4,2769.1 578.6,2763.5 582.8,2766.3 587.1,2766.3 591.3,2766.3 595.5,2763.5 599.7,2754.9 603.9,2757.8 608.1,2754.9 612.4,2752.1 616.6,2752.1 620.8,2749.3 625,2749.3 629.2,2749.3 633.5,2749.3 637.7,2749.3 641.9,2746.4 646.1,2746.4 650.3,2737.9 654.6,2735.1 658.8,2732.2 663,2735.1 667.2,2735.1 671.4,2732.2 675.6,2726.6 679.9,2726.6 684.1,2726.6 688.3,2715.2 692.5,2712.4 696.7,2723.7 701,2729.4 705.2,2715.2 709.4,2709.5 713.6,2712.4 717.8,2715.2 722.1,2723.7 726.3,2718 730.5,2720.9 734.7,2718 738.9,2723.7 743.2,2726.6 747.4,2723.7 751.6,2723.7 755.8,2718 760,2723.7 764.2,2720.9 768.5,2720.9 772.7,2720.9 776.9,2715.2 781.1,2720.9 785.3,2726.6 789.6,2735.1 793.8,2732.2 798,2732.2 802.2,2732.2 806.4,2723.7 810.7,2732.2 814.9,2740.7 819.1,2732.2 823.3,2735.1 827.5,2737.9 831.8,2740.7 836,2735.1 840.2,2735.1 844.4,2743.6 848.6,2737.9 852.8,2743.6 857.1,2746.4 861.3,2743.6 865.5,2740.7 869.7,2746.4 873.9,2746.4 878.2,2746.4 882.4,2752.1 886.6,2752.1 890.8,2749.3 890.8,2800.4 886.6,2803.2 882.4,2800.4 878.2,2797.5 873.9,2800.4 869.7,2806 865.5,2794.7 861.3,2797.5 857.1,2797.5 852.8,2800.4 848.6,2794.7 844.4,2794.7 840.2,2786.2 836,2791.8 831.8,2800.4 827.5,2791.8 823.3,2789 819.1,2786.2 814.9,2791.8 810.7,2800.4 806.4,2789 802.2,2783.3 798,2791.8 793.8,2786.2 789.6,2789 785.3,2780.5 781.1,2783.3 776.9,2780.5 772.7,2783.3 768.5,2783.3 764.2,2780.5 760,2783.3 755.8,2772 751.6,2777.7 747.4,2777.7 743.2,2780.5 738.9,2777.7 734.7,2783.3 730.5,2780.5 726.3,2777.7 722.1,2786.2 717.8,2777.7 713.6,2777.7 709.4,2772 705.2,2774.8 701,2777.7 696.7,2791.8 692.5,2772 688.3,2772 684.1,2774.8 679.9,2769.1 675.6,2783.3 671.4,2789 667.2,2797.5 663,2794.7 658.8,2791.8 654.6,2786.2 650.3,2783.3 646.1,2789 641.9,2794.7 637.7,2794.7 633.5,2803.2 629.2,2806 625,2800.4 620.8,2803.2 616.6,2797.5 612.4,2794.7 608.1,2806 603.9,2800.4 599.7,2803.2 595.5,2800.4 591.3,2803.2 587.1,2806 582.8,2806 578.6,2806 574.4,2808.9 570.2,2803.2 566,2811.7 561.7,2811.7 557.5,2806 553.3,2811.7 549.1,2808.9 544.9,2811.7 540.6,2806 536.4,2803.2 532.2,2808.9 528,2808.9 523.8,2814.6 519.5,2814.6 515.3,2806 511.1,2817.4 506.9,2814.6 502.7,2811.7 498.5,2814.6 494.2,2814.6 490,2811.7 485.8,2811.7 481.6,2808.9 477.4,2811.7 473.1,2811.7 468.9,2817.4 464.7,2811.7 460.5,2814.6 456.3,2817.4 452,2814.6 447.8,2811.7 443.6,2811.7 439.4,2806 435.2,2808.9 430.9,2806 426.7,2806 422.5,2806 418.3,2808.9 414.1,2811.7 409.9,2808.9 405.6,2808.9 401.4,2800.4 397.2,2803.2 393,2797.5 388.8,2797.5 384.5,2797.5 380.3,2797.5 376.1,2797.5 371.9,2797.5 367.7,2794.7 363.4,2789 359.2,2786.2 355,2783.3 350.8,2783.3 346.6,2769.1 342.4,2777.7 338.1,2774.8 333.9,2769.1 329.7,2760.6 325.5,2754.9 321.3,2754.9 317,2754.9 312.8,2740.7 308.6,2737.9 304.4,2729.4 300.2,2720.9 295.9,2712.4 291.7,2692.5 287.5,2675.5 283.3,2666.9 279.1,2664.1 274.8,2638.5 270.6,2644.2 266.4,2618.7 262.2,2613 258,2624.3 253.8,2578.9 249.5,2578.9 245.3,2584.6 241.1,2567.6 236.9,2578.9 232.7,2570.4 228.4,2610.2 224.2,2604.5 220,2624.3 215.8,2661.3 211.6,2678.3 207.3,2689.6 203.1,2720.9 198.9,2732.2 194.7,2746.4 190.5,2783.3 186.2,2797.5 182,2806 177.8,2811.7 173.6,2820.2 169.4,2817.4 165.2,2817.4 160.9,2825.9 156.7,2817.4 152.5,2820.2 148.3,2823.1 144.1,2820.2 139.8,2817.4 135.6,2820.2 131.4,2825.9 127.2,2828.8"/>
<polygon class="b" fill="#008000" stroke="#008000" points="127.2,2806 131.4,2803.2 135.6,2800.4 139.8,2794.7 144.1,2791.8 148.3,2789 152.5,2789 156.7,2783.3 160.9,2783.3 165.2,2780.5 169.4,2774.8 173.6,2777.7 177.8,2766.3 182,2760.6 186.2,2752.1 190.5,2737.9 194.7,2701 198.9,2669.8 203.1,2652.7 207.3,2618.7 211.6,2601.6 215.8,2584.6 220,2547.7 224.2,2522.1 228.4,2525 232.7,2485.2 236.9,2490.9 241.1,2479.6 245.3,2496.6 249.5,2488.1 253.8,2493.8 258,2542 262.2,2530.7 266.4,2539.2 270.6,2564.7 274.8,2559.1 279.1,2596 283.3,2590.3 287.5,2607.3 291.7,2621.5 295.9,2641.4 300.2,2661.3 304.4,2669.8 308.6,2672.6 312.8,2681.1 317,2698.2 321.3,2698.2 325.5,2703.8 329.7,2706.7 333.9,2720.9 338.1,2723.7 342.4,2729.4 346.6,2723.7 350.8,2735.1 355,2735.1 359.2,2737.9 363.4,2743.6 367.7,2754.9 371.9,2752.1 376.1,2752.1 380.3,2752.1 384.5,2760.6 388.8,2757.8 393,2760.6 397.2,2760.6 401.4,2763.5 405.6,2763.5 409.9,2763.5 414.1,2774.8 418.3,2769.1 422.5,2772 426.7,2772 430.9,2774.8 435.2,2769.1 439.4,2772 443.6,2774.8 447.8,2780.5 452,2774.8 456.3,2774.8 460.5,2769.1 464.7,2769.1 468.9,2774.8 473.1,2777.7 477.4,2777.7 481.6,2774.8 485.8,2780.5 490,2780.5 494.2,2766.3 498.5,2772 502.7,2774.8 506.9,2777.7 511.1,2772 515.3,2774.8 519.5,2772 523.8,2769.1 528,2774.8 532.2,2774.8 536.4,2774.8 540.6,2772 544.9,2772 549.1,2769.1 553.3,2769.1 557.5,2769.1 561.7,2769.1 566,2763.5 570.2,2769.1 574.4,2766.3 578.6,2760.6 582.8,2763.5 587.1,2766.3 591.3,2766.3 595.5,2760.6 599.7,2752.1 603.9,2757.8 608.1,2754.9 612.4,2752.1 616.6,2754.9 620.8,2749.3 625,2749.3 629.2,2749.3 633.5,2749.3 637.7,2749.3 641.9,2752.1 646.1,2746.4 650.3,2737.9 654.6,2732.2 658.8,2732.2 663,2737.9 667.2,2735.1 671.4,2732.2 675.6,2729.4 679.9,2726.6 684.1,2726.6 688.3,2715.2 692.5,2712.4 696.7,2726.6 701,2723.7 705.2,2715.2 709.4,2706.7 713.6,2715.2 717.8,2709.5 722.1,2720.9 726.3,2718 730.5,2720.9 734.7,2715.2 738.9,2720.9 743.2,2720.9 747.4,2723.7 751.6,2720.9 755.8,2715.2 760,2720.9 764.2,2720.9 768.5,2723.7 772.7,2720.9 776.9,2718 781.1,2723.7 785.3,2720.9 789.6,2732.2 793.8,2732.2 798,2726.6 802.2,2732.2 806.4,2723.7 810.7,2735.1 814.9,2735.1 819.1,2732.2 823.3,2729.4 827.5,2735.1 831.8,2740.7 836,2735.1 840.2,2732.2 844.4,2743.6 848.6,2743.6 852.8,2743.6 857.1,2740.7 861.3,2737.9 865.5,2743.6 869.7,2746.4 873.9,2746.4 878.2,2743.6 882.4,2749.3 886.6,2749.3 890.8,2743.6 890.8,2800.4 886.6,2800.4 882.4,2800.4 878.2,2794.7 873.9,2800.4 869.7,2800.4 865.5,2797.5 861.3,2797.5 857.1,2797.5 852.8,2800.4 848.6,2794.7 844.4,2797.5 840.2,2789 836,2794.7 831.8,2803.2 827.5,2791.8 823.3,2789 819.1,2786.2 814.9,2791.8 810.7,2800.4 806.4,2786.2 802.2,2783.3 798,2791.8 793.8,2791.8 789.6,2791.8 785.3,2780.5 781.1,2783.3 776.9,2780.5 772.7,2783.3 768.5,2786.2 764.2,2783.3 760,2786.2 755.8,2772 751.6,2777.7 747.4,2783.3 743.2,2783.3 738.9,2780.5 734.7,2783.3 730.5,2783.3 726.3,2780.5 722.1,2789 717.8,2780.5 713.6,2780.5 709.4,2772 705.2,2772 701,2777.7 696.7,2789 692.5,2772 688.3,2772 684.1,2772 679.9,2772 675.6,2780.5 671.4,2786.2 667.2,2797.5 663,2794.7 658.8,2791.8 654.6,2786.2 650.3,2783.3 646.1,2794.7 641.9,2800.4 637.7,2794.7 633.5,2797.5 629.2,2803.2 625,2797.5 620.8,2800.4 616.6,2797.5 612.4,2800.4 608.1,2808.9 603.9,2800.4 599.7,2803.2 595.5,2800.4 591.3,2806 587.1,2800.4 582.8,2803.2 578.6,2806 574.4,2806 570.2,2806 566,2808.9 561.7,2808.9 557.5,2808.9 553.3,2811.7 549.1,2808.9 544.9,2811.7 540.6,2806 536.4,2803.2 532.2,2808.9 528,2808.9 523.8,2817.4 519.5,2817.4 515.3,2811.7 511.1,2817.4 506.9,2811.7 502.7,2808.9 498.5,2817.4 494.2,2817.4 490,2817.4 485.8,2811.7 481.6,2811.7 477.4,2808.9 473.1,2806 468.9,2817.4 464.7,2811.7 460.5,2811.7 456.3,2814.6 452,2811.7 447.8,2811.7 443.6,2811.7 439.4,2806 435.2,2811.7 430.9,2806 426.7,2808.9 422.5,2811.7 418.3,2808.9 414.1,2808.9 409.9,2806 405.6,2803.2 401.4,2803.2 397.2,2806 393,2797.5 388.8,2800.4 384.5,2800.4 380.3,2800.4 376.1,2794.7 371.9,2797.5 367.7,2797.5 363.4,2791.8 359.2,2786.2 355,2789 350.8,2783.3 346.6,2769.1 342.4,2780.5 338.1,2777.7 333.9,2769.1 329.7,2763.5 325.5,2757.8 321.3,2754.9 317,2752.1 312.8,2737.9 308.6,2737.9 304.4,2729.4 300.2,2723.7 295.9,2712.4 291.7,2692.5 287.5,2672.6 283.3,2664.1 279.1,2666.9 274.8,2638.5 270.6,2649.9 266.4,2621.5 262.2,2613 258,2621.5 253.8,2578.9 249.5,2578.9 245.3,2581.8 241.1,2561.9 236.9,2576.1 232.7,2570.4 228.4,2610.2 224.2,2604.5 220,2627.2 215.8,2655.6 211.6,2678.3 207.3,2689.6 203.1,2720.9 198.9,2729.4 194.7,2743.6 190.5,2817.4 186.2,2817.4 182,2817.4 177.8,2817.4 173.6,2817.4 169.4,2817.4 165.2,2817.4 160.9,2817.4 156.7,2817.4 152.5,2817.4 148.3,2817.4 144.1,2817.4 139.8,2817.4 135.6,2817.4 131.4,2817.4 127.2,2817.4"/>
<path class="d" d="M127.2 2817.4h0M131.4 2814.6h0M135.6 2817.4h0M139.8 2811.7h0M144.1 2817.4h0M148.3 2808.9h0M152.5 2808.9h0M156.7 2814.6h0M160.9 2786.2h0M165.2 2789h0M169.4 2806h0M173.6 2814.6h0M177.8 2797.5h0M182 2772h0M186.2 2757.8h0M190.5 2772h0M194.7 2709.5h0M198.9 2695.3h0M203.1 2703.8h0M207.3 2658.4h0M211.6 2632.9h0M215.8 2638.5h0M220 2584.6h0M224.2 2564.7h0M228.4 2593.1h0M232.7 2510.8h0M236.9 2516.5h0M241.1 2525h0M245.3 2525h0M249.5 2510.8h0M253.8 2553.4h0M258 2587.4h0M262.2 2587.4h0M266.4 2604.5h0M270.6 2615.8h0M274.8 2613h0M279.1 2630h0M283.3 2613h0M287.5 2652.7h0M291.7 2647.1h0M295.9 2686.8h0M300.2 2678.3h0M304.4 2698.2h0M308.6 2692.5h0M312.8 2698.2h0M317 2712.4h0M321.3 2737.9h0M325.5 2740.7h0M329.7 2743.6h0M333.9 2740.7h0M338.1 2743.6h0M342.4 2766.3h0M346.6 2757.8h0M350.8 2743.6h0M355 2786.2h0M359.2 2772h0M363.4 2772h0M367.7 2769.1h0M371.9 2780.5h0M376.1 2777.7h0M380.3 2789h0M384.5 2766.3h0M388.8 2777.7h0M393 2777.7h0M397.2 2772h0M401.4 2783.3h0M405.6 2803.2h0M409.9 2769.1h0M414.1 2797.5h0M418.3 2777.7h0M422.5 2791.8h0M426.7 2777.7h0M430.9 2786.2h0M435.2 2786.2h0M439.4 2777.7h0M443.6 2791.8h0M447.8 2791.8h0M452 2786.2h0M456.3 2806h0M460.5 2800.4h0M464.7 2800.4h0M468.9 2783.3h0M473.1 2794.7h0M477.4 2789h0M481.6 2794.7h0M485.8 2797.5h0M490 2794.7h0M494.2 2780.5h0M498.5 2780.5h0M502.7 2806h0M506.9 2800.4h0M511.1 2797.5h0M515.3 2797.5h0M519.5 2794.7h0M523.8 2817.4h0M528 2780.5h0M532.2 2774.8h0M536.4 2800.4h0M540.6 2794.7h0M544.9 2803.2h0M549.1 2791.8h0M553.3 2794.7h0M557.5 2786.2h0M561.7 2786.2h0M566 2791.8h0M570.2 2791.8h0M574.4 2777.7h0M578.6 2783.3h0M582.8 2794.7h0M587.1 2797.5h0M591.3 2791.8h0M595.5 2789h0M599.7 2783.3h0M603.9 2777.7h0M608.1 2783.3h0M612.4 2757.8h0M616.6 2803.2h0M620.8 2783.3h0M625 2766.3h0M629.2 2774.8h0M633.5 2757.8h0M637.7 2757.8h0M641.9 2783.3h0M646.1 2760.6h0M650.3 2752.1h0M654.6 2760.6h0M658.8 2754.9h0M663 2777.7h0M667.2 2772h0M671.4 2757.8h0M675.6 2757.8h0M679.9 2752.1h0M684.1 2754.9h0M688.3 2746.4h0M692.5 2732.2h0M696.7 2737.9h0M701 2749.3h0M705.2 2769.1h0M709.4 2746.4h0M713.6 2752.1h0M717.8 2746.4h0M722.1 2746.4h0M726.3 2735.1h0M730.5 2757.8h0M734.7 2740.7h0M738.9 2743.6h0M743.2 2737.9h0M747.4 2737.9h0M751.6 2769.1h0M755.8 2757.8h0M760 2737.9h0M764.2 2746.4h0M768.5 2757.8h0M772.7 2760.6h0M776.9 2754.9h0M781.1 2746.4h0M785.3 2760.6h0M789.6 2766.3h0M793.8 2743.6h0M798 2763.5h0M802.2 2740.7h0M806.4 2766.3h0M810.7 2800.4h0M814.9 2789h0M819.1 2737.9h0M823.3 2760.6h0M827.5 2760.6h0M831.8 2752.1h0M836 2766.3h0M840.2 2766.3h0M844.4 2752.1h0M848.6 2774.8h0M852.8 2772h0M857.1 2763.5h0M861.3 2774.8h0M865.5 2774.8h0M869.7 2772h0M873.9 2780.5h0M878.2 2777.7h0M882.4 2760.6h0M886.6 2783.3h0M890.8 2757.8h0"/>
<polyline class="l k" stroke="#000" points="127.2,2817.4 131.4,2814.6 135.6,2811.7 139.8,2808.9 144.1,2806 148.3,2803.2 152.5,2803.2 156.7,2803.2 160.9,2800.4 165.2,2800.4 169.4,2797.5 173.6,2794.7 177.8,2786.2 182,2783.3 186.2,2772 190.5,2757.8 194.7,2723.7 198.9,2698.2 203.1,2686.8 207.3,2652.7 211.6,2641.4 215.8,2621.5 220,2587.4 224.2,2561.9 228.4,2567.6 232.7,2527.8 236.9,2530.7 241.1,2522.1 245.3,2539.2 249.5,2533.5 253.8,2539.2 258,2584.6 262.2,2573.2 266.4,2581.8 270.6,2604.5 274.8,2601.6 279.1,2630 283.3,2627.2 287.5,2641.4 291.7,2658.4 295.9,2681.1 300.2,2692.5 304.4,2698.2 308.6,2703.8 312.8,2706.7 317,2723.7 321.3,2726.6 325.5,2732.2 329.7,2735.1 333.9,2743.6 338.1,2749.3 342.4,2752.1 346.6,2746.4 350.8,2760.6 355,2763.5 359.2,2763.5 363.4,2769.1 367.7,2772 371.9,2774.8 376.1,2774.8 380.3,2774.8 384.5,2777.7 388.8,2777.7 393,2777.7 397.2,2780.5 401.4,2780.5 405.6,2783.3 409.9,2786.2 414.1,2789 418.3,2789 422.5,2789 426.7,2789 430.9,2789 435.2,2789 439.4,2789 443.6,2791.8 447.8,2791.8 452,2791.8 456.3,2791.8 460.5,2791.8 464.7,2791.8 468.9,2794.7 473.1,2791.8 477.4,2791.8 481.6,2791.8 485.8,2794.7 490,2794.7 494.2,2791.8 498.5,2794.7 502.7,2794.7 506.9,2794.7 511.1,2794.7 515.3,2791.8 519.5,2791.8 523.8,2791.8 528,2791.8 532.2,2791.8 536.4,2791.8 540.6,2791.8 544.9,2791.8 549.1,2791.8 553.3,2789 557.5,2789 561.7,2789 566,2789 570.2,2789 574.4,2789 578.6,2786.2 582.8,2786.2 587.1,2786.2 591.3,2783.3 595.5,2780.5 599.7,2780.5 603.9,2777.7 608.1,2777.7 612.4,2777.7 616.6,2774.8 620.8,2774.8 625,2772 629.2,2774.8 633.5,2772 637.7,2774.8 641.9,2774.8 646.1,2772 650.3,2766.3 654.6,2763.5 658.8,2763.5 663,2766.3 667.2,2763.5 671.4,2757.8 675.6,2754.9 679.9,2749.3 684.1,2752.1 688.3,2749.3 692.5,2740.7 696.7,2754.9 701,2752.1 705.2,2746.4 709.4,2743.6 713.6,2749.3 717.8,2749.3 722.1,2749.3 726.3,2749.3 730.5,2749.3 734.7,2749.3 738.9,2749.3 743.2,2749.3 747.4,2752.1 751.6,2749.3 755.8,2749.3 760,2752.1 764.2,2752.1 768.5,2752.1 772.7,2752.1 776.9,2749.3 781.1,2754.9 785.3,2754.9 789.6,2760.6 793.8,2760.6 798,2760.6 802.2,2757.8 806.4,2757.8 810.7,2766.3 814.9,2766.3 819.1,2763.5 823.3,2760.6 827.5,2763.5 831.8,2769.1 836,2766.3 840.2,2760.6 844.4,2766.3 848.6,2766.3 852.8,2769.1 857.1,2769.1 861.3,2769.1 865.5,2772 869.7,2774.8 873.9,2772 878.2,2772 882.4,2772 886.6,2774.8 890.8,2772"/>
<polyline class="l" stroke="#ffa500" points="127.2,2817.4 131.4,2817.4 135.6,2817.4 139.8,2817.4 144.1,2817.4 148.3,2817.4 152.5,2817.4 156.7,2817.4 160.9,2817.4 165.2,2817.4 169.4,2817.4 173.6,2817.4 177.8,2786.2 182,2783.3 186.2,2772 190.5,2754.9 194.7,2723.7 198.9,2698.2 203.1,2686.8 207.3,2652.7 211.6,2641.4 215.8,2621.5 220,2587.4 224.2,2561.9 228.4,2567.6 232.7,2527.8 236.9,2530.7 241.1,2522.1 245.3,2539.2 249.5,2533.5 253.8,2539.2 258,2584.6 262.2,2573.2 266.4,2578.9 270.6,2604.5 274.8,2601.6 279.1,2630 283.3,2627.2 287.5,2641.4 291.7,2661.3 295.9,2681.1 300.2,2689.6 304.4,2698.2 308.6,2703.8 312.8,2706.7 317,2723.7 321.3,2726.6 325.5,2732.2 329.7,2735.1 333.9,2740.7 338.1,2749.3 342.4,2754.9 346.6,2746.4 350.8,2760.6 355,2763.5 359.2,2760.6 363.4,2772 367.7,2772 371.9,2774.8 376.1,2774.8 380.3,2774.8 384.5,2777.7 388.8,2777.7 393,2780.5 397.2,2780.5 401.4,2780.5 405.6,2783.3 409.9,2786.2 414.1,2791.8 418.3,2789 422.5,2789 426.7,2789 430.9,2789 435.2,2786.2 439.4,2789 443.6,2791.8 447.8,2791.8 452,2791.8 456.3,2791.8 460.5,2791.8 464.7,2791.8 468.9,2794.7 473.1,2791.8 477.4,2791.8 481.6,2791.8 485.8,2794.7 490,2794.7 494.2,2791.8 498.5,2794.7 502.7,2794.7 506.9,2794.7 511.1,2791.8 515.3,2794.7 519.5,2794.7 523.8,2794.7 528,2791.8 532.2,2791.8 536.4,2791.8 540.6,2794.7 544.9,2791.8 549.1,2791.8 553.3,2789 557.5,2786.2 561.7,2791.8 566,2789 570.2,2786.2 574.4,2789 578.6,2786.2 582.8,2786.2 587.1,2786.2 591.3,2783.3 595.5,2780.5 599.7,2780.5 603.9,2780.5 608.1,2777.7 612.4,2774.8 616.6,2774.8 620.8,2774.8 625,2772 629.2,2774.8 633.5,2774.8 637.7,2772 641.9,2774.8 646.1,2772 650.3,2763.5 654.6,2760.6 658.8,2760.6 663,2766.3 667.2,2763.5 671.4,2757.8 675.6,2754.9 679.9,2752.1 684.1,2749.3 688.3,2746.4 692.5,2740.7 696.7,2754.9 701,2752.1 705.2,2743.6 709.4,2743.6 713.6,2746.4 717.8,2749.3 722.1,2749.3 726.3,2749.3 730.5,2749.3 734.7,2746.4 738.9,2746.4 743.2,2749.3 747.4,2752.1 751.6,2749.3 755.8,2752.1 760,2754.9 764.2,2749.3 768.5,2752.1 772.7,2749.3 776.9,2752.1 781.1,2752.1 785.3,2754.9 789.6,2760.6 793.8,2760.6 798,2760.6 802.2,2757.8 806.4,2757.8 810.7,2763.5 814.9,2766.3 819.1,2760.6 823.3,2760.6 827.5,2763.5 831.8,2766.3 836,2766.3 840.2,2760.6 844.4,2766.3 848.6,2766.3 852.8,2769.1 857.1,2769.1 861.3,2772 865.5,2772 869.7,2772 873.9,2772 878.2,2772 882.4,2774.8 886.6,2777.7 890.8,2772"/>
<rect class="s" x="89" y="2457" width="840" height="389"/>
<path class="s" d="M127.2 2846v9.33M232.7 2846v9.33M338.1 2846v9.33M443.6 2846v9.33M549.1 2846v9.33M654.6 2846v9.33M760 2846v9.33M865.5 2846v9.33M89 2817.4h-9.33M89 2760.6h-9.33M89 2703.8h-9.33M89 2647.1h-9.33M89 2590.3h-9.33M89 2533.5h-9.33M89 2476.7h-9.33"/>
<g font-size="29.9">
<text x="127.2" y="2884.9" text-anchor="middle" textLength="17" lengthAdjust="spacingAndGlyphs">0</text>
<text x="232.7" y="2884.9" text-anchor="middle" textLength="33.9" lengthAdjust="spacingAndGlyphs">25</text>
<text x="338.1" y="2884.9" text-anchor="middle" textLength="33.9" lengthAdjust="spacingAndGlyphs">50</text>
<text x="443.6" y="2884.9" text-anchor="middle" textLength="33.9" lengthAdjust="spacingAndGlyphs">75</text>
<text x="549.1" y="2884.9" text-anchor="middle" textLength="50.9" lengthAdjust="spacingAndGlyphs">100</text>
<text x="654.6" y="2884.9" text-anchor="middle" textLength="50.9" lengthAdjust="spacingAndGlyphs">125</text>
<text x="760" y="2884.9" text-anchor="middle" textLength="50.9" lengthAdjust="spacingAndGlyphs">150</text>
<text x="865.5" y="2884.9" text-anchor="middle" textLength="50.9" lengthAdjust="spacingAndGlyphs">175</text>
<text x="69.5" y="2827.1" text-anchor="end" textLength="17" lengthAdjust="spacingAndGlyphs">0</text>
<text x="69.5" y="2770.3" text-anchor="end" textLength="33.9" lengthAdjust="spacingAndGlyphs">20</text>
<text x="69.5" y="2713.5" text-anchor="end" textLength="33.9" lengthAdjust="spacingAndGlyphs">40</text>
<text x="69.5" y="2656.8" text-anchor="end" textLength="33.9" lengthAdjust="spacingAndGlyphs">60</text>
<text x="69.5" y="2600" text-anchor="end" textLength="33.9" lengthAdjust="spacingAndGlyphs">80</text>
<text x="69.5" y="2543.2" text-anchor="end" textLength="50.9" lengthAdjust="spacingAndGlyphs">100</text>
<text x="69.5" y="2486.4" text-anchor="end" textLength="50.9" lengthAdjust="spacingAndGlyphs">120</text>
<text x="509" y="2921.6" text-anchor="middle" textLength="66.6" lengthAdjust="spacingAndGlyphs">Days</text>
</g>
<text y="2441" font-size="33.6"><tspan x="125" textLength="91.4" lengthAdjust="spacingAndGlyphs">Santa</tspan> <tspan x="227.6" textLength="81.8" lengthAdjust="spacingAndGlyphs">Cruz,</tspan> <tspan x="320.5" textLength="42.8" lengthAdjust="spacingAndGlyphs">AZ</tspan> <tspan x="374.5" textLength="89.4" lengthAdjust="spacingAndGlyphs">RMSE</tspan> <tspan x="475" textLength="87.2" lengthAdjust="spacingAndGlyphs">EnKF:</tspan> <tspan x="573.4" textLength="80.4" lengthAdjust="spacingAndGlyphs">3.74,</tspan> <tspan x="665" textLength="89.4" lengthAdjust="spacingAndGlyphs">RMSE</tspan> <tspan x="765.5" textLength="45" lengthAdjust="spacingAndGlyphs">PF:</tspan> <tspan x="821.7" textLength="70.3" lengthAdjust="spacingAndGlyphs">3.92</tspan></text>
<g transform="translate(694.2,2467.3)">
<rect class="lf" x="0" y="0" width="224.6" height="160.4" rx="4.3"/>
<path class="l" stroke="#000" d="M8.5 17.3H51.2"/>
<path class="l" stroke="#ffa500" d="M8.5 48.3H51.2"/>
<rect class="b" fill="#00f" stroke="#00f" x="8.5" y="71.5" width="42.67" height="14.93"/>
<rect class="b" fill="#008000" stroke="#008000" x="8.5" y="102.4" width="42.67" height="14.93"/>
<path class="d" d="M29.9 142.1h0"/>
<text y="24.6" font-size="22.4"><tspan x="68.3" textLength="59.5" lengthAdjust="spacingAndGlyphs">mean</tspan> <tspan x="135.6" textLength="19.6" lengthAdjust="spacingAndGlyphs">of</tspan> <tspan x="162.9" textLength="52.3" lengthAdjust="spacingAndGlyphs">EnKF</tspan></text>
<text y="55.6" font-size="22.4"><tspan x="68.3" textLength="59.5" lengthAdjust="spacingAndGlyphs">mean</tspan> <tspan x="135.6" textLength="19.6" lengthAdjust="spacingAndGlyphs">of</tspan> <tspan x="162.9" textLength="24.1" lengthAdjust="spacingAndGlyphs">PF</tspan></text>
<text y="86.3" font-size="22.4"><tspan x="68.3" textLength="46.4" lengthAdjust="spacingAndGlyphs">95%</tspan> <tspan x="122.5" textLength="20.2" lengthAdjust="spacingAndGlyphs">CI</tspan> <tspan x="150.4" textLength="52.3" lengthAdjust="spacingAndGlyphs">EnKF</tspan></text>
<text y="117.1" font-size="22.4"><tspan x="68.3" textLength="46.4" lengthAdjust="spacingAndGlyphs">95%</tspan> <tspan x="122.5" textLength="20.2" lengthAdjust="spacingAndGlyphs">CI</tspan> <tspan x="150.4" textLength="24.1" lengthAdjust="spacingAndGlyphs">PF</tspan></text>
<text y="147.8" font-size="22.4"><tspan x="68.3" textLength="47.1" lengthAdjust="spacingAndGlyphs">data</tspan></text>
</g>
</g>
<g>
<polygon class="b" fill="#00f" stroke="#00f" points="1083.2,2804.5 1087.4,2804.5 1091.6,2801.1 1095.8,2805.3 1100.1,2803.6 1104.3,2803.6 1108.5,2802 1112.7,2798.6 1116.9,2799.5 1121.2,2796.1 1125.4,2793.6 1129.6,2792 1133.8,2782 1138,2777.8 1142.2,2766.1 1146.5,2761.1 1150.7,2758.6 1154.9,2746.9 1159.1,2735.3 1163.3,2695.2 1167.6,2701.9 1171.8,2674.4 1176,2661.9 1180.2,2646 1184.4,2619.3 1188.7,2598.5 1192.9,2598.5 1197.1,2573.4 1201.3,2554.3 1205.5,2540.1 1209.8,2534.2 1214,2483.4 1218.2,2497.5 1222.4,2473.3 1226.6,2483.4 1230.8,2495.9 1235.1,2527.6 1239.3,2511.7 1243.5,2499.2 1247.7,2520.9 1251.9,2533.4 1256.2,2562.6 1260.4,2575.9 1264.6,2592.6 1268.8,2599.3 1273,2626 1277.3,2607.6 1281.5,2634.3 1285.7,2634.3 1289.9,2659.4 1294.1,2669.4 1298.4,2682.7 1302.6,2691 1306.8,2678.5 1311,2697.7 1315.2,2686 1319.4,2701.9 1323.7,2706.9 1327.9,2712.7 1332.1,2720.2 1336.3,2729.4 1340.5,2732.8 1344.8,2738.6 1349,2741.9 1353.2,2739.4 1357.4,2745.3 1361.6,2751.9 1365.9,2750.3 1370.1,2750.3 1374.3,2756.1 1378.5,2757.8 1382.7,2754.4 1386.9,2755.3 1391.2,2758.6 1395.4,2761.1 1399.6,2761.9 1403.8,2755.3 1408,2759.4 1412.3,2766.1 1416.5,2764.4 1420.7,2766.1 1424.9,2761.9 1429.1,2763.6 1433.4,2763.6 1437.6,2764.4 1441.8,2762.8 1446,2761.9 1450.2,2762.8 1454.5,2767.8 1458.7,2770.3 1462.9,2764.4 1467.1,2761.9 1471.3,2761.1 1475.5,2761.9 1479.8,2762.8 1484,2762.8 1488.2,2764.4 1492.4,2761.1 1496.6,2752.8 1500.9,2746.1 1505.1,2749.4 1509.3,2748.6 1513.5,2749.4 1517.7,2752.8 1522,2742.8 1526.2,2741.1 1530.4,2744.4 1534.6,2751.1 1538.8,2748.6 1543.1,2746.9 1547.3,2745.3 1551.5,2740.3 1555.7,2735.3 1559.9,2731.9 1564.1,2725.2 1568.4,2723.6 1572.6,2729.4 1576.8,2729.4 1581,2728.6 1585.2,2728.6 1589.5,2730.2 1593.7,2732.8 1597.9,2726.9 1602.1,2728.6 1606.3,2730.2 1610.6,2721.1 1614.8,2721.1 1619,2721.1 1623.2,2724.4 1627.4,2726.1 1631.6,2724.4 1635.9,2726.1 1640.1,2720.2 1644.3,2725.2 1648.5,2727.7 1652.7,2725.2 1657,2723.6 1661.2,2734.4 1665.4,2743.6 1669.6,2746.1 1673.8,2745.3 1678.1,2742.8 1682.3,2742.8 1686.5,2737.8 1690.7,2737.8 1694.9,2736.1 1699.2,2745.3 1703.4,2755.3 1707.6,2751.1 1711.8,2756.9 1716,2753.6 1720.2,2756.9 1724.5,2751.9 1728.7,2752.8 1732.9,2754.4 1737.1,2754.4 1741.3,2751.9 1745.6,2748.6 1749.8,2747.8 1754,2754.4 1758.2,2749.4 1762.4,2750.3 1766.7,2746.9 1770.9,2748.6 1775.1,2747.8 1779.3,2747.8 1783.5,2751.1 1787.8,2756.1 1792,2756.1 1796.2,2753.6 1800.4,2752.8 1804.6,2753.6 1808.8,2753.6 1813.1,2755.3 1817.3,2753.6 1821.5,2752.8 1825.7,2751.1 1829.9,2748.6 1834.2,2745.3 1838.4,2745.3 1842.6,2743.6 1846.8,2736.9 1846.8,2758.6 1842.6,2770.3 1838.4,2767.8 1834.2,2767.8 1829.9,2771.1 1825.7,2775.3 1821.5,2776.1 1817.3,2775.3 1813.1,2780.3 1808.8,2779.5 1804.6,2777 1800.4,2777 1796.2,2773.6 1792,2777 1787.8,2777 1783.5,2771.1 1779.3,2768.6 1775.1,2766.1 1770.9,2771.1 1766.7,2768.6 1762.4,2769.5 1758.2,2772.8 1754,2780.3 1749.8,2774.5 1745.6,2772 1741.3,2772.8 1737.1,2774.5 1732.9,2773.6 1728.7,2769.5 1724.5,2773.6 1720.2,2776.1 1716,2775.3 1711.8,2780.3 1707.6,2777 1703.4,2777 1699.2,2765.3 1694.9,2757.8 1690.7,2759.4 1686.5,2761.1 1682.3,2764.4 1678.1,2766.9 1673.8,2766.9 1669.6,2765.3 1665.4,2764.4 1661.2,2754.4 1657,2747.8 1652.7,2748.6 1648.5,2748.6 1644.3,2746.9 1640.1,2741.9 1635.9,2747.8 1631.6,2744.4 1627.4,2749.4 1623.2,2747.8 1619,2742.8 1614.8,2741.1 1610.6,2741.9 1606.3,2746.9 1602.1,2751.1 1597.9,2746.9 1593.7,2751.9 1589.5,2752.8 1585.2,2748.6 1581,2753.6 1576.8,2753.6 1572.6,2749.4 1568.4,2746.9 1564.1,2741.9 1559.9,2748.6 1555.7,2758.6 1551.5,2759.4 1547.3,2764.4 1543.1,2768.6 1538.8,2771.1 1534.6,2769.5 1530.4,2764.4 1526.2,2760.3 1522,2766.9 1517.7,2779.5 1513.5,2774.5 1509.3,2772.8 1505.1,2773.6 1500.9,2768.6 1496.6,2772 1492.4,2783.6 1488.2,2782.8 1484,2782.8 1479.8,2783.6 1475.5,2783.6 1471.3,2782 1467.1,2777 1462.9,2788.6 1458.7,2790.3 1454.5,2788.6 1450.2,2784.5 1446,2782.8 1441.8,2785.3 1437.6,2789.5 1433.4,2787.8 1429.1,2787 1424.9,2786.1 1420.7,2785.3 1416.5,2783.6 1412.3,2784.5 1408,2777.8 1403.8,2777.8 1399.6,2782.8 1395.4,2783.6 1391.2,2777.8 1386.9,2777 1382.7,2778.6 1378.5,2777.8 1374.3,2776.1 1370.1,2774.5 1365.9,2769.5 1361.6,2772.8 1357.4,2769.5 1353.2,2759.4 1349,2759.4 1344.8,2761.1 1340.5,2759.4 1336.3,2754.4 1332.1,2746.1 1327.9,2735.3 1323.7,2723.6 1319.4,2725.2 1315.2,2706.9 1311,2723.6 1306.8,2701.1 1302.6,2719.4 1298.4,2706.9 1294.1,2691 1289.9,2682.7 1285.7,2657.7 1281.5,2661.9 1277.3,2631.8 1273,2646.8 1268.8,2614.3 1264.6,2616 1260.4,2598.5 1256.2,2587.6 1251.9,2557.6 1247.7,2544.2 1243.5,2521.7 1239.3,2539.2 1235.1,2550.1 1230.8,2518.4 1226.6,2506.7 1222.4,2500.9 1218.2,2523.4 1214,2510 1209.8,2559.3 1205.5,2565.1 1201.3,2580.1 1197.1,2597.6 1192.9,2621 1188.7,2625.2 1184.4,2643.5 1180.2,2670.2 1176,2684.4 1171.8,2701.1 1167.6,2726.1 1163.3,2717.7 1159.1,2756.9 1154.9,2770.3 1150.7,2781.1 1146.5,2782 1142.2,2791.1 1138,2803.6 1133.8,2809.5 1129.6,2816.2 1125.4,2818.7 1121.2,2822 1116.9,2822.8 1112.7,2824.5 1108.5,2825.3 1104.3,2826.2 1100.1,2826.2 1095.8,2827 1091.6,2826.2 1087.4,2827.8 1083.2,2827"/>
<polygon class="b" fill="#008000" stroke="#008000" points="1083.2,2810.3 1087.4,2809.5 1091.6,2810.3 1095.8,2810.3 1100.1,2810.3 1104.3,2806.2 1108.5,2805.3 1112.7,2802.8 1116.9,2802 1121.2,2801.1 1125.4,2793.6 1129.6,2791.1 1133.8,2781.1 1138,2777.8 1142.2,2765.3 1146.5,2760.3 1150.7,2760.3 1154.9,2748.6 1159.1,2736.9 1163.3,2696.1 1167.6,2701.1 1171.8,2673.5 1176,2661 1180.2,2646 1184.4,2620.1 1188.7,2599.3 1192.9,2598.5 1197.1,2572.6 1201.3,2553.4 1205.5,2540.9 1209.8,2532.6 1214,2483.4 1218.2,2495.9 1222.4,2473.3 1226.6,2482.5 1230.8,2495 1235.1,2525.9 1239.3,2511.7 1243.5,2500 1247.7,2522.6 1251.9,2535.9 1256.2,2560.1 1260.4,2575.9 1264.6,2591 1268.8,2598.5 1273,2626 1277.3,2607.6 1281.5,2636 1285.7,2633.5 1289.9,2659.4 1294.1,2668.5 1298.4,2679.4 1302.6,2689.4 1306.8,2678.5 1311,2701.1 1315.2,2686.9 1319.4,2701.1 1323.7,2706.1 1327.9,2713.6 1332.1,2719.4 1336.3,2730.2 1340.5,2734.4 1344.8,2739.4 1349,2740.3 1353.2,2738.6 1357.4,2744.4 1361.6,2749.4 1365.9,2749.4 1370.1,2753.6 1374.3,2754.4 1378.5,2757.8 1382.7,2753.6 1386.9,2755.3 1391.2,2757.8 1395.4,2758.6 1399.6,2761.1 1403.8,2756.1 1408,2759.4 1412.3,2766.1 1416.5,2764.4 1420.7,2764.4 1424.9,2761.1 1429.1,2761.9 1433.4,2762.8 1437.6,2763.6 1441.8,2761.1 1446,2760.3 1450.2,2763.6 1454.5,2766.9 1458.7,2768.6 1462.9,2764.4 1467.1,2761.1 1471.3,2760.3 1475.5,2761.1 1479.8,2764.4 1484,2760.3 1488.2,2763.6 1492.4,2762.8 1496.6,2754.4 1500.9,2746.1 1505.1,2749.4 1509.3,2750.3 1513.5,2751.1 1517.7,2753.6 1522,2746.1 1526.2,2741.1 1530.4,2743.6 1534.6,2749.4 1538.8,2748.6 1543.1,2747.8 1547.3,2741.9 1551.5,2739.4 1555.7,2733.6 1559.9,2730.2 1564.1,2724.4 1568.4,2723.6 1572.6,2728.6 1576.8,2728.6 1581,2728.6 1585.2,2729.4 1589.5,2731.1 1593.7,2730.2 1597.9,2726.9 1602.1,2726.1 1606.3,2728.6 1610.6,2720.2 1614.8,2721.1 1619,2719.4 1623.2,2723.6 1627.4,2727.7 1631.6,2726.1 1635.9,2725.2 1640.1,2719.4 1644.3,2725.2 1648.5,2726.9 1652.7,2726.1 1657,2725.2 1661.2,2736.1 1665.4,2741.9 1669.6,2744.4 1673.8,2746.9 1678.1,2744.4 1682.3,2742.8 1686.5,2738.6 1690.7,2735.3 1694.9,2735.3 1699.2,2744.4 1703.4,2755.3 1707.6,2752.8 1711.8,2757.8 1716,2752.8 1720.2,2754.4 1724.5,2750.3 1728.7,2751.1 1732.9,2755.3 1737.1,2754.4 1741.3,2750.3 1745.6,2749.4 1749.8,2748.6 1754,2754.4 1758.2,2750.3 1762.4,2750.3 1766.7,2748.6 1770.9,2748.6 1775.1,2747.8 1779.3,2745.3 1783.5,2750.3 1787.8,2757.8 1792,2756.9 1796.2,2756.1 1800.4,2752.8 1804.6,2752.8 1808.8,2754.4 1813.1,2754.4 1817.3,2755.3 1821.5,2751.1 1825.7,2751.1 1829.9,2748.6 1834.2,2744.4 1838.4,2744.4 1842.6,2743.6 1846.8,2736.9 1846.8,2756.9 1842.6,2767.8 1838.4,2766.9 1834.2,2767.8 1829.9,2771.1 1825.7,2776.1 1821.5,2773.6 1817.3,2774.5 1813.1,2778.6 1808.8,2777.8 1804.6,2777.8 1800.4,2777.8 1796.2,2773.6 1792,2777 1787.8,2779.5 1783.5,2772 1779.3,2770.3 1775.1,2766.1 1770.9,2769.5 1766.7,2768.6 1762.4,2771.1 1758.2,2773.6 1754,2777.8 1749.8,2774.5 1745.6,2771.1 1741.3,2773.6 1737.1,2777 1732.9,2773.6 1728.7,2769.5 1724.5,2774.5 1720.2,2776.1 1716,2776.1 1711.8,2777.8 1707.6,2775.3 1703.4,2778.6 1699.2,2765.3 1694.9,2759.4 1690.7,2759.4 1686.5,2760.3 1682.3,2764.4 1678.1,2766.9 1673.8,2765.3 1669.6,2764.4 1665.4,2763.6 1661.2,2753.6 1657,2746.9 1652.7,2747.8 1648.5,2748.6 1644.3,2747.8 1640.1,2741.9 1635.9,2746.9 1631.6,2744.4 1627.4,2750.3 1623.2,2746.1 1619,2744.4 1614.8,2740.3 1610.6,2741.9 1606.3,2746.1 1602.1,2750.3 1597.9,2746.9 1593.7,2752.8 1589.5,2751.1 1585.2,2749.4 1581,2753.6 1576.8,2751.9 1572.6,2748.6 1568.4,2744.4 1564.1,2742.8 1559.9,2748.6 1555.7,2756.1 1551.5,2759.4 1547.3,2763.6 1543.1,2769.5 1538.8,2770.3 1534.6,2767.8 1530.4,2766.1 1526.2,2762.8 1522,2767.8 1517.7,2778.6 1513.5,2773.6 1509.3,2773.6 1505.1,2772 1500.9,2770.3 1496.6,2775.3 1492.4,2782 1488.2,2781.1 1484,2783.6 1479.8,2782.8 1475.5,2785.3 1471.3,2781.1 1467.1,2777.8 1462.9,2787 1458.7,2789.5 1454.5,2790.3 1450.2,2785.3 1446,2782.8 1441.8,2785.3 1437.6,2790.3 1433.4,2787 1429.1,2787.8 1424.9,2785.3 1420.7,2787.8 1416.5,2782.8 1412.3,2783.6 1408,2777.8 1403.8,2779.5 1399.6,2783.6 1395.4,2782 1391.2,2781.1 1386.9,2776.1 1382.7,2774.5 1378.5,2777.8 1374.3,2776.1 1370.1,2775.3 1365.9,2769.5 1361.6,2773.6 1357.4,2767.8 1353.2,2759.4 1349,2760.3 1344.8,2762.8 1340.5,2761.1 1336.3,2753.6 1332.1,2745.3 1327.9,2735.3 1323.7,2725.2 1319.4,2723.6 1315.2,2706.9 1311,2721.1 1306.8,2701.1 1302.6,2718.6 1298.4,2706.1 1294.1,2691 1289.9,2681.9 1285.7,2656.8 1281.5,2660.2 1277.3,2631 1273,2646.8 1268.8,2615.1 1264.6,2616.8 1260.4,2598.5 1256.2,2585.9 1251.9,2558.4 1247.7,2544.2 1243.5,2522.6 1239.3,2537.6 1235.1,2550.9 1230.8,2519.2 1226.6,2509.2 1222.4,2500.9 1218.2,2522.6 1214,2509.2 1209.8,2558.4 1205.5,2564.3 1201.3,2580.9 1197.1,2597.6 1192.9,2622.7 1188.7,2624.3 1184.4,2645.2 1180.2,2670.2 1176,2686 1171.8,2700.2 1167.6,2726.1 1163.3,2718.6 1159.1,2756.9 1154.9,2769.5 1150.7,2779.5 1146.5,2780.3 1142.2,2790.3 1138,2802.8 1133.8,2807 1129.6,2815.3 1125.4,2820.3 1121.2,2822 1116.9,2822 1112.7,2822 1108.5,2822 1104.3,2822 1100.1,2822 1095.8,2822 1091.6,2822 1087.4,2822 1083.2,2822"/>
<path class="d" d="M1083.2 2817.8h0M1087.4 2816.2h0M1091.6 2819.5h0M1095.8 2819.5h0M1100.1 2817h0M1104.3 2812.8h0M1108.5 2817.8h0M1112.7 2812.8h0M1116.9 2809.5h0M1121.2 2806.2h0M1125.4 2802.8h0M1129.6 2804.5h0M1133.8 2795.3h0M1138 2790.3h0M1142.2 2773.6h0M1146.5 2771.1h0M1150.7 2770.3h0M1154.9 2760.3h0M1159.1 2745.3h0M1163.3 2702.7h0M1167.6 2717.7h0M1171.8 2696.1h0M1176 2664.4h0M1180.2 2656.8h0M1184.4 2635.2h0M1188.7 2606.8h0M1192.9 2616h0M1197.1 2591h0M1201.3 2568.4h0M1205.5 2554.3h0M1209.8 2543.4h0M1214 2495.9h0M1218.2 2507.5h0M1222.4 2485h0M1226.6 2501.7h0M1230.8 2503.4h0M1235.1 2535.9h0M1239.3 2519.2h0M1243.5 2520.1h0M1247.7 2535.1h0M1251.9 2545.9h0M1256.2 2575.1h0M1260.4 2595.1h0M1264.6 2604.3h0M1268.8 2604.3h0M1273 2630.2h0M1277.3 2620.1h0M1281.5 2648.5h0M1285.7 2642.7h0M1289.9 2664.4h0M1294.1 2681.9h0M1298.4 2686.9h0M1302.6 2710.2h0M1306.8 2687.7h0M1311 2711.9h0M1315.2 2706.1h0M1319.4 2711.1h0M1323.7 2725.2h0M1327.9 2716.1h0M1332.1 2732.8h0M1336.3 2746.1h0M1340.5 2741.1h0M1344.8 2748.6h0M1349 2746.9h0M1353.2 2753.6h0M1357.4 2755.3h0M1361.6 2754.4h0M1365.9 2757.8h0M1370.1 2764.4h0M1374.3 2767.8h0M1378.5 2772.8h0M1382.7 2776.1h0M1386.9 2775.3h0M1391.2 2770.3h0M1395.4 2772h0M1399.6 2770.3h0M1403.8 2769.5h0M1408 2769.5h0M1412.3 2769.5h0M1416.5 2781.1h0M1420.7 2780.3h0M1424.9 2777.8h0M1429.1 2767.8h0M1433.4 2777h0M1437.6 2778.6h0M1441.8 2770.3h0M1446 2769.5h0M1450.2 2766.9h0M1454.5 2782h0M1458.7 2777.8h0M1462.9 2772h0M1467.1 2766.9h0M1471.3 2773.6h0M1475.5 2776.1h0M1479.8 2772.8h0M1484 2767.8h0M1488.2 2771.1h0M1492.4 2767.8h0M1496.6 2761.1h0M1500.9 2754.4h0M1505.1 2756.9h0M1509.3 2766.1h0M1513.5 2767.8h0M1517.7 2772.8h0M1522 2751.9h0M1526.2 2747.8h0M1530.4 2754.4h0M1534.6 2768.6h0M1538.8 2760.3h0M1543.1 2763.6h0M1547.3 2763.6h0M1551.5 2751.1h0M1555.7 2748.6h0M1559.9 2740.3h0M1564.1 2736.9h0M1568.4 2736.1h0M1572.6 2751.9h0M1576.8 2739.4h0M1581 2742.8h0M1585.2 2741.9h0M1589.5 2739.4h0M1593.7 2735.3h0M1597.9 2736.9h0M1602.1 2739.4h0M1606.3 2733.6h0M1610.6 2733.6h0M1614.8 2724.4h0M1619 2726.9h0M1623.2 2734.4h0M1627.4 2735.3h0M1631.6 2740.3h0M1635.9 2731.9h0M1640.1 2737.8h0M1644.3 2736.9h0M1648.5 2737.8h0M1652.7 2741.9h0M1657 2734.4h0M1661.2 2743.6h0M1665.4 2759.4h0M1669.6 2757.8h0M1673.8 2761.1h0M1678.1 2757.8h0M1682.3 2746.1h0M1686.5 2751.9h0M1690.7 2747.8h0M1694.9 2749.4h0M1699.2 2764.4h0M1703.4 2767.8h0M1707.6 2761.9h0M1711.8 2769.5h0M1716 2762.8h0M1720.2 2765.3h0M1724.5 2766.1h0M1728.7 2756.1h0M1732.9 2763.6h0M1737.1 2772h0M1741.3 2759.4h0M1745.6 2764.4h0M1749.8 2768.6h0M1754 2762.8h0M1758.2 2754.4h0M1762.4 2758.6h0M1766.7 2751.9h0M1770.9 2755.3h0M1775.1 2753.6h0M1779.3 2753.6h0M1783.5 2761.9h0M1787.8 2769.5h0M1792 2777h0M1796.2 2761.9h0M1800.4 2763.6h0M1804.6 2766.1h0M1808.8 2771.1h0M1813.1 2760.3h0M1817.3 2767.8h0M1821.5 2765.3h0M1825.7 2766.9h0M1829.9 2759.4h0M1834.2 2760.3h0M1838.4 2758.6h0M1842.6 2752.8h0M1846.8 2749.4h0"/>
<polyline class="l k" stroke="#000" points="1083.2,2818.7 1087.4,2818.7 1091.6,2819.5 1095.8,2820.3 1100.1,2818.7 1104.3,2817 1108.5,2816.2 1112.7,2813.7 1116.9,2812.8 1121.2,2811.2 1125.4,2806.2 1129.6,2801.1 1133.8,2796.1 1138,2791.1 1142.2,2778.6 1146.5,2771.1 1150.7,2771.1 1154.9,2758.6 1159.1,2746.1 1163.3,2707.7 1167.6,2715.2 1171.8,2687.7 1176,2672.7 1180.2,2657.7 1184.4,2631.8 1188.7,2611.8 1192.9,2609.3 1197.1,2584.3 1201.3,2566.8 1205.5,2551.8 1209.8,2544.2 1214,2495.9 1218.2,2508.4 1222.4,2488.4 1226.6,2495.9 1230.8,2508.4 1235.1,2539.2 1239.3,2523.4 1243.5,2510.9 1247.7,2533.4 1251.9,2546.7 1256.2,2574.3 1260.4,2589.3 1264.6,2604.3 1268.8,2606.8 1273,2636.8 1277.3,2619.3 1281.5,2647.7 1285.7,2645.2 1289.9,2667.7 1294.1,2680.2 1298.4,2692.7 1302.6,2705.2 1306.8,2689.4 1311,2710.2 1315.2,2696.9 1319.4,2710.2 1323.7,2716.1 1327.9,2724.4 1332.1,2732.8 1336.3,2742.8 1340.5,2746.9 1344.8,2751.1 1349,2750.3 1353.2,2750.3 1357.4,2756.9 1361.6,2761.1 1365.9,2759.4 1370.1,2763.6 1374.3,2765.3 1378.5,2767.8 1382.7,2766.9 1386.9,2766.9 1391.2,2766.9 1395.4,2772 1399.6,2771.1 1403.8,2768.6 1408,2769.5 1412.3,2773.6 1416.5,2775.3 1420.7,2777.8 1424.9,2775.3 1429.1,2774.5 1433.4,2775.3 1437.6,2777 1441.8,2773.6 1446,2773.6 1450.2,2774.5 1454.5,2778.6 1458.7,2780.3 1462.9,2774.5 1467.1,2770.3 1471.3,2771.1 1475.5,2772.8 1479.8,2773.6 1484,2772.8 1488.2,2773.6 1492.4,2772.8 1496.6,2764.4 1500.9,2757.8 1505.1,2760.3 1509.3,2762.8 1513.5,2762.8 1517.7,2766.1 1522,2756.9 1526.2,2750.3 1530.4,2754.4 1534.6,2760.3 1538.8,2760.3 1543.1,2759.4 1547.3,2755.3 1551.5,2750.3 1555.7,2746.9 1559.9,2739.4 1564.1,2734.4 1568.4,2736.1 1572.6,2740.3 1576.8,2741.1 1581,2741.9 1585.2,2741.1 1589.5,2742.8 1593.7,2741.1 1597.9,2734.4 1602.1,2738.6 1606.3,2737.8 1610.6,2730.2 1614.8,2728.6 1619,2731.9 1623.2,2736.1 1627.4,2736.9 1631.6,2735.3 1635.9,2736.1 1640.1,2731.1 1644.3,2736.9 1648.5,2738.6 1652.7,2736.1 1657,2736.1 1661.2,2743.6 1665.4,2751.9 1669.6,2755.3 1673.8,2756.9 1678.1,2756.9 1682.3,2754.4 1686.5,2751.1 1690.7,2747.8 1694.9,2748.6 1699.2,2756.1 1703.4,2766.1 1707.6,2765.3 1711.8,2766.9 1716,2764.4 1720.2,2767.8 1724.5,2764.4 1728.7,2761.1 1732.9,2764.4 1737.1,2766.1 1741.3,2761.1 1745.6,2761.1 1749.8,2761.9 1754,2767.8 1758.2,2763.6 1762.4,2759.4 1766.7,2756.9 1770.9,2758.6 1775.1,2756.9 1779.3,2758.6 1783.5,2762.8 1787.8,2768.6 1792,2768.6 1796.2,2765.3 1800.4,2766.1 1804.6,2766.9 1808.8,2766.9 1813.1,2767.8 1817.3,2765.3 1821.5,2763.6 1825.7,2761.9 1829.9,2760.3 1834.2,2756.9 1838.4,2756.9 1842.6,2757.8 1846.8,2749.4"/>
<polyline class="l" stroke="#ffa500" points="1083.2,2822 1087.4,2822 1091.6,2822 1095.8,2822 1100.1,2818.7 1104.3,2817 1108.5,2817 1112.7,2812 1116.9,2812.8 1121.2,2811.2 1125.4,2806.2 1129.6,2801.1 1133.8,2795.3 1138,2790.3 1142.2,2779.5 1146.5,2770.3 1150.7,2771.1 1154.9,2758.6 1159.1,2746.1 1163.3,2708.6 1167.6,2715.2 1171.8,2686.9 1176,2672.7 1180.2,2658.5 1184.4,2632.7 1188.7,2611.8 1192.9,2608.5 1197.1,2585.1 1201.3,2566.8 1205.5,2551.8 1209.8,2544.2 1214,2495.9 1218.2,2509.2 1222.4,2488.4 1226.6,2495 1230.8,2508.4 1235.1,2539.2 1239.3,2522.6 1243.5,2510 1247.7,2534.2 1251.9,2546.7 1256.2,2573.4 1260.4,2590.1 1264.6,2603.5 1268.8,2606 1273,2636 1277.3,2616.8 1281.5,2647.7 1285.7,2646 1289.9,2667.7 1294.1,2679.4 1298.4,2693.5 1302.6,2704.4 1306.8,2687.7 1311,2710.2 1315.2,2694.4 1319.4,2711.1 1323.7,2716.9 1327.9,2724.4 1332.1,2733.6 1336.3,2741.9 1340.5,2747.8 1344.8,2751.1 1349,2751.1 1353.2,2751.1 1357.4,2757.8 1361.6,2761.1 1365.9,2756.9 1370.1,2762.8 1374.3,2765.3 1378.5,2768.6 1382.7,2766.1 1386.9,2766.9 1391.2,2767.8 1395.4,2771.1 1399.6,2772 1403.8,2768.6 1408,2770.3 1412.3,2772 1416.5,2775.3 1420.7,2777 1424.9,2775.3 1429.1,2775.3 1433.4,2775.3 1437.6,2777 1441.8,2774.5 1446,2774.5 1450.2,2775.3 1454.5,2778.6 1458.7,2782 1462.9,2775.3 1467.1,2770.3 1471.3,2769.5 1475.5,2772.8 1479.8,2772.8 1484,2773.6 1488.2,2773.6 1492.4,2773.6 1496.6,2764.4 1500.9,2756.9 1505.1,2760.3 1509.3,2763.6 1513.5,2761.9 1517.7,2766.9 1522,2757.8 1526.2,2750.3 1530.4,2755.3 1534.6,2758.6 1538.8,2758.6 1543.1,2760.3 1547.3,2754.4 1551.5,2751.1 1555.7,2748.6 1559.9,2739.4 1564.1,2735.3 1568.4,2736.9 1572.6,2740.3 1576.8,2740.3 1581,2742.8 1585.2,2741.9 1589.5,2742.8 1593.7,2741.9 1597.9,2734.4 1602.1,2738.6 1606.3,2738.6 1610.6,2728.6 1614.8,2729.4 1619,2732.8 1623.2,2736.9 1627.4,2737.8 1631.6,2735.3 1635.9,2736.1 1640.1,2731.1 1644.3,2736.1 1648.5,2737.8 1652.7,2736.1 1657,2735.3 1661.2,2741.9 1665.4,2751.1 1669.6,2753.6 1673.8,2756.1 1678.1,2756.9 1682.3,2752.8 1686.5,2751.9 1690.7,2748.6 1694.9,2749.4 1699.2,2755.3 1703.4,2766.9 1707.6,2763.6 1711.8,2767.8 1716,2765.3 1720.2,2766.1 1724.5,2763.6 1728.7,2761.1 1732.9,2763.6 1737.1,2766.9 1741.3,2761.1 1745.6,2761.1 1749.8,2761.1 1754,2768.6 1758.2,2763.6 1762.4,2759.4 1766.7,2756.9 1770.9,2760.3 1775.1,2756.9 1779.3,2759.4 1783.5,2763.6 1787.8,2766.9 1792,2768.6 1796.2,2766.1 1800.4,2766.1 1804.6,2766.9 1808.8,2766.9 1813.1,2766.9 1817.3,2764.4 1821.5,2762.8 1825.7,2762.8 1829.9,2760.3 1834.2,2756.9 1838.4,2757.8 1842.6,2756.1 1846.8,2749.4"/>
<rect class="s" x="1045" y="2457" width="840" height="389"/>
<path class="s" d="M1083.2 2846v9.33M1188.7 2846v9.33M1294.1 2846v9.33M1399.6 2846v9.33M1505.1 2846v9.33M1610.6 2846v9.33M1716 2846v9.33M1821.5 2846v9.33M1045 2822h-9.33M1045 2738.6h-9.33M1045 2655.2h-9.33M1045 2571.8h-9.33M1045 2488.4h-9.33"/>
<g font-size="29.9">
<text x="1083.2" y="2884.9" text-anchor="middle" textLength="17" lengthAdjust="spacingAndGlyphs">0</text>
<text x="1188.7" y="2884.9" text-anchor="middle" textLength="33.9" lengthAdjust="spacingAndGlyphs">25</text>
<text x="1294.1" y="2884.9" text-anchor="middle" textLength="33.9" lengthAdjust="spacingAndGlyphs">50</text>
<text x="1399.6" y="2884.9" text-anchor="middle" textLength="33.9" lengthAdjust="spacingAndGlyphs">75</text>
<text x="1505.1" y="2884.9" text-anchor="middle" textLength="50.9" lengthAdjust="spacingAndGlyphs">100</text>
<text x="1610.6" y="2884.9" text-anchor="middle" textLength="50.9" lengthAdjust="spacingAndGlyphs">125</text>
<text x="1716" y="2884.9" text-anchor="middle" textLength="50.9" lengthAdjust="spacingAndGlyphs">150</text>
<text x="1821.5" y="2884.9" text-anchor="middle" textLength="50.9" lengthAdjust="spacingAndGlyphs">175</text>
<text x="1025.5" y="2831.7" text-anchor="end" textLength="17" lengthAdjust="spacingAndGlyphs">0</text>
<text x="1025.5" y="2748.3" text-anchor="end" textLength="50.9" lengthAdjust="spacingAndGlyphs">100</text>
<text x="1025.5" y="2664.9" text-anchor="end" textLength="50.9" lengthAdjust="spacingAndGlyphs">200</text>
<text x="1025.5" y="2581.5" text-anchor="end" textLength="50.9" lengthAdjust="spacingAndGlyphs">300</text>
<text x="1025.5" y="2498.1" text-anchor="end" textLength="50.9" lengthAdjust="spacingAndGlyphs">400</text>
<text x="1465" y="2921.6" text-anchor="middle" textLength="66.6" lengthAdjust="spacingAndGlyphs">Days</text>
</g>
<text y="2441" font-size="33.6"><tspan x="1117.7" textLength="131.3" lengthAdjust="spacingAndGlyphs">Yavapai,</tspan> <tspan x="1260.2" textLength="42.8" lengthAdjust="spacingAndGlyphs">AZ</tspan> <tspan x="1314.2" textLength="89.4" lengthAdjust="spacingAndGlyphs">RMSE</tspan> <tspan x="1414.7" textLength="87.2" lengthAdjust="spacingAndGlyphs">EnKF:</tspan> <tspan x="1513.1" textLength="60.1" lengthAdjust="spacingAndGlyphs">4.8,</tspan> <tspan x="1584.3" textLength="89.4" lengthAdjust="spacingAndGlyphs">RMSE</tspan> <tspan x="1684.9" textLength="45" lengthAdjust="spacingAndGlyphs">PF:</tspan> <tspan x="1741" textLength="70.3" lengthAdjust="spacingAndGlyphs">4.92</tspan></text>
<g transform="translate(1650.2,2467.3)">
<rect class="lf" x="0" y="0" width="224.6" height="160.4" rx="4.3"/>
<path class="l" stroke="#000" d="M8.5 17.3H51.2"/>
<path class="l" stroke="#ffa500" d="M8.5 48.3H51.2"/>
<rect class="b" fill="#00f" stroke="#00f" x="8.5" y="71.5" width="42.67" height="14.93"/>
<rect class="b" fill="#008000" stroke="#008000" x="8.5" y="102.4" width="42.67" height="14.93"/>
<path class="d" d="M29.9 142.1h0"/>
<text y="24.6" font-size="22.4"><tspan x="68.3" textLength="59.5" lengthAdjust="spacingAndGlyphs">mean</tspan> <tspan x="135.6" textLength="19.6" lengthAdjust="spacingAndGlyphs">of</tspan> <tspan x="162.9" textLength="52.3" lengthAdjust="spacingAndGlyphs">EnKF</tspan></text>
<text y="55.6" font-size="22.4"><tspan x="68.3" textLength="59.5" lengthAdjust="spacingAndGlyphs">mean</tspan> <tspan x="135.6" textLength="19.6" lengthAdjust="spacingAndGlyphs">of</tspan> <tspan x="162.9" textLength="24.1" lengthAdjust="spacingAndGlyphs">PF</tspan></text>
<text y="86.3" font-size="22.4"><tspan x="68.3" textLength="46.4" lengthAdjust="spacingAndGlyphs">95%</tspan> <tspan x="122.5" textLength="20.2" lengthAdjust="spacingAndGlyphs">CI</tspan> <tspan x="150.4" textLength="52.3" lengthAdjust="spacingAndGlyphs">EnKF</tspan></text>
<text y="117.1" font-size="22.4"><tspan x="68.3" textLength="46.4" lengthAdjust="spacingAndGlyphs">95%</tspan> <tspan x="122.5" textLength="20.2" lengthAdjust="spacingAndGlyphs">CI</tspan> <tspan x="150.4" textLength="24.1" lengthAdjust="spacingAndGlyphs">PF</tspan></text>
<text y="147.8" font-size="22.4"><tspan x="68.3" textLength="47.1" lengthAdjust="spacingAndGlyphs">data</tspan></text>
</g>
</g>
<g>
<polygon class="b" fill="#00f" stroke="#00f" points="2039.2,2810.2 2043.4,2811.6 2047.6,2810.9 2051.8,2810.2 2056.1,2808.7 2060.3,2808 2064.5,2806.6 2068.7,2804.5 2072.9,2802.4 2077.2,2799.6 2081.4,2792.6 2085.6,2782 2089.8,2767.3 2094,2754.6 2098.2,2734.3 2102.5,2699.8 2106.7,2684.4 2110.9,2663.3 2115.1,2607.8 2119.3,2571.3 2123.6,2530.5 2127.8,2500.3 2132,2477.1 2136.2,2505.2 2140.4,2479.2 2144.7,2489.1 2148.9,2497.5 2153.1,2544.6 2157.3,2514.4 2161.5,2539.6 2165.8,2557.9 2170,2566.3 2174.2,2586 2178.4,2598 2182.6,2617.6 2186.8,2626.1 2191.1,2666.1 2195.3,2657 2199.5,2660.5 2203.7,2686.5 2207.9,2682.3 2212.2,2713.9 2216.4,2700.5 2220.6,2701.2 2224.8,2714.6 2229,2716 2233.3,2734.3 2237.5,2731.5 2241.7,2739.2 2245.9,2755.3 2250.1,2755.3 2254.4,2755.3 2258.6,2753.2 2262.8,2761.7 2267,2763.8 2271.2,2763.8 2275.4,2767.3 2279.7,2776.4 2283.9,2777.8 2288.1,2776.4 2292.3,2777.1 2296.5,2772.2 2300.8,2772.9 2305,2779.9 2309.2,2780.6 2313.4,2782 2317.6,2778.5 2321.9,2775.7 2326.1,2777.1 2330.3,2779.9 2334.5,2782 2338.7,2779.9 2342.9,2780.6 2347.2,2783.5 2351.4,2783.5 2355.6,2782.7 2359.8,2782.7 2364,2777.8 2368.3,2779.2 2372.5,2778.5 2376.7,2777.1 2380.9,2780.6 2385.1,2778.5 2389.4,2780.6 2393.6,2779.9 2397.8,2774.3 2402,2770.8 2406.2,2769.4 2410.5,2768.7 2414.7,2772.2 2418.9,2765.9 2423.1,2761.7 2427.3,2764.5 2431.5,2763.1 2435.8,2761 2440,2758.2 2444.2,2758.9 2448.4,2763.8 2452.6,2766.6 2456.9,2768.7 2461.1,2768.7 2465.3,2767.3 2469.5,2762.4 2473.7,2763.8 2478,2765.9 2482.2,2766.6 2486.4,2760.3 2490.6,2753.9 2494.8,2753.2 2499.1,2754.6 2503.3,2755.3 2507.5,2752.5 2511.7,2752.5 2515.9,2756.8 2520.1,2759.6 2524.4,2753.2 2528.6,2749 2532.8,2755.3 2537,2756.1 2541.2,2753.9 2545.5,2753.9 2549.7,2752.5 2553.9,2751.8 2558.1,2756.1 2562.3,2763.1 2566.6,2765.2 2570.8,2765.9 2575,2768 2579.2,2765.2 2583.4,2761.7 2587.6,2761 2591.9,2764.5 2596.1,2768.7 2600.3,2765.2 2604.5,2768 2608.7,2768 2613,2768.7 2617.2,2768.7 2621.4,2769.4 2625.6,2767.3 2629.8,2764.5 2634.1,2763.8 2638.3,2767.3 2642.5,2763.8 2646.7,2762.4 2650.9,2764.5 2655.2,2770.1 2659.4,2772.9 2663.6,2772.2 2667.8,2771.5 2672,2772.2 2676.2,2768.7 2680.5,2768 2684.7,2764.5 2688.9,2770.1 2693.1,2770.1 2697.3,2770.1 2701.6,2773.6 2705.8,2772.9 2710,2774.3 2714.2,2777.1 2718.4,2770.8 2722.7,2768.7 2726.9,2770.8 2731.1,2772.9 2735.3,2769.4 2739.5,2772.2 2743.8,2775 2748,2776.4 2752.2,2768.7 2756.4,2765.9 2760.6,2765.2 2764.8,2766.6 2769.1,2771.5 2773.3,2768 2777.5,2765.9 2781.7,2764.5 2785.9,2764.5 2790.2,2770.8 2794.4,2775.7 2798.6,2774.3 2802.8,2772.9 2802.8,2791.9 2798.6,2791.9 2794.4,2791.2 2790.2,2785.6 2785.9,2779.2 2781.7,2779.9 2777.5,2780.6 2773.3,2782.7 2769.1,2787.7 2764.8,2785.6 2760.6,2779.9 2756.4,2782.7 2752.2,2787.7 2748,2794 2743.8,2792.6 2739.5,2787.7 2735.3,2787 2731.1,2789.1 2726.9,2787.7 2722.7,2787.7 2718.4,2787.7 2714.2,2791.2 2710,2791.9 2705.8,2790.5 2701.6,2790.5 2697.3,2790.5 2693.1,2787.7 2688.9,2787 2684.7,2783.5 2680.5,2782 2676.2,2784.9 2672,2788.4 2667.8,2789.1 2663.6,2789.8 2659.4,2789.8 2655.2,2785.6 2650.9,2779.9 2646.7,2775.7 2642.5,2779.9 2638.3,2783.5 2634.1,2777.8 2629.8,2782 2625.6,2784.9 2621.4,2783.5 2617.2,2786.3 2613,2787.7 2608.7,2785.6 2604.5,2782 2600.3,2782.7 2596.1,2787.7 2591.9,2783.5 2587.6,2779.9 2583.4,2779.2 2579.2,2781.3 2575,2784.9 2570.8,2784.9 2566.6,2782.7 2562.3,2779.9 2558.1,2771.5 2553.9,2770.8 2549.7,2770.8 2545.5,2771.5 2541.2,2770.8 2537,2771.5 2532.8,2771.5 2528.6,2765.2 2524.4,2767.3 2520.1,2775 2515.9,2775.7 2511.7,2772.9 2507.5,2770.8 2503.3,2772.2 2499.1,2770.8 2494.8,2770.8 2490.6,2771.5 2486.4,2776.4 2482.2,2782.7 2478,2782 2473.7,2780.6 2469.5,2782 2465.3,2784.2 2461.1,2785.6 2456.9,2784.2 2452.6,2782 2448.4,2782 2444.2,2776.4 2440,2777.1 2435.8,2779.2 2431.5,2782.7 2427.3,2782 2423.1,2781.3 2418.9,2784.2 2414.7,2787.7 2410.5,2787.7 2406.2,2786.3 2402,2784.2 2397.8,2789.1 2393.6,2796.8 2389.4,2796.8 2385.1,2794.7 2380.9,2796.1 2376.7,2795.4 2372.5,2794 2368.3,2795.4 2364,2796.8 2359.8,2801 2355.6,2798.9 2351.4,2801.7 2347.2,2798.9 2342.9,2798.9 2338.7,2796.8 2334.5,2799.6 2330.3,2798.9 2326.1,2795.4 2321.9,2790.5 2317.6,2795.4 2313.4,2796.8 2309.2,2798.2 2305,2792.6 2300.8,2791.9 2296.5,2790.5 2292.3,2791.2 2288.1,2791.2 2283.9,2796.1 2279.7,2793.3 2275.4,2782 2271.2,2777.8 2267,2780.6 2262.8,2777.8 2258.6,2773.6 2254.4,2772.2 2250.1,2773.6 2245.9,2773.6 2241.7,2757.5 2237.5,2746.9 2233.3,2749.7 2229,2734.3 2224.8,2730.8 2220.6,2718.1 2216.4,2720.2 2212.2,2732.2 2207.9,2699.1 2203.7,2704.8 2199.5,2678.8 2195.3,2675.3 2191.1,2683 2186.8,2643.6 2182.6,2634.5 2178.4,2614.1 2174.2,2601.5 2170,2583.9 2165.8,2574.8 2161.5,2556.5 2157.3,2530.5 2153.1,2560 2148.9,2515.1 2144.7,2506.6 2140.4,2498.2 2136.2,2525.6 2132,2495.4 2127.8,2519.3 2123.6,2549.5 2119.3,2589.5 2115.1,2626.1 2110.9,2680.9 2106.7,2702 2102.5,2718.1 2098.2,2753.2 2094,2770.1 2089.8,2785.6 2085.6,2800.3 2081.4,2810.2 2077.2,2815.1 2072.9,2818.6 2068.7,2822.1 2064.5,2825.6 2060.3,2829.1 2056.1,2828.4 2051.8,2829.8 2047.6,2828.4 2043.4,2829.8 2039.2,2827.7"/>
<polygon class="b" fill="#008000" stroke="#008000" points="2039.2,2813.7 2043.4,2812.3 2047.6,2813.7 2051.8,2812.3 2056.1,2812.3 2060.3,2810.2 2064.5,2810.2 2068.7,2805.9 2072.9,2803.1 2077.2,2798.2 2081.4,2792.6 2085.6,2781.3 2089.8,2768 2094,2752.5 2098.2,2733.6 2102.5,2698.4 2106.7,2683.7 2110.9,2661.9 2115.1,2609.2 2119.3,2573.4 2123.6,2530.5 2127.8,2501 2132,2476.4 2136.2,2505.2 2140.4,2478.5 2144.7,2489.1 2148.9,2496.8 2153.1,2543.9 2157.3,2515.8 2161.5,2541.1 2165.8,2557.9 2170,2566.3 2174.2,2585.3 2178.4,2598 2182.6,2616.2 2186.8,2624.7 2191.1,2666.1 2195.3,2656.3 2199.5,2661.2 2203.7,2686.5 2207.9,2683.7 2212.2,2713.9 2216.4,2700.5 2220.6,2701.2 2224.8,2716 2229,2718.1 2233.3,2732.9 2237.5,2732.2 2241.7,2738.5 2245.9,2754.6 2250.1,2753.9 2254.4,2754.6 2258.6,2753.9 2262.8,2761.7 2267,2763.1 2271.2,2762.4 2275.4,2768 2279.7,2775 2283.9,2777.1 2288.1,2775 2292.3,2777.1 2296.5,2772.2 2300.8,2772.2 2305,2779.2 2309.2,2780.6 2313.4,2781.3 2317.6,2777.1 2321.9,2774.3 2326.1,2775.7 2330.3,2779.9 2334.5,2781.3 2338.7,2779.2 2342.9,2780.6 2347.2,2783.5 2351.4,2784.9 2355.6,2784.2 2359.8,2782.7 2364,2778.5 2368.3,2777.1 2372.5,2777.8 2376.7,2777.1 2380.9,2779.2 2385.1,2778.5 2389.4,2780.6 2393.6,2778.5 2397.8,2773.6 2402,2770.1 2406.2,2770.1 2410.5,2768.7 2414.7,2771.5 2418.9,2765.2 2423.1,2761.7 2427.3,2763.8 2431.5,2763.8 2435.8,2760.3 2440,2758.2 2444.2,2759.6 2448.4,2764.5 2452.6,2765.9 2456.9,2766.6 2461.1,2769.4 2465.3,2768 2469.5,2762.4 2473.7,2761.7 2478,2765.2 2482.2,2766.6 2486.4,2760.3 2490.6,2753.2 2494.8,2753.2 2499.1,2753.9 2503.3,2755.3 2507.5,2754.6 2511.7,2753.2 2515.9,2755.3 2520.1,2757.5 2524.4,2751.1 2528.6,2748.3 2532.8,2753.9 2537,2756.8 2541.2,2753.9 2545.5,2753.9 2549.7,2751.8 2553.9,2752.5 2558.1,2756.1 2562.3,2763.8 2566.6,2765.2 2570.8,2766.6 2575,2765.2 2579.2,2764.5 2583.4,2761.7 2587.6,2761 2591.9,2765.2 2596.1,2767.3 2600.3,2764.5 2604.5,2768 2608.7,2768.7 2613,2768.7 2617.2,2766.6 2621.4,2769.4 2625.6,2768 2629.8,2763.8 2634.1,2763.1 2638.3,2767.3 2642.5,2763.8 2646.7,2761 2650.9,2763.8 2655.2,2769.4 2659.4,2772.9 2663.6,2772.9 2667.8,2771.5 2672,2772.2 2676.2,2766.6 2680.5,2766.6 2684.7,2765.2 2688.9,2771.5 2693.1,2771.5 2697.3,2770.1 2701.6,2774.3 2705.8,2774.3 2710,2772.9 2714.2,2775.7 2718.4,2771.5 2722.7,2769.4 2726.9,2769.4 2731.1,2772.2 2735.3,2768 2739.5,2772.2 2743.8,2775 2748,2775 2752.2,2768.7 2756.4,2765.2 2760.6,2765.2 2764.8,2766.6 2769.1,2770.8 2773.3,2767.3 2777.5,2765.9 2781.7,2764.5 2785.9,2764.5 2790.2,2769.4 2794.4,2777.1 2798.6,2773.6 2802.8,2772.2 2802.8,2793.3 2798.6,2791.9 2794.4,2791.2 2790.2,2787 2785.9,2780.6 2781.7,2780.6 2777.5,2782.7 2773.3,2782.7 2769.1,2787.7 2764.8,2784.9 2760.6,2780.6 2756.4,2783.5 2752.2,2787.7 2748,2794 2743.8,2792.6 2739.5,2788.4 2735.3,2788.4 2731.1,2788.4 2726.9,2785.6 2722.7,2786.3 2718.4,2786.3 2714.2,2789.8 2710,2790.5 2705.8,2791.2 2701.6,2791.2 2697.3,2791.2 2693.1,2789.1 2688.9,2787.7 2684.7,2783.5 2680.5,2784.2 2676.2,2783.5 2672,2787.7 2667.8,2788.4 2663.6,2789.1 2659.4,2789.1 2655.2,2784.2 2650.9,2779.9 2646.7,2776.4 2642.5,2779.2 2638.3,2783.5 2634.1,2777.8 2629.8,2779.9 2625.6,2784.2 2621.4,2784.2 2617.2,2785.6 2613,2788.4 2608.7,2786.3 2604.5,2782.7 2600.3,2782 2596.1,2787 2591.9,2783.5 2587.6,2780.6 2583.4,2779.9 2579.2,2781.3 2575,2783.5 2570.8,2785.6 2566.6,2783.5 2562.3,2780.6 2558.1,2770.8 2553.9,2770.1 2549.7,2768.7 2545.5,2770.8 2541.2,2770.1 2537,2768.7 2532.8,2770.1 2528.6,2765.2 2524.4,2766.6 2520.1,2774.3 2515.9,2776.4 2511.7,2772.9 2507.5,2770.8 2503.3,2770.8 2499.1,2770.1 2494.8,2769.4 2490.6,2770.8 2486.4,2776.4 2482.2,2783.5 2478,2783.5 2473.7,2780.6 2469.5,2782 2465.3,2785.6 2461.1,2785.6 2456.9,2784.2 2452.6,2782 2448.4,2781.3 2444.2,2777.8 2440,2776.4 2435.8,2779.9 2431.5,2782.7 2427.3,2781.3 2423.1,2782.7 2418.9,2783.5 2414.7,2789.1 2410.5,2787 2406.2,2787.7 2402,2784.9 2397.8,2788.4 2393.6,2796.1 2389.4,2796.1 2385.1,2795.4 2380.9,2795.4 2376.7,2793.3 2372.5,2794 2368.3,2795.4 2364,2796.1 2359.8,2800.3 2355.6,2799.6 2351.4,2801 2347.2,2798.9 2342.9,2799.6 2338.7,2796.8 2334.5,2798.2 2330.3,2796.8 2326.1,2794 2321.9,2791.2 2317.6,2796.8 2313.4,2797.5 2309.2,2797.5 2305,2792.6 2300.8,2791.9 2296.5,2790.5 2292.3,2790.5 2288.1,2790.5 2283.9,2796.1 2279.7,2794 2275.4,2783.5 2271.2,2777.1 2267,2779.9 2262.8,2777.1 2258.6,2774.3 2254.4,2772.9 2250.1,2773.6 2245.9,2773.6 2241.7,2758.9 2237.5,2746.2 2233.3,2748.3 2229,2735 2224.8,2731.5 2220.6,2718.1 2216.4,2721.6 2212.2,2732.2 2207.9,2698.4 2203.7,2704.1 2199.5,2678.8 2195.3,2673.8 2191.1,2683.7 2186.8,2643.6 2182.6,2634.5 2178.4,2612.7 2174.2,2601.5 2170,2584.6 2165.8,2574.1 2161.5,2557.2 2157.3,2530.5 2153.1,2559.3 2148.9,2515.8 2144.7,2505.9 2140.4,2498.2 2136.2,2527 2132,2496.1 2127.8,2521.4 2123.6,2550.9 2119.3,2589.5 2115.1,2626.8 2110.9,2682.3 2106.7,2701.2 2102.5,2717.4 2098.2,2752.5 2094,2770.8 2089.8,2784.9 2085.6,2798.9 2081.4,2810.9 2077.2,2823.5 2072.9,2823.5 2068.7,2823.5 2064.5,2823.5 2060.3,2823.5 2056.1,2823.5 2051.8,2823.5 2047.6,2823.5 2043.4,2823.5 2039.2,2823.5"/>
<path class="d" d="M2039.2 2822.1h0M2043.4 2822.1h0M2047.6 2821.4h0M2051.8 2820h0M2056.1 2818.6h0M2060.3 2817.9h0M2064.5 2817.2h0M2068.7 2816.5h0M2072.9 2808h0M2077.2 2803.1h0M2081.4 2806.6h0M2085.6 2789.1h0M2089.8 2775h0M2094 2762.4h0M2098.2 2741.3h0M2102.5 2711.1h0M2106.7 2691.4h0M2110.9 2668.9h0M2115.1 2612.7h0M2119.3 2585.3h0M2123.6 2539.6h0M2127.8 2504.5h0M2132 2489.1h0M2136.2 2520h0M2140.4 2491.9h0M2144.7 2501.7h0M2148.9 2503.1h0M2153.1 2550.9h0M2157.3 2517.9h0M2161.5 2544.6h0M2165.8 2567.8h0M2170 2574.1h0M2174.2 2595.2h0M2178.4 2607.8h0M2182.6 2622.6h0M2186.8 2636.6h0M2191.1 2672.4h0M2195.3 2668.2h0M2199.5 2669.6h0M2203.7 2698.4h0M2207.9 2690.7h0M2212.2 2724.4h0M2216.4 2704.1h0M2220.6 2711.8h0M2224.8 2723h0M2229 2728.6h0M2233.3 2744.8h0M2237.5 2735.7h0M2241.7 2748.3h0M2245.9 2768h0M2250.1 2764.5h0M2254.4 2767.3h0M2258.6 2765.9h0M2262.8 2765.9h0M2267 2772.2h0M2271.2 2770.8h0M2275.4 2779.9h0M2279.7 2784.9h0M2283.9 2778.5h0M2288.1 2777.8h0M2292.3 2785.6h0M2296.5 2774.3h0M2300.8 2784.9h0M2305 2787h0M2309.2 2790.5h0M2313.4 2788.4h0M2317.6 2788.4h0M2321.9 2777.8h0M2326.1 2787.7h0M2330.3 2786.3h0M2334.5 2784.9h0M2338.7 2789.1h0M2342.9 2789.8h0M2347.2 2792.6h0M2351.4 2796.1h0M2355.6 2790.5h0M2359.8 2793.3h0M2364 2787.7h0M2368.3 2793.3h0M2372.5 2787.7h0M2376.7 2780.6h0M2380.9 2784.2h0M2385.1 2786.3h0M2389.4 2787h0M2393.6 2789.8h0M2397.8 2782.7h0M2402 2779.9h0M2406.2 2779.2h0M2410.5 2775h0M2414.7 2772.9h0M2418.9 2778.5h0M2423.1 2771.5h0M2427.3 2772.2h0M2431.5 2772.2h0M2435.8 2770.1h0M2440 2764.5h0M2444.2 2767.3h0M2448.4 2770.8h0M2452.6 2773.6h0M2456.9 2778.5h0M2461.1 2774.3h0M2465.3 2777.1h0M2469.5 2768.7h0M2473.7 2770.8h0M2478 2780.6h0M2482.2 2771.5h0M2486.4 2774.3h0M2490.6 2756.8h0M2494.8 2762.4h0M2499.1 2758.9h0M2503.3 2761.7h0M2507.5 2760.3h0M2511.7 2766.6h0M2515.9 2764.5h0M2520.1 2768h0M2524.4 2762.4h0M2528.6 2759.6h0M2532.8 2768h0M2537 2761h0M2541.2 2766.6h0M2545.5 2764.5h0M2549.7 2762.4h0M2553.9 2759.6h0M2558.1 2756.1h0M2562.3 2765.2h0M2566.6 2770.8h0M2570.8 2775.7h0M2575 2770.8h0M2579.2 2773.6h0M2583.4 2772.9h0M2587.6 2768h0M2591.9 2779.2h0M2596.1 2777.8h0M2600.3 2780.6h0M2604.5 2770.8h0M2608.7 2772.2h0M2613 2776.4h0M2617.2 2778.5h0M2621.4 2774.3h0M2625.6 2771.5h0M2629.8 2770.1h0M2634.1 2770.1h0M2638.3 2775.7h0M2642.5 2768.7h0M2646.7 2770.8h0M2650.9 2772.2h0M2655.2 2779.9h0M2659.4 2780.6h0M2663.6 2782h0M2667.8 2790.5h0M2672 2772.2h0M2676.2 2777.1h0M2680.5 2779.2h0M2684.7 2780.6h0M2688.9 2781.3h0M2693.1 2784.9h0M2697.3 2782.7h0M2701.6 2781.3h0M2705.8 2783.5h0M2710 2775.7h0M2714.2 2787.7h0M2718.4 2785.6h0M2722.7 2777.1h0M2726.9 2777.1h0M2731.1 2776.4h0M2735.3 2778.5h0M2739.5 2779.9h0M2743.8 2783.5h0M2748 2787.7h0M2752.2 2772.2h0M2756.4 2768h0M2760.6 2772.9h0M2764.8 2777.1h0M2769.1 2782h0M2773.3 2773.6h0M2777.5 2775.7h0M2781.7 2775.7h0M2785.9 2772.9h0M2790.2 2779.9h0M2794.4 2790.5h0M2798.6 2782.7h0M2802.8 2784.9h0"/>
<polyline class="l k" stroke="#000" points="2039.2,2822.1 2043.4,2821.4 2047.6,2821.4 2051.8,2820.7 2056.1,2820 2060.3,2819.3 2064.5,2817.9 2068.7,2814.4 2072.9,2811.6 2077.2,2807.3 2081.4,2801 2085.6,2791.2 2089.8,2775.7 2094,2761 2098.2,2743.4 2102.5,2708.3 2106.7,2692.8 2110.9,2672.4 2115.1,2616.9 2119.3,2581.8 2123.6,2541.1 2127.8,2510.8 2132,2488.4 2136.2,2515.8 2140.4,2488.4 2144.7,2498.2 2148.9,2505.9 2153.1,2551.6 2157.3,2521.4 2161.5,2548.8 2165.8,2566.3 2170,2576.9 2174.2,2594.5 2178.4,2607.1 2182.6,2624.7 2186.8,2634.5 2191.1,2675.3 2195.3,2664.7 2199.5,2670.3 2203.7,2695.6 2207.9,2690 2212.2,2723 2216.4,2710.4 2220.6,2710.4 2224.8,2723 2229,2725.8 2233.3,2740.6 2237.5,2738.5 2241.7,2748.3 2245.9,2763.1 2250.1,2764.5 2254.4,2765.2 2258.6,2765.9 2262.8,2770.1 2267,2773.6 2271.2,2770.1 2275.4,2775 2279.7,2784.2 2283.9,2785.6 2288.1,2781.3 2292.3,2782 2296.5,2779.2 2300.8,2781.3 2305,2785.6 2309.2,2788.4 2313.4,2788.4 2317.6,2787.7 2321.9,2783.5 2326.1,2784.9 2330.3,2789.8 2334.5,2789.1 2338.7,2787.7 2342.9,2789.1 2347.2,2790.5 2351.4,2793.3 2355.6,2791.9 2359.8,2791.2 2364,2787 2368.3,2786.3 2372.5,2785.6 2376.7,2785.6 2380.9,2787.7 2385.1,2787.7 2389.4,2789.8 2393.6,2788.4 2397.8,2783.5 2402,2779.2 2406.2,2779.2 2410.5,2778.5 2414.7,2779.9 2418.9,2775 2423.1,2772.9 2427.3,2772.9 2431.5,2772.9 2435.8,2770.1 2440,2766.6 2444.2,2768.7 2448.4,2772.2 2452.6,2774.3 2456.9,2777.8 2461.1,2777.8 2465.3,2776.4 2469.5,2772.9 2473.7,2771.5 2478,2774.3 2482.2,2774.3 2486.4,2768.7 2490.6,2763.8 2494.8,2761.7 2499.1,2763.8 2503.3,2763.1 2507.5,2761.7 2511.7,2764.5 2515.9,2766.6 2520.1,2766.6 2524.4,2760.3 2528.6,2756.8 2532.8,2763.8 2537,2763.1 2541.2,2763.1 2545.5,2763.1 2549.7,2760.3 2553.9,2761.7 2558.1,2763.1 2562.3,2769.4 2566.6,2773.6 2570.8,2775.7 2575,2774.3 2579.2,2772.9 2583.4,2770.8 2587.6,2770.8 2591.9,2774.3 2596.1,2777.1 2600.3,2773.6 2604.5,2775 2608.7,2775.7 2613,2778.5 2617.2,2777.8 2621.4,2777.1 2625.6,2775 2629.8,2772.9 2634.1,2771.5 2638.3,2774.3 2642.5,2770.1 2646.7,2768.7 2650.9,2771.5 2655.2,2777.1 2659.4,2781.3 2663.6,2780.6 2667.8,2779.9 2672,2779.2 2676.2,2776.4 2680.5,2775 2684.7,2775 2688.9,2779.9 2693.1,2779.9 2697.3,2779.2 2701.6,2782.7 2705.8,2782.7 2710,2782 2714.2,2784.2 2718.4,2780.6 2722.7,2778.5 2726.9,2777.8 2731.1,2779.2 2735.3,2777.8 2739.5,2780.6 2743.8,2784.2 2748,2784.2 2752.2,2778.5 2756.4,2775 2760.6,2772.9 2764.8,2775 2769.1,2778.5 2773.3,2775 2777.5,2773.6 2781.7,2772.9 2785.9,2773.6 2790.2,2779.2 2794.4,2783.5 2798.6,2784.2 2802.8,2784.9"/>
<polyline class="l" stroke="#ffa500" points="2039.2,2823.5 2043.4,2823.5 2047.6,2823.5 2051.8,2823.5 2056.1,2819.3 2060.3,2820.7 2064.5,2816.5 2068.7,2814.4 2072.9,2810.9 2077.2,2805.9 2081.4,2801 2085.6,2791.2 2089.8,2776.4 2094,2760.3 2098.2,2743.4 2102.5,2707.6 2106.7,2692.8 2110.9,2671.7 2115.1,2616.9 2119.3,2583.2 2123.6,2541.1 2127.8,2510.8 2132,2487.7 2136.2,2516.5 2140.4,2489.1 2144.7,2498.2 2148.9,2506.6 2153.1,2552.3 2157.3,2522.8 2161.5,2548.1 2165.8,2567.1 2170,2576.9 2174.2,2593.7 2178.4,2608.5 2182.6,2624.7 2186.8,2634.5 2191.1,2675.3 2195.3,2665.4 2199.5,2671 2203.7,2695.6 2207.9,2690 2212.2,2722.3 2216.4,2711.8 2220.6,2709 2224.8,2723 2229,2725.1 2233.3,2740.6 2237.5,2737.8 2241.7,2748.3 2245.9,2763.1 2250.1,2764.5 2254.4,2763.8 2258.6,2765.9 2262.8,2770.1 2267,2772.9 2271.2,2769.4 2275.4,2775.7 2279.7,2784.9 2283.9,2785.6 2288.1,2781.3 2292.3,2780.6 2296.5,2778.5 2300.8,2781.3 2305,2785.6 2309.2,2788.4 2313.4,2789.1 2317.6,2786.3 2321.9,2782 2326.1,2784.9 2330.3,2790.5 2334.5,2789.8 2338.7,2787.7 2342.9,2789.8 2347.2,2789.1 2351.4,2793.3 2355.6,2793.3 2359.8,2791.9 2364,2786.3 2368.3,2784.9 2372.5,2785.6 2376.7,2785.6 2380.9,2787 2385.1,2787.7 2389.4,2789.1 2393.6,2788.4 2397.8,2784.2 2402,2778.5 2406.2,2779.9 2410.5,2777.8 2414.7,2779.2 2418.9,2774.3 2423.1,2771.5 2427.3,2772.9 2431.5,2772.2 2435.8,2769.4 2440,2765.9 2444.2,2768 2448.4,2771.5 2452.6,2775 2456.9,2778.5 2461.1,2777.8 2465.3,2775.7 2469.5,2773.6 2473.7,2772.2 2478,2774.3 2482.2,2774.3 2486.4,2769.4 2490.6,2763.1 2494.8,2762.4 2499.1,2763.8 2503.3,2763.1 2507.5,2761 2511.7,2764.5 2515.9,2765.9 2520.1,2767.3 2524.4,2760.3 2528.6,2756.8 2532.8,2764.5 2537,2763.1 2541.2,2763.8 2545.5,2763.1 2549.7,2761 2553.9,2762.4 2558.1,2761 2562.3,2770.1 2566.6,2772.9 2570.8,2775.7 2575,2772.9 2579.2,2772.2 2583.4,2770.8 2587.6,2770.1 2591.9,2775.7 2596.1,2777.1 2600.3,2773.6 2604.5,2775 2608.7,2775.7 2613,2778.5 2617.2,2777.1 2621.4,2777.1 2625.6,2775 2629.8,2772.9 2634.1,2771.5 2638.3,2774.3 2642.5,2769.4 2646.7,2768.7 2650.9,2772.2 2655.2,2777.1 2659.4,2779.9 2663.6,2782 2667.8,2779.2 2672,2780.6 2676.2,2776.4 2680.5,2775 2684.7,2775 2688.9,2779.2 2693.1,2779.9 2697.3,2778.5 2701.6,2782 2705.8,2782 2710,2782 2714.2,2784.2 2718.4,2779.9 2722.7,2777.8 2726.9,2777.8 2731.1,2777.8 2735.3,2777.8 2739.5,2780.6 2743.8,2782.7 2748,2784.2 2752.2,2779.2 2756.4,2774.3 2760.6,2772.2 2764.8,2775.7 2769.1,2779.2 2773.3,2774.3 2777.5,2774.3 2781.7,2772.2 2785.9,2773.6 2790.2,2778.5 2794.4,2782.7 2798.6,2784.9 2802.8,2784.9"/>
<rect class="s" x="2001" y="2457" width="840" height="389"/>
<path class="s" d="M2039.2 2846v9.33M2144.7 2846v9.33M2250.1 2846v9.33M2355.6 2846v9.33M2461.1 2846v9.33M2566.6 2846v9.33M2672 2846v9.33M2777.5 2846v9.33M2001 2823.5h-9.33M2001 2753.2h-9.33M2001 2683h-9.33M2001 2612.7h-9.33M2001 2542.5h-9.33M2001 2472.2h-9.33"/>
<g font-size="29.9">
<text x="2039.2" y="2884.9" text-anchor="middle" textLength="17" lengthAdjust="spacingAndGlyphs">0</text>
<text x="2144.7" y="2884.9" text-anchor="middle" textLength="33.9" lengthAdjust="spacingAndGlyphs">25</text>
<text x="2250.1" y="2884.9" text-anchor="middle" textLength="33.9" lengthAdjust="spacingAndGlyphs">50</text>
<text x="2355.6" y="2884.9" text-anchor="middle" textLength="33.9" lengthAdjust="spacingAndGlyphs">75</text>
<text x="2461.1" y="2884.9" text-anchor="middle" textLength="50.9" lengthAdjust="spacingAndGlyphs">100</text>
<text x="2566.6" y="2884.9" text-anchor="middle" textLength="50.9" lengthAdjust="spacingAndGlyphs">125</text>
<text x="2672" y="2884.9" text-anchor="middle" textLength="50.9" lengthAdjust="spacingAndGlyphs">150</text>
<text x="2777.5" y="2884.9" text-anchor="middle" textLength="50.9" lengthAdjust="spacingAndGlyphs">175</text>
<text x="1981.5" y="2833.2" text-anchor="end" textLength="17" lengthAdjust="spacingAndGlyphs">0</text>
<text x="1981.5" y="2762.9" text-anchor="end" textLength="50.9" lengthAdjust="spacingAndGlyphs">100</text>
<text x="1981.5" y="2692.7" text-anchor="end" textLength="50.9" lengthAdjust="spacingAndGlyphs">200</text>
<text x="1981.5" y="2622.4" text-anchor="end" textLength="50.9" lengthAdjust="spacingAndGlyphs">300</text>
<text x="1981.5" y="2552.2" text-anchor="end" textLength="50.9" lengthAdjust="spacingAndGlyphs">400</text>
<text x="1981.5" y="2481.9" text-anchor="end" textLength="50.9" lengthAdjust="spacingAndGlyphs">500</text>
<text x="2421" y="2921.6" text-anchor="middle" textLength="66.6" lengthAdjust="spacingAndGlyphs">Days</text>
</g>
<text y="2441" font-size="33.6"><tspan x="2081.1" textLength="96.1" lengthAdjust="spacingAndGlyphs">Yuma,</tspan> <tspan x="2188.4" textLength="42.8" lengthAdjust="spacingAndGlyphs">AZ</tspan> <tspan x="2242.4" textLength="89.4" lengthAdjust="spacingAndGlyphs">RMSE</tspan> <tspan x="2342.9" textLength="87.2" lengthAdjust="spacingAndGlyphs">EnKF:</tspan> <tspan x="2441.3" textLength="80.4" lengthAdjust="spacingAndGlyphs">4.49,</tspan> <tspan x="2532.9" textLength="89.4" lengthAdjust="spacingAndGlyphs">RMSE</tspan> <tspan x="2633.4" textLength="45" lengthAdjust="spacingAndGlyphs">PF:</tspan> <tspan x="2689.6" textLength="70.3" lengthAdjust="spacingAndGlyphs">4.93</tspan></text>
<g transform="translate(2606.2,2467.3)">
<rect class="lf" x="0" y="0" width="224.6" height="160.4" rx="4.3"/>
<path class="l" stroke="#000" d="M8.5 17.3H51.2"/>
<path class="l" stroke="#ffa500" d="M8.5 48.3H51.2"/>
<rect class="b" fill="#00f" stroke="#00f" x="8.5" y="71.5" width="42.67" height="14.93"/>
<rect class="b" fill="#008000" stroke="#008000" x="8.5" y="102.4" width="42.67" height="14.93"/>
<path class="d" d="M29.9 142.1h0"/>
<text y="24.6" font-size="22.4"><tspan x="68.3" textLength="59.5" lengthAdjust="spacingAndGlyphs">mean</tspan> <tspan x="135.6" textLength="19.6" lengthAdjust="spacingAndGlyphs">of</tspan> <tspan x="162.9" textLength="52.3" lengthAdjust="spacingAndGlyphs">EnKF</tspan></text>
<text y="55.6" font-size="22.4"><tspan x="68.3" textLength="59.5" lengthAdjust="spacingAndGlyphs">mean</tspan> <tspan x="135.6" textLength="19.6" lengthAdjust="spacingAndGlyphs">of</tspan> <tspan x="162.9" textLength="24.1" lengthAdjust="spacingAndGlyphs">PF</tspan></text>
<text y="86.3" font-size="22.4"><tspan x="68.3" textLength="46.4" lengthAdjust="spacingAndGlyphs">95%</tspan> <tspan x="122.5" textLength="20.2" lengthAdjust="spacingAndGlyphs">CI</tspan> <tspan x="150.4" textLength="52.3" lengthAdjust="spacingAndGlyphs">EnKF</tspan></text>
<text y="117.1" font-size="22.4"><tspan x="68.3" textLength="46.4" lengthAdjust="spacingAndGlyphs">95%</tspan> <tspan x="122.5" textLength="20.2" lengthAdjust="spacingAndGlyphs">CI</tspan> <tspan x="150.4" textLength="24.1" lengthAdjust="spacingAndGlyphs">PF</tspan></text>
<text y="147.8" font-size="22.4"><tspan x="68.3" textLength="47.1" lengthAdjust="spacingAndGlyphs">data</tspan></text>
</g>
</g>
</svg></body></html>
